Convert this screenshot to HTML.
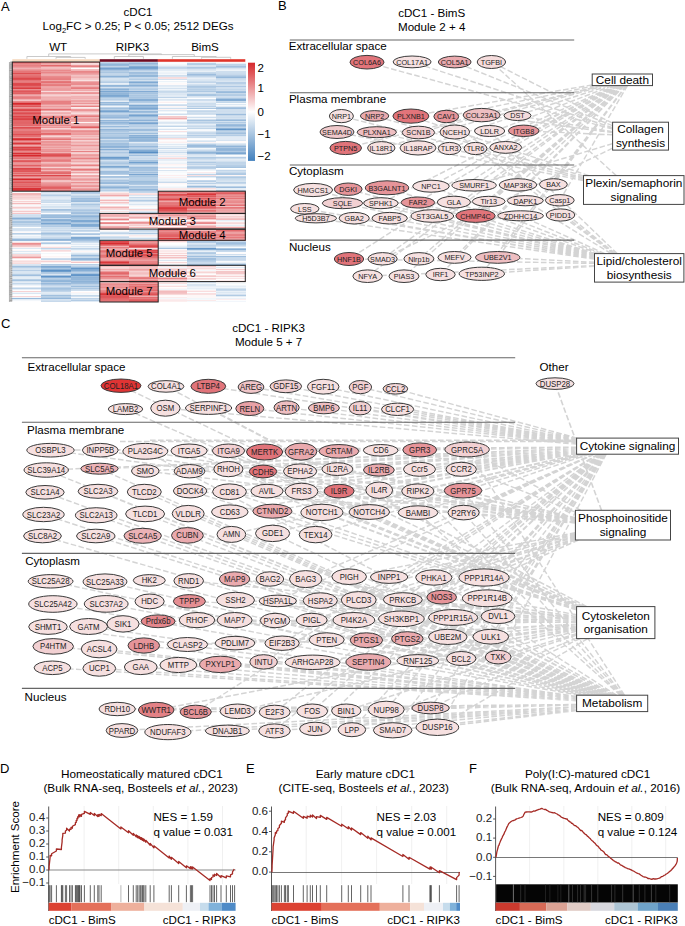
<!DOCTYPE html>
<html><head><meta charset="utf-8"><title>Figure</title>
<style>html,body{margin:0;padding:0;background:#fff;width:685px;height:926px;overflow:hidden;font-family:"Liberation Sans",sans-serif}svg{display:block}</style>
</head><body><svg width="685" height="926" viewBox="0 0 685 926" font-family='"Liberation Sans", sans-serif'><g shape-rendering="crispEdges"><rect x="12.30" y="62.00" width="29.42" height="0.8" fill="#df5558"/><rect x="41.42" y="62.00" width="29.43" height="0.8" fill="#e5787a"/><rect x="70.55" y="62.00" width="29.43" height="0.8" fill="#eb9799"/><rect x="99.67" y="62.00" width="29.43" height="0.8" fill="#c3d6ea"/><rect x="128.80" y="62.00" width="29.43" height="0.8" fill="#b8cfe6"/><rect x="157.93" y="62.00" width="29.43" height="0.8" fill="#f9fbfd"/><rect x="187.05" y="62.00" width="29.43" height="0.8" fill="#ecf2f8"/><rect x="216.18" y="62.00" width="29.43" height="0.8" fill="#fdf5f6"/><rect x="12.30" y="62.50" width="29.42" height="0.8" fill="#e26467"/><rect x="41.42" y="62.50" width="29.43" height="0.8" fill="#e88587"/><rect x="70.55" y="62.50" width="29.43" height="0.8" fill="#efabad"/><rect x="99.67" y="62.50" width="29.43" height="0.8" fill="#c0d4e9"/><rect x="128.80" y="62.50" width="29.43" height="0.8" fill="#adc8e2"/><rect x="157.93" y="62.50" width="29.43" height="0.8" fill="#f7fafc"/><rect x="187.05" y="62.50" width="29.43" height="0.8" fill="#dce7f3"/><rect x="216.18" y="62.50" width="29.43" height="0.8" fill="#fefbfb"/><rect x="12.30" y="63.00" width="29.42" height="0.8" fill="#e67c7f"/><rect x="41.42" y="63.00" width="29.43" height="0.8" fill="#ec999b"/><rect x="70.55" y="63.00" width="29.43" height="0.8" fill="#f8dbdc"/><rect x="99.67" y="63.00" width="29.43" height="0.8" fill="#a7c4e0"/><rect x="128.80" y="63.00" width="29.43" height="0.8" fill="#96b8da"/><rect x="157.93" y="63.00" width="29.43" height="0.8" fill="#fbfcfe"/><rect x="187.05" y="63.00" width="29.43" height="0.8" fill="#b9d0e6"/><rect x="216.18" y="63.00" width="29.43" height="0.8" fill="#e5eef6"/><rect x="12.30" y="63.50" width="29.42" height="0.8" fill="#e88587"/><rect x="41.42" y="63.50" width="29.43" height="0.8" fill="#efabac"/><rect x="70.55" y="63.50" width="29.43" height="0.8" fill="#fcf1f2"/><rect x="99.67" y="63.50" width="29.43" height="0.8" fill="#98badb"/><rect x="128.80" y="63.50" width="29.43" height="0.8" fill="#99badb"/><rect x="157.93" y="63.50" width="29.43" height="0.8" fill="#f9fbfd"/><rect x="187.05" y="63.50" width="29.43" height="0.8" fill="#a6c3e0"/><rect x="216.18" y="63.50" width="29.43" height="0.8" fill="#c6d9eb"/><rect x="12.30" y="64.00" width="29.42" height="0.8" fill="#e98c8e"/><rect x="41.42" y="64.00" width="29.43" height="0.8" fill="#efaaab"/><rect x="70.55" y="64.00" width="29.43" height="0.8" fill="#f7d6d7"/><rect x="99.67" y="64.00" width="29.43" height="0.8" fill="#92b6d9"/><rect x="128.80" y="64.00" width="29.43" height="0.8" fill="#a8c5e1"/><rect x="157.93" y="64.00" width="29.43" height="0.8" fill="#f3f7fb"/><rect x="187.05" y="64.00" width="29.43" height="0.8" fill="#b4cde5"/><rect x="216.18" y="64.00" width="29.43" height="0.8" fill="#bfd4e9"/><rect x="12.30" y="64.50" width="29.42" height="0.8" fill="#e78385"/><rect x="41.42" y="64.50" width="29.43" height="0.8" fill="#e98a8d"/><rect x="70.55" y="64.50" width="29.43" height="0.8" fill="#f3bfc0"/><rect x="99.67" y="64.50" width="29.43" height="0.8" fill="#97b9db"/><rect x="128.80" y="64.50" width="29.43" height="0.8" fill="#bcd2e7"/><rect x="157.93" y="64.50" width="29.43" height="0.8" fill="#e5edf6"/><rect x="187.05" y="64.50" width="29.43" height="0.8" fill="#cfdeee"/><rect x="216.18" y="64.50" width="29.43" height="0.8" fill="#c5d8eb"/><rect x="12.30" y="65.00" width="29.42" height="0.8" fill="#e78082"/><rect x="41.42" y="65.00" width="29.43" height="0.8" fill="#e2696c"/><rect x="70.55" y="65.00" width="29.43" height="0.8" fill="#eb989a"/><rect x="99.67" y="65.00" width="29.43" height="0.8" fill="#9abbdc"/><rect x="128.80" y="65.00" width="29.43" height="0.8" fill="#b4cde5"/><rect x="157.93" y="65.00" width="29.43" height="0.8" fill="#ecf2f8"/><rect x="187.05" y="65.00" width="29.43" height="0.8" fill="#d9e5f2"/><rect x="216.18" y="65.00" width="29.43" height="0.8" fill="#c1d5e9"/><rect x="12.30" y="65.50" width="29.42" height="0.8" fill="#e78183"/><rect x="41.42" y="65.50" width="29.43" height="0.8" fill="#e57678"/><rect x="70.55" y="65.50" width="29.43" height="0.8" fill="#e78285"/><rect x="99.67" y="65.50" width="29.43" height="0.8" fill="#a8c5e1"/><rect x="128.80" y="65.50" width="29.43" height="0.8" fill="#9ebedd"/><rect x="157.93" y="65.50" width="29.43" height="0.8" fill="#e3ecf5"/><rect x="187.05" y="65.50" width="29.43" height="0.8" fill="#d8e5f1"/><rect x="216.18" y="65.50" width="29.43" height="0.8" fill="#a7c4e0"/><rect x="12.30" y="66.00" width="29.42" height="0.8" fill="#e9898c"/><rect x="41.42" y="66.00" width="29.43" height="0.8" fill="#ea9395"/><rect x="70.55" y="66.00" width="29.43" height="0.8" fill="#e78082"/><rect x="99.67" y="66.00" width="29.43" height="0.8" fill="#c0d4e9"/><rect x="128.80" y="66.00" width="29.43" height="0.8" fill="#87afd5"/><rect x="157.93" y="66.00" width="29.43" height="0.8" fill="#d8e5f1"/><rect x="187.05" y="66.00" width="29.43" height="0.8" fill="#d5e3f1"/><rect x="216.18" y="66.00" width="29.43" height="0.8" fill="#a3c1df"/><rect x="12.30" y="66.50" width="29.42" height="0.8" fill="#eb9698"/><rect x="41.42" y="66.50" width="29.43" height="0.8" fill="#f0b3b4"/><rect x="70.55" y="66.50" width="29.43" height="0.8" fill="#ec9b9d"/><rect x="99.67" y="66.50" width="29.43" height="0.8" fill="#b7cfe6"/><rect x="128.80" y="66.50" width="29.43" height="0.8" fill="#7aa6d1"/><rect x="157.93" y="66.50" width="29.43" height="0.8" fill="#c8daec"/><rect x="187.05" y="66.50" width="29.43" height="0.8" fill="#bed4e8"/><rect x="216.18" y="66.50" width="29.43" height="0.8" fill="#b1cbe4"/><rect x="12.30" y="67.00" width="29.42" height="0.8" fill="#ec9c9e"/><rect x="41.42" y="67.00" width="29.43" height="0.8" fill="#f3bec0"/><rect x="70.55" y="67.00" width="29.43" height="0.8" fill="#f4c7c8"/><rect x="99.67" y="67.00" width="29.43" height="0.8" fill="#9bbcdc"/><rect x="128.80" y="67.00" width="29.43" height="0.8" fill="#72a1ce"/><rect x="157.93" y="67.00" width="29.43" height="0.8" fill="#c1d5e9"/><rect x="187.05" y="67.00" width="29.43" height="0.8" fill="#aec8e3"/><rect x="216.18" y="67.00" width="29.43" height="0.8" fill="#b4cde5"/><rect x="12.30" y="67.50" width="29.42" height="0.8" fill="#ec9c9e"/><rect x="41.42" y="67.50" width="29.43" height="0.8" fill="#f2babb"/><rect x="70.55" y="67.50" width="29.43" height="0.8" fill="#fbebeb"/><rect x="99.67" y="67.50" width="29.43" height="0.8" fill="#86add5"/><rect x="128.80" y="67.50" width="29.43" height="0.8" fill="#71a0cd"/><rect x="157.93" y="67.50" width="29.43" height="0.8" fill="#cadbec"/><rect x="187.05" y="67.50" width="29.43" height="0.8" fill="#acc7e2"/><rect x="216.18" y="67.50" width="29.43" height="0.8" fill="#c5d8eb"/><rect x="12.30" y="68.00" width="29.42" height="0.8" fill="#f0b2b4"/><rect x="41.42" y="68.00" width="29.43" height="0.8" fill="#f2bbbc"/><rect x="70.55" y="68.00" width="29.43" height="0.8" fill="#fefbfb"/><rect x="99.67" y="68.00" width="29.43" height="0.8" fill="#74a1ce"/><rect x="128.80" y="68.00" width="29.43" height="0.8" fill="#77a4d0"/><rect x="157.93" y="68.00" width="29.43" height="0.8" fill="#c4d7ea"/><rect x="187.05" y="68.00" width="29.43" height="0.8" fill="#bbd1e7"/><rect x="216.18" y="68.00" width="29.43" height="0.8" fill="#d7e4f1"/><rect x="12.30" y="68.50" width="29.42" height="0.8" fill="#f0afb0"/><rect x="41.42" y="68.50" width="29.43" height="0.8" fill="#f2babb"/><rect x="70.55" y="68.50" width="29.43" height="0.8" fill="#f8dddd"/><rect x="99.67" y="68.50" width="29.43" height="0.8" fill="#81aad3"/><rect x="128.80" y="68.50" width="29.43" height="0.8" fill="#87aed5"/><rect x="157.93" y="68.50" width="29.43" height="0.8" fill="#cfdfee"/><rect x="187.05" y="68.50" width="29.43" height="0.8" fill="#ccdded"/><rect x="216.18" y="68.50" width="29.43" height="0.8" fill="#dae6f2"/><rect x="12.30" y="69.00" width="29.42" height="0.8" fill="#ec9a9c"/><rect x="41.42" y="69.00" width="29.43" height="0.8" fill="#eea6a8"/><rect x="70.55" y="69.00" width="29.43" height="0.8" fill="#f3bebf"/><rect x="99.67" y="69.00" width="29.43" height="0.8" fill="#8ab0d6"/><rect x="128.80" y="69.00" width="29.43" height="0.8" fill="#9abbdc"/><rect x="157.93" y="69.00" width="29.43" height="0.8" fill="#dee9f3"/><rect x="187.05" y="69.00" width="29.43" height="0.8" fill="#d6e3f1"/><rect x="216.18" y="69.00" width="29.43" height="0.8" fill="#e5eef6"/><rect x="12.30" y="69.50" width="29.42" height="0.8" fill="#e98b8d"/><rect x="41.42" y="69.50" width="29.43" height="0.8" fill="#ec999b"/><rect x="70.55" y="69.50" width="29.43" height="0.8" fill="#f2b9ba"/><rect x="99.67" y="69.50" width="29.43" height="0.8" fill="#91b5d8"/><rect x="128.80" y="69.50" width="29.43" height="0.8" fill="#9ebedd"/><rect x="157.93" y="69.50" width="29.43" height="0.8" fill="#e5eef6"/><rect x="187.05" y="69.50" width="29.43" height="0.8" fill="#cadbec"/><rect x="216.18" y="69.50" width="29.43" height="0.8" fill="#edf3f9"/><rect x="12.30" y="70.00" width="29.42" height="0.8" fill="#e8898b"/><rect x="41.42" y="70.00" width="29.43" height="0.8" fill="#e98a8c"/><rect x="70.55" y="70.00" width="29.43" height="0.8" fill="#f1b4b5"/><rect x="99.67" y="70.00" width="29.43" height="0.8" fill="#abc6e2"/><rect x="128.80" y="70.00" width="29.43" height="0.8" fill="#bad0e7"/><rect x="157.93" y="70.00" width="29.43" height="0.8" fill="#e2ecf5"/><rect x="187.05" y="70.00" width="29.43" height="0.8" fill="#dee9f3"/><rect x="216.18" y="70.00" width="29.43" height="0.8" fill="#eef4f9"/><rect x="12.30" y="70.50" width="29.42" height="0.8" fill="#e5777a"/><rect x="41.42" y="70.50" width="29.43" height="0.8" fill="#ea9092"/><rect x="70.55" y="70.50" width="29.43" height="0.8" fill="#ec9c9e"/><rect x="99.67" y="70.50" width="29.43" height="0.8" fill="#b5cde5"/><rect x="128.80" y="70.50" width="29.43" height="0.8" fill="#d1e0ef"/><rect x="157.93" y="70.50" width="29.43" height="0.8" fill="#eef4f9"/><rect x="187.05" y="70.50" width="29.43" height="0.8" fill="#e8eff7"/><rect x="216.18" y="70.50" width="29.43" height="0.8" fill="#d9e6f2"/><rect x="12.30" y="71.00" width="29.42" height="0.8" fill="#e57678"/><rect x="41.42" y="71.00" width="29.43" height="0.8" fill="#ec9a9c"/><rect x="70.55" y="71.00" width="29.43" height="0.8" fill="#e88688"/><rect x="99.67" y="71.00" width="29.43" height="0.8" fill="#b6cee5"/><rect x="128.80" y="71.00" width="29.43" height="0.8" fill="#c9dbec"/><rect x="157.93" y="71.00" width="29.43" height="0.8" fill="#f5f8fb"/><rect x="187.05" y="71.00" width="29.43" height="0.8" fill="#e8f0f7"/><rect x="216.18" y="71.00" width="29.43" height="0.8" fill="#cedeee"/><rect x="12.30" y="71.50" width="29.42" height="0.8" fill="#e67e80"/><rect x="41.42" y="71.50" width="29.43" height="0.8" fill="#eb9496"/><rect x="70.55" y="71.50" width="29.43" height="0.8" fill="#e98d90"/><rect x="99.67" y="71.50" width="29.43" height="0.8" fill="#a9c5e1"/><rect x="128.80" y="71.50" width="29.43" height="0.8" fill="#a5c3e0"/><rect x="157.93" y="71.50" width="29.43" height="0.8" fill="#ecf3f9"/><rect x="187.05" y="71.50" width="29.43" height="0.8" fill="#dee9f3"/><rect x="216.18" y="71.50" width="29.43" height="0.8" fill="#c6d9eb"/><rect x="12.30" y="72.00" width="29.42" height="0.8" fill="#e57578"/><rect x="41.42" y="72.00" width="29.43" height="0.8" fill="#e88688"/><rect x="70.55" y="72.00" width="29.43" height="0.8" fill="#e98c8e"/><rect x="99.67" y="72.00" width="29.43" height="0.8" fill="#aac6e1"/><rect x="128.80" y="72.00" width="29.43" height="0.8" fill="#9fbedd"/><rect x="157.93" y="72.00" width="29.43" height="0.8" fill="#eef4f9"/><rect x="187.05" y="72.00" width="29.43" height="0.8" fill="#c6d9eb"/><rect x="216.18" y="72.00" width="29.43" height="0.8" fill="#cddeee"/><rect x="12.30" y="72.50" width="29.42" height="0.8" fill="#e15f62"/><rect x="41.42" y="72.50" width="29.43" height="0.8" fill="#e98b8d"/><rect x="70.55" y="72.50" width="29.43" height="0.8" fill="#ec9c9e"/><rect x="99.67" y="72.50" width="29.43" height="0.8" fill="#bad0e7"/><rect x="128.80" y="72.50" width="29.43" height="0.8" fill="#9dbddd"/><rect x="157.93" y="72.50" width="29.43" height="0.8" fill="#eef4f9"/><rect x="187.05" y="72.50" width="29.43" height="0.8" fill="#bdd3e8"/><rect x="216.18" y="72.50" width="29.43" height="0.8" fill="#c3d6ea"/><rect x="12.30" y="73.00" width="29.42" height="0.8" fill="#dd4f52"/><rect x="41.42" y="73.00" width="29.43" height="0.8" fill="#ec9b9d"/><rect x="70.55" y="73.00" width="29.43" height="0.8" fill="#ec9a9c"/><rect x="99.67" y="73.00" width="29.43" height="0.8" fill="#c2d6ea"/><rect x="128.80" y="73.00" width="29.43" height="0.8" fill="#a3c1df"/><rect x="157.93" y="73.00" width="29.43" height="0.8" fill="#ebf1f8"/><rect x="187.05" y="73.00" width="29.43" height="0.8" fill="#bdd3e8"/><rect x="216.18" y="73.00" width="29.43" height="0.8" fill="#cbdced"/><rect x="12.30" y="73.50" width="29.42" height="0.8" fill="#e16063"/><rect x="41.42" y="73.50" width="29.43" height="0.8" fill="#eda3a4"/><rect x="70.55" y="73.50" width="29.43" height="0.8" fill="#eb989a"/><rect x="99.67" y="73.50" width="29.43" height="0.8" fill="#c7daec"/><rect x="128.80" y="73.50" width="29.43" height="0.8" fill="#b0cae3"/><rect x="157.93" y="73.50" width="29.43" height="0.8" fill="#eff4fa"/><rect x="187.05" y="73.50" width="29.43" height="0.8" fill="#abc7e2"/><rect x="216.18" y="73.50" width="29.43" height="0.8" fill="#d5e3f0"/><rect x="12.30" y="74.00" width="29.42" height="0.8" fill="#e57779"/><rect x="41.42" y="74.00" width="29.43" height="0.8" fill="#efacad"/><rect x="70.55" y="74.00" width="29.43" height="0.8" fill="#eea7a9"/><rect x="99.67" y="74.00" width="29.43" height="0.8" fill="#c3d7ea"/><rect x="128.80" y="74.00" width="29.43" height="0.8" fill="#b3cce5"/><rect x="157.93" y="74.00" width="29.43" height="0.8" fill="#f5f8fb"/><rect x="187.05" y="74.00" width="29.43" height="0.8" fill="#9dbddd"/><rect x="216.18" y="74.00" width="29.43" height="0.8" fill="#c7d9eb"/><rect x="12.30" y="74.50" width="29.42" height="0.8" fill="#e88688"/><rect x="41.42" y="74.50" width="29.43" height="0.8" fill="#eea8a9"/><rect x="70.55" y="74.50" width="29.43" height="0.8" fill="#f1b4b6"/><rect x="99.67" y="74.50" width="29.43" height="0.8" fill="#c2d6ea"/><rect x="128.80" y="74.50" width="29.43" height="0.8" fill="#afc9e3"/><rect x="157.93" y="74.50" width="29.43" height="0.8" fill="#eef3f9"/><rect x="187.05" y="74.50" width="29.43" height="0.8" fill="#9dbddd"/><rect x="216.18" y="74.50" width="29.43" height="0.8" fill="#aec8e3"/><rect x="12.30" y="75.00" width="29.42" height="0.8" fill="#e47375"/><rect x="41.42" y="75.00" width="29.43" height="0.8" fill="#efa9aa"/><rect x="70.55" y="75.00" width="29.43" height="0.8" fill="#f3c2c3"/><rect x="99.67" y="75.00" width="29.43" height="0.8" fill="#b6cee5"/><rect x="128.80" y="75.00" width="29.43" height="0.8" fill="#93b7d9"/><rect x="157.93" y="75.00" width="29.43" height="0.8" fill="#cfdfee"/><rect x="187.05" y="75.00" width="29.43" height="0.8" fill="#afc9e3"/><rect x="216.18" y="75.00" width="29.43" height="0.8" fill="#b7cee6"/><rect x="12.30" y="75.50" width="29.42" height="0.8" fill="#e36c6e"/><rect x="41.42" y="75.50" width="29.43" height="0.8" fill="#ec999b"/><rect x="70.55" y="75.50" width="29.43" height="0.8" fill="#f4c6c7"/><rect x="99.67" y="75.50" width="29.43" height="0.8" fill="#9abbdc"/><rect x="128.80" y="75.50" width="29.43" height="0.8" fill="#91b5d9"/><rect x="157.93" y="75.50" width="29.43" height="0.8" fill="#cadbec"/><rect x="187.05" y="75.50" width="29.43" height="0.8" fill="#b4cde5"/><rect x="216.18" y="75.50" width="29.43" height="0.8" fill="#bed3e8"/><rect x="12.30" y="76.00" width="29.42" height="0.8" fill="#e36b6e"/><rect x="41.42" y="76.00" width="29.43" height="0.8" fill="#e98c8e"/><rect x="70.55" y="76.00" width="29.43" height="0.8" fill="#f2b9ba"/><rect x="99.67" y="76.00" width="29.43" height="0.8" fill="#8cb2d7"/><rect x="128.80" y="76.00" width="29.43" height="0.8" fill="#95b8da"/><rect x="157.93" y="76.00" width="29.43" height="0.8" fill="#d7e4f1"/><rect x="187.05" y="76.00" width="29.43" height="0.8" fill="#c3d7ea"/><rect x="216.18" y="76.00" width="29.43" height="0.8" fill="#a7c4e0"/><rect x="12.30" y="76.50" width="29.42" height="0.8" fill="#e2696c"/><rect x="41.42" y="76.50" width="29.43" height="0.8" fill="#e78486"/><rect x="70.55" y="76.50" width="29.43" height="0.8" fill="#eda0a2"/><rect x="99.67" y="76.50" width="29.43" height="0.8" fill="#93b7d9"/><rect x="128.80" y="76.50" width="29.43" height="0.8" fill="#b2cce4"/><rect x="157.93" y="76.50" width="29.43" height="0.8" fill="#fafcfd"/><rect x="187.05" y="76.50" width="29.43" height="0.8" fill="#cedeee"/><rect x="216.18" y="76.50" width="29.43" height="0.8" fill="#91b5d9"/><rect x="12.30" y="77.00" width="29.42" height="0.8" fill="#e16164"/><rect x="41.42" y="77.00" width="29.43" height="0.8" fill="#e88587"/><rect x="70.55" y="77.00" width="29.43" height="0.8" fill="#f0b2b3"/><rect x="99.67" y="77.00" width="29.43" height="0.8" fill="#b1cbe4"/><rect x="128.80" y="77.00" width="29.43" height="0.8" fill="#c9daec"/><rect x="157.93" y="77.00" width="29.43" height="0.8" fill="#f8dcdd"/><rect x="187.05" y="77.00" width="29.43" height="0.8" fill="#d9e5f2"/><rect x="216.18" y="77.00" width="29.43" height="0.8" fill="#96b8da"/><rect x="12.30" y="77.50" width="29.42" height="0.8" fill="#df5559"/><rect x="41.42" y="77.50" width="29.43" height="0.8" fill="#ea9294"/><rect x="70.55" y="77.50" width="29.43" height="0.8" fill="#f6d1d1"/><rect x="99.67" y="77.50" width="29.43" height="0.8" fill="#c6d9eb"/><rect x="128.80" y="77.50" width="29.43" height="0.8" fill="#d7e4f1"/><rect x="157.93" y="77.50" width="29.43" height="0.8" fill="#f6d0d1"/><rect x="187.05" y="77.50" width="29.43" height="0.8" fill="#dde8f3"/><rect x="216.18" y="77.50" width="29.43" height="0.8" fill="#b3cce4"/><rect x="12.30" y="78.00" width="29.42" height="0.8" fill="#dc484b"/><rect x="41.42" y="78.00" width="29.43" height="0.8" fill="#e78082"/><rect x="70.55" y="78.00" width="29.43" height="0.8" fill="#f4c7c8"/><rect x="99.67" y="78.00" width="29.43" height="0.8" fill="#d7e4f1"/><rect x="128.80" y="78.00" width="29.43" height="0.8" fill="#c2d6ea"/><rect x="157.93" y="78.00" width="29.43" height="0.8" fill="#f9e1e2"/><rect x="187.05" y="78.00" width="29.43" height="0.8" fill="#e9f0f7"/><rect x="216.18" y="78.00" width="29.43" height="0.8" fill="#c4d8eb"/><rect x="12.30" y="78.50" width="29.42" height="0.8" fill="#dd4d51"/><rect x="41.42" y="78.50" width="29.43" height="0.8" fill="#e47274"/><rect x="70.55" y="78.50" width="29.43" height="0.8" fill="#f3c0c2"/><rect x="99.67" y="78.50" width="29.43" height="0.8" fill="#dfeaf4"/><rect x="128.80" y="78.50" width="29.43" height="0.8" fill="#aec9e3"/><rect x="157.93" y="78.50" width="29.43" height="0.8" fill="#f3f7fb"/><rect x="187.05" y="78.50" width="29.43" height="0.8" fill="#e7eff7"/><rect x="216.18" y="78.50" width="29.43" height="0.8" fill="#c5d8eb"/><rect x="12.30" y="79.00" width="29.42" height="0.8" fill="#dd4f52"/><rect x="41.42" y="79.00" width="29.43" height="0.8" fill="#e67e80"/><rect x="70.55" y="79.00" width="29.43" height="0.8" fill="#f5cccd"/><rect x="99.67" y="79.00" width="29.43" height="0.8" fill="#d5e3f0"/><rect x="128.80" y="79.00" width="29.43" height="0.8" fill="#b3cce4"/><rect x="157.93" y="79.00" width="29.43" height="0.8" fill="#d3e1f0"/><rect x="187.05" y="79.00" width="29.43" height="0.8" fill="#dde8f3"/><rect x="216.18" y="79.00" width="29.43" height="0.8" fill="#cddded"/><rect x="12.30" y="79.50" width="29.42" height="0.8" fill="#e16366"/><rect x="41.42" y="79.50" width="29.43" height="0.8" fill="#eda3a5"/><rect x="70.55" y="79.50" width="29.43" height="0.8" fill="#f8dbdc"/><rect x="99.67" y="79.50" width="29.43" height="0.8" fill="#ccdded"/><rect x="128.80" y="79.50" width="29.43" height="0.8" fill="#c9daec"/><rect x="157.93" y="79.50" width="29.43" height="0.8" fill="#e9f0f7"/><rect x="187.05" y="79.50" width="29.43" height="0.8" fill="#d8e5f1"/><rect x="216.18" y="79.50" width="29.43" height="0.8" fill="#dae6f2"/><rect x="12.30" y="80.00" width="29.42" height="0.8" fill="#e47477"/><rect x="41.42" y="80.00" width="29.43" height="0.8" fill="#eea8a9"/><rect x="70.55" y="80.00" width="29.43" height="0.8" fill="#f9e2e2"/><rect x="99.67" y="80.00" width="29.43" height="0.8" fill="#cfdfee"/><rect x="128.80" y="80.00" width="29.43" height="0.8" fill="#d2e1ef"/><rect x="157.93" y="80.00" width="29.43" height="0.8" fill="#fffefe"/><rect x="187.05" y="80.00" width="29.43" height="0.8" fill="#d9e6f2"/><rect x="216.18" y="80.00" width="29.43" height="0.8" fill="#d3e2f0"/><rect x="12.30" y="80.50" width="29.42" height="0.8" fill="#e67b7e"/><rect x="41.42" y="80.50" width="29.43" height="0.8" fill="#eb9698"/><rect x="70.55" y="80.50" width="29.43" height="0.8" fill="#f5cccd"/><rect x="99.67" y="80.50" width="29.43" height="0.8" fill="#c4d8eb"/><rect x="128.80" y="80.50" width="29.43" height="0.8" fill="#c4d8eb"/><rect x="157.93" y="80.50" width="29.43" height="0.8" fill="#fcfdfe"/><rect x="187.05" y="80.50" width="29.43" height="0.8" fill="#d1e0ef"/><rect x="216.18" y="80.50" width="29.43" height="0.8" fill="#cedeee"/><rect x="12.30" y="81.00" width="29.42" height="0.8" fill="#e77f81"/><rect x="41.42" y="81.00" width="29.43" height="0.8" fill="#e5797b"/><rect x="70.55" y="81.00" width="29.43" height="0.8" fill="#efacad"/><rect x="99.67" y="81.00" width="29.43" height="0.8" fill="#bfd4e8"/><rect x="128.80" y="81.00" width="29.43" height="0.8" fill="#a3c1df"/><rect x="157.93" y="81.00" width="29.43" height="0.8" fill="#ecf3f9"/><rect x="187.05" y="81.00" width="29.43" height="0.8" fill="#cbdced"/><rect x="216.18" y="81.00" width="29.43" height="0.8" fill="#dae6f2"/><rect x="12.30" y="81.50" width="29.42" height="0.8" fill="#e5797b"/><rect x="41.42" y="81.50" width="29.43" height="0.8" fill="#e46f72"/><rect x="70.55" y="81.50" width="29.43" height="0.8" fill="#eb9597"/><rect x="99.67" y="81.50" width="29.43" height="0.8" fill="#bdd3e8"/><rect x="128.80" y="81.50" width="29.43" height="0.8" fill="#8ab1d6"/><rect x="157.93" y="81.50" width="29.43" height="0.8" fill="#f5f8fc"/><rect x="187.05" y="81.50" width="29.43" height="0.8" fill="#c5d8eb"/><rect x="216.18" y="81.50" width="29.43" height="0.8" fill="#dae6f2"/><rect x="12.30" y="82.00" width="29.42" height="0.8" fill="#e5787a"/><rect x="41.42" y="82.00" width="29.43" height="0.8" fill="#e47174"/><rect x="70.55" y="82.00" width="29.43" height="0.8" fill="#ea9193"/><rect x="99.67" y="82.00" width="29.43" height="0.8" fill="#b5cde5"/><rect x="128.80" y="82.00" width="29.43" height="0.8" fill="#7fa9d2"/><rect x="157.93" y="82.00" width="29.43" height="0.8" fill="#fafcfd"/><rect x="187.05" y="82.00" width="29.43" height="0.8" fill="#c2d6ea"/><rect x="216.18" y="82.00" width="29.43" height="0.8" fill="#b7cee6"/><rect x="12.30" y="82.50" width="29.42" height="0.8" fill="#e16366"/><rect x="41.42" y="82.50" width="29.43" height="0.8" fill="#e67b7d"/><rect x="70.55" y="82.50" width="29.43" height="0.8" fill="#ec9b9d"/><rect x="99.67" y="82.50" width="29.43" height="0.8" fill="#c2d6ea"/><rect x="128.80" y="82.50" width="29.43" height="0.8" fill="#8bb1d7"/><rect x="157.93" y="82.50" width="29.43" height="0.8" fill="#fefeff"/><rect x="187.05" y="82.50" width="29.43" height="0.8" fill="#c7d9eb"/><rect x="216.18" y="82.50" width="29.43" height="0.8" fill="#a6c3e0"/><rect x="12.30" y="83.00" width="29.42" height="0.8" fill="#dd4b4e"/><rect x="41.42" y="83.00" width="29.43" height="0.8" fill="#eb9698"/><rect x="70.55" y="83.00" width="29.43" height="0.8" fill="#e98d8f"/><rect x="99.67" y="83.00" width="29.43" height="0.8" fill="#e8eff7"/><rect x="128.80" y="83.00" width="29.43" height="0.8" fill="#b0cae4"/><rect x="157.93" y="83.00" width="29.43" height="0.8" fill="#fef9f9"/><rect x="187.05" y="83.00" width="29.43" height="0.8" fill="#e8eff7"/><rect x="216.18" y="83.00" width="29.43" height="0.8" fill="#b8cfe6"/><rect x="12.30" y="83.50" width="29.42" height="0.8" fill="#dc474a"/><rect x="41.42" y="83.50" width="29.43" height="0.8" fill="#eb9799"/><rect x="70.55" y="83.50" width="29.43" height="0.8" fill="#e88688"/><rect x="99.67" y="83.50" width="29.43" height="0.8" fill="#fafcfd"/><rect x="128.80" y="83.50" width="29.43" height="0.8" fill="#c5d8eb"/><rect x="157.93" y="83.50" width="29.43" height="0.8" fill="#fef8f8"/><rect x="187.05" y="83.50" width="29.43" height="0.8" fill="#e4edf6"/><rect x="216.18" y="83.50" width="29.43" height="0.8" fill="#c9dbec"/><rect x="12.30" y="84.00" width="29.42" height="0.8" fill="#dc484c"/><rect x="41.42" y="84.00" width="29.43" height="0.8" fill="#e78082"/><rect x="70.55" y="84.00" width="29.43" height="0.8" fill="#e98c8e"/><rect x="99.67" y="84.00" width="29.43" height="0.8" fill="#dee9f3"/><rect x="128.80" y="84.00" width="29.43" height="0.8" fill="#adc8e2"/><rect x="157.93" y="84.00" width="29.43" height="0.8" fill="#fefafa"/><rect x="187.05" y="84.00" width="29.43" height="0.8" fill="#d3e2f0"/><rect x="216.18" y="84.00" width="29.43" height="0.8" fill="#ccdded"/><rect x="12.30" y="84.50" width="29.42" height="0.8" fill="#dc474a"/><rect x="41.42" y="84.50" width="29.43" height="0.8" fill="#e26568"/><rect x="70.55" y="84.50" width="29.43" height="0.8" fill="#ec9b9d"/><rect x="99.67" y="84.50" width="29.43" height="0.8" fill="#b8cfe6"/><rect x="128.80" y="84.50" width="29.43" height="0.8" fill="#90b5d8"/><rect x="157.93" y="84.50" width="29.43" height="0.8" fill="#fbfcfe"/><rect x="187.05" y="84.50" width="29.43" height="0.8" fill="#c1d5e9"/><rect x="216.18" y="84.50" width="29.43" height="0.8" fill="#ccdded"/><rect x="12.30" y="85.00" width="29.42" height="0.8" fill="#dd4f52"/><rect x="41.42" y="85.00" width="29.43" height="0.8" fill="#e67b7d"/><rect x="70.55" y="85.00" width="29.43" height="0.8" fill="#f2babb"/><rect x="99.67" y="85.00" width="29.43" height="0.8" fill="#92b6d9"/><rect x="128.80" y="85.00" width="29.43" height="0.8" fill="#8ab0d6"/><rect x="157.93" y="85.00" width="29.43" height="0.8" fill="#dfe9f4"/><rect x="187.05" y="85.00" width="29.43" height="0.8" fill="#c5d8eb"/><rect x="216.18" y="85.00" width="29.43" height="0.8" fill="#d1e0ef"/><rect x="12.30" y="85.50" width="29.42" height="0.8" fill="#e16063"/><rect x="41.42" y="85.50" width="29.43" height="0.8" fill="#ec9d9f"/><rect x="70.55" y="85.50" width="29.43" height="0.8" fill="#f4c6c7"/><rect x="99.67" y="85.50" width="29.43" height="0.8" fill="#90b4d8"/><rect x="128.80" y="85.50" width="29.43" height="0.8" fill="#94b7da"/><rect x="157.93" y="85.50" width="29.43" height="0.8" fill="#d2e1ef"/><rect x="187.05" y="85.50" width="29.43" height="0.8" fill="#bdd3e8"/><rect x="216.18" y="85.50" width="29.43" height="0.8" fill="#b4cde5"/><rect x="12.30" y="86.00" width="29.42" height="0.8" fill="#e36a6d"/><rect x="41.42" y="86.00" width="29.43" height="0.8" fill="#eea4a5"/><rect x="70.55" y="86.00" width="29.43" height="0.8" fill="#f0aeaf"/><rect x="99.67" y="86.00" width="29.43" height="0.8" fill="#9dbddd"/><rect x="128.80" y="86.00" width="29.43" height="0.8" fill="#a6c3e0"/><rect x="157.93" y="86.00" width="29.43" height="0.8" fill="#e2ecf5"/><rect x="187.05" y="86.00" width="29.43" height="0.8" fill="#adc8e2"/><rect x="216.18" y="86.00" width="29.43" height="0.8" fill="#aec8e3"/><rect x="12.30" y="86.50" width="29.42" height="0.8" fill="#e47376"/><rect x="41.42" y="86.50" width="29.43" height="0.8" fill="#efadaf"/><rect x="70.55" y="86.50" width="29.43" height="0.8" fill="#eb9799"/><rect x="99.67" y="86.50" width="29.43" height="0.8" fill="#bad1e7"/><rect x="128.80" y="86.50" width="29.43" height="0.8" fill="#b8cfe6"/><rect x="157.93" y="86.50" width="29.43" height="0.8" fill="#f6f9fc"/><rect x="187.05" y="86.50" width="29.43" height="0.8" fill="#a4c2df"/><rect x="216.18" y="86.50" width="29.43" height="0.8" fill="#b7cfe6"/><rect x="12.30" y="87.00" width="29.42" height="0.8" fill="#df5659"/><rect x="41.42" y="87.00" width="29.43" height="0.8" fill="#eea7a9"/><rect x="70.55" y="87.00" width="29.43" height="0.8" fill="#e88689"/><rect x="99.67" y="87.00" width="29.43" height="0.8" fill="#d4e2f0"/><rect x="128.80" y="87.00" width="29.43" height="0.8" fill="#cadbed"/><rect x="157.93" y="87.00" width="29.43" height="0.8" fill="#edf3f9"/><rect x="187.05" y="87.00" width="29.43" height="0.8" fill="#b3cce5"/><rect x="216.18" y="87.00" width="29.43" height="0.8" fill="#d0dfef"/><rect x="12.30" y="87.50" width="29.42" height="0.8" fill="#db4548"/><rect x="41.42" y="87.50" width="29.43" height="0.8" fill="#f1b6b8"/><rect x="70.55" y="87.50" width="29.43" height="0.8" fill="#e67c7e"/><rect x="99.67" y="87.50" width="29.43" height="0.8" fill="#c6d8eb"/><rect x="128.80" y="87.50" width="29.43" height="0.8" fill="#c8daec"/><rect x="157.93" y="87.50" width="29.43" height="0.8" fill="#d9e5f2"/><rect x="187.05" y="87.50" width="29.43" height="0.8" fill="#bdd3e8"/><rect x="216.18" y="87.50" width="29.43" height="0.8" fill="#c8daec"/><rect x="12.30" y="88.00" width="29.42" height="0.8" fill="#da3e41"/><rect x="41.42" y="88.00" width="29.43" height="0.8" fill="#ed9ea0"/><rect x="70.55" y="88.00" width="29.43" height="0.8" fill="#e67c7e"/><rect x="99.67" y="88.00" width="29.43" height="0.8" fill="#a9c5e1"/><rect x="128.80" y="88.00" width="29.43" height="0.8" fill="#b9d0e7"/><rect x="157.93" y="88.00" width="29.43" height="0.8" fill="#d4e2f0"/><rect x="187.05" y="88.00" width="29.43" height="0.8" fill="#c3d7ea"/><rect x="216.18" y="88.00" width="29.43" height="0.8" fill="#d0e0ef"/><rect x="12.30" y="88.50" width="29.42" height="0.8" fill="#e57679"/><rect x="41.42" y="88.50" width="29.43" height="0.8" fill="#eb9799"/><rect x="70.55" y="88.50" width="29.43" height="0.8" fill="#eda0a1"/><rect x="99.67" y="88.50" width="29.43" height="0.8" fill="#89b0d6"/><rect x="128.80" y="88.50" width="29.43" height="0.8" fill="#a5c3e0"/><rect x="157.93" y="88.50" width="29.43" height="0.8" fill="#dee9f3"/><rect x="187.05" y="88.50" width="29.43" height="0.8" fill="#b8cfe6"/><rect x="216.18" y="88.50" width="29.43" height="0.8" fill="#c0d5e9"/><rect x="12.30" y="89.00" width="29.42" height="0.8" fill="#e98e90"/><rect x="41.42" y="89.00" width="29.43" height="0.8" fill="#ec9b9d"/><rect x="70.55" y="89.00" width="29.43" height="0.8" fill="#f0b3b4"/><rect x="99.67" y="89.00" width="29.43" height="0.8" fill="#8cb2d7"/><rect x="128.80" y="89.00" width="29.43" height="0.8" fill="#b1cbe4"/><rect x="157.93" y="89.00" width="29.43" height="0.8" fill="#eff4fa"/><rect x="187.05" y="89.00" width="29.43" height="0.8" fill="#b7cfe6"/><rect x="216.18" y="89.00" width="29.43" height="0.8" fill="#c3d7ea"/><rect x="12.30" y="89.50" width="29.42" height="0.8" fill="#e88587"/><rect x="41.42" y="89.50" width="29.43" height="0.8" fill="#ec9d9f"/><rect x="70.55" y="89.50" width="29.43" height="0.8" fill="#eea4a6"/><rect x="99.67" y="89.50" width="29.43" height="0.8" fill="#a3c1df"/><rect x="128.80" y="89.50" width="29.43" height="0.8" fill="#cadbed"/><rect x="157.93" y="89.50" width="29.43" height="0.8" fill="#eaf1f8"/><rect x="187.05" y="89.50" width="29.43" height="0.8" fill="#c8daec"/><rect x="216.18" y="89.50" width="29.43" height="0.8" fill="#cbdced"/><rect x="12.30" y="90.00" width="29.42" height="0.8" fill="#e36d70"/><rect x="41.42" y="90.00" width="29.43" height="0.8" fill="#eda0a2"/><rect x="70.55" y="90.00" width="29.43" height="0.8" fill="#efaaac"/><rect x="99.67" y="90.00" width="29.43" height="0.8" fill="#a9c5e1"/><rect x="128.80" y="90.00" width="29.43" height="0.8" fill="#c2d6ea"/><rect x="157.93" y="90.00" width="29.43" height="0.8" fill="#dce8f3"/><rect x="187.05" y="90.00" width="29.43" height="0.8" fill="#c0d5e9"/><rect x="216.18" y="90.00" width="29.43" height="0.8" fill="#ccdced"/><rect x="12.30" y="90.50" width="29.42" height="0.8" fill="#df575a"/><rect x="41.42" y="90.50" width="29.43" height="0.8" fill="#f3c0c1"/><rect x="70.55" y="90.50" width="29.43" height="0.8" fill="#f3c0c1"/><rect x="99.67" y="90.50" width="29.43" height="0.8" fill="#8cb2d7"/><rect x="128.80" y="90.50" width="29.43" height="0.8" fill="#a4c2df"/><rect x="157.93" y="90.50" width="29.43" height="0.8" fill="#d0dfee"/><rect x="187.05" y="90.50" width="29.43" height="0.8" fill="#acc7e2"/><rect x="216.18" y="90.50" width="29.43" height="0.8" fill="#bbd1e7"/><rect x="12.30" y="91.00" width="29.42" height="0.8" fill="#df575a"/><rect x="41.42" y="91.00" width="29.43" height="0.8" fill="#f8dbdc"/><rect x="70.55" y="91.00" width="29.43" height="0.8" fill="#f7d6d7"/><rect x="99.67" y="91.00" width="29.43" height="0.8" fill="#7ca7d1"/><rect x="128.80" y="91.00" width="29.43" height="0.8" fill="#83abd4"/><rect x="157.93" y="91.00" width="29.43" height="0.8" fill="#c6d9eb"/><rect x="187.05" y="91.00" width="29.43" height="0.8" fill="#adc8e2"/><rect x="216.18" y="91.00" width="29.43" height="0.8" fill="#a3c1df"/><rect x="12.30" y="91.50" width="29.42" height="0.8" fill="#e05b5e"/><rect x="41.42" y="91.50" width="29.43" height="0.8" fill="#f4c5c6"/><rect x="70.55" y="91.50" width="29.43" height="0.8" fill="#f2bbbd"/><rect x="99.67" y="91.50" width="29.43" height="0.8" fill="#89b0d6"/><rect x="128.80" y="91.50" width="29.43" height="0.8" fill="#8eb3d7"/><rect x="157.93" y="91.50" width="29.43" height="0.8" fill="#c0d5e9"/><rect x="187.05" y="91.50" width="29.43" height="0.8" fill="#cfdfee"/><rect x="216.18" y="91.50" width="29.43" height="0.8" fill="#9cbcdc"/><rect x="12.30" y="92.00" width="29.42" height="0.8" fill="#e2676a"/><rect x="41.42" y="92.00" width="29.43" height="0.8" fill="#eda0a2"/><rect x="70.55" y="92.00" width="29.43" height="0.8" fill="#ec9d9e"/><rect x="99.67" y="92.00" width="29.43" height="0.8" fill="#9dbddd"/><rect x="128.80" y="92.00" width="29.43" height="0.8" fill="#aac6e1"/><rect x="157.93" y="92.00" width="29.43" height="0.8" fill="#cbdced"/><rect x="187.05" y="92.00" width="29.43" height="0.8" fill="#d4e2f0"/><rect x="216.18" y="92.00" width="29.43" height="0.8" fill="#98badb"/><rect x="12.30" y="92.50" width="29.42" height="0.8" fill="#e16265"/><rect x="41.42" y="92.50" width="29.43" height="0.8" fill="#e88486"/><rect x="70.55" y="92.50" width="29.43" height="0.8" fill="#e67e80"/><rect x="99.67" y="92.50" width="29.43" height="0.8" fill="#a1c0de"/><rect x="128.80" y="92.50" width="29.43" height="0.8" fill="#adc8e2"/><rect x="157.93" y="92.50" width="29.43" height="0.8" fill="#e2ebf5"/><rect x="187.05" y="92.50" width="29.43" height="0.8" fill="#e9f0f7"/><rect x="216.18" y="92.50" width="29.43" height="0.8" fill="#abc6e2"/><rect x="12.30" y="93.00" width="29.42" height="0.8" fill="#e16163"/><rect x="41.42" y="93.00" width="29.43" height="0.8" fill="#ed9fa1"/><rect x="70.55" y="93.00" width="29.43" height="0.8" fill="#ea9294"/><rect x="99.67" y="93.00" width="29.43" height="0.8" fill="#91b5d8"/><rect x="128.80" y="93.00" width="29.43" height="0.8" fill="#a5c3e0"/><rect x="157.93" y="93.00" width="29.43" height="0.8" fill="#dde8f3"/><rect x="187.05" y="93.00" width="29.43" height="0.8" fill="#cfdfee"/><rect x="216.18" y="93.00" width="29.43" height="0.8" fill="#c7d9eb"/><rect x="12.30" y="93.50" width="29.42" height="0.8" fill="#e46f72"/><rect x="41.42" y="93.50" width="29.43" height="0.8" fill="#f0b2b3"/><rect x="70.55" y="93.50" width="29.43" height="0.8" fill="#f2b9ba"/><rect x="99.67" y="93.50" width="29.43" height="0.8" fill="#8ab0d6"/><rect x="128.80" y="93.50" width="29.43" height="0.8" fill="#aac6e1"/><rect x="157.93" y="93.50" width="29.43" height="0.8" fill="#dfeaf4"/><rect x="187.05" y="93.50" width="29.43" height="0.8" fill="#bfd4e9"/><rect x="216.18" y="93.50" width="29.43" height="0.8" fill="#c6d9eb"/><rect x="12.30" y="94.00" width="29.42" height="0.8" fill="#eb9799"/><rect x="41.42" y="94.00" width="29.43" height="0.8" fill="#f4c5c6"/><rect x="70.55" y="94.00" width="29.43" height="0.8" fill="#f6d1d2"/><rect x="99.67" y="94.00" width="29.43" height="0.8" fill="#93b7d9"/><rect x="128.80" y="94.00" width="29.43" height="0.8" fill="#b8cfe6"/><rect x="157.93" y="94.00" width="29.43" height="0.8" fill="#dae6f2"/><rect x="187.05" y="94.00" width="29.43" height="0.8" fill="#a9c6e1"/><rect x="216.18" y="94.00" width="29.43" height="0.8" fill="#b6cee5"/><rect x="12.30" y="94.50" width="29.42" height="0.8" fill="#efa9aa"/><rect x="41.42" y="94.50" width="29.43" height="0.8" fill="#f6cecf"/><rect x="70.55" y="94.50" width="29.43" height="0.8" fill="#f6d2d3"/><rect x="99.67" y="94.50" width="29.43" height="0.8" fill="#87afd5"/><rect x="128.80" y="94.50" width="29.43" height="0.8" fill="#b3cce5"/><rect x="157.93" y="94.50" width="29.43" height="0.8" fill="#e0eaf4"/><rect x="187.05" y="94.50" width="29.43" height="0.8" fill="#aac6e1"/><rect x="216.18" y="94.50" width="29.43" height="0.8" fill="#aec9e3"/><rect x="12.30" y="95.00" width="29.42" height="0.8" fill="#efabad"/><rect x="41.42" y="95.00" width="29.43" height="0.8" fill="#f6d1d2"/><rect x="70.55" y="95.00" width="29.43" height="0.8" fill="#f6cecf"/><rect x="99.67" y="95.00" width="29.43" height="0.8" fill="#7ca7d1"/><rect x="128.80" y="95.00" width="29.43" height="0.8" fill="#aac6e1"/><rect x="157.93" y="95.00" width="29.43" height="0.8" fill="#e3ecf5"/><rect x="187.05" y="95.00" width="29.43" height="0.8" fill="#a8c5e1"/><rect x="216.18" y="95.00" width="29.43" height="0.8" fill="#b3cce5"/><rect x="12.30" y="95.50" width="29.42" height="0.8" fill="#ec9a9b"/><rect x="41.42" y="95.50" width="29.43" height="0.8" fill="#f3c2c3"/><rect x="70.55" y="95.50" width="29.43" height="0.8" fill="#f2bdbe"/><rect x="99.67" y="95.50" width="29.43" height="0.8" fill="#79a5d0"/><rect x="128.80" y="95.50" width="29.43" height="0.8" fill="#afc9e3"/><rect x="157.93" y="95.50" width="29.43" height="0.8" fill="#ecf2f8"/><rect x="187.05" y="95.50" width="29.43" height="0.8" fill="#c3d7ea"/><rect x="216.18" y="95.50" width="29.43" height="0.8" fill="#c2d6ea"/><rect x="12.30" y="96.00" width="29.42" height="0.8" fill="#e98a8d"/><rect x="41.42" y="96.00" width="29.43" height="0.8" fill="#f2bcbd"/><rect x="70.55" y="96.00" width="29.43" height="0.8" fill="#f0b1b3"/><rect x="99.67" y="96.00" width="29.43" height="0.8" fill="#83acd4"/><rect x="128.80" y="96.00" width="29.43" height="0.8" fill="#b1cbe4"/><rect x="157.93" y="96.00" width="29.43" height="0.8" fill="#e1ebf5"/><rect x="187.05" y="96.00" width="29.43" height="0.8" fill="#d5e3f0"/><rect x="216.18" y="96.00" width="29.43" height="0.8" fill="#d0dfef"/><rect x="12.30" y="96.50" width="29.42" height="0.8" fill="#e67e80"/><rect x="41.42" y="96.50" width="29.43" height="0.8" fill="#f0b2b3"/><rect x="70.55" y="96.50" width="29.43" height="0.8" fill="#efaaac"/><rect x="99.67" y="96.50" width="29.43" height="0.8" fill="#91b5d8"/><rect x="128.80" y="96.50" width="29.43" height="0.8" fill="#b2cbe4"/><rect x="157.93" y="96.50" width="29.43" height="0.8" fill="#d5e3f0"/><rect x="187.05" y="96.50" width="29.43" height="0.8" fill="#dfeaf4"/><rect x="216.18" y="96.50" width="29.43" height="0.8" fill="#d6e3f1"/><rect x="12.30" y="97.00" width="29.42" height="0.8" fill="#e67d7f"/><rect x="41.42" y="97.00" width="29.43" height="0.8" fill="#efadae"/><rect x="70.55" y="97.00" width="29.43" height="0.8" fill="#f1b4b6"/><rect x="99.67" y="97.00" width="29.43" height="0.8" fill="#abc7e2"/><rect x="128.80" y="97.00" width="29.43" height="0.8" fill="#a9c5e1"/><rect x="157.93" y="97.00" width="29.43" height="0.8" fill="#bed3e8"/><rect x="187.05" y="97.00" width="29.43" height="0.8" fill="#e3ecf5"/><rect x="216.18" y="97.00" width="29.43" height="0.8" fill="#cbdced"/><rect x="12.30" y="97.50" width="29.42" height="0.8" fill="#e57678"/><rect x="41.42" y="97.50" width="29.43" height="0.8" fill="#efa9ab"/><rect x="70.55" y="97.50" width="29.43" height="0.8" fill="#f3c0c1"/><rect x="99.67" y="97.50" width="29.43" height="0.8" fill="#bed4e8"/><rect x="128.80" y="97.50" width="29.43" height="0.8" fill="#a8c5e1"/><rect x="157.93" y="97.50" width="29.43" height="0.8" fill="#c9dbec"/><rect x="187.05" y="97.50" width="29.43" height="0.8" fill="#f0f5fa"/><rect x="216.18" y="97.50" width="29.43" height="0.8" fill="#b3cce4"/><rect x="12.30" y="98.00" width="29.42" height="0.8" fill="#e78386"/><rect x="41.42" y="98.00" width="29.43" height="0.8" fill="#f0b2b3"/><rect x="70.55" y="98.00" width="29.43" height="0.8" fill="#f0b1b3"/><rect x="99.67" y="98.00" width="29.43" height="0.8" fill="#c0d5e9"/><rect x="128.80" y="98.00" width="29.43" height="0.8" fill="#aec9e3"/><rect x="157.93" y="98.00" width="29.43" height="0.8" fill="#f3f7fb"/><rect x="187.05" y="98.00" width="29.43" height="0.8" fill="#fefeff"/><rect x="216.18" y="98.00" width="29.43" height="0.8" fill="#abc7e2"/><rect x="12.30" y="98.50" width="29.42" height="0.8" fill="#eb9698"/><rect x="41.42" y="98.50" width="29.43" height="0.8" fill="#f3bec0"/><rect x="70.55" y="98.50" width="29.43" height="0.8" fill="#f3c2c3"/><rect x="99.67" y="98.50" width="29.43" height="0.8" fill="#b9d0e7"/><rect x="128.80" y="98.50" width="29.43" height="0.8" fill="#9fbedd"/><rect x="157.93" y="98.50" width="29.43" height="0.8" fill="#eff4f9"/><rect x="187.05" y="98.50" width="29.43" height="0.8" fill="#e8f0f7"/><rect x="216.18" y="98.50" width="29.43" height="0.8" fill="#95b8da"/><rect x="12.30" y="99.00" width="29.42" height="0.8" fill="#f0afb1"/><rect x="41.42" y="99.00" width="29.43" height="0.8" fill="#f0b0b2"/><rect x="70.55" y="99.00" width="29.43" height="0.8" fill="#f3c2c3"/><rect x="99.67" y="99.00" width="29.43" height="0.8" fill="#b8cfe6"/><rect x="128.80" y="99.00" width="29.43" height="0.8" fill="#86aed5"/><rect x="157.93" y="99.00" width="29.43" height="0.8" fill="#dce8f3"/><rect x="187.05" y="99.00" width="29.43" height="0.8" fill="#ccdded"/><rect x="216.18" y="99.00" width="29.43" height="0.8" fill="#81aad3"/><rect x="12.30" y="99.50" width="29.42" height="0.8" fill="#f3c2c3"/><rect x="41.42" y="99.50" width="29.43" height="0.8" fill="#ed9fa1"/><rect x="70.55" y="99.50" width="29.43" height="0.8" fill="#f1b7b8"/><rect x="99.67" y="99.50" width="29.43" height="0.8" fill="#bfd4e9"/><rect x="128.80" y="99.50" width="29.43" height="0.8" fill="#78a4d0"/><rect x="157.93" y="99.50" width="29.43" height="0.8" fill="#dbe7f2"/><rect x="187.05" y="99.50" width="29.43" height="0.8" fill="#c4d7ea"/><rect x="216.18" y="99.50" width="29.43" height="0.8" fill="#7ca7d1"/><rect x="12.30" y="100.00" width="29.42" height="0.8" fill="#f4c5c7"/><rect x="41.42" y="100.00" width="29.43" height="0.8" fill="#eda0a1"/><rect x="70.55" y="100.00" width="29.43" height="0.8" fill="#eea4a6"/><rect x="99.67" y="100.00" width="29.43" height="0.8" fill="#cddded"/><rect x="128.80" y="100.00" width="29.43" height="0.8" fill="#86aed5"/><rect x="157.93" y="100.00" width="29.43" height="0.8" fill="#e5edf6"/><rect x="187.05" y="100.00" width="29.43" height="0.8" fill="#cedeee"/><rect x="216.18" y="100.00" width="29.43" height="0.8" fill="#86aed5"/><rect x="12.30" y="100.50" width="29.42" height="0.8" fill="#eda2a4"/><rect x="41.42" y="100.50" width="29.43" height="0.8" fill="#ea9294"/><rect x="70.55" y="100.50" width="29.43" height="0.8" fill="#ec9c9e"/><rect x="99.67" y="100.50" width="29.43" height="0.8" fill="#e5eef6"/><rect x="128.80" y="100.50" width="29.43" height="0.8" fill="#a3c2df"/><rect x="157.93" y="100.50" width="29.43" height="0.8" fill="#f5f8fb"/><rect x="187.05" y="100.50" width="29.43" height="0.8" fill="#dae6f2"/><rect x="216.18" y="100.50" width="29.43" height="0.8" fill="#b5cde5"/><rect x="12.30" y="101.00" width="29.42" height="0.8" fill="#e88789"/><rect x="41.42" y="101.00" width="29.43" height="0.8" fill="#e77f82"/><rect x="70.55" y="101.00" width="29.43" height="0.8" fill="#eda2a4"/><rect x="99.67" y="101.00" width="29.43" height="0.8" fill="#e4edf6"/><rect x="128.80" y="101.00" width="29.43" height="0.8" fill="#afc9e3"/><rect x="157.93" y="101.00" width="29.43" height="0.8" fill="#fefafa"/><rect x="187.05" y="101.00" width="29.43" height="0.8" fill="#e8eff7"/><rect x="216.18" y="101.00" width="29.43" height="0.8" fill="#ccdded"/><rect x="12.30" y="101.50" width="29.42" height="0.8" fill="#e67c7f"/><rect x="41.42" y="101.50" width="29.43" height="0.8" fill="#e57578"/><rect x="70.55" y="101.50" width="29.43" height="0.8" fill="#f2bdbe"/><rect x="99.67" y="101.50" width="29.43" height="0.8" fill="#b8cfe6"/><rect x="128.80" y="101.50" width="29.43" height="0.8" fill="#adc8e2"/><rect x="157.93" y="101.50" width="29.43" height="0.8" fill="#fcf1f2"/><rect x="187.05" y="101.50" width="29.43" height="0.8" fill="#e9f0f7"/><rect x="216.18" y="101.50" width="29.43" height="0.8" fill="#bad1e7"/><rect x="12.30" y="102.00" width="29.42" height="0.8" fill="#e47073"/><rect x="41.42" y="102.00" width="29.43" height="0.8" fill="#e78183"/><rect x="70.55" y="102.00" width="29.43" height="0.8" fill="#f1b6b7"/><rect x="99.67" y="102.00" width="29.43" height="0.8" fill="#97b9db"/><rect x="128.80" y="102.00" width="29.43" height="0.8" fill="#b4cde5"/><rect x="157.93" y="102.00" width="29.43" height="0.8" fill="#fcf0f1"/><rect x="187.05" y="102.00" width="29.43" height="0.8" fill="#e1ebf4"/><rect x="216.18" y="102.00" width="29.43" height="0.8" fill="#c3d7ea"/><rect x="12.30" y="102.50" width="29.42" height="0.8" fill="#dd4d50"/><rect x="41.42" y="102.50" width="29.43" height="0.8" fill="#e98c8e"/><rect x="70.55" y="102.50" width="29.43" height="0.8" fill="#ec9e9f"/><rect x="99.67" y="102.50" width="29.43" height="0.8" fill="#98badb"/><rect x="128.80" y="102.50" width="29.43" height="0.8" fill="#b9d0e7"/><rect x="157.93" y="102.50" width="29.43" height="0.8" fill="#fefafa"/><rect x="187.05" y="102.50" width="29.43" height="0.8" fill="#cdddee"/><rect x="216.18" y="102.50" width="29.43" height="0.8" fill="#dfe9f4"/><rect x="12.30" y="103.00" width="29.42" height="0.8" fill="#d62a2e"/><rect x="41.42" y="103.00" width="29.43" height="0.8" fill="#e78082"/><rect x="70.55" y="103.00" width="29.43" height="0.8" fill="#eb9597"/><rect x="99.67" y="103.00" width="29.43" height="0.8" fill="#b0cae3"/><rect x="128.80" y="103.00" width="29.43" height="0.8" fill="#d9e5f2"/><rect x="157.93" y="103.00" width="29.43" height="0.8" fill="#ffffff"/><rect x="187.05" y="103.00" width="29.43" height="0.8" fill="#ccdded"/><rect x="216.18" y="103.00" width="29.43" height="0.8" fill="#f9fbfd"/><rect x="12.30" y="103.50" width="29.42" height="0.8" fill="#d6282c"/><rect x="41.42" y="103.50" width="29.43" height="0.8" fill="#e47274"/><rect x="70.55" y="103.50" width="29.43" height="0.8" fill="#efaaab"/><rect x="99.67" y="103.50" width="29.43" height="0.8" fill="#b0cae4"/><rect x="128.80" y="103.50" width="29.43" height="0.8" fill="#e1ebf5"/><rect x="157.93" y="103.50" width="29.43" height="0.8" fill="#f4f8fb"/><rect x="187.05" y="103.50" width="29.43" height="0.8" fill="#ccdded"/><rect x="216.18" y="103.50" width="29.43" height="0.8" fill="#edf3f9"/><rect x="12.30" y="104.00" width="29.42" height="0.8" fill="#da3f43"/><rect x="41.42" y="104.00" width="29.43" height="0.8" fill="#eb9799"/><rect x="70.55" y="104.00" width="29.43" height="0.8" fill="#f5cbcc"/><rect x="99.67" y="104.00" width="29.43" height="0.8" fill="#97b9db"/><rect x="128.80" y="104.00" width="29.43" height="0.8" fill="#bfd4e9"/><rect x="157.93" y="104.00" width="29.43" height="0.8" fill="#d9e5f2"/><rect x="187.05" y="104.00" width="29.43" height="0.8" fill="#cfdfee"/><rect x="216.18" y="104.00" width="29.43" height="0.8" fill="#dce8f3"/><rect x="12.30" y="104.50" width="29.42" height="0.8" fill="#e16063"/><rect x="41.42" y="104.50" width="29.43" height="0.8" fill="#f0afb1"/><rect x="70.55" y="104.50" width="29.43" height="0.8" fill="#f4c6c7"/><rect x="99.67" y="104.50" width="29.43" height="0.8" fill="#9cbcdc"/><rect x="128.80" y="104.50" width="29.43" height="0.8" fill="#92b6d9"/><rect x="157.93" y="104.50" width="29.43" height="0.8" fill="#c6d9eb"/><rect x="187.05" y="104.50" width="29.43" height="0.8" fill="#d8e5f1"/><rect x="216.18" y="104.50" width="29.43" height="0.8" fill="#dee9f4"/><rect x="12.30" y="105.00" width="29.42" height="0.8" fill="#e36e70"/><rect x="41.42" y="105.00" width="29.43" height="0.8" fill="#f1b4b5"/><rect x="70.55" y="105.00" width="29.43" height="0.8" fill="#f0b1b2"/><rect x="99.67" y="105.00" width="29.43" height="0.8" fill="#c6d9eb"/><rect x="128.80" y="105.00" width="29.43" height="0.8" fill="#7fa9d2"/><rect x="157.93" y="105.00" width="29.43" height="0.8" fill="#ccdced"/><rect x="187.05" y="105.00" width="29.43" height="0.8" fill="#d3e1f0"/><rect x="216.18" y="105.00" width="29.43" height="0.8" fill="#f5f8fb"/><rect x="12.30" y="105.50" width="29.42" height="0.8" fill="#df585c"/><rect x="41.42" y="105.50" width="29.43" height="0.8" fill="#eea5a6"/><rect x="70.55" y="105.50" width="29.43" height="0.8" fill="#e98a8c"/><rect x="99.67" y="105.50" width="29.43" height="0.8" fill="#eff4f9"/><rect x="128.80" y="105.50" width="29.43" height="0.8" fill="#8fb4d8"/><rect x="157.93" y="105.50" width="29.43" height="0.8" fill="#e9f0f7"/><rect x="187.05" y="105.50" width="29.43" height="0.8" fill="#cedeee"/><rect x="216.18" y="105.50" width="29.43" height="0.8" fill="#f1f6fa"/><rect x="12.30" y="106.00" width="29.42" height="0.8" fill="#df575a"/><rect x="41.42" y="106.00" width="29.43" height="0.8" fill="#ec9d9f"/><rect x="70.55" y="106.00" width="29.43" height="0.8" fill="#e78082"/><rect x="99.67" y="106.00" width="29.43" height="0.8" fill="#f1f5fa"/><rect x="128.80" y="106.00" width="29.43" height="0.8" fill="#9abbdc"/><rect x="157.93" y="106.00" width="29.43" height="0.8" fill="#fdf6f6"/><rect x="187.05" y="106.00" width="29.43" height="0.8" fill="#bad1e7"/><rect x="216.18" y="106.00" width="29.43" height="0.8" fill="#e2ebf5"/><rect x="12.30" y="106.50" width="29.42" height="0.8" fill="#e67a7c"/><rect x="41.42" y="106.50" width="29.43" height="0.8" fill="#eea4a6"/><rect x="70.55" y="106.50" width="29.43" height="0.8" fill="#f0b2b3"/><rect x="99.67" y="106.50" width="29.43" height="0.8" fill="#cedeee"/><rect x="128.80" y="106.50" width="29.43" height="0.8" fill="#8ab0d6"/><rect x="157.93" y="106.50" width="29.43" height="0.8" fill="#fefbfb"/><rect x="187.05" y="106.50" width="29.43" height="0.8" fill="#c3d6ea"/><rect x="216.18" y="106.50" width="29.43" height="0.8" fill="#bfd4e9"/><rect x="12.30" y="107.00" width="29.42" height="0.8" fill="#eb989a"/><rect x="41.42" y="107.00" width="29.43" height="0.8" fill="#f0b1b2"/><rect x="70.55" y="107.00" width="29.43" height="0.8" fill="#fbecec"/><rect x="99.67" y="107.00" width="29.43" height="0.8" fill="#bfd4e9"/><rect x="128.80" y="107.00" width="29.43" height="0.8" fill="#91b5d9"/><rect x="157.93" y="107.00" width="29.43" height="0.8" fill="#f1f5fa"/><rect x="187.05" y="107.00" width="29.43" height="0.8" fill="#dae6f2"/><rect x="216.18" y="107.00" width="29.43" height="0.8" fill="#adc8e2"/><rect x="12.30" y="107.50" width="29.42" height="0.8" fill="#eea8aa"/><rect x="41.42" y="107.50" width="29.43" height="0.8" fill="#f3bfc0"/><rect x="70.55" y="107.50" width="29.43" height="0.8" fill="#fffdfd"/><rect x="99.67" y="107.50" width="29.43" height="0.8" fill="#a3c1df"/><rect x="128.80" y="107.50" width="29.43" height="0.8" fill="#86aed5"/><rect x="157.93" y="107.50" width="29.43" height="0.8" fill="#c8daec"/><rect x="187.05" y="107.50" width="29.43" height="0.8" fill="#c1d5e9"/><rect x="216.18" y="107.50" width="29.43" height="0.8" fill="#94b7da"/><rect x="12.30" y="108.00" width="29.42" height="0.8" fill="#e88587"/><rect x="41.42" y="108.00" width="29.43" height="0.8" fill="#efa9ab"/><rect x="70.55" y="108.00" width="29.43" height="0.8" fill="#f9dedf"/><rect x="99.67" y="108.00" width="29.43" height="0.8" fill="#a1c0de"/><rect x="128.80" y="108.00" width="29.43" height="0.8" fill="#7ba6d1"/><rect x="157.93" y="108.00" width="29.43" height="0.8" fill="#d0dfef"/><rect x="187.05" y="108.00" width="29.43" height="0.8" fill="#adc8e2"/><rect x="216.18" y="108.00" width="29.43" height="0.8" fill="#9dbddd"/><rect x="12.30" y="108.50" width="29.42" height="0.8" fill="#e16063"/><rect x="41.42" y="108.50" width="29.43" height="0.8" fill="#e78284"/><rect x="70.55" y="108.50" width="29.43" height="0.8" fill="#f1b4b5"/><rect x="99.67" y="108.50" width="29.43" height="0.8" fill="#abc6e2"/><rect x="128.80" y="108.50" width="29.43" height="0.8" fill="#79a5d0"/><rect x="157.93" y="108.50" width="29.43" height="0.8" fill="#f3f7fb"/><rect x="187.05" y="108.50" width="29.43" height="0.8" fill="#c9dbec"/><rect x="216.18" y="108.50" width="29.43" height="0.8" fill="#b1cae4"/><rect x="12.30" y="109.00" width="29.42" height="0.8" fill="#dd4d50"/><rect x="41.42" y="109.00" width="29.43" height="0.8" fill="#e46f72"/><rect x="70.55" y="109.00" width="29.43" height="0.8" fill="#ec999b"/><rect x="99.67" y="109.00" width="29.43" height="0.8" fill="#b6cee5"/><rect x="128.80" y="109.00" width="29.43" height="0.8" fill="#96b8da"/><rect x="157.93" y="109.00" width="29.43" height="0.8" fill="#fdf3f3"/><rect x="187.05" y="109.00" width="29.43" height="0.8" fill="#fdfefe"/><rect x="216.18" y="109.00" width="29.43" height="0.8" fill="#cedeee"/><rect x="12.30" y="109.50" width="29.42" height="0.8" fill="#dd4d50"/><rect x="41.42" y="109.50" width="29.43" height="0.8" fill="#e67e81"/><rect x="70.55" y="109.50" width="29.43" height="0.8" fill="#ea9294"/><rect x="99.67" y="109.50" width="29.43" height="0.8" fill="#a0bfde"/><rect x="128.80" y="109.50" width="29.43" height="0.8" fill="#b1cae4"/><rect x="157.93" y="109.50" width="29.43" height="0.8" fill="#fcfdfe"/><rect x="187.05" y="109.50" width="29.43" height="0.8" fill="#eef4f9"/><rect x="216.18" y="109.50" width="29.43" height="0.8" fill="#cedeee"/><rect x="12.30" y="110.00" width="29.42" height="0.8" fill="#dc474b"/><rect x="41.42" y="110.00" width="29.43" height="0.8" fill="#ec9b9d"/><rect x="70.55" y="110.00" width="29.43" height="0.8" fill="#eb9597"/><rect x="99.67" y="110.00" width="29.43" height="0.8" fill="#8cb2d7"/><rect x="128.80" y="110.00" width="29.43" height="0.8" fill="#c5d8eb"/><rect x="157.93" y="110.00" width="29.43" height="0.8" fill="#dee9f4"/><rect x="187.05" y="110.00" width="29.43" height="0.8" fill="#cedeee"/><rect x="216.18" y="110.00" width="29.43" height="0.8" fill="#cfdfee"/><rect x="12.30" y="110.50" width="29.42" height="0.8" fill="#e05e61"/><rect x="41.42" y="110.50" width="29.43" height="0.8" fill="#f1b6b8"/><rect x="70.55" y="110.50" width="29.43" height="0.8" fill="#ed9ea0"/><rect x="99.67" y="110.50" width="29.43" height="0.8" fill="#76a3cf"/><rect x="128.80" y="110.50" width="29.43" height="0.8" fill="#b4cce5"/><rect x="157.93" y="110.50" width="29.43" height="0.8" fill="#e1ebf4"/><rect x="187.05" y="110.50" width="29.43" height="0.8" fill="#bbd1e7"/><rect x="216.18" y="110.50" width="29.43" height="0.8" fill="#d2e1ef"/><rect x="12.30" y="111.00" width="29.42" height="0.8" fill="#e5797b"/><rect x="41.42" y="111.00" width="29.43" height="0.8" fill="#f8d9da"/><rect x="70.55" y="111.00" width="29.43" height="0.8" fill="#f2b8ba"/><rect x="99.67" y="111.00" width="29.43" height="0.8" fill="#76a3cf"/><rect x="128.80" y="111.00" width="29.43" height="0.8" fill="#96b9da"/><rect x="157.93" y="111.00" width="29.43" height="0.8" fill="#f1f6fa"/><rect x="187.05" y="111.00" width="29.43" height="0.8" fill="#c3d7ea"/><rect x="216.18" y="111.00" width="29.43" height="0.8" fill="#cdddee"/><rect x="12.30" y="111.50" width="29.42" height="0.8" fill="#e77f81"/><rect x="41.42" y="111.50" width="29.43" height="0.8" fill="#f9dede"/><rect x="70.55" y="111.50" width="29.43" height="0.8" fill="#f6d2d3"/><rect x="99.67" y="111.50" width="29.43" height="0.8" fill="#81aad3"/><rect x="128.80" y="111.50" width="29.43" height="0.8" fill="#84add4"/><rect x="157.93" y="111.50" width="29.43" height="0.8" fill="#f5f8fc"/><rect x="187.05" y="111.50" width="29.43" height="0.8" fill="#c1d5e9"/><rect x="216.18" y="111.50" width="29.43" height="0.8" fill="#b4cce5"/><rect x="12.30" y="112.00" width="29.42" height="0.8" fill="#e05e61"/><rect x="41.42" y="112.00" width="29.43" height="0.8" fill="#f1b4b5"/><rect x="70.55" y="112.00" width="29.43" height="0.8" fill="#f6cecf"/><rect x="99.67" y="112.00" width="29.43" height="0.8" fill="#a5c3e0"/><rect x="128.80" y="112.00" width="29.43" height="0.8" fill="#a0bfde"/><rect x="157.93" y="112.00" width="29.43" height="0.8" fill="#feffff"/><rect x="187.05" y="112.00" width="29.43" height="0.8" fill="#d4e2f0"/><rect x="216.18" y="112.00" width="29.43" height="0.8" fill="#d0e0ef"/><rect x="12.30" y="112.50" width="29.42" height="0.8" fill="#dc474a"/><rect x="41.42" y="112.50" width="29.43" height="0.8" fill="#eb9799"/><rect x="70.55" y="112.50" width="29.43" height="0.8" fill="#f6d2d3"/><rect x="99.67" y="112.50" width="29.43" height="0.8" fill="#c0d5e9"/><rect x="128.80" y="112.50" width="29.43" height="0.8" fill="#bdd2e8"/><rect x="157.93" y="112.50" width="29.43" height="0.8" fill="#fffdfd"/><rect x="187.05" y="112.50" width="29.43" height="0.8" fill="#d3e1f0"/><rect x="216.18" y="112.50" width="29.43" height="0.8" fill="#e9f0f7"/><rect x="12.30" y="113.00" width="29.42" height="0.8" fill="#dd4c50"/><rect x="41.42" y="113.00" width="29.43" height="0.8" fill="#efadaf"/><rect x="70.55" y="113.00" width="29.43" height="0.8" fill="#f8dddd"/><rect x="99.67" y="113.00" width="29.43" height="0.8" fill="#c3d7ea"/><rect x="128.80" y="113.00" width="29.43" height="0.8" fill="#c7daec"/><rect x="157.93" y="113.00" width="29.43" height="0.8" fill="#e8f0f7"/><rect x="187.05" y="113.00" width="29.43" height="0.8" fill="#ccdded"/><rect x="216.18" y="113.00" width="29.43" height="0.8" fill="#c9dbec"/><rect x="12.30" y="113.50" width="29.42" height="0.8" fill="#df5659"/><rect x="41.42" y="113.50" width="29.43" height="0.8" fill="#f3bfc0"/><rect x="70.55" y="113.50" width="29.43" height="0.8" fill="#f6cfd0"/><rect x="99.67" y="113.50" width="29.43" height="0.8" fill="#c6d8eb"/><rect x="128.80" y="113.50" width="29.43" height="0.8" fill="#c6d9eb"/><rect x="157.93" y="113.50" width="29.43" height="0.8" fill="#d5e3f0"/><rect x="187.05" y="113.50" width="29.43" height="0.8" fill="#c6d9eb"/><rect x="216.18" y="113.50" width="29.43" height="0.8" fill="#a6c3e0"/><rect x="12.30" y="114.00" width="29.42" height="0.8" fill="#e2676a"/><rect x="41.42" y="114.00" width="29.43" height="0.8" fill="#f4c6c7"/><rect x="70.55" y="114.00" width="29.43" height="0.8" fill="#f3bfc1"/><rect x="99.67" y="114.00" width="29.43" height="0.8" fill="#bad0e7"/><rect x="128.80" y="114.00" width="29.43" height="0.8" fill="#99badb"/><rect x="157.93" y="114.00" width="29.43" height="0.8" fill="#d0dfef"/><rect x="187.05" y="114.00" width="29.43" height="0.8" fill="#d2e1ef"/><rect x="216.18" y="114.00" width="29.43" height="0.8" fill="#9dbddd"/><rect x="12.30" y="114.50" width="29.42" height="0.8" fill="#e67e81"/><rect x="41.42" y="114.50" width="29.43" height="0.8" fill="#f3c2c3"/><rect x="70.55" y="114.50" width="29.43" height="0.8" fill="#efaeaf"/><rect x="99.67" y="114.50" width="29.43" height="0.8" fill="#a9c5e1"/><rect x="128.80" y="114.50" width="29.43" height="0.8" fill="#74a2cf"/><rect x="157.93" y="114.50" width="29.43" height="0.8" fill="#dde8f3"/><rect x="187.05" y="114.50" width="29.43" height="0.8" fill="#e8eff7"/><rect x="216.18" y="114.50" width="29.43" height="0.8" fill="#b5cde5"/><rect x="12.30" y="115.00" width="29.42" height="0.8" fill="#e36d6f"/><rect x="41.42" y="115.00" width="29.43" height="0.8" fill="#f1b6b7"/><rect x="70.55" y="115.00" width="29.43" height="0.8" fill="#ea9395"/><rect x="99.67" y="115.00" width="29.43" height="0.8" fill="#a2c0de"/><rect x="128.80" y="115.00" width="29.43" height="0.8" fill="#74a2cf"/><rect x="157.93" y="115.00" width="29.43" height="0.8" fill="#fcfdfe"/><rect x="187.05" y="115.00" width="29.43" height="0.8" fill="#fdfdfe"/><rect x="216.18" y="115.00" width="29.43" height="0.8" fill="#c7d9eb"/><rect x="12.30" y="115.50" width="29.42" height="0.8" fill="#dd4c4f"/><rect x="41.42" y="115.50" width="29.43" height="0.8" fill="#ec9ea0"/><rect x="70.55" y="115.50" width="29.43" height="0.8" fill="#e5797c"/><rect x="99.67" y="115.50" width="29.43" height="0.8" fill="#a3c1df"/><rect x="128.80" y="115.50" width="29.43" height="0.8" fill="#8ab1d6"/><rect x="157.93" y="115.50" width="29.43" height="0.8" fill="#f6d1d1"/><rect x="187.05" y="115.50" width="29.43" height="0.8" fill="#feffff"/><rect x="216.18" y="115.50" width="29.43" height="0.8" fill="#cfdfee"/><rect x="12.30" y="116.00" width="29.42" height="0.8" fill="#dc4549"/><rect x="41.42" y="116.00" width="29.43" height="0.8" fill="#e88587"/><rect x="70.55" y="116.00" width="29.43" height="0.8" fill="#e67b7d"/><rect x="99.67" y="116.00" width="29.43" height="0.8" fill="#a0bfde"/><rect x="128.80" y="116.00" width="29.43" height="0.8" fill="#95b8da"/><rect x="157.93" y="116.00" width="29.43" height="0.8" fill="#f5cbcc"/><rect x="187.05" y="116.00" width="29.43" height="0.8" fill="#eff4f9"/><rect x="216.18" y="116.00" width="29.43" height="0.8" fill="#d2e1ef"/><rect x="12.30" y="116.50" width="29.42" height="0.8" fill="#dc484b"/><rect x="41.42" y="116.50" width="29.43" height="0.8" fill="#e47376"/><rect x="70.55" y="116.50" width="29.43" height="0.8" fill="#eb9597"/><rect x="99.67" y="116.50" width="29.43" height="0.8" fill="#98badb"/><rect x="128.80" y="116.50" width="29.43" height="0.8" fill="#acc7e2"/><rect x="157.93" y="116.50" width="29.43" height="0.8" fill="#f4c4c5"/><rect x="187.05" y="116.50" width="29.43" height="0.8" fill="#dee9f4"/><rect x="216.18" y="116.50" width="29.43" height="0.8" fill="#d3e1ef"/><rect x="12.30" y="117.00" width="29.42" height="0.8" fill="#e05a5d"/><rect x="41.42" y="117.00" width="29.43" height="0.8" fill="#e47073"/><rect x="70.55" y="117.00" width="29.43" height="0.8" fill="#f1b7b9"/><rect x="99.67" y="117.00" width="29.43" height="0.8" fill="#95b7da"/><rect x="128.80" y="117.00" width="29.43" height="0.8" fill="#b6cee5"/><rect x="157.93" y="117.00" width="29.43" height="0.8" fill="#f5cccd"/><rect x="187.05" y="117.00" width="29.43" height="0.8" fill="#cedeee"/><rect x="216.18" y="117.00" width="29.43" height="0.8" fill="#cddded"/><rect x="12.30" y="117.50" width="29.42" height="0.8" fill="#e05b5e"/><rect x="41.42" y="117.50" width="29.43" height="0.8" fill="#e88588"/><rect x="70.55" y="117.50" width="29.43" height="0.8" fill="#f1b6b7"/><rect x="99.67" y="117.50" width="29.43" height="0.8" fill="#99badb"/><rect x="128.80" y="117.50" width="29.43" height="0.8" fill="#bad1e7"/><rect x="157.93" y="117.50" width="29.43" height="0.8" fill="#f3bec0"/><rect x="187.05" y="117.50" width="29.43" height="0.8" fill="#d8e5f1"/><rect x="216.18" y="117.50" width="29.43" height="0.8" fill="#cedeee"/><rect x="12.30" y="118.00" width="29.42" height="0.8" fill="#dd4a4e"/><rect x="41.42" y="118.00" width="29.43" height="0.8" fill="#eb999a"/><rect x="70.55" y="118.00" width="29.43" height="0.8" fill="#eea4a6"/><rect x="99.67" y="118.00" width="29.43" height="0.8" fill="#b4cce5"/><rect x="128.80" y="118.00" width="29.43" height="0.8" fill="#bad1e7"/><rect x="157.93" y="118.00" width="29.43" height="0.8" fill="#f0aeb0"/><rect x="187.05" y="118.00" width="29.43" height="0.8" fill="#f3f7fb"/><rect x="216.18" y="118.00" width="29.43" height="0.8" fill="#d5e3f0"/><rect x="12.30" y="118.50" width="29.42" height="0.8" fill="#d9393d"/><rect x="41.42" y="118.50" width="29.43" height="0.8" fill="#ea9193"/><rect x="70.55" y="118.50" width="29.43" height="0.8" fill="#eb9496"/><rect x="99.67" y="118.50" width="29.43" height="0.8" fill="#dde8f3"/><rect x="128.80" y="118.50" width="29.43" height="0.8" fill="#b3cce4"/><rect x="157.93" y="118.50" width="29.43" height="0.8" fill="#f1b7b9"/><rect x="187.05" y="118.50" width="29.43" height="0.8" fill="#eef4f9"/><rect x="216.18" y="118.50" width="29.43" height="0.8" fill="#dae6f2"/><rect x="12.30" y="119.00" width="29.42" height="0.8" fill="#db4245"/><rect x="41.42" y="119.00" width="29.43" height="0.8" fill="#ec9b9d"/><rect x="70.55" y="119.00" width="29.43" height="0.8" fill="#ec999b"/><rect x="99.67" y="119.00" width="29.43" height="0.8" fill="#d7e4f1"/><rect x="128.80" y="119.00" width="29.43" height="0.8" fill="#aec8e3"/><rect x="157.93" y="119.00" width="29.43" height="0.8" fill="#f9ddde"/><rect x="187.05" y="119.00" width="29.43" height="0.8" fill="#d0dfee"/><rect x="216.18" y="119.00" width="29.43" height="0.8" fill="#b2cbe4"/><rect x="12.30" y="119.50" width="29.42" height="0.8" fill="#de5356"/><rect x="41.42" y="119.50" width="29.43" height="0.8" fill="#efaaac"/><rect x="70.55" y="119.50" width="29.43" height="0.8" fill="#eea4a5"/><rect x="99.67" y="119.50" width="29.43" height="0.8" fill="#b1cae4"/><rect x="128.80" y="119.50" width="29.43" height="0.8" fill="#a0bfde"/><rect x="157.93" y="119.50" width="29.43" height="0.8" fill="#fefefe"/><rect x="187.05" y="119.50" width="29.43" height="0.8" fill="#b0cae4"/><rect x="216.18" y="119.50" width="29.43" height="0.8" fill="#9bbcdc"/><rect x="12.30" y="120.00" width="29.42" height="0.8" fill="#e26568"/><rect x="41.42" y="120.00" width="29.43" height="0.8" fill="#f3bdbf"/><rect x="70.55" y="120.00" width="29.43" height="0.8" fill="#eda3a4"/><rect x="99.67" y="120.00" width="29.43" height="0.8" fill="#92b6d9"/><rect x="128.80" y="120.00" width="29.43" height="0.8" fill="#8db2d7"/><rect x="157.93" y="120.00" width="29.43" height="0.8" fill="#fbfcfd"/><rect x="187.05" y="120.00" width="29.43" height="0.8" fill="#a7c4e0"/><rect x="216.18" y="120.00" width="29.43" height="0.8" fill="#98badb"/><rect x="12.30" y="120.50" width="29.42" height="0.8" fill="#e2696c"/><rect x="41.42" y="120.50" width="29.43" height="0.8" fill="#ec9e9f"/><rect x="70.55" y="120.50" width="29.43" height="0.8" fill="#ea9395"/><rect x="99.67" y="120.50" width="29.43" height="0.8" fill="#a2c1df"/><rect x="128.80" y="120.50" width="29.43" height="0.8" fill="#a7c4e0"/><rect x="157.93" y="120.50" width="29.43" height="0.8" fill="#fffefe"/><rect x="187.05" y="120.50" width="29.43" height="0.8" fill="#b9d0e7"/><rect x="216.18" y="120.50" width="29.43" height="0.8" fill="#c3d7ea"/><rect x="12.30" y="121.00" width="29.42" height="0.8" fill="#e2676a"/><rect x="41.42" y="121.00" width="29.43" height="0.8" fill="#ea8f91"/><rect x="70.55" y="121.00" width="29.43" height="0.8" fill="#eea7a8"/><rect x="99.67" y="121.00" width="29.43" height="0.8" fill="#aec8e3"/><rect x="128.80" y="121.00" width="29.43" height="0.8" fill="#bfd4e9"/><rect x="157.93" y="121.00" width="29.43" height="0.8" fill="#eff4f9"/><rect x="187.05" y="121.00" width="29.43" height="0.8" fill="#c9dbec"/><rect x="216.18" y="121.00" width="29.43" height="0.8" fill="#d3e2f0"/><rect x="12.30" y="121.50" width="29.42" height="0.8" fill="#e2686b"/><rect x="41.42" y="121.50" width="29.43" height="0.8" fill="#e88789"/><rect x="70.55" y="121.50" width="29.43" height="0.8" fill="#f5cacb"/><rect x="99.67" y="121.50" width="29.43" height="0.8" fill="#a3c1df"/><rect x="128.80" y="121.50" width="29.43" height="0.8" fill="#bcd2e8"/><rect x="157.93" y="121.50" width="29.43" height="0.8" fill="#dbe7f2"/><rect x="187.05" y="121.50" width="29.43" height="0.8" fill="#c9daec"/><rect x="216.18" y="121.50" width="29.43" height="0.8" fill="#bed3e8"/><rect x="12.30" y="122.00" width="29.42" height="0.8" fill="#e16467"/><rect x="41.42" y="122.00" width="29.43" height="0.8" fill="#e98c8f"/><rect x="70.55" y="122.00" width="29.43" height="0.8" fill="#fdf3f3"/><rect x="99.67" y="122.00" width="29.43" height="0.8" fill="#91b5d9"/><rect x="128.80" y="122.00" width="29.43" height="0.8" fill="#8fb3d8"/><rect x="157.93" y="122.00" width="29.43" height="0.8" fill="#dae6f2"/><rect x="187.05" y="122.00" width="29.43" height="0.8" fill="#b9d0e7"/><rect x="216.18" y="122.00" width="29.43" height="0.8" fill="#b2cbe4"/><rect x="12.30" y="122.50" width="29.42" height="0.8" fill="#e26669"/><rect x="41.42" y="122.50" width="29.43" height="0.8" fill="#ec999b"/><rect x="70.55" y="122.50" width="29.43" height="0.8" fill="#f8dbdb"/><rect x="99.67" y="122.50" width="29.43" height="0.8" fill="#9cbcdc"/><rect x="128.80" y="122.50" width="29.43" height="0.8" fill="#6a9bcb"/><rect x="157.93" y="122.50" width="29.43" height="0.8" fill="#e0eaf4"/><rect x="187.05" y="122.50" width="29.43" height="0.8" fill="#b4cce5"/><rect x="216.18" y="122.50" width="29.43" height="0.8" fill="#c2d6ea"/><rect x="12.30" y="123.00" width="29.42" height="0.8" fill="#e26568"/><rect x="41.42" y="123.00" width="29.43" height="0.8" fill="#efaaab"/><rect x="70.55" y="123.00" width="29.43" height="0.8" fill="#f0b3b4"/><rect x="99.67" y="123.00" width="29.43" height="0.8" fill="#9ebedd"/><rect x="128.80" y="123.00" width="29.43" height="0.8" fill="#77a4d0"/><rect x="157.93" y="123.00" width="29.43" height="0.8" fill="#dee9f3"/><rect x="187.05" y="123.00" width="29.43" height="0.8" fill="#cadced"/><rect x="216.18" y="123.00" width="29.43" height="0.8" fill="#c9dbec"/><rect x="12.30" y="123.50" width="29.42" height="0.8" fill="#e2676a"/><rect x="41.42" y="123.50" width="29.43" height="0.8" fill="#f0b1b2"/><rect x="70.55" y="123.50" width="29.43" height="0.8" fill="#eea7a8"/><rect x="99.67" y="123.50" width="29.43" height="0.8" fill="#a0bfde"/><rect x="128.80" y="123.50" width="29.43" height="0.8" fill="#93b7d9"/><rect x="157.93" y="123.50" width="29.43" height="0.8" fill="#e9f0f7"/><rect x="187.05" y="123.50" width="29.43" height="0.8" fill="#dde8f3"/><rect x="216.18" y="123.50" width="29.43" height="0.8" fill="#b3cce4"/><rect x="12.30" y="124.00" width="29.42" height="0.8" fill="#e36b6e"/><rect x="41.42" y="124.00" width="29.43" height="0.8" fill="#eda2a3"/><rect x="70.55" y="124.00" width="29.43" height="0.8" fill="#f0afb1"/><rect x="99.67" y="124.00" width="29.43" height="0.8" fill="#b0cae4"/><rect x="128.80" y="124.00" width="29.43" height="0.8" fill="#b1cae4"/><rect x="157.93" y="124.00" width="29.43" height="0.8" fill="#f6f9fc"/><rect x="187.05" y="124.00" width="29.43" height="0.8" fill="#e7eff7"/><rect x="216.18" y="124.00" width="29.43" height="0.8" fill="#a0bfde"/><rect x="12.30" y="124.50" width="29.42" height="0.8" fill="#e16366"/><rect x="41.42" y="124.50" width="29.43" height="0.8" fill="#e98b8d"/><rect x="70.55" y="124.50" width="29.43" height="0.8" fill="#f1b4b5"/><rect x="99.67" y="124.50" width="29.43" height="0.8" fill="#d3e2f0"/><rect x="128.80" y="124.50" width="29.43" height="0.8" fill="#bad0e7"/><rect x="157.93" y="124.50" width="29.43" height="0.8" fill="#fffefe"/><rect x="187.05" y="124.50" width="29.43" height="0.8" fill="#e6eef6"/><rect x="216.18" y="124.50" width="29.43" height="0.8" fill="#99badb"/><rect x="12.30" y="125.00" width="29.42" height="0.8" fill="#e2676a"/><rect x="41.42" y="125.00" width="29.43" height="0.8" fill="#e9898c"/><rect x="70.55" y="125.00" width="29.43" height="0.8" fill="#efaaac"/><rect x="99.67" y="125.00" width="29.43" height="0.8" fill="#cedeee"/><rect x="128.80" y="125.00" width="29.43" height="0.8" fill="#bbd1e7"/><rect x="157.93" y="125.00" width="29.43" height="0.8" fill="#dfeaf4"/><rect x="187.05" y="125.00" width="29.43" height="0.8" fill="#d3e2f0"/><rect x="216.18" y="125.00" width="29.43" height="0.8" fill="#94b7da"/><rect x="12.30" y="125.50" width="29.42" height="0.8" fill="#e67c7e"/><rect x="41.42" y="125.50" width="29.43" height="0.8" fill="#eda3a5"/><rect x="70.55" y="125.50" width="29.43" height="0.8" fill="#eda1a3"/><rect x="99.67" y="125.50" width="29.43" height="0.8" fill="#b3cce4"/><rect x="128.80" y="125.50" width="29.43" height="0.8" fill="#b6cee6"/><rect x="157.93" y="125.50" width="29.43" height="0.8" fill="#c2d6ea"/><rect x="187.05" y="125.50" width="29.43" height="0.8" fill="#bdd3e8"/><rect x="216.18" y="125.50" width="29.43" height="0.8" fill="#9abbdc"/><rect x="12.30" y="126.00" width="29.42" height="0.8" fill="#ea9193"/><rect x="41.42" y="126.00" width="29.43" height="0.8" fill="#efacad"/><rect x="70.55" y="126.00" width="29.43" height="0.8" fill="#e67d7f"/><rect x="99.67" y="126.00" width="29.43" height="0.8" fill="#9abbdc"/><rect x="128.80" y="126.00" width="29.43" height="0.8" fill="#b5cde5"/><rect x="157.93" y="126.00" width="29.43" height="0.8" fill="#c0d5e9"/><rect x="187.05" y="126.00" width="29.43" height="0.8" fill="#c8daec"/><rect x="216.18" y="126.00" width="29.43" height="0.8" fill="#a9c5e1"/><rect x="12.30" y="126.50" width="29.42" height="0.8" fill="#e57679"/><rect x="41.42" y="126.50" width="29.43" height="0.8" fill="#ec9b9d"/><rect x="70.55" y="126.50" width="29.43" height="0.8" fill="#e16164"/><rect x="99.67" y="126.50" width="29.43" height="0.8" fill="#a4c2df"/><rect x="128.80" y="126.50" width="29.43" height="0.8" fill="#b7cee6"/><rect x="157.93" y="126.50" width="29.43" height="0.8" fill="#dce7f3"/><rect x="187.05" y="126.50" width="29.43" height="0.8" fill="#d7e4f1"/><rect x="216.18" y="126.50" width="29.43" height="0.8" fill="#b7cee6"/><rect x="12.30" y="127.00" width="29.42" height="0.8" fill="#dd4d51"/><rect x="41.42" y="127.00" width="29.43" height="0.8" fill="#eb9496"/><rect x="70.55" y="127.00" width="29.43" height="0.8" fill="#e05d60"/><rect x="99.67" y="127.00" width="29.43" height="0.8" fill="#c0d5e9"/><rect x="128.80" y="127.00" width="29.43" height="0.8" fill="#c8daec"/><rect x="157.93" y="127.00" width="29.43" height="0.8" fill="#fdfefe"/><rect x="187.05" y="127.00" width="29.43" height="0.8" fill="#d8e5f1"/><rect x="216.18" y="127.00" width="29.43" height="0.8" fill="#bfd4e9"/><rect x="12.30" y="127.50" width="29.42" height="0.8" fill="#dd4c4f"/><rect x="41.42" y="127.50" width="29.43" height="0.8" fill="#f1b3b5"/><rect x="70.55" y="127.50" width="29.43" height="0.8" fill="#e88688"/><rect x="99.67" y="127.50" width="29.43" height="0.8" fill="#e4edf5"/><rect x="128.80" y="127.50" width="29.43" height="0.8" fill="#d4e2f0"/><rect x="157.93" y="127.50" width="29.43" height="0.8" fill="#fcfdfe"/><rect x="187.05" y="127.50" width="29.43" height="0.8" fill="#c8daec"/><rect x="216.18" y="127.50" width="29.43" height="0.8" fill="#b2cbe4"/><rect x="12.30" y="128.00" width="29.42" height="0.8" fill="#e16063"/><rect x="41.42" y="128.00" width="29.43" height="0.8" fill="#f7d4d4"/><rect x="70.55" y="128.00" width="29.43" height="0.8" fill="#f1b5b6"/><rect x="99.67" y="128.00" width="29.43" height="0.8" fill="#cbdced"/><rect x="128.80" y="128.00" width="29.43" height="0.8" fill="#c4d7ea"/><rect x="157.93" y="128.00" width="29.43" height="0.8" fill="#f3f7fb"/><rect x="187.05" y="128.00" width="29.43" height="0.8" fill="#c1d6e9"/><rect x="216.18" y="128.00" width="29.43" height="0.8" fill="#8cb2d7"/><rect x="12.30" y="128.50" width="29.42" height="0.8" fill="#e77f81"/><rect x="41.42" y="128.50" width="29.43" height="0.8" fill="#f9ddde"/><rect x="70.55" y="128.50" width="29.43" height="0.8" fill="#f5cacb"/><rect x="99.67" y="128.50" width="29.43" height="0.8" fill="#9fbfde"/><rect x="128.80" y="128.50" width="29.43" height="0.8" fill="#aac6e1"/><rect x="157.93" y="128.50" width="29.43" height="0.8" fill="#ecf2f8"/><rect x="187.05" y="128.50" width="29.43" height="0.8" fill="#d8e5f2"/><rect x="216.18" y="128.50" width="29.43" height="0.8" fill="#6c9ccc"/><rect x="12.30" y="129.00" width="29.42" height="0.8" fill="#e78082"/><rect x="41.42" y="129.00" width="29.43" height="0.8" fill="#f2b8ba"/><rect x="70.55" y="129.00" width="29.43" height="0.8" fill="#f6d1d2"/><rect x="99.67" y="129.00" width="29.43" height="0.8" fill="#91b5d9"/><rect x="128.80" y="129.00" width="29.43" height="0.8" fill="#9cbcdc"/><rect x="157.93" y="129.00" width="29.43" height="0.8" fill="#d7e4f1"/><rect x="187.05" y="129.00" width="29.43" height="0.8" fill="#f3f7fb"/><rect x="216.18" y="129.00" width="29.43" height="0.8" fill="#6396c8"/><rect x="12.30" y="129.50" width="29.42" height="0.8" fill="#e88587"/><rect x="41.42" y="129.50" width="29.43" height="0.8" fill="#ed9fa1"/><rect x="70.55" y="129.50" width="29.43" height="0.8" fill="#f2b9ba"/><rect x="99.67" y="129.50" width="29.43" height="0.8" fill="#a2c1df"/><rect x="128.80" y="129.50" width="29.43" height="0.8" fill="#9dbddd"/><rect x="157.93" y="129.50" width="29.43" height="0.8" fill="#e4edf6"/><rect x="187.05" y="129.50" width="29.43" height="0.8" fill="#fffefe"/><rect x="216.18" y="129.50" width="29.43" height="0.8" fill="#81aad3"/><rect x="12.30" y="130.00" width="29.42" height="0.8" fill="#e78083"/><rect x="41.42" y="130.00" width="29.43" height="0.8" fill="#e98e90"/><rect x="70.55" y="130.00" width="29.43" height="0.8" fill="#ec9a9c"/><rect x="99.67" y="130.00" width="29.43" height="0.8" fill="#a5c2df"/><rect x="128.80" y="130.00" width="29.43" height="0.8" fill="#9ebedd"/><rect x="157.93" y="130.00" width="29.43" height="0.8" fill="#fcfdfe"/><rect x="187.05" y="130.00" width="29.43" height="0.8" fill="#f8fafc"/><rect x="216.18" y="130.00" width="29.43" height="0.8" fill="#abc7e2"/><rect x="12.30" y="130.50" width="29.42" height="0.8" fill="#e5797b"/><rect x="41.42" y="130.50" width="29.43" height="0.8" fill="#e5797b"/><rect x="70.55" y="130.50" width="29.43" height="0.8" fill="#e67c7f"/><rect x="99.67" y="130.50" width="29.43" height="0.8" fill="#a3c1df"/><rect x="128.80" y="130.50" width="29.43" height="0.8" fill="#b4cde5"/><rect x="157.93" y="130.50" width="29.43" height="0.8" fill="#f7d7d8"/><rect x="187.05" y="130.50" width="29.43" height="0.8" fill="#f1f5fa"/><rect x="216.18" y="130.50" width="29.43" height="0.8" fill="#c3d7ea"/><rect x="12.30" y="131.00" width="29.42" height="0.8" fill="#e36f71"/><rect x="41.42" y="131.00" width="29.43" height="0.8" fill="#e98d8f"/><rect x="70.55" y="131.00" width="29.43" height="0.8" fill="#e98d8f"/><rect x="99.67" y="131.00" width="29.43" height="0.8" fill="#adc8e2"/><rect x="128.80" y="131.00" width="29.43" height="0.8" fill="#c7d9eb"/><rect x="157.93" y="131.00" width="29.43" height="0.8" fill="#f9e2e3"/><rect x="187.05" y="131.00" width="29.43" height="0.8" fill="#e0eaf4"/><rect x="216.18" y="131.00" width="29.43" height="0.8" fill="#bfd4e8"/><rect x="12.30" y="131.50" width="29.42" height="0.8" fill="#e36a6d"/><rect x="41.42" y="131.50" width="29.43" height="0.8" fill="#ed9ea0"/><rect x="70.55" y="131.50" width="29.43" height="0.8" fill="#ec9b9d"/><rect x="99.67" y="131.50" width="29.43" height="0.8" fill="#c0d5e9"/><rect x="128.80" y="131.50" width="29.43" height="0.8" fill="#cedeee"/><rect x="157.93" y="131.50" width="29.43" height="0.8" fill="#fdf4f4"/><rect x="187.05" y="131.50" width="29.43" height="0.8" fill="#d6e4f1"/><rect x="216.18" y="131.50" width="29.43" height="0.8" fill="#bbd2e7"/><rect x="12.30" y="132.00" width="29.42" height="0.8" fill="#e36e70"/><rect x="41.42" y="132.00" width="29.43" height="0.8" fill="#ec999b"/><rect x="70.55" y="132.00" width="29.43" height="0.8" fill="#eda1a2"/><rect x="99.67" y="132.00" width="29.43" height="0.8" fill="#bcd2e8"/><rect x="128.80" y="132.00" width="29.43" height="0.8" fill="#c4d8ea"/><rect x="157.93" y="132.00" width="29.43" height="0.8" fill="#f3f7fb"/><rect x="187.05" y="132.00" width="29.43" height="0.8" fill="#c9dbec"/><rect x="216.18" y="132.00" width="29.43" height="0.8" fill="#afc9e3"/><rect x="12.30" y="132.50" width="29.42" height="0.8" fill="#e57578"/><rect x="41.42" y="132.50" width="29.43" height="0.8" fill="#e78184"/><rect x="70.55" y="132.50" width="29.43" height="0.8" fill="#eea8aa"/><rect x="99.67" y="132.50" width="29.43" height="0.8" fill="#b6cee6"/><rect x="128.80" y="132.50" width="29.43" height="0.8" fill="#a4c2df"/><rect x="157.93" y="132.50" width="29.43" height="0.8" fill="#e8f0f7"/><rect x="187.05" y="132.50" width="29.43" height="0.8" fill="#c1d5e9"/><rect x="216.18" y="132.50" width="29.43" height="0.8" fill="#9dbddd"/><rect x="12.30" y="133.00" width="29.42" height="0.8" fill="#e36c6f"/><rect x="41.42" y="133.00" width="29.43" height="0.8" fill="#e36a6c"/><rect x="70.55" y="133.00" width="29.43" height="0.8" fill="#ed9ea0"/><rect x="99.67" y="133.00" width="29.43" height="0.8" fill="#a4c2df"/><rect x="128.80" y="133.00" width="29.43" height="0.8" fill="#9ebedd"/><rect x="157.93" y="133.00" width="29.43" height="0.8" fill="#ffffff"/><rect x="187.05" y="133.00" width="29.43" height="0.8" fill="#c2d6ea"/><rect x="216.18" y="133.00" width="29.43" height="0.8" fill="#a1c0de"/><rect x="12.30" y="133.50" width="29.42" height="0.8" fill="#de5457"/><rect x="41.42" y="133.50" width="29.43" height="0.8" fill="#e05b5e"/><rect x="70.55" y="133.50" width="29.43" height="0.8" fill="#ea9193"/><rect x="99.67" y="133.50" width="29.43" height="0.8" fill="#aec9e3"/><rect x="128.80" y="133.50" width="29.43" height="0.8" fill="#b9d0e6"/><rect x="157.93" y="133.50" width="29.43" height="0.8" fill="#fef9fa"/><rect x="187.05" y="133.50" width="29.43" height="0.8" fill="#cbdced"/><rect x="216.18" y="133.50" width="29.43" height="0.8" fill="#afc9e3"/><rect x="12.30" y="134.00" width="29.42" height="0.8" fill="#de5054"/><rect x="41.42" y="134.00" width="29.43" height="0.8" fill="#e47073"/><rect x="70.55" y="134.00" width="29.43" height="0.8" fill="#ec9a9c"/><rect x="99.67" y="134.00" width="29.43" height="0.8" fill="#b7cfe6"/><rect x="128.80" y="134.00" width="29.43" height="0.8" fill="#c9dbec"/><rect x="157.93" y="134.00" width="29.43" height="0.8" fill="#f5f8fb"/><rect x="187.05" y="134.00" width="29.43" height="0.8" fill="#d4e2f0"/><rect x="216.18" y="134.00" width="29.43" height="0.8" fill="#c1d5e9"/><rect x="12.30" y="134.50" width="29.42" height="0.8" fill="#e26568"/><rect x="41.42" y="134.50" width="29.43" height="0.8" fill="#ea9294"/><rect x="70.55" y="134.50" width="29.43" height="0.8" fill="#f2babb"/><rect x="99.67" y="134.50" width="29.43" height="0.8" fill="#adc8e2"/><rect x="128.80" y="134.50" width="29.43" height="0.8" fill="#9bbcdc"/><rect x="157.93" y="134.50" width="29.43" height="0.8" fill="#d9e5f2"/><rect x="187.05" y="134.50" width="29.43" height="0.8" fill="#c3d6ea"/><rect x="216.18" y="134.50" width="29.43" height="0.8" fill="#b6cee5"/><rect x="12.30" y="135.00" width="29.42" height="0.8" fill="#e36b6e"/><rect x="41.42" y="135.00" width="29.43" height="0.8" fill="#f2bcbd"/><rect x="70.55" y="135.00" width="29.43" height="0.8" fill="#f3c0c1"/><rect x="99.67" y="135.00" width="29.43" height="0.8" fill="#b2cbe4"/><rect x="128.80" y="135.00" width="29.43" height="0.8" fill="#8ab0d6"/><rect x="157.93" y="135.00" width="29.43" height="0.8" fill="#dae6f2"/><rect x="187.05" y="135.00" width="29.43" height="0.8" fill="#b4cde5"/><rect x="216.18" y="135.00" width="29.43" height="0.8" fill="#b3cce5"/><rect x="12.30" y="135.50" width="29.42" height="0.8" fill="#df575a"/><rect x="41.42" y="135.50" width="29.43" height="0.8" fill="#f7d6d7"/><rect x="70.55" y="135.50" width="29.43" height="0.8" fill="#f1b6b7"/><rect x="99.67" y="135.50" width="29.43" height="0.8" fill="#b8cfe6"/><rect x="128.80" y="135.50" width="29.43" height="0.8" fill="#94b7da"/><rect x="157.93" y="135.50" width="29.43" height="0.8" fill="#e6eef6"/><rect x="187.05" y="135.50" width="29.43" height="0.8" fill="#c6d9eb"/><rect x="216.18" y="135.50" width="29.43" height="0.8" fill="#cadbec"/><rect x="12.30" y="136.00" width="29.42" height="0.8" fill="#e47073"/><rect x="41.42" y="136.00" width="29.43" height="0.8" fill="#f7d5d5"/><rect x="70.55" y="136.00" width="29.43" height="0.8" fill="#f1b3b4"/><rect x="99.67" y="136.00" width="29.43" height="0.8" fill="#afc9e3"/><rect x="128.80" y="136.00" width="29.43" height="0.8" fill="#9abbdc"/><rect x="157.93" y="136.00" width="29.43" height="0.8" fill="#e7eff7"/><rect x="187.05" y="136.00" width="29.43" height="0.8" fill="#cedeee"/><rect x="216.18" y="136.00" width="29.43" height="0.8" fill="#dbe7f2"/><rect x="12.30" y="136.50" width="29.42" height="0.8" fill="#ea9093"/><rect x="41.42" y="136.50" width="29.43" height="0.8" fill="#f1b5b6"/><rect x="70.55" y="136.50" width="29.43" height="0.8" fill="#f1b7b9"/><rect x="99.67" y="136.50" width="29.43" height="0.8" fill="#a9c5e1"/><rect x="128.80" y="136.50" width="29.43" height="0.8" fill="#97b9db"/><rect x="157.93" y="136.50" width="29.43" height="0.8" fill="#d9e5f2"/><rect x="187.05" y="136.50" width="29.43" height="0.8" fill="#c6d9eb"/><rect x="216.18" y="136.50" width="29.43" height="0.8" fill="#e0eaf4"/><rect x="12.30" y="137.00" width="29.42" height="0.8" fill="#eb9597"/><rect x="41.42" y="137.00" width="29.43" height="0.8" fill="#eea8aa"/><rect x="70.55" y="137.00" width="29.43" height="0.8" fill="#f4c7c8"/><rect x="99.67" y="137.00" width="29.43" height="0.8" fill="#99bbdb"/><rect x="128.80" y="137.00" width="29.43" height="0.8" fill="#84add4"/><rect x="157.93" y="137.00" width="29.43" height="0.8" fill="#d8e5f1"/><rect x="187.05" y="137.00" width="29.43" height="0.8" fill="#c9dbec"/><rect x="216.18" y="137.00" width="29.43" height="0.8" fill="#e2ebf5"/><rect x="12.30" y="137.50" width="29.42" height="0.8" fill="#e16467"/><rect x="41.42" y="137.50" width="29.43" height="0.8" fill="#ec9c9d"/><rect x="70.55" y="137.50" width="29.43" height="0.8" fill="#f3c0c1"/><rect x="99.67" y="137.50" width="29.43" height="0.8" fill="#97b9db"/><rect x="128.80" y="137.50" width="29.43" height="0.8" fill="#95b8da"/><rect x="157.93" y="137.50" width="29.43" height="0.8" fill="#fbfcfe"/><rect x="187.05" y="137.50" width="29.43" height="0.8" fill="#e4edf6"/><rect x="216.18" y="137.50" width="29.43" height="0.8" fill="#ecf2f8"/><rect x="12.30" y="138.00" width="29.42" height="0.8" fill="#db4346"/><rect x="41.42" y="138.00" width="29.43" height="0.8" fill="#e98c8e"/><rect x="70.55" y="138.00" width="29.43" height="0.8" fill="#f0b1b2"/><rect x="99.67" y="138.00" width="29.43" height="0.8" fill="#9fbedd"/><rect x="128.80" y="138.00" width="29.43" height="0.8" fill="#99bbdb"/><rect x="157.93" y="138.00" width="29.43" height="0.8" fill="#f8dbdb"/><rect x="187.05" y="138.00" width="29.43" height="0.8" fill="#f8fafc"/><rect x="216.18" y="138.00" width="29.43" height="0.8" fill="#e2ebf5"/><rect x="12.30" y="138.50" width="29.42" height="0.8" fill="#d72d31"/><rect x="41.42" y="138.50" width="29.43" height="0.8" fill="#e2676a"/><rect x="70.55" y="138.50" width="29.43" height="0.8" fill="#ec9c9e"/><rect x="99.67" y="138.50" width="29.43" height="0.8" fill="#bad1e7"/><rect x="128.80" y="138.50" width="29.43" height="0.8" fill="#9fbedd"/><rect x="157.93" y="138.50" width="29.43" height="0.8" fill="#f8d8d9"/><rect x="187.05" y="138.50" width="29.43" height="0.8" fill="#fffdfd"/><rect x="216.18" y="138.50" width="29.43" height="0.8" fill="#ebf2f8"/><rect x="12.30" y="139.00" width="29.42" height="0.8" fill="#d72d31"/><rect x="41.42" y="139.00" width="29.43" height="0.8" fill="#e47375"/><rect x="70.55" y="139.00" width="29.43" height="0.8" fill="#ec9b9d"/><rect x="99.67" y="139.00" width="29.43" height="0.8" fill="#d1e0ef"/><rect x="128.80" y="139.00" width="29.43" height="0.8" fill="#96b8da"/><rect x="157.93" y="139.00" width="29.43" height="0.8" fill="#fceded"/><rect x="187.05" y="139.00" width="29.43" height="0.8" fill="#fcfdfe"/><rect x="216.18" y="139.00" width="29.43" height="0.8" fill="#e1ebf5"/><rect x="12.30" y="139.50" width="29.42" height="0.8" fill="#db4044"/><rect x="41.42" y="139.50" width="29.43" height="0.8" fill="#ec999b"/><rect x="70.55" y="139.50" width="29.43" height="0.8" fill="#f1b8b9"/><rect x="99.67" y="139.50" width="29.43" height="0.8" fill="#d1e0ef"/><rect x="128.80" y="139.50" width="29.43" height="0.8" fill="#9ebedd"/><rect x="157.93" y="139.50" width="29.43" height="0.8" fill="#fef8f8"/><rect x="187.05" y="139.50" width="29.43" height="0.8" fill="#f9fbfd"/><rect x="216.18" y="139.50" width="29.43" height="0.8" fill="#e0eaf4"/><rect x="12.30" y="140.00" width="29.42" height="0.8" fill="#e36c6f"/><rect x="41.42" y="140.00" width="29.43" height="0.8" fill="#f2bbbd"/><rect x="70.55" y="140.00" width="29.43" height="0.8" fill="#f6d2d3"/><rect x="99.67" y="140.00" width="29.43" height="0.8" fill="#aec9e3"/><rect x="128.80" y="140.00" width="29.43" height="0.8" fill="#91b5d8"/><rect x="157.93" y="140.00" width="29.43" height="0.8" fill="#fcfdfe"/><rect x="187.05" y="140.00" width="29.43" height="0.8" fill="#e4edf6"/><rect x="216.18" y="140.00" width="29.43" height="0.8" fill="#d6e3f1"/><rect x="12.30" y="140.50" width="29.42" height="0.8" fill="#e98e90"/><rect x="41.42" y="140.50" width="29.43" height="0.8" fill="#ec9c9e"/><rect x="70.55" y="140.50" width="29.43" height="0.8" fill="#f6cfd0"/><rect x="99.67" y="140.50" width="29.43" height="0.8" fill="#9fbedd"/><rect x="128.80" y="140.50" width="29.43" height="0.8" fill="#96b9da"/><rect x="157.93" y="140.50" width="29.43" height="0.8" fill="#fffdfd"/><rect x="187.05" y="140.50" width="29.43" height="0.8" fill="#d0e0ef"/><rect x="216.18" y="140.50" width="29.43" height="0.8" fill="#edf3f9"/><rect x="12.30" y="141.00" width="29.42" height="0.8" fill="#eb9698"/><rect x="41.42" y="141.00" width="29.43" height="0.8" fill="#eb9597"/><rect x="70.55" y="141.00" width="29.43" height="0.8" fill="#f3bebf"/><rect x="99.67" y="141.00" width="29.43" height="0.8" fill="#adc8e2"/><rect x="128.80" y="141.00" width="29.43" height="0.8" fill="#a0bfde"/><rect x="157.93" y="141.00" width="29.43" height="0.8" fill="#fdf7f7"/><rect x="187.05" y="141.00" width="29.43" height="0.8" fill="#d7e4f1"/><rect x="216.18" y="141.00" width="29.43" height="0.8" fill="#fefafa"/><rect x="12.30" y="141.50" width="29.42" height="0.8" fill="#e8888a"/><rect x="41.42" y="141.50" width="29.43" height="0.8" fill="#e88689"/><rect x="70.55" y="141.50" width="29.43" height="0.8" fill="#efadaf"/><rect x="99.67" y="141.50" width="29.43" height="0.8" fill="#bbd1e7"/><rect x="128.80" y="141.50" width="29.43" height="0.8" fill="#c6d9eb"/><rect x="157.93" y="141.50" width="29.43" height="0.8" fill="#fbeaea"/><rect x="187.05" y="141.50" width="29.43" height="0.8" fill="#f8fbfd"/><rect x="216.18" y="141.50" width="29.43" height="0.8" fill="#fef7f8"/><rect x="12.30" y="142.00" width="29.42" height="0.8" fill="#e36e70"/><rect x="41.42" y="142.00" width="29.43" height="0.8" fill="#eb9698"/><rect x="70.55" y="142.00" width="29.43" height="0.8" fill="#efaaab"/><rect x="99.67" y="142.00" width="29.43" height="0.8" fill="#bcd2e7"/><rect x="128.80" y="142.00" width="29.43" height="0.8" fill="#e3ecf5"/><rect x="157.93" y="142.00" width="29.43" height="0.8" fill="#fcf0f0"/><rect x="187.05" y="142.00" width="29.43" height="0.8" fill="#fdf4f4"/><rect x="216.18" y="142.00" width="29.43" height="0.8" fill="#fefbfb"/><rect x="12.30" y="142.50" width="29.42" height="0.8" fill="#dc4a4d"/><rect x="41.42" y="142.50" width="29.43" height="0.8" fill="#eea4a6"/><rect x="70.55" y="142.50" width="29.43" height="0.8" fill="#f1b7b8"/><rect x="99.67" y="142.50" width="29.43" height="0.8" fill="#a7c4e0"/><rect x="128.80" y="142.50" width="29.43" height="0.8" fill="#e3ecf5"/><rect x="157.93" y="142.50" width="29.43" height="0.8" fill="#fffefe"/><rect x="187.05" y="142.50" width="29.43" height="0.8" fill="#fefefe"/><rect x="216.18" y="142.50" width="29.43" height="0.8" fill="#f2f7fb"/><rect x="12.30" y="143.00" width="29.42" height="0.8" fill="#d9383b"/><rect x="41.42" y="143.00" width="29.43" height="0.8" fill="#eea4a5"/><rect x="70.55" y="143.00" width="29.43" height="0.8" fill="#f2bcbd"/><rect x="99.67" y="143.00" width="29.43" height="0.8" fill="#a0bfde"/><rect x="128.80" y="143.00" width="29.43" height="0.8" fill="#c5d8eb"/><rect x="157.93" y="143.00" width="29.43" height="0.8" fill="#f6f9fc"/><rect x="187.05" y="143.00" width="29.43" height="0.8" fill="#d9e6f2"/><rect x="216.18" y="143.00" width="29.43" height="0.8" fill="#e0eaf4"/><rect x="12.30" y="143.50" width="29.42" height="0.8" fill="#da3f43"/><rect x="41.42" y="143.50" width="29.43" height="0.8" fill="#eda2a4"/><rect x="70.55" y="143.50" width="29.43" height="0.8" fill="#f1b6b7"/><rect x="99.67" y="143.50" width="29.43" height="0.8" fill="#a1c0de"/><rect x="128.80" y="143.50" width="29.43" height="0.8" fill="#bbd1e7"/><rect x="157.93" y="143.50" width="29.43" height="0.8" fill="#f2f7fb"/><rect x="187.05" y="143.50" width="29.43" height="0.8" fill="#cadbec"/><rect x="216.18" y="143.50" width="29.43" height="0.8" fill="#dce8f3"/><rect x="12.30" y="144.00" width="29.42" height="0.8" fill="#e36e71"/><rect x="41.42" y="144.00" width="29.43" height="0.8" fill="#ea9395"/><rect x="70.55" y="144.00" width="29.43" height="0.8" fill="#f1b6b7"/><rect x="99.67" y="144.00" width="29.43" height="0.8" fill="#a1c0de"/><rect x="128.80" y="144.00" width="29.43" height="0.8" fill="#b9d0e7"/><rect x="157.93" y="144.00" width="29.43" height="0.8" fill="#e0eaf4"/><rect x="187.05" y="144.00" width="29.43" height="0.8" fill="#b6cee6"/><rect x="216.18" y="144.00" width="29.43" height="0.8" fill="#cfdfee"/><rect x="12.30" y="144.50" width="29.42" height="0.8" fill="#e88688"/><rect x="41.42" y="144.50" width="29.43" height="0.8" fill="#eb9496"/><rect x="70.55" y="144.50" width="29.43" height="0.8" fill="#eea4a6"/><rect x="99.67" y="144.50" width="29.43" height="0.8" fill="#98badb"/><rect x="128.80" y="144.50" width="29.43" height="0.8" fill="#c1d6e9"/><rect x="157.93" y="144.50" width="29.43" height="0.8" fill="#f5f8fb"/><rect x="187.05" y="144.50" width="29.43" height="0.8" fill="#aac6e1"/><rect x="216.18" y="144.50" width="29.43" height="0.8" fill="#c2d6ea"/><rect x="12.30" y="145.00" width="29.42" height="0.8" fill="#eea8a9"/><rect x="41.42" y="145.00" width="29.43" height="0.8" fill="#ec9a9c"/><rect x="70.55" y="145.00" width="29.43" height="0.8" fill="#ea9395"/><rect x="99.67" y="145.00" width="29.43" height="0.8" fill="#a5c3e0"/><rect x="128.80" y="145.00" width="29.43" height="0.8" fill="#bcd2e8"/><rect x="157.93" y="145.00" width="29.43" height="0.8" fill="#f4f8fb"/><rect x="187.05" y="145.00" width="29.43" height="0.8" fill="#9bbcdc"/><rect x="216.18" y="145.00" width="29.43" height="0.8" fill="#b6cee5"/><rect x="12.30" y="145.50" width="29.42" height="0.8" fill="#efa9aa"/><rect x="41.42" y="145.50" width="29.43" height="0.8" fill="#efadaf"/><rect x="70.55" y="145.50" width="29.43" height="0.8" fill="#efa9aa"/><rect x="99.67" y="145.50" width="29.43" height="0.8" fill="#a0bfde"/><rect x="128.80" y="145.50" width="29.43" height="0.8" fill="#a5c3e0"/><rect x="157.93" y="145.50" width="29.43" height="0.8" fill="#e6eef6"/><rect x="187.05" y="145.50" width="29.43" height="0.8" fill="#95b8da"/><rect x="216.18" y="145.50" width="29.43" height="0.8" fill="#97b9db"/><rect x="12.30" y="146.00" width="29.42" height="0.8" fill="#e78385"/><rect x="41.42" y="146.00" width="29.43" height="0.8" fill="#efacae"/><rect x="70.55" y="146.00" width="29.43" height="0.8" fill="#f1b6b7"/><rect x="99.67" y="146.00" width="29.43" height="0.8" fill="#8bb1d7"/><rect x="128.80" y="146.00" width="29.43" height="0.8" fill="#97b9db"/><rect x="157.93" y="146.00" width="29.43" height="0.8" fill="#dde8f3"/><rect x="187.05" y="146.00" width="29.43" height="0.8" fill="#9cbcdc"/><rect x="216.18" y="146.00" width="29.43" height="0.8" fill="#90b4d8"/><rect x="12.30" y="146.50" width="29.42" height="0.8" fill="#df575a"/><rect x="41.42" y="146.50" width="29.43" height="0.8" fill="#ec9c9e"/><rect x="70.55" y="146.50" width="29.43" height="0.8" fill="#efaaac"/><rect x="99.67" y="146.50" width="29.43" height="0.8" fill="#81abd3"/><rect x="128.80" y="146.50" width="29.43" height="0.8" fill="#9bbcdc"/><rect x="157.93" y="146.50" width="29.43" height="0.8" fill="#f0f5fa"/><rect x="187.05" y="146.50" width="29.43" height="0.8" fill="#aac6e1"/><rect x="216.18" y="146.50" width="29.43" height="0.8" fill="#a0bfde"/><rect x="12.30" y="147.00" width="29.42" height="0.8" fill="#db4144"/><rect x="41.42" y="147.00" width="29.43" height="0.8" fill="#ec9d9e"/><rect x="70.55" y="147.00" width="29.43" height="0.8" fill="#f3bec0"/><rect x="99.67" y="147.00" width="29.43" height="0.8" fill="#93b6d9"/><rect x="128.80" y="147.00" width="29.43" height="0.8" fill="#b1cae4"/><rect x="157.93" y="147.00" width="29.43" height="0.8" fill="#e5eef6"/><rect x="187.05" y="147.00" width="29.43" height="0.8" fill="#b8cfe6"/><rect x="216.18" y="147.00" width="29.43" height="0.8" fill="#aec8e3"/><rect x="12.30" y="147.50" width="29.42" height="0.8" fill="#dd4c50"/><rect x="41.42" y="147.50" width="29.43" height="0.8" fill="#eda1a3"/><rect x="70.55" y="147.50" width="29.43" height="0.8" fill="#f4c3c4"/><rect x="99.67" y="147.50" width="29.43" height="0.8" fill="#b7cee6"/><rect x="128.80" y="147.50" width="29.43" height="0.8" fill="#c1d5e9"/><rect x="157.93" y="147.50" width="29.43" height="0.8" fill="#c9dbec"/><rect x="187.05" y="147.50" width="29.43" height="0.8" fill="#d7e4f1"/><rect x="216.18" y="147.50" width="29.43" height="0.8" fill="#b0cae3"/><rect x="12.30" y="148.00" width="29.42" height="0.8" fill="#df585c"/><rect x="41.42" y="148.00" width="29.43" height="0.8" fill="#f0b1b2"/><rect x="70.55" y="148.00" width="29.43" height="0.8" fill="#f1b7b8"/><rect x="99.67" y="148.00" width="29.43" height="0.8" fill="#bed3e8"/><rect x="128.80" y="148.00" width="29.43" height="0.8" fill="#bfd4e9"/><rect x="157.93" y="148.00" width="29.43" height="0.8" fill="#c5d8eb"/><rect x="187.05" y="148.00" width="29.43" height="0.8" fill="#f1f6fa"/><rect x="216.18" y="148.00" width="29.43" height="0.8" fill="#94b7da"/><rect x="12.30" y="148.50" width="29.42" height="0.8" fill="#dd4c50"/><rect x="41.42" y="148.50" width="29.43" height="0.8" fill="#ec9b9d"/><rect x="70.55" y="148.50" width="29.43" height="0.8" fill="#eea4a5"/><rect x="99.67" y="148.50" width="29.43" height="0.8" fill="#a6c3e0"/><rect x="128.80" y="148.50" width="29.43" height="0.8" fill="#aac6e1"/><rect x="157.93" y="148.50" width="29.43" height="0.8" fill="#e6eef6"/><rect x="187.05" y="148.50" width="29.43" height="0.8" fill="#e4edf6"/><rect x="216.18" y="148.50" width="29.43" height="0.8" fill="#83acd4"/><rect x="12.30" y="149.00" width="29.42" height="0.8" fill="#dc4549"/><rect x="41.42" y="149.00" width="29.43" height="0.8" fill="#eb9597"/><rect x="70.55" y="149.00" width="29.43" height="0.8" fill="#f1b3b4"/><rect x="99.67" y="149.00" width="29.43" height="0.8" fill="#87aed5"/><rect x="128.80" y="149.00" width="29.43" height="0.8" fill="#a5c3e0"/><rect x="157.93" y="149.00" width="29.43" height="0.8" fill="#f3f7fb"/><rect x="187.05" y="149.00" width="29.43" height="0.8" fill="#dde8f3"/><rect x="216.18" y="149.00" width="29.43" height="0.8" fill="#8fb4d8"/><rect x="12.30" y="149.50" width="29.42" height="0.8" fill="#e05b5e"/><rect x="41.42" y="149.50" width="29.43" height="0.8" fill="#eb9698"/><rect x="70.55" y="149.50" width="29.43" height="0.8" fill="#f8d8d9"/><rect x="99.67" y="149.50" width="29.43" height="0.8" fill="#8fb4d8"/><rect x="128.80" y="149.50" width="29.43" height="0.8" fill="#98badb"/><rect x="157.93" y="149.50" width="29.43" height="0.8" fill="#e5edf6"/><rect x="187.05" y="149.50" width="29.43" height="0.8" fill="#d2e1ef"/><rect x="216.18" y="149.50" width="29.43" height="0.8" fill="#9abbdc"/><rect x="12.30" y="150.00" width="29.42" height="0.8" fill="#e16366"/><rect x="41.42" y="150.00" width="29.43" height="0.8" fill="#ec999b"/><rect x="70.55" y="150.00" width="29.43" height="0.8" fill="#f6cfd0"/><rect x="99.67" y="150.00" width="29.43" height="0.8" fill="#b8cfe6"/><rect x="128.80" y="150.00" width="29.43" height="0.8" fill="#83acd4"/><rect x="157.93" y="150.00" width="29.43" height="0.8" fill="#e0eaf4"/><rect x="187.05" y="150.00" width="29.43" height="0.8" fill="#cadbec"/><rect x="216.18" y="150.00" width="29.43" height="0.8" fill="#96b8da"/><rect x="12.30" y="150.50" width="29.42" height="0.8" fill="#e67b7d"/><rect x="41.42" y="150.50" width="29.43" height="0.8" fill="#ec9e9f"/><rect x="70.55" y="150.50" width="29.43" height="0.8" fill="#eea7a9"/><rect x="99.67" y="150.50" width="29.43" height="0.8" fill="#d1e0ef"/><rect x="128.80" y="150.50" width="29.43" height="0.8" fill="#7ca7d1"/><rect x="157.93" y="150.50" width="29.43" height="0.8" fill="#e9f0f7"/><rect x="187.05" y="150.50" width="29.43" height="0.8" fill="#b9d0e7"/><rect x="216.18" y="150.50" width="29.43" height="0.8" fill="#9cbddd"/><rect x="12.30" y="151.00" width="29.42" height="0.8" fill="#e9898b"/><rect x="41.42" y="151.00" width="29.43" height="0.8" fill="#ea9092"/><rect x="70.55" y="151.00" width="29.43" height="0.8" fill="#e78385"/><rect x="99.67" y="151.00" width="29.43" height="0.8" fill="#c6d8eb"/><rect x="128.80" y="151.00" width="29.43" height="0.8" fill="#7ba7d1"/><rect x="157.93" y="151.00" width="29.43" height="0.8" fill="#e6eef6"/><rect x="187.05" y="151.00" width="29.43" height="0.8" fill="#b3cce4"/><rect x="216.18" y="151.00" width="29.43" height="0.8" fill="#afc9e3"/><rect x="12.30" y="151.50" width="29.42" height="0.8" fill="#e78385"/><rect x="41.42" y="151.50" width="29.43" height="0.8" fill="#ed9ea0"/><rect x="70.55" y="151.50" width="29.43" height="0.8" fill="#ec999b"/><rect x="99.67" y="151.50" width="29.43" height="0.8" fill="#b1cae4"/><rect x="128.80" y="151.50" width="29.43" height="0.8" fill="#719fcd"/><rect x="157.93" y="151.50" width="29.43" height="0.8" fill="#cedeee"/><rect x="187.05" y="151.50" width="29.43" height="0.8" fill="#a6c3e0"/><rect x="216.18" y="151.50" width="29.43" height="0.8" fill="#a1c0de"/><rect x="12.30" y="152.00" width="29.42" height="0.8" fill="#e47274"/><rect x="41.42" y="152.00" width="29.43" height="0.8" fill="#f0b2b3"/><rect x="70.55" y="152.00" width="29.43" height="0.8" fill="#f5c9ca"/><rect x="99.67" y="152.00" width="29.43" height="0.8" fill="#acc7e2"/><rect x="128.80" y="152.00" width="29.43" height="0.8" fill="#578ec4"/><rect x="157.93" y="152.00" width="29.43" height="0.8" fill="#cbdced"/><rect x="187.05" y="152.00" width="29.43" height="0.8" fill="#90b5d8"/><rect x="216.18" y="152.00" width="29.43" height="0.8" fill="#8bb1d6"/><rect x="12.30" y="152.50" width="29.42" height="0.8" fill="#dc494c"/><rect x="41.42" y="152.50" width="29.43" height="0.8" fill="#ec9ea0"/><rect x="70.55" y="152.50" width="29.43" height="0.8" fill="#f9dfe0"/><rect x="99.67" y="152.50" width="29.43" height="0.8" fill="#b7cee6"/><rect x="128.80" y="152.50" width="29.43" height="0.8" fill="#6396c8"/><rect x="157.93" y="152.50" width="29.43" height="0.8" fill="#e4edf6"/><rect x="187.05" y="152.50" width="29.43" height="0.8" fill="#8cb2d7"/><rect x="216.18" y="152.50" width="29.43" height="0.8" fill="#6c9ccc"/><rect x="12.30" y="153.00" width="29.42" height="0.8" fill="#d83135"/><rect x="41.42" y="153.00" width="29.43" height="0.8" fill="#e5787b"/><rect x="70.55" y="153.00" width="29.43" height="0.8" fill="#f6d1d2"/><rect x="99.67" y="153.00" width="29.43" height="0.8" fill="#bed3e8"/><rect x="128.80" y="153.00" width="29.43" height="0.8" fill="#98badb"/><rect x="157.93" y="153.00" width="29.43" height="0.8" fill="#ecf2f8"/><rect x="187.05" y="153.00" width="29.43" height="0.8" fill="#9fbedd"/><rect x="216.18" y="153.00" width="29.43" height="0.8" fill="#7aa6d1"/><rect x="12.30" y="153.50" width="29.42" height="0.8" fill="#dc494d"/><rect x="41.42" y="153.50" width="29.43" height="0.8" fill="#e26568"/><rect x="70.55" y="153.50" width="29.43" height="0.8" fill="#efaeaf"/><rect x="99.67" y="153.50" width="29.43" height="0.8" fill="#c4d7ea"/><rect x="128.80" y="153.50" width="29.43" height="0.8" fill="#c8daec"/><rect x="157.93" y="153.50" width="29.43" height="0.8" fill="#e9f0f7"/><rect x="187.05" y="153.50" width="29.43" height="0.8" fill="#c2d6ea"/><rect x="216.18" y="153.50" width="29.43" height="0.8" fill="#94b7da"/><rect x="12.30" y="154.00" width="29.42" height="0.8" fill="#e16164"/><rect x="41.42" y="154.00" width="29.43" height="0.8" fill="#df5659"/><rect x="70.55" y="154.00" width="29.43" height="0.8" fill="#eea4a5"/><rect x="99.67" y="154.00" width="29.43" height="0.8" fill="#c7d9eb"/><rect x="128.80" y="154.00" width="29.43" height="0.8" fill="#bfd4e9"/><rect x="157.93" y="154.00" width="29.43" height="0.8" fill="#eaf1f8"/><rect x="187.05" y="154.00" width="29.43" height="0.8" fill="#d1e0ef"/><rect x="216.18" y="154.00" width="29.43" height="0.8" fill="#bed4e8"/><rect x="12.30" y="154.50" width="29.42" height="0.8" fill="#dd4d50"/><rect x="41.42" y="154.50" width="29.43" height="0.8" fill="#de5154"/><rect x="70.55" y="154.50" width="29.43" height="0.8" fill="#eb9597"/><rect x="99.67" y="154.50" width="29.43" height="0.8" fill="#c3d7ea"/><rect x="128.80" y="154.50" width="29.43" height="0.8" fill="#a6c3e0"/><rect x="157.93" y="154.50" width="29.43" height="0.8" fill="#fffefe"/><rect x="187.05" y="154.50" width="29.43" height="0.8" fill="#d9e5f2"/><rect x="216.18" y="154.50" width="29.43" height="0.8" fill="#e5eef6"/><rect x="12.30" y="155.00" width="29.42" height="0.8" fill="#d6292d"/><rect x="41.42" y="155.00" width="29.43" height="0.8" fill="#dd4e51"/><rect x="70.55" y="155.00" width="29.43" height="0.8" fill="#ec9b9d"/><rect x="99.67" y="155.00" width="29.43" height="0.8" fill="#c4d8eb"/><rect x="128.80" y="155.00" width="29.43" height="0.8" fill="#a0bfde"/><rect x="157.93" y="155.00" width="29.43" height="0.8" fill="#fdf3f3"/><rect x="187.05" y="155.00" width="29.43" height="0.8" fill="#dde8f3"/><rect x="216.18" y="155.00" width="29.43" height="0.8" fill="#fafcfd"/><rect x="12.30" y="155.50" width="29.42" height="0.8" fill="#da3d40"/><rect x="41.42" y="155.50" width="29.43" height="0.8" fill="#df575a"/><rect x="70.55" y="155.50" width="29.43" height="0.8" fill="#eea8aa"/><rect x="99.67" y="155.50" width="29.43" height="0.8" fill="#bfd4e9"/><rect x="128.80" y="155.50" width="29.43" height="0.8" fill="#afc9e3"/><rect x="157.93" y="155.50" width="29.43" height="0.8" fill="#fdf5f6"/><rect x="187.05" y="155.50" width="29.43" height="0.8" fill="#e5eef6"/><rect x="216.18" y="155.50" width="29.43" height="0.8" fill="#fef9f9"/><rect x="12.30" y="156.00" width="29.42" height="0.8" fill="#df565a"/><rect x="41.42" y="156.00" width="29.43" height="0.8" fill="#e26769"/><rect x="70.55" y="156.00" width="29.43" height="0.8" fill="#f0b0b1"/><rect x="99.67" y="156.00" width="29.43" height="0.8" fill="#aec9e3"/><rect x="128.80" y="156.00" width="29.43" height="0.8" fill="#cfdfee"/><rect x="157.93" y="156.00" width="29.43" height="0.8" fill="#e6eef6"/><rect x="187.05" y="156.00" width="29.43" height="0.8" fill="#dfeaf4"/><rect x="216.18" y="156.00" width="29.43" height="0.8" fill="#ecf2f8"/><rect x="12.30" y="156.50" width="29.42" height="0.8" fill="#e47376"/><rect x="41.42" y="156.50" width="29.43" height="0.8" fill="#e78386"/><rect x="70.55" y="156.50" width="29.43" height="0.8" fill="#efaaac"/><rect x="99.67" y="156.50" width="29.43" height="0.8" fill="#87aed5"/><rect x="128.80" y="156.50" width="29.43" height="0.8" fill="#cddeee"/><rect x="157.93" y="156.50" width="29.43" height="0.8" fill="#e4edf6"/><rect x="187.05" y="156.50" width="29.43" height="0.8" fill="#c2d6ea"/><rect x="216.18" y="156.50" width="29.43" height="0.8" fill="#c2d6ea"/><rect x="12.30" y="157.00" width="29.42" height="0.8" fill="#e67e81"/><rect x="41.42" y="157.00" width="29.43" height="0.8" fill="#eb9698"/><rect x="70.55" y="157.00" width="29.43" height="0.8" fill="#eea7a8"/><rect x="99.67" y="157.00" width="29.43" height="0.8" fill="#6a9bcb"/><rect x="128.80" y="157.00" width="29.43" height="0.8" fill="#cedeee"/><rect x="157.93" y="157.00" width="29.43" height="0.8" fill="#fbeced"/><rect x="187.05" y="157.00" width="29.43" height="0.8" fill="#b1cbe4"/><rect x="216.18" y="157.00" width="29.43" height="0.8" fill="#b5cde5"/><rect x="12.30" y="157.50" width="29.42" height="0.8" fill="#e5787a"/><rect x="41.42" y="157.50" width="29.43" height="0.8" fill="#eb989a"/><rect x="70.55" y="157.50" width="29.43" height="0.8" fill="#eb9597"/><rect x="99.67" y="157.50" width="29.43" height="0.8" fill="#6698ca"/><rect x="128.80" y="157.50" width="29.43" height="0.8" fill="#c4d8eb"/><rect x="157.93" y="157.50" width="29.43" height="0.8" fill="#f3c1c2"/><rect x="187.05" y="157.50" width="29.43" height="0.8" fill="#a8c4e1"/><rect x="216.18" y="157.50" width="29.43" height="0.8" fill="#c2d6ea"/><rect x="12.30" y="158.00" width="29.42" height="0.8" fill="#e47275"/><rect x="41.42" y="158.00" width="29.43" height="0.8" fill="#ec9a9c"/><rect x="70.55" y="158.00" width="29.43" height="0.8" fill="#e78184"/><rect x="99.67" y="158.00" width="29.43" height="0.8" fill="#79a5d0"/><rect x="128.80" y="158.00" width="29.43" height="0.8" fill="#c7d9eb"/><rect x="157.93" y="158.00" width="29.43" height="0.8" fill="#f7d6d7"/><rect x="187.05" y="158.00" width="29.43" height="0.8" fill="#bdd3e8"/><rect x="216.18" y="158.00" width="29.43" height="0.8" fill="#ccdded"/><rect x="12.30" y="158.50" width="29.42" height="0.8" fill="#e88487"/><rect x="41.42" y="158.50" width="29.43" height="0.8" fill="#eb989a"/><rect x="70.55" y="158.50" width="29.43" height="0.8" fill="#e8898b"/><rect x="99.67" y="158.50" width="29.43" height="0.8" fill="#8ab0d6"/><rect x="128.80" y="158.50" width="29.43" height="0.8" fill="#cedeee"/><rect x="157.93" y="158.50" width="29.43" height="0.8" fill="#f4f8fb"/><rect x="187.05" y="158.50" width="29.43" height="0.8" fill="#cedeee"/><rect x="216.18" y="158.50" width="29.43" height="0.8" fill="#d6e4f1"/><rect x="12.30" y="159.00" width="29.42" height="0.8" fill="#ec9d9f"/><rect x="41.42" y="159.00" width="29.43" height="0.8" fill="#e9898b"/><rect x="70.55" y="159.00" width="29.43" height="0.8" fill="#efacae"/><rect x="99.67" y="159.00" width="29.43" height="0.8" fill="#9cbddd"/><rect x="128.80" y="159.00" width="29.43" height="0.8" fill="#cedeee"/><rect x="157.93" y="159.00" width="29.43" height="0.8" fill="#e4edf6"/><rect x="187.05" y="159.00" width="29.43" height="0.8" fill="#cedeee"/><rect x="216.18" y="159.00" width="29.43" height="0.8" fill="#e4edf5"/><rect x="12.30" y="159.50" width="29.42" height="0.8" fill="#e88587"/><rect x="41.42" y="159.50" width="29.43" height="0.8" fill="#e5787b"/><rect x="70.55" y="159.50" width="29.43" height="0.8" fill="#f2babc"/><rect x="99.67" y="159.50" width="29.43" height="0.8" fill="#b4cce5"/><rect x="128.80" y="159.50" width="29.43" height="0.8" fill="#b6cee5"/><rect x="157.93" y="159.50" width="29.43" height="0.8" fill="#edf3f9"/><rect x="187.05" y="159.50" width="29.43" height="0.8" fill="#d9e5f2"/><rect x="216.18" y="159.50" width="29.43" height="0.8" fill="#e0eaf4"/><rect x="12.30" y="160.00" width="29.42" height="0.8" fill="#e16466"/><rect x="41.42" y="160.00" width="29.43" height="0.8" fill="#e67b7e"/><rect x="70.55" y="160.00" width="29.43" height="0.8" fill="#f2bdbe"/><rect x="99.67" y="160.00" width="29.43" height="0.8" fill="#d4e2f0"/><rect x="128.80" y="160.00" width="29.43" height="0.8" fill="#a7c4e0"/><rect x="157.93" y="160.00" width="29.43" height="0.8" fill="#e6eef6"/><rect x="187.05" y="160.00" width="29.43" height="0.8" fill="#dde8f3"/><rect x="216.18" y="160.00" width="29.43" height="0.8" fill="#dfe9f4"/><rect x="12.30" y="160.50" width="29.42" height="0.8" fill="#dd4f52"/><rect x="41.42" y="160.50" width="29.43" height="0.8" fill="#e78183"/><rect x="70.55" y="160.50" width="29.43" height="0.8" fill="#f1b5b7"/><rect x="99.67" y="160.50" width="29.43" height="0.8" fill="#cfdeee"/><rect x="128.80" y="160.50" width="29.43" height="0.8" fill="#9fbedd"/><rect x="157.93" y="160.50" width="29.43" height="0.8" fill="#e5edf6"/><rect x="187.05" y="160.50" width="29.43" height="0.8" fill="#e0ebf4"/><rect x="216.18" y="160.50" width="29.43" height="0.8" fill="#d5e3f0"/><rect x="12.30" y="161.00" width="29.42" height="0.8" fill="#df585b"/><rect x="41.42" y="161.00" width="29.43" height="0.8" fill="#e88688"/><rect x="70.55" y="161.00" width="29.43" height="0.8" fill="#eea8aa"/><rect x="99.67" y="161.00" width="29.43" height="0.8" fill="#c1d5e9"/><rect x="128.80" y="161.00" width="29.43" height="0.8" fill="#a7c4e0"/><rect x="157.93" y="161.00" width="29.43" height="0.8" fill="#f6f9fc"/><rect x="187.05" y="161.00" width="29.43" height="0.8" fill="#cfdfee"/><rect x="216.18" y="161.00" width="29.43" height="0.8" fill="#d2e1ef"/><rect x="12.30" y="161.50" width="29.42" height="0.8" fill="#e36d70"/><rect x="41.42" y="161.50" width="29.43" height="0.8" fill="#eea4a5"/><rect x="70.55" y="161.50" width="29.43" height="0.8" fill="#f0afb1"/><rect x="99.67" y="161.50" width="29.43" height="0.8" fill="#b6cee5"/><rect x="128.80" y="161.50" width="29.43" height="0.8" fill="#84acd4"/><rect x="157.93" y="161.50" width="29.43" height="0.8" fill="#fbfcfe"/><rect x="187.05" y="161.50" width="29.43" height="0.8" fill="#bdd2e8"/><rect x="216.18" y="161.50" width="29.43" height="0.8" fill="#c6d9eb"/><rect x="12.30" y="162.00" width="29.42" height="0.8" fill="#e98d8f"/><rect x="41.42" y="162.00" width="29.43" height="0.8" fill="#f2bdbe"/><rect x="70.55" y="162.00" width="29.43" height="0.8" fill="#f4c6c7"/><rect x="99.67" y="162.00" width="29.43" height="0.8" fill="#b3cce4"/><rect x="128.80" y="162.00" width="29.43" height="0.8" fill="#71a0ce"/><rect x="157.93" y="162.00" width="29.43" height="0.8" fill="#f3f7fb"/><rect x="187.05" y="162.00" width="29.43" height="0.8" fill="#afc9e3"/><rect x="216.18" y="162.00" width="29.43" height="0.8" fill="#bfd4e9"/><rect x="12.30" y="162.50" width="29.42" height="0.8" fill="#e98c8e"/><rect x="41.42" y="162.50" width="29.43" height="0.8" fill="#f4c4c5"/><rect x="70.55" y="162.50" width="29.43" height="0.8" fill="#f8dadb"/><rect x="99.67" y="162.50" width="29.43" height="0.8" fill="#b2cbe4"/><rect x="128.80" y="162.50" width="29.43" height="0.8" fill="#7ca7d1"/><rect x="157.93" y="162.50" width="29.43" height="0.8" fill="#e4edf6"/><rect x="187.05" y="162.50" width="29.43" height="0.8" fill="#bcd2e8"/><rect x="216.18" y="162.50" width="29.43" height="0.8" fill="#c2d6ea"/><rect x="12.30" y="163.00" width="29.42" height="0.8" fill="#eb9698"/><rect x="41.42" y="163.00" width="29.43" height="0.8" fill="#f0afb0"/><rect x="70.55" y="163.00" width="29.43" height="0.8" fill="#f7d6d7"/><rect x="99.67" y="163.00" width="29.43" height="0.8" fill="#aac6e1"/><rect x="128.80" y="163.00" width="29.43" height="0.8" fill="#9ebedd"/><rect x="157.93" y="163.00" width="29.43" height="0.8" fill="#ecf2f8"/><rect x="187.05" y="163.00" width="29.43" height="0.8" fill="#cadbec"/><rect x="216.18" y="163.00" width="29.43" height="0.8" fill="#c0d5e9"/><rect x="12.30" y="163.50" width="29.42" height="0.8" fill="#e98e90"/><rect x="41.42" y="163.50" width="29.43" height="0.8" fill="#ec9a9c"/><rect x="70.55" y="163.50" width="29.43" height="0.8" fill="#f4c6c7"/><rect x="99.67" y="163.50" width="29.43" height="0.8" fill="#b0cae3"/><rect x="128.80" y="163.50" width="29.43" height="0.8" fill="#b8cfe6"/><rect x="157.93" y="163.50" width="29.43" height="0.8" fill="#ffffff"/><rect x="187.05" y="163.50" width="29.43" height="0.8" fill="#c4d7ea"/><rect x="216.18" y="163.50" width="29.43" height="0.8" fill="#c4d7ea"/><rect x="12.30" y="164.00" width="29.42" height="0.8" fill="#ea8f91"/><rect x="41.42" y="164.00" width="29.43" height="0.8" fill="#eb9799"/><rect x="70.55" y="164.00" width="29.43" height="0.8" fill="#efa9ab"/><rect x="99.67" y="164.00" width="29.43" height="0.8" fill="#bed3e8"/><rect x="128.80" y="164.00" width="29.43" height="0.8" fill="#b5cde5"/><rect x="157.93" y="164.00" width="29.43" height="0.8" fill="#fdf3f3"/><rect x="187.05" y="164.00" width="29.43" height="0.8" fill="#c0d5e9"/><rect x="216.18" y="164.00" width="29.43" height="0.8" fill="#c2d6ea"/><rect x="12.30" y="164.50" width="29.42" height="0.8" fill="#e67e80"/><rect x="41.42" y="164.50" width="29.43" height="0.8" fill="#ec9a9c"/><rect x="70.55" y="164.50" width="29.43" height="0.8" fill="#eb9597"/><rect x="99.67" y="164.50" width="29.43" height="0.8" fill="#d5e3f0"/><rect x="128.80" y="164.50" width="29.43" height="0.8" fill="#bdd2e8"/><rect x="157.93" y="164.50" width="29.43" height="0.8" fill="#fefafa"/><rect x="187.05" y="164.50" width="29.43" height="0.8" fill="#cbdced"/><rect x="216.18" y="164.50" width="29.43" height="0.8" fill="#bdd2e8"/><rect x="12.30" y="165.00" width="29.42" height="0.8" fill="#e16164"/><rect x="41.42" y="165.00" width="29.43" height="0.8" fill="#e98b8d"/><rect x="70.55" y="165.00" width="29.43" height="0.8" fill="#e78284"/><rect x="99.67" y="165.00" width="29.43" height="0.8" fill="#c1d6e9"/><rect x="128.80" y="165.00" width="29.43" height="0.8" fill="#d5e3f0"/><rect x="157.93" y="165.00" width="29.43" height="0.8" fill="#fef8f8"/><rect x="187.05" y="165.00" width="29.43" height="0.8" fill="#dde8f3"/><rect x="216.18" y="165.00" width="29.43" height="0.8" fill="#b6cee6"/><rect x="12.30" y="165.50" width="29.42" height="0.8" fill="#e36d70"/><rect x="41.42" y="165.50" width="29.43" height="0.8" fill="#ea9193"/><rect x="70.55" y="165.50" width="29.43" height="0.8" fill="#eea7a8"/><rect x="99.67" y="165.50" width="29.43" height="0.8" fill="#8db3d7"/><rect x="128.80" y="165.50" width="29.43" height="0.8" fill="#d1e0ef"/><rect x="157.93" y="165.50" width="29.43" height="0.8" fill="#f9fbfd"/><rect x="187.05" y="165.50" width="29.43" height="0.8" fill="#cbdced"/><rect x="216.18" y="165.50" width="29.43" height="0.8" fill="#b3cce4"/><rect x="12.30" y="166.00" width="29.42" height="0.8" fill="#e88588"/><rect x="41.42" y="166.00" width="29.43" height="0.8" fill="#ec9c9e"/><rect x="70.55" y="166.00" width="29.43" height="0.8" fill="#f4c3c4"/><rect x="99.67" y="166.00" width="29.43" height="0.8" fill="#7ca7d1"/><rect x="128.80" y="166.00" width="29.43" height="0.8" fill="#c6d8eb"/><rect x="157.93" y="166.00" width="29.43" height="0.8" fill="#f9fbfd"/><rect x="187.05" y="166.00" width="29.43" height="0.8" fill="#bfd4e9"/><rect x="216.18" y="166.00" width="29.43" height="0.8" fill="#b1cbe4"/><rect x="12.30" y="166.50" width="29.42" height="0.8" fill="#ec9b9d"/><rect x="41.42" y="166.50" width="29.43" height="0.8" fill="#f2b9ba"/><rect x="70.55" y="166.50" width="29.43" height="0.8" fill="#f4c7c8"/><rect x="99.67" y="166.50" width="29.43" height="0.8" fill="#81aad3"/><rect x="128.80" y="166.50" width="29.43" height="0.8" fill="#b8cfe6"/><rect x="157.93" y="166.50" width="29.43" height="0.8" fill="#f3f7fb"/><rect x="187.05" y="166.50" width="29.43" height="0.8" fill="#b8cfe6"/><rect x="216.18" y="166.50" width="29.43" height="0.8" fill="#afc9e3"/><rect x="12.30" y="167.00" width="29.42" height="0.8" fill="#eb9698"/><rect x="41.42" y="167.00" width="29.43" height="0.8" fill="#f7d3d3"/><rect x="70.55" y="167.00" width="29.43" height="0.8" fill="#f8d9da"/><rect x="99.67" y="167.00" width="29.43" height="0.8" fill="#8fb4d8"/><rect x="128.80" y="167.00" width="29.43" height="0.8" fill="#9abbdc"/><rect x="157.93" y="167.00" width="29.43" height="0.8" fill="#e2ebf5"/><rect x="187.05" y="167.00" width="29.43" height="0.8" fill="#b2cbe4"/><rect x="216.18" y="167.00" width="29.43" height="0.8" fill="#a4c2df"/><rect x="12.30" y="167.50" width="29.42" height="0.8" fill="#e36b6d"/><rect x="41.42" y="167.50" width="29.43" height="0.8" fill="#f3bfc0"/><rect x="70.55" y="167.50" width="29.43" height="0.8" fill="#f6cecf"/><rect x="99.67" y="167.50" width="29.43" height="0.8" fill="#a7c4e0"/><rect x="128.80" y="167.50" width="29.43" height="0.8" fill="#92b5d9"/><rect x="157.93" y="167.50" width="29.43" height="0.8" fill="#ebf2f8"/><rect x="187.05" y="167.50" width="29.43" height="0.8" fill="#afc9e3"/><rect x="216.18" y="167.50" width="29.43" height="0.8" fill="#ccdded"/><rect x="12.30" y="168.00" width="29.42" height="0.8" fill="#dc4649"/><rect x="41.42" y="168.00" width="29.43" height="0.8" fill="#ea9395"/><rect x="70.55" y="168.00" width="29.43" height="0.8" fill="#f0afb0"/><rect x="99.67" y="168.00" width="29.43" height="0.8" fill="#c4d8ea"/><rect x="128.80" y="168.00" width="29.43" height="0.8" fill="#a4c2df"/><rect x="157.93" y="168.00" width="29.43" height="0.8" fill="#fceeee"/><rect x="187.05" y="168.00" width="29.43" height="0.8" fill="#bad1e7"/><rect x="216.18" y="168.00" width="29.43" height="0.8" fill="#feffff"/><rect x="12.30" y="168.50" width="29.42" height="0.8" fill="#dc4549"/><rect x="41.42" y="168.50" width="29.43" height="0.8" fill="#e88789"/><rect x="70.55" y="168.50" width="29.43" height="0.8" fill="#e9898b"/><rect x="99.67" y="168.50" width="29.43" height="0.8" fill="#dae6f2"/><rect x="128.80" y="168.50" width="29.43" height="0.8" fill="#b2cbe4"/><rect x="157.93" y="168.50" width="29.43" height="0.8" fill="#f9e1e1"/><rect x="187.05" y="168.50" width="29.43" height="0.8" fill="#d3e2f0"/><rect x="216.18" y="168.50" width="29.43" height="0.8" fill="#fcf1f1"/><rect x="12.30" y="169.00" width="29.42" height="0.8" fill="#de5053"/><rect x="41.42" y="169.00" width="29.43" height="0.8" fill="#e98c8e"/><rect x="70.55" y="169.00" width="29.43" height="0.8" fill="#e57779"/><rect x="99.67" y="169.00" width="29.43" height="0.8" fill="#d4e2f0"/><rect x="128.80" y="169.00" width="29.43" height="0.8" fill="#a7c4e0"/><rect x="157.93" y="169.00" width="29.43" height="0.8" fill="#ffffff"/><rect x="187.05" y="169.00" width="29.43" height="0.8" fill="#e3ecf5"/><rect x="216.18" y="169.00" width="29.43" height="0.8" fill="#f2f6fb"/><rect x="12.30" y="169.50" width="29.42" height="0.8" fill="#e26668"/><rect x="41.42" y="169.50" width="29.43" height="0.8" fill="#eda0a1"/><rect x="70.55" y="169.50" width="29.43" height="0.8" fill="#e78284"/><rect x="99.67" y="169.50" width="29.43" height="0.8" fill="#cedeee"/><rect x="128.80" y="169.50" width="29.43" height="0.8" fill="#95b8da"/><rect x="157.93" y="169.50" width="29.43" height="0.8" fill="#e6eef6"/><rect x="187.05" y="169.50" width="29.43" height="0.8" fill="#eff4f9"/><rect x="216.18" y="169.50" width="29.43" height="0.8" fill="#cfdeee"/><rect x="12.30" y="170.00" width="29.42" height="0.8" fill="#e05a5d"/><rect x="41.42" y="170.00" width="29.43" height="0.8" fill="#f2b9ba"/><rect x="70.55" y="170.00" width="29.43" height="0.8" fill="#eb989a"/><rect x="99.67" y="170.00" width="29.43" height="0.8" fill="#cadbec"/><rect x="128.80" y="170.00" width="29.43" height="0.8" fill="#a5c2e0"/><rect x="157.93" y="170.00" width="29.43" height="0.8" fill="#d8e5f1"/><rect x="187.05" y="170.00" width="29.43" height="0.8" fill="#eff4f9"/><rect x="216.18" y="170.00" width="29.43" height="0.8" fill="#c2d6ea"/><rect x="12.30" y="170.50" width="29.42" height="0.8" fill="#dd4a4e"/><rect x="41.42" y="170.50" width="29.43" height="0.8" fill="#eea6a8"/><rect x="70.55" y="170.50" width="29.43" height="0.8" fill="#f2b9bb"/><rect x="99.67" y="170.50" width="29.43" height="0.8" fill="#c8daec"/><rect x="128.80" y="170.50" width="29.43" height="0.8" fill="#b3cce4"/><rect x="157.93" y="170.50" width="29.43" height="0.8" fill="#e8f0f7"/><rect x="187.05" y="170.50" width="29.43" height="0.8" fill="#f0f5fa"/><rect x="216.18" y="170.50" width="29.43" height="0.8" fill="#c6d9eb"/><rect x="12.30" y="171.00" width="29.42" height="0.8" fill="#df5659"/><rect x="41.42" y="171.00" width="29.43" height="0.8" fill="#e88789"/><rect x="70.55" y="171.00" width="29.43" height="0.8" fill="#f6cecf"/><rect x="99.67" y="171.00" width="29.43" height="0.8" fill="#9fbedd"/><rect x="128.80" y="171.00" width="29.43" height="0.8" fill="#bdd3e8"/><rect x="157.93" y="171.00" width="29.43" height="0.8" fill="#f8fafc"/><rect x="187.05" y="171.00" width="29.43" height="0.8" fill="#feffff"/><rect x="216.18" y="171.00" width="29.43" height="0.8" fill="#d1e0ef"/><rect x="12.30" y="171.50" width="29.42" height="0.8" fill="#e67a7c"/><rect x="41.42" y="171.50" width="29.43" height="0.8" fill="#e67e80"/><rect x="70.55" y="171.50" width="29.43" height="0.8" fill="#f4c6c7"/><rect x="99.67" y="171.50" width="29.43" height="0.8" fill="#8fb4d8"/><rect x="128.80" y="171.50" width="29.43" height="0.8" fill="#b1cbe4"/><rect x="157.93" y="171.50" width="29.43" height="0.8" fill="#f3f7fb"/><rect x="187.05" y="171.50" width="29.43" height="0.8" fill="#fbebec"/><rect x="216.18" y="171.50" width="29.43" height="0.8" fill="#cbdced"/><rect x="12.30" y="172.00" width="29.42" height="0.8" fill="#e78183"/><rect x="41.42" y="172.00" width="29.43" height="0.8" fill="#e36f71"/><rect x="70.55" y="172.00" width="29.43" height="0.8" fill="#eda2a4"/><rect x="99.67" y="172.00" width="29.43" height="0.8" fill="#a1c0de"/><rect x="128.80" y="172.00" width="29.43" height="0.8" fill="#a2c0de"/><rect x="157.93" y="172.00" width="29.43" height="0.8" fill="#f7fafc"/><rect x="187.05" y="172.00" width="29.43" height="0.8" fill="#fbebec"/><rect x="216.18" y="172.00" width="29.43" height="0.8" fill="#c6d9eb"/><rect x="12.30" y="172.50" width="29.42" height="0.8" fill="#e47073"/><rect x="41.42" y="172.50" width="29.43" height="0.8" fill="#e05f62"/><rect x="70.55" y="172.50" width="29.43" height="0.8" fill="#efa9ab"/><rect x="99.67" y="172.50" width="29.43" height="0.8" fill="#a9c5e1"/><rect x="128.80" y="172.50" width="29.43" height="0.8" fill="#afc9e3"/><rect x="157.93" y="172.50" width="29.43" height="0.8" fill="#f9fbfd"/><rect x="187.05" y="172.50" width="29.43" height="0.8" fill="#fefafa"/><rect x="216.18" y="172.50" width="29.43" height="0.8" fill="#c5d8eb"/><rect x="12.30" y="173.00" width="29.42" height="0.8" fill="#e2696b"/><rect x="41.42" y="173.00" width="29.43" height="0.8" fill="#e2686b"/><rect x="70.55" y="173.00" width="29.43" height="0.8" fill="#f6cfcf"/><rect x="99.67" y="173.00" width="29.43" height="0.8" fill="#a4c2df"/><rect x="128.80" y="173.00" width="29.43" height="0.8" fill="#bad0e7"/><rect x="157.93" y="173.00" width="29.43" height="0.8" fill="#fcfdfe"/><rect x="187.05" y="173.00" width="29.43" height="0.8" fill="#edf3f9"/><rect x="216.18" y="173.00" width="29.43" height="0.8" fill="#b2cbe4"/><rect x="12.30" y="173.50" width="29.42" height="0.8" fill="#e78385"/><rect x="41.42" y="173.50" width="29.43" height="0.8" fill="#e88689"/><rect x="70.55" y="173.50" width="29.43" height="0.8" fill="#fae6e7"/><rect x="99.67" y="173.50" width="29.43" height="0.8" fill="#98badb"/><rect x="128.80" y="173.50" width="29.43" height="0.8" fill="#a5c2e0"/><rect x="157.93" y="173.50" width="29.43" height="0.8" fill="#f5f8fb"/><rect x="187.05" y="173.50" width="29.43" height="0.8" fill="#cbdced"/><rect x="216.18" y="173.50" width="29.43" height="0.8" fill="#a2c0de"/><rect x="12.30" y="174.00" width="29.42" height="0.8" fill="#ea8e90"/><rect x="41.42" y="174.00" width="29.43" height="0.8" fill="#eea4a5"/><rect x="70.55" y="174.00" width="29.43" height="0.8" fill="#fbeaea"/><rect x="99.67" y="174.00" width="29.43" height="0.8" fill="#b8cfe6"/><rect x="128.80" y="174.00" width="29.43" height="0.8" fill="#7aa5d0"/><rect x="157.93" y="174.00" width="29.43" height="0.8" fill="#fafcfd"/><rect x="187.05" y="174.00" width="29.43" height="0.8" fill="#c0d4e9"/><rect x="216.18" y="174.00" width="29.43" height="0.8" fill="#aec9e3"/><rect x="12.30" y="174.50" width="29.42" height="0.8" fill="#e16366"/><rect x="41.42" y="174.50" width="29.43" height="0.8" fill="#e5797b"/><rect x="70.55" y="174.50" width="29.43" height="0.8" fill="#f6cecf"/><rect x="99.67" y="174.50" width="29.43" height="0.8" fill="#eef3f9"/><rect x="128.80" y="174.50" width="29.43" height="0.8" fill="#8eb3d8"/><rect x="157.93" y="174.50" width="29.43" height="0.8" fill="#fcf2f2"/><rect x="187.05" y="174.50" width="29.43" height="0.8" fill="#f2f6fa"/><rect x="216.18" y="174.50" width="29.43" height="0.8" fill="#ebf1f8"/><rect x="12.30" y="175.00" width="29.42" height="0.8" fill="#dd4b4f"/><rect x="41.42" y="175.00" width="29.43" height="0.8" fill="#dc464a"/><rect x="70.55" y="175.00" width="29.43" height="0.8" fill="#eea8aa"/><rect x="99.67" y="175.00" width="29.43" height="0.8" fill="#f9fbfd"/><rect x="128.80" y="175.00" width="29.43" height="0.8" fill="#afc9e3"/><rect x="157.93" y="175.00" width="29.43" height="0.8" fill="#fcedee"/><rect x="187.05" y="175.00" width="29.43" height="0.8" fill="#f9e0e1"/><rect x="216.18" y="175.00" width="29.43" height="0.8" fill="#fdf5f5"/><rect x="12.30" y="175.50" width="29.42" height="0.8" fill="#df575a"/><rect x="41.42" y="175.50" width="29.43" height="0.8" fill="#dc474a"/><rect x="70.55" y="175.50" width="29.43" height="0.8" fill="#eb989a"/><rect x="99.67" y="175.50" width="29.43" height="0.8" fill="#d0dfee"/><rect x="128.80" y="175.50" width="29.43" height="0.8" fill="#bbd1e7"/><rect x="157.93" y="175.50" width="29.43" height="0.8" fill="#ffffff"/><rect x="187.05" y="175.50" width="29.43" height="0.8" fill="#fefeff"/><rect x="216.18" y="175.50" width="29.43" height="0.8" fill="#f8fafc"/><rect x="12.30" y="176.00" width="29.42" height="0.8" fill="#e67e80"/><rect x="41.42" y="176.00" width="29.43" height="0.8" fill="#e78284"/><rect x="70.55" y="176.00" width="29.43" height="0.8" fill="#efa9aa"/><rect x="99.67" y="176.00" width="29.43" height="0.8" fill="#a7c4e0"/><rect x="128.80" y="176.00" width="29.43" height="0.8" fill="#a8c5e1"/><rect x="157.93" y="176.00" width="29.43" height="0.8" fill="#f9fbfd"/><rect x="187.05" y="176.00" width="29.43" height="0.8" fill="#c2d6ea"/><rect x="216.18" y="176.00" width="29.43" height="0.8" fill="#c2d6ea"/><rect x="12.30" y="176.50" width="29.42" height="0.8" fill="#ec9a9c"/><rect x="41.42" y="176.50" width="29.43" height="0.8" fill="#ed9ea0"/><rect x="70.55" y="176.50" width="29.43" height="0.8" fill="#f3bec0"/><rect x="99.67" y="176.50" width="29.43" height="0.8" fill="#96b9da"/><rect x="128.80" y="176.50" width="29.43" height="0.8" fill="#abc6e2"/><rect x="157.93" y="176.50" width="29.43" height="0.8" fill="#fbfcfe"/><rect x="187.05" y="176.50" width="29.43" height="0.8" fill="#bdd3e8"/><rect x="216.18" y="176.50" width="29.43" height="0.8" fill="#a4c2df"/><rect x="12.30" y="177.00" width="29.42" height="0.8" fill="#eda2a4"/><rect x="41.42" y="177.00" width="29.43" height="0.8" fill="#ea9294"/><rect x="70.55" y="177.00" width="29.43" height="0.8" fill="#f4c8c9"/><rect x="99.67" y="177.00" width="29.43" height="0.8" fill="#acc7e2"/><rect x="128.80" y="177.00" width="29.43" height="0.8" fill="#b7cfe6"/><rect x="157.93" y="177.00" width="29.43" height="0.8" fill="#fcf1f1"/><rect x="187.05" y="177.00" width="29.43" height="0.8" fill="#e5eef6"/><rect x="216.18" y="177.00" width="29.43" height="0.8" fill="#b0cae3"/><rect x="12.30" y="177.50" width="29.42" height="0.8" fill="#ea9395"/><rect x="41.42" y="177.50" width="29.43" height="0.8" fill="#e88486"/><rect x="70.55" y="177.50" width="29.43" height="0.8" fill="#f3bec0"/><rect x="99.67" y="177.50" width="29.43" height="0.8" fill="#c7d9eb"/><rect x="128.80" y="177.50" width="29.43" height="0.8" fill="#b6cee5"/><rect x="157.93" y="177.50" width="29.43" height="0.8" fill="#fef9f9"/><rect x="187.05" y="177.50" width="29.43" height="0.8" fill="#f7fafc"/><rect x="216.18" y="177.50" width="29.43" height="0.8" fill="#c2d6ea"/><rect x="12.30" y="178.00" width="29.42" height="0.8" fill="#e16063"/><rect x="41.42" y="178.00" width="29.43" height="0.8" fill="#e78284"/><rect x="70.55" y="178.00" width="29.43" height="0.8" fill="#efadaf"/><rect x="99.67" y="178.00" width="29.43" height="0.8" fill="#d7e4f1"/><rect x="128.80" y="178.00" width="29.43" height="0.8" fill="#bad1e7"/><rect x="157.93" y="178.00" width="29.43" height="0.8" fill="#f2f6fb"/><rect x="187.05" y="178.00" width="29.43" height="0.8" fill="#fefeff"/><rect x="216.18" y="178.00" width="29.43" height="0.8" fill="#c6d9eb"/><rect x="12.30" y="178.50" width="29.42" height="0.8" fill="#d83437"/><rect x="41.42" y="178.50" width="29.43" height="0.8" fill="#e88789"/><rect x="70.55" y="178.50" width="29.43" height="0.8" fill="#eea6a8"/><rect x="99.67" y="178.50" width="29.43" height="0.8" fill="#dae6f2"/><rect x="128.80" y="178.50" width="29.43" height="0.8" fill="#b3cce5"/><rect x="157.93" y="178.50" width="29.43" height="0.8" fill="#e2ecf5"/><rect x="187.05" y="178.50" width="29.43" height="0.8" fill="#f5f8fb"/><rect x="216.18" y="178.50" width="29.43" height="0.8" fill="#c2d6ea"/><rect x="12.30" y="179.00" width="29.42" height="0.8" fill="#d6282c"/><rect x="41.42" y="179.00" width="29.43" height="0.8" fill="#e88789"/><rect x="70.55" y="179.00" width="29.43" height="0.8" fill="#ec9a9c"/><rect x="99.67" y="179.00" width="29.43" height="0.8" fill="#c6d9eb"/><rect x="128.80" y="179.00" width="29.43" height="0.8" fill="#bad0e7"/><rect x="157.93" y="179.00" width="29.43" height="0.8" fill="#ebf1f8"/><rect x="187.05" y="179.00" width="29.43" height="0.8" fill="#fffdfd"/><rect x="216.18" y="179.00" width="29.43" height="0.8" fill="#ccdded"/><rect x="12.30" y="179.50" width="29.42" height="0.8" fill="#db4144"/><rect x="41.42" y="179.50" width="29.43" height="0.8" fill="#ec999b"/><rect x="70.55" y="179.50" width="29.43" height="0.8" fill="#eea4a6"/><rect x="99.67" y="179.50" width="29.43" height="0.8" fill="#bad0e7"/><rect x="128.80" y="179.50" width="29.43" height="0.8" fill="#bad0e7"/><rect x="157.93" y="179.50" width="29.43" height="0.8" fill="#e5eef6"/><rect x="187.05" y="179.50" width="29.43" height="0.8" fill="#edf3f9"/><rect x="216.18" y="179.50" width="29.43" height="0.8" fill="#d7e4f1"/><rect x="12.30" y="180.00" width="29.42" height="0.8" fill="#e57477"/><rect x="41.42" y="180.00" width="29.43" height="0.8" fill="#f3c1c2"/><rect x="70.55" y="180.00" width="29.43" height="0.8" fill="#efadaf"/><rect x="99.67" y="180.00" width="29.43" height="0.8" fill="#a9c5e1"/><rect x="128.80" y="180.00" width="29.43" height="0.8" fill="#b5cee5"/><rect x="157.93" y="180.00" width="29.43" height="0.8" fill="#eef4f9"/><rect x="187.05" y="180.00" width="29.43" height="0.8" fill="#c5d8eb"/><rect x="216.18" y="180.00" width="29.43" height="0.8" fill="#d2e1ef"/><rect x="12.30" y="180.50" width="29.42" height="0.8" fill="#e67d7f"/><rect x="41.42" y="180.50" width="29.43" height="0.8" fill="#f4c4c5"/><rect x="70.55" y="180.50" width="29.43" height="0.8" fill="#f3bfc0"/><rect x="99.67" y="180.50" width="29.43" height="0.8" fill="#afc9e3"/><rect x="128.80" y="180.50" width="29.43" height="0.8" fill="#b0cae3"/><rect x="157.93" y="180.50" width="29.43" height="0.8" fill="#eef4f9"/><rect x="187.05" y="180.50" width="29.43" height="0.8" fill="#b5cde5"/><rect x="216.18" y="180.50" width="29.43" height="0.8" fill="#d4e2f0"/><rect x="12.30" y="181.00" width="29.42" height="0.8" fill="#e36d70"/><rect x="41.42" y="181.00" width="29.43" height="0.8" fill="#f4c4c5"/><rect x="70.55" y="181.00" width="29.43" height="0.8" fill="#f5c9ca"/><rect x="99.67" y="181.00" width="29.43" height="0.8" fill="#b3cce5"/><rect x="128.80" y="181.00" width="29.43" height="0.8" fill="#9cbddc"/><rect x="157.93" y="181.00" width="29.43" height="0.8" fill="#e1ebf4"/><rect x="187.05" y="181.00" width="29.43" height="0.8" fill="#b6cee6"/><rect x="216.18" y="181.00" width="29.43" height="0.8" fill="#d8e5f1"/><rect x="12.30" y="181.50" width="29.42" height="0.8" fill="#df595c"/><rect x="41.42" y="181.50" width="29.43" height="0.8" fill="#f0b2b4"/><rect x="70.55" y="181.50" width="29.43" height="0.8" fill="#f1b7b9"/><rect x="99.67" y="181.50" width="29.43" height="0.8" fill="#b5cde5"/><rect x="128.80" y="181.50" width="29.43" height="0.8" fill="#97b9db"/><rect x="157.93" y="181.50" width="29.43" height="0.8" fill="#cbdced"/><rect x="187.05" y="181.50" width="29.43" height="0.8" fill="#cbdced"/><rect x="216.18" y="181.50" width="29.43" height="0.8" fill="#c5d8eb"/><rect x="12.30" y="182.00" width="29.42" height="0.8" fill="#de5457"/><rect x="41.42" y="182.00" width="29.43" height="0.8" fill="#eda2a3"/><rect x="70.55" y="182.00" width="29.43" height="0.8" fill="#ea9092"/><rect x="99.67" y="182.00" width="29.43" height="0.8" fill="#9cbcdc"/><rect x="128.80" y="182.00" width="29.43" height="0.8" fill="#a1c0de"/><rect x="157.93" y="182.00" width="29.43" height="0.8" fill="#c8daec"/><rect x="187.05" y="182.00" width="29.43" height="0.8" fill="#dce7f3"/><rect x="216.18" y="182.00" width="29.43" height="0.8" fill="#b9d0e6"/><rect x="12.30" y="182.50" width="29.42" height="0.8" fill="#e26568"/><rect x="41.42" y="182.50" width="29.43" height="0.8" fill="#ea9194"/><rect x="70.55" y="182.50" width="29.43" height="0.8" fill="#ea9092"/><rect x="99.67" y="182.50" width="29.43" height="0.8" fill="#8fb4d8"/><rect x="128.80" y="182.50" width="29.43" height="0.8" fill="#a4c2df"/><rect x="157.93" y="182.50" width="29.43" height="0.8" fill="#dee9f3"/><rect x="187.05" y="182.50" width="29.43" height="0.8" fill="#ccdded"/><rect x="216.18" y="182.50" width="29.43" height="0.8" fill="#bad1e7"/><rect x="12.30" y="183.00" width="29.42" height="0.8" fill="#e47375"/><rect x="41.42" y="183.00" width="29.43" height="0.8" fill="#eb9698"/><rect x="70.55" y="183.00" width="29.43" height="0.8" fill="#f1b5b6"/><rect x="99.67" y="183.00" width="29.43" height="0.8" fill="#98badb"/><rect x="128.80" y="183.00" width="29.43" height="0.8" fill="#a4c2df"/><rect x="157.93" y="183.00" width="29.43" height="0.8" fill="#fdf7f7"/><rect x="187.05" y="183.00" width="29.43" height="0.8" fill="#bad1e7"/><rect x="216.18" y="183.00" width="29.43" height="0.8" fill="#c5d8eb"/><rect x="12.30" y="183.50" width="29.42" height="0.8" fill="#e67a7c"/><rect x="41.42" y="183.50" width="29.43" height="0.8" fill="#eb999a"/><rect x="70.55" y="183.50" width="29.43" height="0.8" fill="#f7d3d4"/><rect x="99.67" y="183.50" width="29.43" height="0.8" fill="#b1cbe4"/><rect x="128.80" y="183.50" width="29.43" height="0.8" fill="#98badb"/><rect x="157.93" y="183.50" width="29.43" height="0.8" fill="#fdf4f4"/><rect x="187.05" y="183.50" width="29.43" height="0.8" fill="#c6d9eb"/><rect x="216.18" y="183.50" width="29.43" height="0.8" fill="#cedeee"/><rect x="12.30" y="184.00" width="29.42" height="0.8" fill="#e36c6f"/><rect x="41.42" y="184.00" width="29.43" height="0.8" fill="#ea8f92"/><rect x="70.55" y="184.00" width="29.43" height="0.8" fill="#f3bfc0"/><rect x="99.67" y="184.00" width="29.43" height="0.8" fill="#d7e4f1"/><rect x="128.80" y="184.00" width="29.43" height="0.8" fill="#afc9e3"/><rect x="157.93" y="184.00" width="29.43" height="0.8" fill="#fefbfb"/><rect x="187.05" y="184.00" width="29.43" height="0.8" fill="#e7eff7"/><rect x="216.18" y="184.00" width="29.43" height="0.8" fill="#e9f0f7"/><rect x="12.30" y="184.50" width="29.42" height="0.8" fill="#e46f72"/><rect x="41.42" y="184.50" width="29.43" height="0.8" fill="#e8888a"/><rect x="70.55" y="184.50" width="29.43" height="0.8" fill="#eb989a"/><rect x="99.67" y="184.50" width="29.43" height="0.8" fill="#e2ebf5"/><rect x="128.80" y="184.50" width="29.43" height="0.8" fill="#c6d9eb"/><rect x="157.93" y="184.50" width="29.43" height="0.8" fill="#fbfcfd"/><rect x="187.05" y="184.50" width="29.43" height="0.8" fill="#e9f0f7"/><rect x="216.18" y="184.50" width="29.43" height="0.8" fill="#eff5fa"/><rect x="12.30" y="185.00" width="29.42" height="0.8" fill="#e47173"/><rect x="41.42" y="185.00" width="29.43" height="0.8" fill="#e8888a"/><rect x="70.55" y="185.00" width="29.43" height="0.8" fill="#ec9c9e"/><rect x="99.67" y="185.00" width="29.43" height="0.8" fill="#c5d8eb"/><rect x="128.80" y="185.00" width="29.43" height="0.8" fill="#dae6f2"/><rect x="157.93" y="185.00" width="29.43" height="0.8" fill="#fcfdfe"/><rect x="187.05" y="185.00" width="29.43" height="0.8" fill="#d4e2f0"/><rect x="216.18" y="185.00" width="29.43" height="0.8" fill="#ebf2f8"/><rect x="12.30" y="185.50" width="29.42" height="0.8" fill="#e05f62"/><rect x="41.42" y="185.50" width="29.43" height="0.8" fill="#e88487"/><rect x="70.55" y="185.50" width="29.43" height="0.8" fill="#eb989a"/><rect x="99.67" y="185.50" width="29.43" height="0.8" fill="#afc9e3"/><rect x="128.80" y="185.50" width="29.43" height="0.8" fill="#d0dfee"/><rect x="157.93" y="185.50" width="29.43" height="0.8" fill="#fffdfd"/><rect x="187.05" y="185.50" width="29.43" height="0.8" fill="#b2cbe4"/><rect x="216.18" y="185.50" width="29.43" height="0.8" fill="#d7e4f1"/><rect x="12.30" y="186.00" width="29.42" height="0.8" fill="#e05d60"/><rect x="41.42" y="186.00" width="29.43" height="0.8" fill="#e47275"/><rect x="70.55" y="186.00" width="29.43" height="0.8" fill="#eb9496"/><rect x="99.67" y="186.00" width="29.43" height="0.8" fill="#a3c1df"/><rect x="128.80" y="186.00" width="29.43" height="0.8" fill="#acc7e2"/><rect x="157.93" y="186.00" width="29.43" height="0.8" fill="#f6f9fc"/><rect x="187.05" y="186.00" width="29.43" height="0.8" fill="#9bbcdc"/><rect x="216.18" y="186.00" width="29.43" height="0.8" fill="#bdd3e8"/><rect x="12.30" y="186.50" width="29.42" height="0.8" fill="#e36f71"/><rect x="41.42" y="186.50" width="29.43" height="0.8" fill="#e05e61"/><rect x="70.55" y="186.50" width="29.43" height="0.8" fill="#efacae"/><rect x="99.67" y="186.50" width="29.43" height="0.8" fill="#88afd5"/><rect x="128.80" y="186.50" width="29.43" height="0.8" fill="#9dbddd"/><rect x="157.93" y="186.50" width="29.43" height="0.8" fill="#eaf1f8"/><rect x="187.05" y="186.50" width="29.43" height="0.8" fill="#9bbcdc"/><rect x="216.18" y="186.50" width="29.43" height="0.8" fill="#9fbedd"/><rect x="12.30" y="187.00" width="29.42" height="0.8" fill="#e47275"/><rect x="41.42" y="187.00" width="29.43" height="0.8" fill="#e15f62"/><rect x="70.55" y="187.00" width="29.43" height="0.8" fill="#f3bfc0"/><rect x="99.67" y="187.00" width="29.43" height="0.8" fill="#8cb2d7"/><rect x="128.80" y="187.00" width="29.43" height="0.8" fill="#b0cae4"/><rect x="157.93" y="187.00" width="29.43" height="0.8" fill="#eef4f9"/><rect x="187.05" y="187.00" width="29.43" height="0.8" fill="#bfd4e9"/><rect x="216.18" y="187.00" width="29.43" height="0.8" fill="#9cbcdc"/><rect x="12.30" y="187.50" width="29.42" height="0.8" fill="#e05b5e"/><rect x="41.42" y="187.50" width="29.43" height="0.8" fill="#e15f62"/><rect x="70.55" y="187.50" width="29.43" height="0.8" fill="#f4c3c4"/><rect x="99.67" y="187.50" width="29.43" height="0.8" fill="#9dbddd"/><rect x="128.80" y="187.50" width="29.43" height="0.8" fill="#bed3e8"/><rect x="157.93" y="187.50" width="29.43" height="0.8" fill="#fefeff"/><rect x="187.05" y="187.50" width="29.43" height="0.8" fill="#f0f5fa"/><rect x="216.18" y="187.50" width="29.43" height="0.8" fill="#b7cfe6"/><rect x="12.30" y="188.00" width="29.42" height="0.8" fill="#d83135"/><rect x="41.42" y="188.00" width="29.43" height="0.8" fill="#e16466"/><rect x="70.55" y="188.00" width="29.43" height="0.8" fill="#eda2a4"/><rect x="99.67" y="188.00" width="29.43" height="0.8" fill="#abc7e2"/><rect x="128.80" y="188.00" width="29.43" height="0.8" fill="#b7cfe6"/><rect x="157.93" y="188.00" width="29.43" height="0.8" fill="#fbeaea"/><rect x="187.05" y="188.00" width="29.43" height="0.8" fill="#f9e2e2"/><rect x="216.18" y="188.00" width="29.43" height="0.8" fill="#e5eef6"/><rect x="12.30" y="188.50" width="29.42" height="0.8" fill="#d6282c"/><rect x="41.42" y="188.50" width="29.43" height="0.8" fill="#e5797b"/><rect x="70.55" y="188.50" width="29.43" height="0.8" fill="#e98d90"/><rect x="99.67" y="188.50" width="29.43" height="0.8" fill="#c1d5e9"/><rect x="128.80" y="188.50" width="29.43" height="0.8" fill="#aec8e3"/><rect x="157.93" y="188.50" width="29.43" height="0.8" fill="#fbebec"/><rect x="187.05" y="188.50" width="29.43" height="0.8" fill="#f8dbdb"/><rect x="216.18" y="188.50" width="29.43" height="0.8" fill="#fefeff"/><rect x="12.30" y="189.00" width="29.42" height="0.8" fill="#d83337"/><rect x="41.42" y="189.00" width="29.43" height="0.8" fill="#e98a8c"/><rect x="70.55" y="189.00" width="29.43" height="0.8" fill="#ea8f91"/><rect x="99.67" y="189.00" width="29.43" height="0.8" fill="#c6d8eb"/><rect x="128.80" y="189.00" width="29.43" height="0.8" fill="#92b6d9"/><rect x="157.93" y="189.00" width="29.43" height="0.8" fill="#fbeaeb"/><rect x="187.05" y="189.00" width="29.43" height="0.8" fill="#fcefef"/><rect x="216.18" y="189.00" width="29.43" height="0.8" fill="#e8eff7"/><rect x="12.30" y="189.50" width="29.42" height="0.8" fill="#d73034"/><rect x="41.42" y="189.50" width="29.43" height="0.8" fill="#e77f82"/><rect x="70.55" y="189.50" width="29.43" height="0.8" fill="#ec9d9f"/><rect x="99.67" y="189.50" width="29.43" height="0.8" fill="#c8daec"/><rect x="128.80" y="189.50" width="29.43" height="0.8" fill="#95b8da"/><rect x="157.93" y="189.50" width="29.43" height="0.8" fill="#fdf4f4"/><rect x="187.05" y="189.50" width="29.43" height="0.8" fill="#fdf6f6"/><rect x="216.18" y="189.50" width="29.43" height="0.8" fill="#d0dfee"/><rect x="12.30" y="190.00" width="29.42" height="0.8" fill="#da3f43"/><rect x="41.42" y="190.00" width="29.43" height="0.8" fill="#e67c7e"/><rect x="70.55" y="190.00" width="29.43" height="0.8" fill="#eea5a6"/><rect x="99.67" y="190.00" width="29.43" height="0.8" fill="#b7cfe6"/><rect x="128.80" y="190.00" width="29.43" height="0.8" fill="#a1c0de"/><rect x="157.93" y="190.00" width="29.43" height="0.8" fill="#fefbfb"/><rect x="187.05" y="190.00" width="29.43" height="0.8" fill="#fdf3f3"/><rect x="216.18" y="190.00" width="29.43" height="0.8" fill="#c1d5e9"/><rect x="12.30" y="190.50" width="29.42" height="0.8" fill="#de5458"/><rect x="41.42" y="190.50" width="29.43" height="0.8" fill="#efadaf"/><rect x="70.55" y="190.50" width="29.43" height="0.8" fill="#f6cecf"/><rect x="99.67" y="190.50" width="29.43" height="0.8" fill="#91b5d9"/><rect x="128.80" y="190.50" width="29.43" height="0.8" fill="#91b5d9"/><rect x="157.93" y="190.50" width="29.43" height="0.8" fill="#e8f0f7"/><rect x="187.05" y="190.50" width="29.43" height="0.8" fill="#f3f7fb"/><rect x="216.18" y="190.50" width="29.43" height="0.8" fill="#abc7e2"/><rect x="12.30" y="191.00" width="29.42" height="0.8" fill="#fcefef"/><rect x="41.42" y="191.00" width="29.43" height="0.8" fill="#a8c5e1"/><rect x="70.55" y="191.00" width="29.43" height="0.8" fill="#88afd5"/><rect x="99.67" y="191.00" width="29.43" height="0.8" fill="#d9e5f2"/><rect x="128.80" y="191.00" width="29.43" height="0.8" fill="#bcd2e8"/><rect x="157.93" y="191.00" width="29.43" height="0.8" fill="#ea9092"/><rect x="187.05" y="191.00" width="29.43" height="0.8" fill="#e67e81"/><rect x="216.18" y="191.00" width="29.43" height="0.8" fill="#eea6a7"/><rect x="12.30" y="191.50" width="29.42" height="0.8" fill="#f6f9fc"/><rect x="41.42" y="191.50" width="29.43" height="0.8" fill="#b2cbe4"/><rect x="70.55" y="191.50" width="29.43" height="0.8" fill="#8eb3d8"/><rect x="99.67" y="191.50" width="29.43" height="0.8" fill="#fbfcfe"/><rect x="128.80" y="191.50" width="29.43" height="0.8" fill="#b2cce4"/><rect x="157.93" y="191.50" width="29.43" height="0.8" fill="#e57679"/><rect x="187.05" y="191.50" width="29.43" height="0.8" fill="#e88587"/><rect x="216.18" y="191.50" width="29.43" height="0.8" fill="#e98e90"/><rect x="12.30" y="192.00" width="29.42" height="0.8" fill="#f8fafc"/><rect x="41.42" y="192.00" width="29.43" height="0.8" fill="#d3e1f0"/><rect x="70.55" y="192.00" width="29.43" height="0.8" fill="#abc7e2"/><rect x="99.67" y="192.00" width="29.43" height="0.8" fill="#fceded"/><rect x="128.80" y="192.00" width="29.43" height="0.8" fill="#c4d8eb"/><rect x="157.93" y="192.00" width="29.43" height="0.8" fill="#e57679"/><rect x="187.05" y="192.00" width="29.43" height="0.8" fill="#e78183"/><rect x="216.18" y="192.00" width="29.43" height="0.8" fill="#e36d70"/><rect x="12.30" y="192.50" width="29.42" height="0.8" fill="#f9e0e1"/><rect x="41.42" y="192.50" width="29.43" height="0.8" fill="#e2ecf5"/><rect x="70.55" y="192.50" width="29.43" height="0.8" fill="#afc9e3"/><rect x="99.67" y="192.50" width="29.43" height="0.8" fill="#f6cfd0"/><rect x="128.80" y="192.50" width="29.43" height="0.8" fill="#e7eff7"/><rect x="157.93" y="192.50" width="29.43" height="0.8" fill="#ea8f91"/><rect x="187.05" y="192.50" width="29.43" height="0.8" fill="#e36e71"/><rect x="216.18" y="192.50" width="29.43" height="0.8" fill="#e26568"/><rect x="12.30" y="193.00" width="29.42" height="0.8" fill="#f1b7b8"/><rect x="41.42" y="193.00" width="29.43" height="0.8" fill="#e0eaf4"/><rect x="70.55" y="193.00" width="29.43" height="0.8" fill="#bad0e7"/><rect x="99.67" y="193.00" width="29.43" height="0.8" fill="#f7d6d6"/><rect x="128.80" y="193.00" width="29.43" height="0.8" fill="#fae6e7"/><rect x="157.93" y="193.00" width="29.43" height="0.8" fill="#e98b8d"/><rect x="187.05" y="193.00" width="29.43" height="0.8" fill="#de5054"/><rect x="216.18" y="193.00" width="29.43" height="0.8" fill="#e05e61"/><rect x="12.30" y="193.50" width="29.42" height="0.8" fill="#efadaf"/><rect x="41.42" y="193.50" width="29.43" height="0.8" fill="#dfeaf4"/><rect x="70.55" y="193.50" width="29.43" height="0.8" fill="#cedeee"/><rect x="99.67" y="193.50" width="29.43" height="0.8" fill="#f8d9da"/><rect x="128.80" y="193.50" width="29.43" height="0.8" fill="#f5cccd"/><rect x="157.93" y="193.50" width="29.43" height="0.8" fill="#e46f72"/><rect x="187.05" y="193.50" width="29.43" height="0.8" fill="#d83337"/><rect x="216.18" y="193.50" width="29.43" height="0.8" fill="#e16063"/><rect x="12.30" y="194.00" width="29.42" height="0.8" fill="#f1b6b7"/><rect x="41.42" y="194.00" width="29.43" height="0.8" fill="#cbdced"/><rect x="70.55" y="194.00" width="29.43" height="0.8" fill="#dbe7f3"/><rect x="99.67" y="194.00" width="29.43" height="0.8" fill="#f6cecf"/><rect x="128.80" y="194.00" width="29.43" height="0.8" fill="#f9dede"/><rect x="157.93" y="194.00" width="29.43" height="0.8" fill="#dd4c50"/><rect x="187.05" y="194.00" width="29.43" height="0.8" fill="#d9363a"/><rect x="216.18" y="194.00" width="29.43" height="0.8" fill="#e88486"/><rect x="12.30" y="194.50" width="29.42" height="0.8" fill="#f3c1c2"/><rect x="41.42" y="194.50" width="29.43" height="0.8" fill="#b5cde5"/><rect x="70.55" y="194.50" width="29.43" height="0.8" fill="#dce7f3"/><rect x="99.67" y="194.50" width="29.43" height="0.8" fill="#f2bdbe"/><rect x="128.80" y="194.50" width="29.43" height="0.8" fill="#f4f7fb"/><rect x="157.93" y="194.50" width="29.43" height="0.8" fill="#db4347"/><rect x="187.05" y="194.50" width="29.43" height="0.8" fill="#de5053"/><rect x="216.18" y="194.50" width="29.43" height="0.8" fill="#eea7a8"/><rect x="12.30" y="195.00" width="29.42" height="0.8" fill="#f5cccd"/><rect x="41.42" y="195.00" width="29.43" height="0.8" fill="#b7cfe6"/><rect x="70.55" y="195.00" width="29.43" height="0.8" fill="#ccdded"/><rect x="99.67" y="195.00" width="29.43" height="0.8" fill="#efa9ab"/><rect x="128.80" y="195.00" width="29.43" height="0.8" fill="#dbe7f3"/><rect x="157.93" y="195.00" width="29.43" height="0.8" fill="#df595c"/><rect x="187.05" y="195.00" width="29.43" height="0.8" fill="#e26668"/><rect x="216.18" y="195.00" width="29.43" height="0.8" fill="#ea9092"/><rect x="12.30" y="195.50" width="29.42" height="0.8" fill="#f6cfd0"/><rect x="41.42" y="195.50" width="29.43" height="0.8" fill="#d4e2f0"/><rect x="70.55" y="195.50" width="29.43" height="0.8" fill="#b9d0e7"/><rect x="99.67" y="195.50" width="29.43" height="0.8" fill="#f1b4b5"/><rect x="128.80" y="195.50" width="29.43" height="0.8" fill="#e3ecf5"/><rect x="157.93" y="195.50" width="29.43" height="0.8" fill="#e36b6e"/><rect x="187.05" y="195.50" width="29.43" height="0.8" fill="#df5a5d"/><rect x="216.18" y="195.50" width="29.43" height="0.8" fill="#e5787a"/><rect x="12.30" y="196.00" width="29.42" height="0.8" fill="#f7d7d8"/><rect x="41.42" y="196.00" width="29.43" height="0.8" fill="#d6e3f1"/><rect x="70.55" y="196.00" width="29.43" height="0.8" fill="#b9d0e7"/><rect x="99.67" y="196.00" width="29.43" height="0.8" fill="#f8dada"/><rect x="128.80" y="196.00" width="29.43" height="0.8" fill="#f4f7fb"/><rect x="157.93" y="196.00" width="29.43" height="0.8" fill="#e67e81"/><rect x="187.05" y="196.00" width="29.43" height="0.8" fill="#df585b"/><rect x="216.18" y="196.00" width="29.43" height="0.8" fill="#e78183"/><rect x="12.30" y="196.50" width="29.42" height="0.8" fill="#f7d4d4"/><rect x="41.42" y="196.50" width="29.43" height="0.8" fill="#d6e4f1"/><rect x="70.55" y="196.50" width="29.43" height="0.8" fill="#c3d7ea"/><rect x="99.67" y="196.50" width="29.43" height="0.8" fill="#fffdfd"/><rect x="128.80" y="196.50" width="29.43" height="0.8" fill="#e3ecf5"/><rect x="157.93" y="196.50" width="29.43" height="0.8" fill="#e78082"/><rect x="187.05" y="196.50" width="29.43" height="0.8" fill="#e2686a"/><rect x="216.18" y="196.50" width="29.43" height="0.8" fill="#eda3a5"/><rect x="12.30" y="197.00" width="29.42" height="0.8" fill="#f6cfd0"/><rect x="41.42" y="197.00" width="29.43" height="0.8" fill="#e0eaf4"/><rect x="70.55" y="197.00" width="29.43" height="0.8" fill="#bfd4e9"/><rect x="99.67" y="197.00" width="29.43" height="0.8" fill="#f3f7fb"/><rect x="128.80" y="197.00" width="29.43" height="0.8" fill="#c7d9eb"/><rect x="157.93" y="197.00" width="29.43" height="0.8" fill="#e67e81"/><rect x="187.05" y="197.00" width="29.43" height="0.8" fill="#e78183"/><rect x="216.18" y="197.00" width="29.43" height="0.8" fill="#eb9496"/><rect x="12.30" y="197.50" width="29.42" height="0.8" fill="#f9dedf"/><rect x="41.42" y="197.50" width="29.43" height="0.8" fill="#edf3f9"/><rect x="70.55" y="197.50" width="29.43" height="0.8" fill="#b3cce4"/><rect x="99.67" y="197.50" width="29.43" height="0.8" fill="#f5f8fc"/><rect x="128.80" y="197.50" width="29.43" height="0.8" fill="#cadbec"/><rect x="157.93" y="197.50" width="29.43" height="0.8" fill="#e5797b"/><rect x="187.05" y="197.50" width="29.43" height="0.8" fill="#e67c7e"/><rect x="216.18" y="197.50" width="29.43" height="0.8" fill="#e78285"/><rect x="12.30" y="198.00" width="29.42" height="0.8" fill="#f7d8d8"/><rect x="41.42" y="198.00" width="29.43" height="0.8" fill="#e3ecf5"/><rect x="70.55" y="198.00" width="29.43" height="0.8" fill="#9ebedd"/><rect x="99.67" y="198.00" width="29.43" height="0.8" fill="#f5f8fc"/><rect x="128.80" y="198.00" width="29.43" height="0.8" fill="#dee9f3"/><rect x="157.93" y="198.00" width="29.43" height="0.8" fill="#e36a6c"/><rect x="187.05" y="198.00" width="29.43" height="0.8" fill="#e05f62"/><rect x="216.18" y="198.00" width="29.43" height="0.8" fill="#e57578"/><rect x="12.30" y="198.50" width="29.42" height="0.8" fill="#f6d2d3"/><rect x="41.42" y="198.50" width="29.43" height="0.8" fill="#dae6f2"/><rect x="70.55" y="198.50" width="29.43" height="0.8" fill="#a0bfde"/><rect x="99.67" y="198.50" width="29.43" height="0.8" fill="#fcfdfe"/><rect x="128.80" y="198.50" width="29.43" height="0.8" fill="#f1f6fa"/><rect x="157.93" y="198.50" width="29.43" height="0.8" fill="#df585b"/><rect x="187.05" y="198.50" width="29.43" height="0.8" fill="#e16366"/><rect x="216.18" y="198.50" width="29.43" height="0.8" fill="#e88587"/><rect x="12.30" y="199.00" width="29.42" height="0.8" fill="#f9dede"/><rect x="41.42" y="199.00" width="29.43" height="0.8" fill="#dae6f2"/><rect x="70.55" y="199.00" width="29.43" height="0.8" fill="#a8c4e1"/><rect x="99.67" y="199.00" width="29.43" height="0.8" fill="#f9dfdf"/><rect x="128.80" y="199.00" width="29.43" height="0.8" fill="#dae6f2"/><rect x="157.93" y="199.00" width="29.43" height="0.8" fill="#dc474b"/><rect x="187.05" y="199.00" width="29.43" height="0.8" fill="#e67c7e"/><rect x="216.18" y="199.00" width="29.43" height="0.8" fill="#eda0a2"/><rect x="12.30" y="199.50" width="29.42" height="0.8" fill="#fffdfd"/><rect x="41.42" y="199.50" width="29.43" height="0.8" fill="#c2d6ea"/><rect x="70.55" y="199.50" width="29.43" height="0.8" fill="#aac6e1"/><rect x="99.67" y="199.50" width="29.43" height="0.8" fill="#f2babb"/><rect x="128.80" y="199.50" width="29.43" height="0.8" fill="#bad0e7"/><rect x="157.93" y="199.50" width="29.43" height="0.8" fill="#e05a5d"/><rect x="187.05" y="199.50" width="29.43" height="0.8" fill="#e88487"/><rect x="216.18" y="199.50" width="29.43" height="0.8" fill="#efacae"/><rect x="12.30" y="200.00" width="29.42" height="0.8" fill="#fdf6f6"/><rect x="41.42" y="200.00" width="29.43" height="0.8" fill="#c9dbec"/><rect x="70.55" y="200.00" width="29.43" height="0.8" fill="#a0bfde"/><rect x="99.67" y="200.00" width="29.43" height="0.8" fill="#f2babc"/><rect x="128.80" y="200.00" width="29.43" height="0.8" fill="#b1cbe4"/><rect x="157.93" y="200.00" width="29.43" height="0.8" fill="#e67e80"/><rect x="187.05" y="200.00" width="29.43" height="0.8" fill="#e47376"/><rect x="216.18" y="200.00" width="29.43" height="0.8" fill="#eb9596"/><rect x="12.30" y="200.50" width="29.42" height="0.8" fill="#fae3e3"/><rect x="41.42" y="200.50" width="29.43" height="0.8" fill="#d4e2f0"/><rect x="70.55" y="200.50" width="29.43" height="0.8" fill="#98badb"/><rect x="99.67" y="200.50" width="29.43" height="0.8" fill="#f9dedf"/><rect x="128.80" y="200.50" width="29.43" height="0.8" fill="#c3d7ea"/><rect x="157.93" y="200.50" width="29.43" height="0.8" fill="#eea8aa"/><rect x="187.05" y="200.50" width="29.43" height="0.8" fill="#e05b5e"/><rect x="216.18" y="200.50" width="29.43" height="0.8" fill="#e67e80"/><rect x="12.30" y="201.00" width="29.42" height="0.8" fill="#f7d3d3"/><rect x="41.42" y="201.00" width="29.43" height="0.8" fill="#d1e0ef"/><rect x="70.55" y="201.00" width="29.43" height="0.8" fill="#99badb"/><rect x="99.67" y="201.00" width="29.43" height="0.8" fill="#fcedee"/><rect x="128.80" y="201.00" width="29.43" height="0.8" fill="#ccdced"/><rect x="157.93" y="201.00" width="29.43" height="0.8" fill="#eea6a7"/><rect x="187.05" y="201.00" width="29.43" height="0.8" fill="#dd4e52"/><rect x="216.18" y="201.00" width="29.43" height="0.8" fill="#e98d8f"/><rect x="12.30" y="201.50" width="29.42" height="0.8" fill="#fae6e7"/><rect x="41.42" y="201.50" width="29.43" height="0.8" fill="#b7cfe6"/><rect x="70.55" y="201.50" width="29.43" height="0.8" fill="#b3cce5"/><rect x="99.67" y="201.50" width="29.43" height="0.8" fill="#fae3e4"/><rect x="128.80" y="201.50" width="29.43" height="0.8" fill="#d5e3f0"/><rect x="157.93" y="201.50" width="29.43" height="0.8" fill="#eb989a"/><rect x="187.05" y="201.50" width="29.43" height="0.8" fill="#dd4f52"/><rect x="216.18" y="201.50" width="29.43" height="0.8" fill="#ec9a9c"/><rect x="12.30" y="202.00" width="29.42" height="0.8" fill="#fceded"/><rect x="41.42" y="202.00" width="29.43" height="0.8" fill="#c9dbec"/><rect x="70.55" y="202.00" width="29.43" height="0.8" fill="#d9e6f2"/><rect x="99.67" y="202.00" width="29.43" height="0.8" fill="#f4c6c7"/><rect x="128.80" y="202.00" width="29.43" height="0.8" fill="#eff4f9"/><rect x="157.93" y="202.00" width="29.43" height="0.8" fill="#e67c7f"/><rect x="187.05" y="202.00" width="29.43" height="0.8" fill="#e05e61"/><rect x="216.18" y="202.00" width="29.43" height="0.8" fill="#e98a8c"/><rect x="12.30" y="202.50" width="29.42" height="0.8" fill="#f8dadb"/><rect x="41.42" y="202.50" width="29.43" height="0.8" fill="#ecf2f8"/><rect x="70.55" y="202.50" width="29.43" height="0.8" fill="#e2ecf5"/><rect x="99.67" y="202.50" width="29.43" height="0.8" fill="#f5cdcd"/><rect x="128.80" y="202.50" width="29.43" height="0.8" fill="#fafbfd"/><rect x="157.93" y="202.50" width="29.43" height="0.8" fill="#e36c6f"/><rect x="187.05" y="202.50" width="29.43" height="0.8" fill="#e2686b"/><rect x="216.18" y="202.50" width="29.43" height="0.8" fill="#eb9698"/><rect x="12.30" y="203.00" width="29.42" height="0.8" fill="#f2bcbd"/><rect x="41.42" y="203.00" width="29.43" height="0.8" fill="#f7f9fc"/><rect x="70.55" y="203.00" width="29.43" height="0.8" fill="#cadced"/><rect x="99.67" y="203.00" width="29.43" height="0.8" fill="#f8dcdd"/><rect x="128.80" y="203.00" width="29.43" height="0.8" fill="#eef3f9"/><rect x="157.93" y="203.00" width="29.43" height="0.8" fill="#e57779"/><rect x="187.05" y="203.00" width="29.43" height="0.8" fill="#e88486"/><rect x="216.18" y="203.00" width="29.43" height="0.8" fill="#eea6a7"/><rect x="12.30" y="203.50" width="29.42" height="0.8" fill="#f4c3c5"/><rect x="41.42" y="203.50" width="29.43" height="0.8" fill="#f6f9fc"/><rect x="70.55" y="203.50" width="29.43" height="0.8" fill="#b8cfe6"/><rect x="99.67" y="203.50" width="29.43" height="0.8" fill="#fdf5f5"/><rect x="128.80" y="203.50" width="29.43" height="0.8" fill="#dce7f3"/><rect x="157.93" y="203.50" width="29.43" height="0.8" fill="#e67e81"/><rect x="187.05" y="203.50" width="29.43" height="0.8" fill="#e78183"/><rect x="216.18" y="203.50" width="29.43" height="0.8" fill="#efaaac"/><rect x="12.30" y="204.00" width="29.42" height="0.8" fill="#fbebeb"/><rect x="41.42" y="204.00" width="29.43" height="0.8" fill="#e2ebf5"/><rect x="70.55" y="204.00" width="29.43" height="0.8" fill="#abc7e2"/><rect x="99.67" y="204.00" width="29.43" height="0.8" fill="#eff4f9"/><rect x="128.80" y="204.00" width="29.43" height="0.8" fill="#dae6f2"/><rect x="157.93" y="204.00" width="29.43" height="0.8" fill="#e67b7d"/><rect x="187.05" y="204.00" width="29.43" height="0.8" fill="#e46f72"/><rect x="216.18" y="204.00" width="29.43" height="0.8" fill="#e98d90"/><rect x="12.30" y="204.50" width="29.42" height="0.8" fill="#fef8f8"/><rect x="41.42" y="204.50" width="29.43" height="0.8" fill="#e6eef6"/><rect x="70.55" y="204.50" width="29.43" height="0.8" fill="#bad0e7"/><rect x="99.67" y="204.50" width="29.43" height="0.8" fill="#f7f9fc"/><rect x="128.80" y="204.50" width="29.43" height="0.8" fill="#e7eff7"/><rect x="157.93" y="204.50" width="29.43" height="0.8" fill="#e16467"/><rect x="187.05" y="204.50" width="29.43" height="0.8" fill="#de5256"/><rect x="216.18" y="204.50" width="29.43" height="0.8" fill="#e26567"/><rect x="12.30" y="205.00" width="29.42" height="0.8" fill="#f7f9fc"/><rect x="41.42" y="205.00" width="29.43" height="0.8" fill="#e8f0f7"/><rect x="70.55" y="205.00" width="29.43" height="0.8" fill="#c1d6e9"/><rect x="99.67" y="205.00" width="29.43" height="0.8" fill="#fefcfc"/><rect x="128.80" y="205.00" width="29.43" height="0.8" fill="#f2f6fa"/><rect x="157.93" y="205.00" width="29.43" height="0.8" fill="#e36c6f"/><rect x="187.05" y="205.00" width="29.43" height="0.8" fill="#dd4e51"/><rect x="216.18" y="205.00" width="29.43" height="0.8" fill="#e57477"/><rect x="12.30" y="205.50" width="29.42" height="0.8" fill="#fffefe"/><rect x="41.42" y="205.50" width="29.43" height="0.8" fill="#eff4f9"/><rect x="70.55" y="205.50" width="29.43" height="0.8" fill="#cfdfee"/><rect x="99.67" y="205.50" width="29.43" height="0.8" fill="#fbebec"/><rect x="128.80" y="205.50" width="29.43" height="0.8" fill="#fef9f9"/><rect x="157.93" y="205.50" width="29.43" height="0.8" fill="#e36e71"/><rect x="187.05" y="205.50" width="29.43" height="0.8" fill="#de5457"/><rect x="216.18" y="205.50" width="29.43" height="0.8" fill="#ec9b9d"/><rect x="12.30" y="206.00" width="29.42" height="0.8" fill="#fcedee"/><rect x="41.42" y="206.00" width="29.43" height="0.8" fill="#d5e3f0"/><rect x="70.55" y="206.00" width="29.43" height="0.8" fill="#c4d7ea"/><rect x="99.67" y="206.00" width="29.43" height="0.8" fill="#f7d6d7"/><rect x="128.80" y="206.00" width="29.43" height="0.8" fill="#fef7f7"/><rect x="157.93" y="206.00" width="29.43" height="0.8" fill="#e26669"/><rect x="187.05" y="206.00" width="29.43" height="0.8" fill="#e36e70"/><rect x="216.18" y="206.00" width="29.43" height="0.8" fill="#f3bfc0"/><rect x="12.30" y="206.50" width="29.42" height="0.8" fill="#f7d6d6"/><rect x="41.42" y="206.50" width="29.43" height="0.8" fill="#c3d7ea"/><rect x="70.55" y="206.50" width="29.43" height="0.8" fill="#c6d9eb"/><rect x="99.67" y="206.50" width="29.43" height="0.8" fill="#f2babc"/><rect x="128.80" y="206.50" width="29.43" height="0.8" fill="#fefafa"/><rect x="157.93" y="206.50" width="29.43" height="0.8" fill="#df585b"/><rect x="187.05" y="206.50" width="29.43" height="0.8" fill="#e36e70"/><rect x="216.18" y="206.50" width="29.43" height="0.8" fill="#ec9d9e"/><rect x="12.30" y="207.00" width="29.42" height="0.8" fill="#f5cdce"/><rect x="41.42" y="207.00" width="29.43" height="0.8" fill="#d8e5f1"/><rect x="70.55" y="207.00" width="29.43" height="0.8" fill="#cedeee"/><rect x="99.67" y="207.00" width="29.43" height="0.8" fill="#f0b0b1"/><rect x="128.80" y="207.00" width="29.43" height="0.8" fill="#fcfdfe"/><rect x="157.93" y="207.00" width="29.43" height="0.8" fill="#db4145"/><rect x="187.05" y="207.00" width="29.43" height="0.8" fill="#df595d"/><rect x="216.18" y="207.00" width="29.43" height="0.8" fill="#e57679"/><rect x="12.30" y="207.50" width="29.42" height="0.8" fill="#f7d3d4"/><rect x="41.42" y="207.50" width="29.43" height="0.8" fill="#edf3f9"/><rect x="70.55" y="207.50" width="29.43" height="0.8" fill="#d7e4f1"/><rect x="99.67" y="207.50" width="29.43" height="0.8" fill="#f4c4c5"/><rect x="128.80" y="207.50" width="29.43" height="0.8" fill="#ebf2f8"/><rect x="157.93" y="207.50" width="29.43" height="0.8" fill="#db4346"/><rect x="187.05" y="207.50" width="29.43" height="0.8" fill="#de5053"/><rect x="216.18" y="207.50" width="29.43" height="0.8" fill="#e47376"/><rect x="12.30" y="208.00" width="29.42" height="0.8" fill="#f9ddde"/><rect x="41.42" y="208.00" width="29.43" height="0.8" fill="#e6eef6"/><rect x="70.55" y="208.00" width="29.43" height="0.8" fill="#cfdfee"/><rect x="99.67" y="208.00" width="29.43" height="0.8" fill="#f7d3d4"/><rect x="128.80" y="208.00" width="29.43" height="0.8" fill="#f0f5fa"/><rect x="157.93" y="208.00" width="29.43" height="0.8" fill="#d9383c"/><rect x="187.05" y="208.00" width="29.43" height="0.8" fill="#e36f71"/><rect x="216.18" y="208.00" width="29.43" height="0.8" fill="#e88789"/><rect x="12.30" y="208.50" width="29.42" height="0.8" fill="#fefafa"/><rect x="41.42" y="208.50" width="29.43" height="0.8" fill="#b5cde5"/><rect x="70.55" y="208.50" width="29.43" height="0.8" fill="#b2cbe4"/><rect x="99.67" y="208.50" width="29.43" height="0.8" fill="#f9dedf"/><rect x="128.80" y="208.50" width="29.43" height="0.8" fill="#fefbfb"/><rect x="157.93" y="208.50" width="29.43" height="0.8" fill="#de5255"/><rect x="187.05" y="208.50" width="29.43" height="0.8" fill="#ec9d9f"/><rect x="216.18" y="208.50" width="29.43" height="0.8" fill="#efaaac"/><rect x="12.30" y="209.00" width="29.42" height="0.8" fill="#f3f7fb"/><rect x="41.42" y="209.00" width="29.43" height="0.8" fill="#a2c0de"/><rect x="70.55" y="209.00" width="29.43" height="0.8" fill="#b7cee6"/><rect x="99.67" y="209.00" width="29.43" height="0.8" fill="#f8d9d9"/><rect x="128.80" y="209.00" width="29.43" height="0.8" fill="#f6d2d3"/><rect x="157.93" y="209.00" width="29.43" height="0.8" fill="#dd4d50"/><rect x="187.05" y="209.00" width="29.43" height="0.8" fill="#ec9b9d"/><rect x="216.18" y="209.00" width="29.43" height="0.8" fill="#eea6a8"/><rect x="12.30" y="209.50" width="29.42" height="0.8" fill="#e8eff7"/><rect x="41.42" y="209.50" width="29.43" height="0.8" fill="#a2c1df"/><rect x="70.55" y="209.50" width="29.43" height="0.8" fill="#afcae3"/><rect x="99.67" y="209.50" width="29.43" height="0.8" fill="#fceeef"/><rect x="128.80" y="209.50" width="29.43" height="0.8" fill="#f8d9da"/><rect x="157.93" y="209.50" width="29.43" height="0.8" fill="#de5053"/><rect x="187.05" y="209.50" width="29.43" height="0.8" fill="#e88587"/><rect x="216.18" y="209.50" width="29.43" height="0.8" fill="#ec9b9d"/><rect x="12.30" y="210.00" width="29.42" height="0.8" fill="#fbeced"/><rect x="41.42" y="210.00" width="29.43" height="0.8" fill="#adc8e2"/><rect x="70.55" y="210.00" width="29.43" height="0.8" fill="#abc7e2"/><rect x="99.67" y="210.00" width="29.43" height="0.8" fill="#f5f8fc"/><rect x="128.80" y="210.00" width="29.43" height="0.8" fill="#fae6e6"/><rect x="157.93" y="210.00" width="29.43" height="0.8" fill="#de5255"/><rect x="187.05" y="210.00" width="29.43" height="0.8" fill="#e47073"/><rect x="216.18" y="210.00" width="29.43" height="0.8" fill="#eda0a2"/><rect x="12.30" y="210.50" width="29.42" height="0.8" fill="#f6d2d3"/><rect x="41.42" y="210.50" width="29.43" height="0.8" fill="#bdd3e8"/><rect x="70.55" y="210.50" width="29.43" height="0.8" fill="#b1cbe4"/><rect x="99.67" y="210.50" width="29.43" height="0.8" fill="#ffffff"/><rect x="128.80" y="210.50" width="29.43" height="0.8" fill="#fcfdfe"/><rect x="157.93" y="210.50" width="29.43" height="0.8" fill="#e16467"/><rect x="187.05" y="210.50" width="29.43" height="0.8" fill="#e36f71"/><rect x="216.18" y="210.50" width="29.43" height="0.8" fill="#eda1a2"/><rect x="12.30" y="211.00" width="29.42" height="0.8" fill="#f5cbcc"/><rect x="41.42" y="211.00" width="29.43" height="0.8" fill="#c9dbec"/><rect x="70.55" y="211.00" width="29.43" height="0.8" fill="#bbd2e7"/><rect x="99.67" y="211.00" width="29.43" height="0.8" fill="#fae4e4"/><rect x="128.80" y="211.00" width="29.43" height="0.8" fill="#e0eaf4"/><rect x="157.93" y="211.00" width="29.43" height="0.8" fill="#e36b6e"/><rect x="187.05" y="211.00" width="29.43" height="0.8" fill="#e78183"/><rect x="216.18" y="211.00" width="29.43" height="0.8" fill="#eea8aa"/><rect x="12.30" y="211.50" width="29.42" height="0.8" fill="#f6d2d3"/><rect x="41.42" y="211.50" width="29.43" height="0.8" fill="#cbdced"/><rect x="70.55" y="211.50" width="29.43" height="0.8" fill="#bfd4e9"/><rect x="99.67" y="211.50" width="29.43" height="0.8" fill="#fae3e4"/><rect x="128.80" y="211.50" width="29.43" height="0.8" fill="#c8daec"/><rect x="157.93" y="211.50" width="29.43" height="0.8" fill="#e57679"/><rect x="187.05" y="211.50" width="29.43" height="0.8" fill="#eb9698"/><rect x="216.18" y="211.50" width="29.43" height="0.8" fill="#eea5a7"/><rect x="12.30" y="212.00" width="29.42" height="0.8" fill="#fcefef"/><rect x="41.42" y="212.00" width="29.43" height="0.8" fill="#d1e0ef"/><rect x="70.55" y="212.00" width="29.43" height="0.8" fill="#a5c2e0"/><rect x="99.67" y="212.00" width="29.43" height="0.8" fill="#f9fbfd"/><rect x="128.80" y="212.00" width="29.43" height="0.8" fill="#c1d5e9"/><rect x="157.93" y="212.00" width="29.43" height="0.8" fill="#e9898b"/><rect x="187.05" y="212.00" width="29.43" height="0.8" fill="#f0aeb0"/><rect x="216.18" y="212.00" width="29.43" height="0.8" fill="#f0b1b3"/><rect x="12.30" y="212.50" width="29.42" height="0.8" fill="#f8dddd"/><rect x="41.42" y="212.50" width="29.43" height="0.8" fill="#e5edf6"/><rect x="70.55" y="212.50" width="29.43" height="0.8" fill="#9bbcdc"/><rect x="99.67" y="212.50" width="29.43" height="0.8" fill="#eaf1f8"/><rect x="128.80" y="212.50" width="29.43" height="0.8" fill="#d6e3f1"/><rect x="157.93" y="212.50" width="29.43" height="0.8" fill="#ec9a9c"/><rect x="187.05" y="212.50" width="29.43" height="0.8" fill="#eea4a5"/><rect x="216.18" y="212.50" width="29.43" height="0.8" fill="#f1b6b8"/><rect x="12.30" y="213.00" width="29.42" height="0.8" fill="#f4c6c8"/><rect x="41.42" y="213.00" width="29.43" height="0.8" fill="#fbfcfe"/><rect x="70.55" y="213.00" width="29.43" height="0.8" fill="#a2c0de"/><rect x="99.67" y="213.00" width="29.43" height="0.8" fill="#f6f9fc"/><rect x="128.80" y="213.00" width="29.43" height="0.8" fill="#e8eff7"/><rect x="157.93" y="213.00" width="29.43" height="0.8" fill="#efaaac"/><rect x="187.05" y="213.00" width="29.43" height="0.8" fill="#ea8e91"/><rect x="216.18" y="213.00" width="29.43" height="0.8" fill="#f0b0b2"/><rect x="12.30" y="213.50" width="29.42" height="0.8" fill="#e6eef6"/><rect x="41.42" y="213.50" width="29.43" height="0.8" fill="#cfdfee"/><rect x="70.55" y="213.50" width="29.43" height="0.8" fill="#aac6e1"/><rect x="99.67" y="213.50" width="29.43" height="0.8" fill="#f1b8b9"/><rect x="128.80" y="213.50" width="29.43" height="0.8" fill="#efaaab"/><rect x="157.93" y="213.50" width="29.43" height="0.8" fill="#f4c7c8"/><rect x="187.05" y="213.50" width="29.43" height="0.8" fill="#f1b4b5"/><rect x="216.18" y="213.50" width="29.43" height="0.8" fill="#fbe9e9"/><rect x="12.30" y="214.00" width="29.42" height="0.8" fill="#d7e4f1"/><rect x="41.42" y="214.00" width="29.43" height="0.8" fill="#b9d0e7"/><rect x="70.55" y="214.00" width="29.43" height="0.8" fill="#c1d6e9"/><rect x="99.67" y="214.00" width="29.43" height="0.8" fill="#f0b0b2"/><rect x="128.80" y="214.00" width="29.43" height="0.8" fill="#f1b4b6"/><rect x="157.93" y="214.00" width="29.43" height="0.8" fill="#eea3a5"/><rect x="187.05" y="214.00" width="29.43" height="0.8" fill="#f0b1b2"/><rect x="216.18" y="214.00" width="29.43" height="0.8" fill="#f8dbdc"/><rect x="12.30" y="214.50" width="29.42" height="0.8" fill="#d5e3f0"/><rect x="41.42" y="214.50" width="29.43" height="0.8" fill="#a4c2df"/><rect x="70.55" y="214.50" width="29.43" height="0.8" fill="#b8cfe6"/><rect x="99.67" y="214.50" width="29.43" height="0.8" fill="#f0b0b1"/><rect x="128.80" y="214.50" width="29.43" height="0.8" fill="#f4c3c4"/><rect x="157.93" y="214.50" width="29.43" height="0.8" fill="#eb9597"/><rect x="187.05" y="214.50" width="29.43" height="0.8" fill="#f1b5b6"/><rect x="216.18" y="214.50" width="29.43" height="0.8" fill="#fceeee"/><rect x="12.30" y="215.00" width="29.42" height="0.8" fill="#d0dfef"/><rect x="41.42" y="215.00" width="29.43" height="0.8" fill="#9cbddd"/><rect x="70.55" y="215.00" width="29.43" height="0.8" fill="#a0bfde"/><rect x="99.67" y="215.00" width="29.43" height="0.8" fill="#efadaf"/><rect x="128.80" y="215.00" width="29.43" height="0.8" fill="#f8d8d9"/><rect x="157.93" y="215.00" width="29.43" height="0.8" fill="#eb989a"/><rect x="187.05" y="215.00" width="29.43" height="0.8" fill="#eea5a6"/><rect x="216.18" y="215.00" width="29.43" height="0.8" fill="#fbeaea"/><rect x="12.30" y="215.50" width="29.42" height="0.8" fill="#dee9f4"/><rect x="41.42" y="215.50" width="29.43" height="0.8" fill="#b1cbe4"/><rect x="70.55" y="215.50" width="29.43" height="0.8" fill="#8db2d7"/><rect x="99.67" y="215.50" width="29.43" height="0.8" fill="#eea4a6"/><rect x="128.80" y="215.50" width="29.43" height="0.8" fill="#f6cecf"/><rect x="157.93" y="215.50" width="29.43" height="0.8" fill="#eea4a6"/><rect x="187.05" y="215.50" width="29.43" height="0.8" fill="#ea9193"/><rect x="216.18" y="215.50" width="29.43" height="0.8" fill="#f9dedf"/><rect x="12.30" y="216.00" width="29.42" height="0.8" fill="#d2e1ef"/><rect x="41.42" y="216.00" width="29.43" height="0.8" fill="#9fbfde"/><rect x="70.55" y="216.00" width="29.43" height="0.8" fill="#8cb2d7"/><rect x="99.67" y="216.00" width="29.43" height="0.8" fill="#f1b4b6"/><rect x="128.80" y="216.00" width="29.43" height="0.8" fill="#f5cbcc"/><rect x="157.93" y="216.00" width="29.43" height="0.8" fill="#f2b9ba"/><rect x="187.05" y="216.00" width="29.43" height="0.8" fill="#ea8f91"/><rect x="216.18" y="216.00" width="29.43" height="0.8" fill="#f6d1d2"/><rect x="12.30" y="216.50" width="29.42" height="0.8" fill="#c6d9eb"/><rect x="41.42" y="216.50" width="29.43" height="0.8" fill="#8ab1d6"/><rect x="70.55" y="216.50" width="29.43" height="0.8" fill="#92b6d9"/><rect x="99.67" y="216.50" width="29.43" height="0.8" fill="#f6cfd0"/><rect x="128.80" y="216.50" width="29.43" height="0.8" fill="#f2bbbd"/><rect x="157.93" y="216.50" width="29.43" height="0.8" fill="#f4c4c5"/><rect x="187.05" y="216.50" width="29.43" height="0.8" fill="#ec9d9f"/><rect x="216.18" y="216.50" width="29.43" height="0.8" fill="#f7d8d8"/><rect x="12.30" y="217.00" width="29.42" height="0.8" fill="#b5cde5"/><rect x="41.42" y="217.00" width="29.43" height="0.8" fill="#9abbdc"/><rect x="70.55" y="217.00" width="29.43" height="0.8" fill="#a4c2df"/><rect x="99.67" y="217.00" width="29.43" height="0.8" fill="#f9dfdf"/><rect x="128.80" y="217.00" width="29.43" height="0.8" fill="#efacae"/><rect x="157.93" y="217.00" width="29.43" height="0.8" fill="#f3c2c3"/><rect x="187.05" y="217.00" width="29.43" height="0.8" fill="#eea4a6"/><rect x="216.18" y="217.00" width="29.43" height="0.8" fill="#f8dcdd"/><rect x="12.30" y="217.50" width="29.42" height="0.8" fill="#9fbfde"/><rect x="41.42" y="217.50" width="29.43" height="0.8" fill="#bad1e7"/><rect x="70.55" y="217.50" width="29.43" height="0.8" fill="#aac6e1"/><rect x="99.67" y="217.50" width="29.43" height="0.8" fill="#f8d9d9"/><rect x="128.80" y="217.50" width="29.43" height="0.8" fill="#f1b3b4"/><rect x="157.93" y="217.50" width="29.43" height="0.8" fill="#f6d0d1"/><rect x="187.05" y="217.50" width="29.43" height="0.8" fill="#eb989a"/><rect x="216.18" y="217.50" width="29.43" height="0.8" fill="#f9ddde"/><rect x="12.30" y="218.00" width="29.42" height="0.8" fill="#89b0d6"/><rect x="41.42" y="218.00" width="29.43" height="0.8" fill="#cadbed"/><rect x="70.55" y="218.00" width="29.43" height="0.8" fill="#abc7e2"/><rect x="99.67" y="218.00" width="29.43" height="0.8" fill="#f2bcbe"/><rect x="128.80" y="218.00" width="29.43" height="0.8" fill="#f5cacb"/><rect x="157.93" y="218.00" width="29.43" height="0.8" fill="#f8dbdc"/><rect x="187.05" y="218.00" width="29.43" height="0.8" fill="#e98b8e"/><rect x="216.18" y="218.00" width="29.43" height="0.8" fill="#f4c6c7"/><rect x="12.30" y="218.50" width="29.42" height="0.8" fill="#90b4d8"/><rect x="41.42" y="218.50" width="29.43" height="0.8" fill="#b5cde5"/><rect x="70.55" y="218.50" width="29.43" height="0.8" fill="#aec8e3"/><rect x="99.67" y="218.50" width="29.43" height="0.8" fill="#e98a8c"/><rect x="128.80" y="218.50" width="29.43" height="0.8" fill="#fae5e6"/><rect x="157.93" y="218.50" width="29.43" height="0.8" fill="#f7d3d4"/><rect x="187.05" y="218.50" width="29.43" height="0.8" fill="#eea4a6"/><rect x="216.18" y="218.50" width="29.43" height="0.8" fill="#f1b7b9"/><rect x="12.30" y="219.00" width="29.42" height="0.8" fill="#acc7e2"/><rect x="41.42" y="219.00" width="29.43" height="0.8" fill="#8eb3d7"/><rect x="70.55" y="219.00" width="29.43" height="0.8" fill="#b1cbe4"/><rect x="99.67" y="219.00" width="29.43" height="0.8" fill="#e78385"/><rect x="128.80" y="219.00" width="29.43" height="0.8" fill="#fffefe"/><rect x="157.93" y="219.00" width="29.43" height="0.8" fill="#f1b4b6"/><rect x="187.05" y="219.00" width="29.43" height="0.8" fill="#f5cbcc"/><rect x="216.18" y="219.00" width="29.43" height="0.8" fill="#f2bbbc"/><rect x="12.30" y="219.50" width="29.42" height="0.8" fill="#cadbec"/><rect x="41.42" y="219.50" width="29.43" height="0.8" fill="#8ab1d6"/><rect x="70.55" y="219.50" width="29.43" height="0.8" fill="#a8c5e1"/><rect x="99.67" y="219.50" width="29.43" height="0.8" fill="#ed9ea0"/><rect x="128.80" y="219.50" width="29.43" height="0.8" fill="#feffff"/><rect x="157.93" y="219.50" width="29.43" height="0.8" fill="#f2bdbe"/><rect x="187.05" y="219.50" width="29.43" height="0.8" fill="#fae3e3"/><rect x="216.18" y="219.50" width="29.43" height="0.8" fill="#fcf0f0"/><rect x="12.30" y="220.00" width="29.42" height="0.8" fill="#cadbed"/><rect x="41.42" y="220.00" width="29.43" height="0.8" fill="#88afd5"/><rect x="70.55" y="220.00" width="29.43" height="0.8" fill="#7ea9d2"/><rect x="99.67" y="220.00" width="29.43" height="0.8" fill="#f7d3d4"/><rect x="128.80" y="220.00" width="29.43" height="0.8" fill="#f5f8fc"/><rect x="157.93" y="220.00" width="29.43" height="0.8" fill="#fdf7f7"/><rect x="187.05" y="220.00" width="29.43" height="0.8" fill="#fdf5f5"/><rect x="216.18" y="220.00" width="29.43" height="0.8" fill="#e6eef6"/><rect x="12.30" y="220.50" width="29.42" height="0.8" fill="#b5cde5"/><rect x="41.42" y="220.50" width="29.43" height="0.8" fill="#99badb"/><rect x="70.55" y="220.50" width="29.43" height="0.8" fill="#6f9ecd"/><rect x="99.67" y="220.50" width="29.43" height="0.8" fill="#fdf6f6"/><rect x="128.80" y="220.50" width="29.43" height="0.8" fill="#fcf1f1"/><rect x="157.93" y="220.50" width="29.43" height="0.8" fill="#eef4f9"/><rect x="187.05" y="220.50" width="29.43" height="0.8" fill="#fcefef"/><rect x="216.18" y="220.50" width="29.43" height="0.8" fill="#dde8f3"/><rect x="12.30" y="221.00" width="29.42" height="0.8" fill="#aac6e1"/><rect x="41.42" y="221.00" width="29.43" height="0.8" fill="#a3c1df"/><rect x="70.55" y="221.00" width="29.43" height="0.8" fill="#7ea8d2"/><rect x="99.67" y="221.00" width="29.43" height="0.8" fill="#fdfefe"/><rect x="128.80" y="221.00" width="29.43" height="0.8" fill="#f6cecf"/><rect x="157.93" y="221.00" width="29.43" height="0.8" fill="#fbfdfe"/><rect x="187.05" y="221.00" width="29.43" height="0.8" fill="#f8d9da"/><rect x="216.18" y="221.00" width="29.43" height="0.8" fill="#f5f8fb"/><rect x="12.30" y="221.50" width="29.42" height="0.8" fill="#a1c0de"/><rect x="41.42" y="221.50" width="29.43" height="0.8" fill="#b0cae3"/><rect x="70.55" y="221.50" width="29.43" height="0.8" fill="#99badb"/><rect x="99.67" y="221.50" width="29.43" height="0.8" fill="#f7d7d7"/><rect x="128.80" y="221.50" width="29.43" height="0.8" fill="#eea4a6"/><rect x="157.93" y="221.50" width="29.43" height="0.8" fill="#fae5e6"/><rect x="187.05" y="221.50" width="29.43" height="0.8" fill="#f2bcbd"/><rect x="216.18" y="221.50" width="29.43" height="0.8" fill="#fceeee"/><rect x="12.30" y="222.00" width="29.42" height="0.8" fill="#a7c4e0"/><rect x="41.42" y="222.00" width="29.43" height="0.8" fill="#a6c3e0"/><rect x="70.55" y="222.00" width="29.43" height="0.8" fill="#a6c3e0"/><rect x="99.67" y="222.00" width="29.43" height="0.8" fill="#eb9799"/><rect x="128.80" y="222.00" width="29.43" height="0.8" fill="#ea9294"/><rect x="157.93" y="222.00" width="29.43" height="0.8" fill="#f6d2d3"/><rect x="187.05" y="222.00" width="29.43" height="0.8" fill="#eb9496"/><rect x="216.18" y="222.00" width="29.43" height="0.8" fill="#f9e1e1"/><rect x="12.30" y="222.50" width="29.42" height="0.8" fill="#b8cfe6"/><rect x="41.42" y="222.50" width="29.43" height="0.8" fill="#95b7da"/><rect x="70.55" y="222.50" width="29.43" height="0.8" fill="#b0cae3"/><rect x="99.67" y="222.50" width="29.43" height="0.8" fill="#e47476"/><rect x="128.80" y="222.50" width="29.43" height="0.8" fill="#eb9799"/><rect x="157.93" y="222.50" width="29.43" height="0.8" fill="#f5cbcc"/><rect x="187.05" y="222.50" width="29.43" height="0.8" fill="#e78083"/><rect x="216.18" y="222.50" width="29.43" height="0.8" fill="#f9dfdf"/><rect x="12.30" y="223.00" width="29.42" height="0.8" fill="#c2d6ea"/><rect x="41.42" y="223.00" width="29.43" height="0.8" fill="#78a4d0"/><rect x="70.55" y="223.00" width="29.43" height="0.8" fill="#b2cce4"/><rect x="99.67" y="223.00" width="29.43" height="0.8" fill="#e88587"/><rect x="128.80" y="223.00" width="29.43" height="0.8" fill="#eda2a3"/><rect x="157.93" y="223.00" width="29.43" height="0.8" fill="#f1b6b7"/><rect x="187.05" y="223.00" width="29.43" height="0.8" fill="#e8898b"/><rect x="216.18" y="223.00" width="29.43" height="0.8" fill="#f8d9d9"/><rect x="12.30" y="223.50" width="29.42" height="0.8" fill="#c7d9eb"/><rect x="41.42" y="223.50" width="29.43" height="0.8" fill="#88afd5"/><rect x="70.55" y="223.50" width="29.43" height="0.8" fill="#9fbedd"/><rect x="99.67" y="223.50" width="29.43" height="0.8" fill="#efadaf"/><rect x="128.80" y="223.50" width="29.43" height="0.8" fill="#f1b7b8"/><rect x="157.93" y="223.50" width="29.43" height="0.8" fill="#efadaf"/><rect x="187.05" y="223.50" width="29.43" height="0.8" fill="#f1b6b7"/><rect x="216.18" y="223.50" width="29.43" height="0.8" fill="#f8dadb"/><rect x="12.30" y="224.00" width="29.42" height="0.8" fill="#b6cee5"/><rect x="41.42" y="224.00" width="29.43" height="0.8" fill="#9ebedd"/><rect x="70.55" y="224.00" width="29.43" height="0.8" fill="#81abd3"/><rect x="99.67" y="224.00" width="29.43" height="0.8" fill="#fbe7e8"/><rect x="128.80" y="224.00" width="29.43" height="0.8" fill="#f7d7d8"/><rect x="157.93" y="224.00" width="29.43" height="0.8" fill="#ed9ea0"/><rect x="187.05" y="224.00" width="29.43" height="0.8" fill="#fbe9ea"/><rect x="216.18" y="224.00" width="29.43" height="0.8" fill="#fdf3f3"/><rect x="12.30" y="224.50" width="29.42" height="0.8" fill="#bbd1e7"/><rect x="41.42" y="224.50" width="29.43" height="0.8" fill="#b0cae4"/><rect x="70.55" y="224.50" width="29.43" height="0.8" fill="#72a0ce"/><rect x="99.67" y="224.50" width="29.43" height="0.8" fill="#fdf6f6"/><rect x="128.80" y="224.50" width="29.43" height="0.8" fill="#f8d8d9"/><rect x="157.93" y="224.50" width="29.43" height="0.8" fill="#efa9aa"/><rect x="187.05" y="224.50" width="29.43" height="0.8" fill="#fbecec"/><rect x="216.18" y="224.50" width="29.43" height="0.8" fill="#ecf2f8"/><rect x="12.30" y="225.00" width="29.42" height="0.8" fill="#c6d8eb"/><rect x="41.42" y="225.00" width="29.43" height="0.8" fill="#b8cfe6"/><rect x="70.55" y="225.00" width="29.43" height="0.8" fill="#7fa9d2"/><rect x="99.67" y="225.00" width="29.43" height="0.8" fill="#fae4e4"/><rect x="128.80" y="225.00" width="29.43" height="0.8" fill="#f6cecf"/><rect x="157.93" y="225.00" width="29.43" height="0.8" fill="#f2bcbd"/><rect x="187.05" y="225.00" width="29.43" height="0.8" fill="#f5cbcc"/><rect x="216.18" y="225.00" width="29.43" height="0.8" fill="#e6eef6"/><rect x="12.30" y="225.50" width="29.42" height="0.8" fill="#d0dfee"/><rect x="41.42" y="225.50" width="29.43" height="0.8" fill="#b9d0e6"/><rect x="70.55" y="225.50" width="29.43" height="0.8" fill="#88afd6"/><rect x="99.67" y="225.50" width="29.43" height="0.8" fill="#f2bcbd"/><rect x="128.80" y="225.50" width="29.43" height="0.8" fill="#f6cfd0"/><rect x="157.93" y="225.50" width="29.43" height="0.8" fill="#f7d5d5"/><rect x="187.05" y="225.50" width="29.43" height="0.8" fill="#efaaac"/><rect x="216.18" y="225.50" width="29.43" height="0.8" fill="#fcfdfe"/><rect x="12.30" y="226.00" width="29.42" height="0.8" fill="#cedeee"/><rect x="41.42" y="226.00" width="29.43" height="0.8" fill="#b0cae4"/><rect x="70.55" y="226.00" width="29.43" height="0.8" fill="#8bb1d7"/><rect x="99.67" y="226.00" width="29.43" height="0.8" fill="#f0b1b2"/><rect x="128.80" y="226.00" width="29.43" height="0.8" fill="#fbe9e9"/><rect x="157.93" y="226.00" width="29.43" height="0.8" fill="#fffcfd"/><rect x="187.05" y="226.00" width="29.43" height="0.8" fill="#efaaac"/><rect x="216.18" y="226.00" width="29.43" height="0.8" fill="#fae6e6"/><rect x="12.30" y="226.50" width="29.42" height="0.8" fill="#eef4f9"/><rect x="41.42" y="226.50" width="29.43" height="0.8" fill="#bfd4e9"/><rect x="70.55" y="226.50" width="29.43" height="0.8" fill="#a2c1df"/><rect x="99.67" y="226.50" width="29.43" height="0.8" fill="#eda3a5"/><rect x="128.80" y="226.50" width="29.43" height="0.8" fill="#f7d5d6"/><rect x="157.93" y="226.50" width="29.43" height="0.8" fill="#fcf0f0"/><rect x="187.05" y="226.50" width="29.43" height="0.8" fill="#ec9a9c"/><rect x="216.18" y="226.50" width="29.43" height="0.8" fill="#f2bcbd"/><rect x="12.30" y="227.00" width="29.42" height="0.8" fill="#fdfefe"/><rect x="41.42" y="227.00" width="29.43" height="0.8" fill="#d1e0ef"/><rect x="70.55" y="227.00" width="29.43" height="0.8" fill="#c8daec"/><rect x="99.67" y="227.00" width="29.43" height="0.8" fill="#ec9ea0"/><rect x="128.80" y="227.00" width="29.43" height="0.8" fill="#f1b6b7"/><rect x="157.93" y="227.00" width="29.43" height="0.8" fill="#f3c0c1"/><rect x="187.05" y="227.00" width="29.43" height="0.8" fill="#eda2a3"/><rect x="216.18" y="227.00" width="29.43" height="0.8" fill="#eda0a2"/><rect x="12.30" y="227.50" width="29.42" height="0.8" fill="#f4f7fb"/><rect x="41.42" y="227.50" width="29.43" height="0.8" fill="#d3e2f0"/><rect x="70.55" y="227.50" width="29.43" height="0.8" fill="#c7d9ec"/><rect x="99.67" y="227.50" width="29.43" height="0.8" fill="#eea4a5"/><rect x="128.80" y="227.50" width="29.43" height="0.8" fill="#f5cccd"/><rect x="157.93" y="227.50" width="29.43" height="0.8" fill="#eb9496"/><rect x="187.05" y="227.50" width="29.43" height="0.8" fill="#ec9c9e"/><rect x="216.18" y="227.50" width="29.43" height="0.8" fill="#f1b6b7"/><rect x="12.30" y="228.00" width="29.42" height="0.8" fill="#d6e4f1"/><rect x="41.42" y="228.00" width="29.43" height="0.8" fill="#ccdded"/><rect x="70.55" y="228.00" width="29.43" height="0.8" fill="#bfd4e9"/><rect x="99.67" y="228.00" width="29.43" height="0.8" fill="#ec9d9f"/><rect x="128.80" y="228.00" width="29.43" height="0.8" fill="#fbecec"/><rect x="157.93" y="228.00" width="29.43" height="0.8" fill="#ea9294"/><rect x="187.05" y="228.00" width="29.43" height="0.8" fill="#eea8a9"/><rect x="216.18" y="228.00" width="29.43" height="0.8" fill="#f9e0e1"/><rect x="12.30" y="228.50" width="29.42" height="0.8" fill="#cadbec"/><rect x="41.42" y="228.50" width="29.43" height="0.8" fill="#c6d9eb"/><rect x="70.55" y="228.50" width="29.43" height="0.8" fill="#c1d5e9"/><rect x="99.67" y="228.50" width="29.43" height="0.8" fill="#e88487"/><rect x="128.80" y="228.50" width="29.43" height="0.8" fill="#fae4e5"/><rect x="157.93" y="228.50" width="29.43" height="0.8" fill="#ea9395"/><rect x="187.05" y="228.50" width="29.43" height="0.8" fill="#f5cbcc"/><rect x="216.18" y="228.50" width="29.43" height="0.8" fill="#fdf3f3"/><rect x="12.30" y="229.00" width="29.42" height="0.8" fill="#d4e2f0"/><rect x="41.42" y="229.00" width="29.43" height="0.8" fill="#d6e4f1"/><rect x="70.55" y="229.00" width="29.43" height="0.8" fill="#dde8f3"/><rect x="99.67" y="229.00" width="29.43" height="0.8" fill="#f4c8c9"/><rect x="128.80" y="229.00" width="29.43" height="0.8" fill="#dbe7f3"/><rect x="157.93" y="229.00" width="29.43" height="0.8" fill="#e05c5f"/><rect x="187.05" y="229.00" width="29.43" height="0.8" fill="#f1b4b5"/><rect x="216.18" y="229.00" width="29.43" height="0.8" fill="#ec9a9c"/><rect x="12.30" y="229.50" width="29.42" height="0.8" fill="#d0e0ef"/><rect x="41.42" y="229.50" width="29.43" height="0.8" fill="#cbdced"/><rect x="70.55" y="229.50" width="29.43" height="0.8" fill="#cbdced"/><rect x="99.67" y="229.50" width="29.43" height="0.8" fill="#fae4e5"/><rect x="128.80" y="229.50" width="29.43" height="0.8" fill="#dce8f3"/><rect x="157.93" y="229.50" width="29.43" height="0.8" fill="#e36d6f"/><rect x="187.05" y="229.50" width="29.43" height="0.8" fill="#f3bfc0"/><rect x="216.18" y="229.50" width="29.43" height="0.8" fill="#e78385"/><rect x="12.30" y="230.00" width="29.42" height="0.8" fill="#d6e3f1"/><rect x="41.42" y="230.00" width="29.43" height="0.8" fill="#c7d9eb"/><rect x="70.55" y="230.00" width="29.43" height="0.8" fill="#bcd2e7"/><rect x="99.67" y="230.00" width="29.43" height="0.8" fill="#fef9f9"/><rect x="128.80" y="230.00" width="29.43" height="0.8" fill="#c3d7ea"/><rect x="157.93" y="230.00" width="29.43" height="0.8" fill="#e67b7e"/><rect x="187.05" y="230.00" width="29.43" height="0.8" fill="#f1b5b6"/><rect x="216.18" y="230.00" width="29.43" height="0.8" fill="#e36a6d"/><rect x="12.30" y="230.50" width="29.42" height="0.8" fill="#e8eff7"/><rect x="41.42" y="230.50" width="29.43" height="0.8" fill="#d2e1ef"/><rect x="70.55" y="230.50" width="29.43" height="0.8" fill="#b4cde5"/><rect x="99.67" y="230.50" width="29.43" height="0.8" fill="#fbfcfe"/><rect x="128.80" y="230.50" width="29.43" height="0.8" fill="#b9d0e6"/><rect x="157.93" y="230.50" width="29.43" height="0.8" fill="#e98a8c"/><rect x="187.05" y="230.50" width="29.43" height="0.8" fill="#ea9193"/><rect x="216.18" y="230.50" width="29.43" height="0.8" fill="#e47274"/><rect x="12.30" y="231.00" width="29.42" height="0.8" fill="#f3f7fb"/><rect x="41.42" y="231.00" width="29.43" height="0.8" fill="#dae6f2"/><rect x="70.55" y="231.00" width="29.43" height="0.8" fill="#cbdced"/><rect x="99.67" y="231.00" width="29.43" height="0.8" fill="#f1f6fa"/><rect x="128.80" y="231.00" width="29.43" height="0.8" fill="#d2e1ef"/><rect x="157.93" y="231.00" width="29.43" height="0.8" fill="#e98c8e"/><rect x="187.05" y="231.00" width="29.43" height="0.8" fill="#e78385"/><rect x="216.18" y="231.00" width="29.43" height="0.8" fill="#e88688"/><rect x="12.30" y="231.50" width="29.42" height="0.8" fill="#fceff0"/><rect x="41.42" y="231.50" width="29.43" height="0.8" fill="#d1e0ef"/><rect x="70.55" y="231.50" width="29.43" height="0.8" fill="#f5f8fb"/><rect x="99.67" y="231.50" width="29.43" height="0.8" fill="#dfe9f4"/><rect x="128.80" y="231.50" width="29.43" height="0.8" fill="#ebf2f8"/><rect x="157.93" y="231.50" width="29.43" height="0.8" fill="#e88587"/><rect x="187.05" y="231.50" width="29.43" height="0.8" fill="#e78284"/><rect x="216.18" y="231.50" width="29.43" height="0.8" fill="#e98e90"/><rect x="12.30" y="232.00" width="29.42" height="0.8" fill="#fef9f9"/><rect x="41.42" y="232.00" width="29.43" height="0.8" fill="#c2d6ea"/><rect x="70.55" y="232.00" width="29.43" height="0.8" fill="#f7fafc"/><rect x="99.67" y="232.00" width="29.43" height="0.8" fill="#cedeee"/><rect x="128.80" y="232.00" width="29.43" height="0.8" fill="#dde8f3"/><rect x="157.93" y="232.00" width="29.43" height="0.8" fill="#e67b7d"/><rect x="187.05" y="232.00" width="29.43" height="0.8" fill="#e6797c"/><rect x="216.18" y="232.00" width="29.43" height="0.8" fill="#eda0a2"/><rect x="12.30" y="232.50" width="29.42" height="0.8" fill="#e3ecf5"/><rect x="41.42" y="232.50" width="29.43" height="0.8" fill="#b4cde5"/><rect x="70.55" y="232.50" width="29.43" height="0.8" fill="#d5e3f0"/><rect x="99.67" y="232.50" width="29.43" height="0.8" fill="#bdd3e8"/><rect x="128.80" y="232.50" width="29.43" height="0.8" fill="#b6cee6"/><rect x="157.93" y="232.50" width="29.43" height="0.8" fill="#e88486"/><rect x="187.05" y="232.50" width="29.43" height="0.8" fill="#e77f82"/><rect x="216.18" y="232.50" width="29.43" height="0.8" fill="#eea5a7"/><rect x="12.30" y="233.00" width="29.42" height="0.8" fill="#b7cfe6"/><rect x="41.42" y="233.00" width="29.43" height="0.8" fill="#a1c0de"/><rect x="70.55" y="233.00" width="29.43" height="0.8" fill="#bcd2e8"/><rect x="99.67" y="233.00" width="29.43" height="0.8" fill="#bfd4e9"/><rect x="128.80" y="233.00" width="29.43" height="0.8" fill="#aec9e3"/><rect x="157.93" y="233.00" width="29.43" height="0.8" fill="#e47477"/><rect x="187.05" y="233.00" width="29.43" height="0.8" fill="#e88587"/><rect x="216.18" y="233.00" width="29.43" height="0.8" fill="#eda0a1"/><rect x="12.30" y="233.50" width="29.42" height="0.8" fill="#bad1e7"/><rect x="41.42" y="233.50" width="29.43" height="0.8" fill="#a2c1df"/><rect x="70.55" y="233.50" width="29.43" height="0.8" fill="#a7c4e0"/><rect x="99.67" y="233.50" width="29.43" height="0.8" fill="#d2e1ef"/><rect x="128.80" y="233.50" width="29.43" height="0.8" fill="#c7daec"/><rect x="157.93" y="233.50" width="29.43" height="0.8" fill="#e2676a"/><rect x="187.05" y="233.50" width="29.43" height="0.8" fill="#e78082"/><rect x="216.18" y="233.50" width="29.43" height="0.8" fill="#e98c8e"/><rect x="12.30" y="234.00" width="29.42" height="0.8" fill="#d2e1ef"/><rect x="41.42" y="234.00" width="29.43" height="0.8" fill="#b5cee5"/><rect x="70.55" y="234.00" width="29.43" height="0.8" fill="#acc7e2"/><rect x="99.67" y="234.00" width="29.43" height="0.8" fill="#e8f0f7"/><rect x="128.80" y="234.00" width="29.43" height="0.8" fill="#e6eef6"/><rect x="157.93" y="234.00" width="29.43" height="0.8" fill="#e2676a"/><rect x="187.05" y="234.00" width="29.43" height="0.8" fill="#e67a7c"/><rect x="216.18" y="234.00" width="29.43" height="0.8" fill="#e78386"/><rect x="12.30" y="234.50" width="29.42" height="0.8" fill="#e1ebf4"/><rect x="41.42" y="234.50" width="29.43" height="0.8" fill="#c6d9eb"/><rect x="70.55" y="234.50" width="29.43" height="0.8" fill="#cddded"/><rect x="99.67" y="234.50" width="29.43" height="0.8" fill="#f9fbfd"/><rect x="128.80" y="234.50" width="29.43" height="0.8" fill="#fefcfc"/><rect x="157.93" y="234.50" width="29.43" height="0.8" fill="#e36a6d"/><rect x="187.05" y="234.50" width="29.43" height="0.8" fill="#e57578"/><rect x="216.18" y="234.50" width="29.43" height="0.8" fill="#e67b7d"/><rect x="12.30" y="235.00" width="29.42" height="0.8" fill="#f6f9fc"/><rect x="41.42" y="235.00" width="29.43" height="0.8" fill="#cedeee"/><rect x="70.55" y="235.00" width="29.43" height="0.8" fill="#eef4f9"/><rect x="99.67" y="235.00" width="29.43" height="0.8" fill="#fdf5f5"/><rect x="128.80" y="235.00" width="29.43" height="0.8" fill="#fbebeb"/><rect x="157.93" y="235.00" width="29.43" height="0.8" fill="#e16164"/><rect x="187.05" y="235.00" width="29.43" height="0.8" fill="#e05e61"/><rect x="216.18" y="235.00" width="29.43" height="0.8" fill="#e78184"/><rect x="12.30" y="235.50" width="29.42" height="0.8" fill="#f4f8fb"/><rect x="41.42" y="235.50" width="29.43" height="0.8" fill="#d9e6f2"/><rect x="70.55" y="235.50" width="29.43" height="0.8" fill="#f3f7fb"/><rect x="99.67" y="235.50" width="29.43" height="0.8" fill="#fafcfd"/><rect x="128.80" y="235.50" width="29.43" height="0.8" fill="#fbebec"/><rect x="157.93" y="235.50" width="29.43" height="0.8" fill="#dc494d"/><rect x="187.05" y="235.50" width="29.43" height="0.8" fill="#e15f62"/><rect x="216.18" y="235.50" width="29.43" height="0.8" fill="#e98d8f"/><rect x="12.30" y="236.00" width="29.42" height="0.8" fill="#e8f0f7"/><rect x="41.42" y="236.00" width="29.43" height="0.8" fill="#d8e5f1"/><rect x="70.55" y="236.00" width="29.43" height="0.8" fill="#d1e0ef"/><rect x="99.67" y="236.00" width="29.43" height="0.8" fill="#d6e4f1"/><rect x="128.80" y="236.00" width="29.43" height="0.8" fill="#fdf3f3"/><rect x="157.93" y="236.00" width="29.43" height="0.8" fill="#e16063"/><rect x="187.05" y="236.00" width="29.43" height="0.8" fill="#e47174"/><rect x="216.18" y="236.00" width="29.43" height="0.8" fill="#eb9698"/><rect x="12.30" y="236.50" width="29.42" height="0.8" fill="#e7eff7"/><rect x="41.42" y="236.50" width="29.43" height="0.8" fill="#d3e2f0"/><rect x="70.55" y="236.50" width="29.43" height="0.8" fill="#a1c0de"/><rect x="99.67" y="236.50" width="29.43" height="0.8" fill="#c9dbec"/><rect x="128.80" y="236.50" width="29.43" height="0.8" fill="#fef8f8"/><rect x="157.93" y="236.50" width="29.43" height="0.8" fill="#e67a7d"/><rect x="187.05" y="236.50" width="29.43" height="0.8" fill="#ea9193"/><rect x="216.18" y="236.50" width="29.43" height="0.8" fill="#e67c7e"/><rect x="12.30" y="237.00" width="29.42" height="0.8" fill="#eaf1f8"/><rect x="41.42" y="237.00" width="29.43" height="0.8" fill="#cadbec"/><rect x="70.55" y="237.00" width="29.43" height="0.8" fill="#7fa9d2"/><rect x="99.67" y="237.00" width="29.43" height="0.8" fill="#c4d7ea"/><rect x="128.80" y="237.00" width="29.43" height="0.8" fill="#edf3f9"/><rect x="157.93" y="237.00" width="29.43" height="0.8" fill="#e78385"/><rect x="187.05" y="237.00" width="29.43" height="0.8" fill="#ec9c9e"/><rect x="216.18" y="237.00" width="29.43" height="0.8" fill="#e67a7c"/><rect x="12.30" y="237.50" width="29.42" height="0.8" fill="#e6eef6"/><rect x="41.42" y="237.50" width="29.43" height="0.8" fill="#bed3e8"/><rect x="70.55" y="237.50" width="29.43" height="0.8" fill="#71a0ce"/><rect x="99.67" y="237.50" width="29.43" height="0.8" fill="#c5d8eb"/><rect x="128.80" y="237.50" width="29.43" height="0.8" fill="#cfdfee"/><rect x="157.93" y="237.50" width="29.43" height="0.8" fill="#e05e61"/><rect x="187.05" y="237.50" width="29.43" height="0.8" fill="#e8888a"/><rect x="216.18" y="237.50" width="29.43" height="0.8" fill="#e8898b"/><rect x="12.30" y="238.00" width="29.42" height="0.8" fill="#c6d9eb"/><rect x="41.42" y="238.00" width="29.43" height="0.8" fill="#bfd4e9"/><rect x="70.55" y="238.00" width="29.43" height="0.8" fill="#82abd3"/><rect x="99.67" y="238.00" width="29.43" height="0.8" fill="#d1e0ef"/><rect x="128.80" y="238.00" width="29.43" height="0.8" fill="#cadced"/><rect x="157.93" y="238.00" width="29.43" height="0.8" fill="#d83438"/><rect x="187.05" y="238.00" width="29.43" height="0.8" fill="#e57679"/><rect x="216.18" y="238.00" width="29.43" height="0.8" fill="#eb989a"/><rect x="12.30" y="238.50" width="29.42" height="0.8" fill="#aec8e3"/><rect x="41.42" y="238.50" width="29.43" height="0.8" fill="#b2cbe4"/><rect x="70.55" y="238.50" width="29.43" height="0.8" fill="#90b4d8"/><rect x="99.67" y="238.50" width="29.43" height="0.8" fill="#dae6f2"/><rect x="128.80" y="238.50" width="29.43" height="0.8" fill="#dce8f3"/><rect x="157.93" y="238.50" width="29.43" height="0.8" fill="#db4145"/><rect x="187.05" y="238.50" width="29.43" height="0.8" fill="#e57477"/><rect x="216.18" y="238.50" width="29.43" height="0.8" fill="#eb9799"/><rect x="12.30" y="239.00" width="29.42" height="0.8" fill="#98badb"/><rect x="41.42" y="239.00" width="29.43" height="0.8" fill="#8db3d7"/><rect x="70.55" y="239.00" width="29.43" height="0.8" fill="#95b8da"/><rect x="99.67" y="239.00" width="29.43" height="0.8" fill="#d9e5f2"/><rect x="128.80" y="239.00" width="29.43" height="0.8" fill="#ebf1f8"/><rect x="157.93" y="239.00" width="29.43" height="0.8" fill="#e57679"/><rect x="187.05" y="239.00" width="29.43" height="0.8" fill="#e67c7e"/><rect x="216.18" y="239.00" width="29.43" height="0.8" fill="#ec9c9e"/><rect x="12.30" y="239.50" width="29.42" height="0.8" fill="#9bbcdc"/><rect x="41.42" y="239.50" width="29.43" height="0.8" fill="#80aad3"/><rect x="70.55" y="239.50" width="29.43" height="0.8" fill="#98badb"/><rect x="99.67" y="239.50" width="29.43" height="0.8" fill="#dde8f3"/><rect x="128.80" y="239.50" width="29.43" height="0.8" fill="#edf3f9"/><rect x="157.93" y="239.50" width="29.43" height="0.8" fill="#e98d8f"/><rect x="187.05" y="239.50" width="29.43" height="0.8" fill="#e88689"/><rect x="216.18" y="239.50" width="29.43" height="0.8" fill="#eda0a1"/><rect x="12.30" y="240.00" width="29.42" height="0.8" fill="#99badb"/><rect x="41.42" y="240.00" width="29.43" height="0.8" fill="#9cbcdc"/><rect x="70.55" y="240.00" width="29.43" height="0.8" fill="#a6c3e0"/><rect x="99.67" y="240.00" width="29.43" height="0.8" fill="#e0eaf4"/><rect x="128.80" y="240.00" width="29.43" height="0.8" fill="#dde8f3"/><rect x="157.93" y="240.00" width="29.43" height="0.8" fill="#e8888a"/><rect x="187.05" y="240.00" width="29.43" height="0.8" fill="#eb9698"/><rect x="216.18" y="240.00" width="29.43" height="0.8" fill="#ec9b9d"/><rect x="12.30" y="240.50" width="29.42" height="0.8" fill="#eff4f9"/><rect x="41.42" y="240.50" width="29.43" height="0.8" fill="#f8fafc"/><rect x="70.55" y="240.50" width="29.43" height="0.8" fill="#cadbec"/><rect x="99.67" y="240.50" width="29.43" height="0.8" fill="#e05f62"/><rect x="128.80" y="240.50" width="29.43" height="0.8" fill="#e36c6f"/><rect x="157.93" y="240.50" width="29.43" height="0.8" fill="#f9e0e0"/><rect x="187.05" y="240.50" width="29.43" height="0.8" fill="#bad1e7"/><rect x="216.18" y="240.50" width="29.43" height="0.8" fill="#cbdced"/><rect x="12.30" y="241.00" width="29.42" height="0.8" fill="#f2f6fb"/><rect x="41.42" y="241.00" width="29.43" height="0.8" fill="#f7f9fc"/><rect x="70.55" y="241.00" width="29.43" height="0.8" fill="#bdd2e8"/><rect x="99.67" y="241.00" width="29.43" height="0.8" fill="#dc484c"/><rect x="128.80" y="241.00" width="29.43" height="0.8" fill="#e88486"/><rect x="157.93" y="241.00" width="29.43" height="0.8" fill="#f7d4d5"/><rect x="187.05" y="241.00" width="29.43" height="0.8" fill="#abc7e2"/><rect x="216.18" y="241.00" width="29.43" height="0.8" fill="#c5d8eb"/><rect x="12.30" y="241.50" width="29.42" height="0.8" fill="#fefafa"/><rect x="41.42" y="241.50" width="29.43" height="0.8" fill="#e9f0f7"/><rect x="70.55" y="241.50" width="29.43" height="0.8" fill="#c9dbec"/><rect x="99.67" y="241.50" width="29.43" height="0.8" fill="#db4043"/><rect x="128.80" y="241.50" width="29.43" height="0.8" fill="#e88789"/><rect x="157.93" y="241.50" width="29.43" height="0.8" fill="#f8d9da"/><rect x="187.05" y="241.50" width="29.43" height="0.8" fill="#aac6e1"/><rect x="216.18" y="241.50" width="29.43" height="0.8" fill="#c1d5e9"/><rect x="12.30" y="242.00" width="29.42" height="0.8" fill="#f9dfe0"/><rect x="41.42" y="242.00" width="29.43" height="0.8" fill="#c8daec"/><rect x="70.55" y="242.00" width="29.43" height="0.8" fill="#cfdfee"/><rect x="99.67" y="242.00" width="29.43" height="0.8" fill="#dd4b4f"/><rect x="128.80" y="242.00" width="29.43" height="0.8" fill="#eb9798"/><rect x="157.93" y="242.00" width="29.43" height="0.8" fill="#fdf3f3"/><rect x="187.05" y="242.00" width="29.43" height="0.8" fill="#b2cbe4"/><rect x="216.18" y="242.00" width="29.43" height="0.8" fill="#a7c4e0"/><rect x="12.30" y="242.50" width="29.42" height="0.8" fill="#f1b4b5"/><rect x="41.42" y="242.50" width="29.43" height="0.8" fill="#afc9e3"/><rect x="70.55" y="242.50" width="29.43" height="0.8" fill="#dfe9f4"/><rect x="99.67" y="242.50" width="29.43" height="0.8" fill="#d9393d"/><rect x="128.80" y="242.50" width="29.43" height="0.8" fill="#ed9fa1"/><rect x="157.93" y="242.50" width="29.43" height="0.8" fill="#fcfdfe"/><rect x="187.05" y="242.50" width="29.43" height="0.8" fill="#ccdded"/><rect x="216.18" y="242.50" width="29.43" height="0.8" fill="#9abbdc"/><rect x="12.30" y="243.00" width="29.42" height="0.8" fill="#e98e90"/><rect x="41.42" y="243.00" width="29.43" height="0.8" fill="#aec9e3"/><rect x="70.55" y="243.00" width="29.43" height="0.8" fill="#eff4fa"/><rect x="99.67" y="243.00" width="29.43" height="0.8" fill="#d72c30"/><rect x="128.80" y="243.00" width="29.43" height="0.8" fill="#e88587"/><rect x="157.93" y="243.00" width="29.43" height="0.8" fill="#ffffff"/><rect x="187.05" y="243.00" width="29.43" height="0.8" fill="#dbe7f3"/><rect x="216.18" y="243.00" width="29.43" height="0.8" fill="#a0bfde"/><rect x="12.30" y="243.50" width="29.42" height="0.8" fill="#ea9395"/><rect x="41.42" y="243.50" width="29.43" height="0.8" fill="#c9dbec"/><rect x="70.55" y="243.50" width="29.43" height="0.8" fill="#e3ecf5"/><rect x="99.67" y="243.50" width="29.43" height="0.8" fill="#da3b3f"/><rect x="128.80" y="243.50" width="29.43" height="0.8" fill="#e78083"/><rect x="157.93" y="243.50" width="29.43" height="0.8" fill="#fdfefe"/><rect x="187.05" y="243.50" width="29.43" height="0.8" fill="#d8e5f1"/><rect x="216.18" y="243.50" width="29.43" height="0.8" fill="#a5c3e0"/><rect x="12.30" y="244.00" width="29.42" height="0.8" fill="#ec9d9f"/><rect x="41.42" y="244.00" width="29.43" height="0.8" fill="#ecf3f9"/><rect x="70.55" y="244.00" width="29.43" height="0.8" fill="#e2ebf5"/><rect x="99.67" y="244.00" width="29.43" height="0.8" fill="#de5154"/><rect x="128.80" y="244.00" width="29.43" height="0.8" fill="#e47073"/><rect x="157.93" y="244.00" width="29.43" height="0.8" fill="#fcfdfe"/><rect x="187.05" y="244.00" width="29.43" height="0.8" fill="#d1e0ef"/><rect x="216.18" y="244.00" width="29.43" height="0.8" fill="#afc9e3"/><rect x="12.30" y="244.50" width="29.42" height="0.8" fill="#efadae"/><rect x="41.42" y="244.50" width="29.43" height="0.8" fill="#fafcfd"/><rect x="70.55" y="244.50" width="29.43" height="0.8" fill="#f6f9fc"/><rect x="99.67" y="244.50" width="29.43" height="0.8" fill="#e15f62"/><rect x="128.80" y="244.50" width="29.43" height="0.8" fill="#e05d60"/><rect x="157.93" y="244.50" width="29.43" height="0.8" fill="#f9fbfd"/><rect x="187.05" y="244.50" width="29.43" height="0.8" fill="#c6d9eb"/><rect x="216.18" y="244.50" width="29.43" height="0.8" fill="#b6cee5"/><rect x="12.30" y="245.00" width="29.42" height="0.8" fill="#f3bfc0"/><rect x="41.42" y="245.00" width="29.43" height="0.8" fill="#fefbfb"/><rect x="70.55" y="245.00" width="29.43" height="0.8" fill="#f8fafc"/><rect x="99.67" y="245.00" width="29.43" height="0.8" fill="#e47275"/><rect x="128.80" y="245.00" width="29.43" height="0.8" fill="#df5558"/><rect x="157.93" y="245.00" width="29.43" height="0.8" fill="#f4f8fb"/><rect x="187.05" y="245.00" width="29.43" height="0.8" fill="#bcd2e8"/><rect x="216.18" y="245.00" width="29.43" height="0.8" fill="#c3d7ea"/><rect x="12.30" y="245.50" width="29.42" height="0.8" fill="#f5c9ca"/><rect x="41.42" y="245.50" width="29.43" height="0.8" fill="#fffefe"/><rect x="70.55" y="245.50" width="29.43" height="0.8" fill="#d9e6f2"/><rect x="99.67" y="245.50" width="29.43" height="0.8" fill="#ec9ea0"/><rect x="128.80" y="245.50" width="29.43" height="0.8" fill="#dd4e51"/><rect x="157.93" y="245.50" width="29.43" height="0.8" fill="#ecf2f8"/><rect x="187.05" y="245.50" width="29.43" height="0.8" fill="#b4cde5"/><rect x="216.18" y="245.50" width="29.43" height="0.8" fill="#cfdfee"/><rect x="12.30" y="246.00" width="29.42" height="0.8" fill="#f5cbcc"/><rect x="41.42" y="246.00" width="29.43" height="0.8" fill="#fdf5f5"/><rect x="70.55" y="246.00" width="29.43" height="0.8" fill="#d9e6f2"/><rect x="99.67" y="246.00" width="29.43" height="0.8" fill="#f0aeaf"/><rect x="128.80" y="246.00" width="29.43" height="0.8" fill="#dc474a"/><rect x="157.93" y="246.00" width="29.43" height="0.8" fill="#e7eff7"/><rect x="187.05" y="246.00" width="29.43" height="0.8" fill="#c5d8eb"/><rect x="216.18" y="246.00" width="29.43" height="0.8" fill="#dae6f2"/><rect x="12.30" y="246.50" width="29.42" height="0.8" fill="#f6d2d2"/><rect x="41.42" y="246.50" width="29.43" height="0.8" fill="#fae5e6"/><rect x="70.55" y="246.50" width="29.43" height="0.8" fill="#e5edf6"/><rect x="99.67" y="246.50" width="29.43" height="0.8" fill="#ec9ea0"/><rect x="128.80" y="246.50" width="29.43" height="0.8" fill="#de5457"/><rect x="157.93" y="246.50" width="29.43" height="0.8" fill="#e2ebf5"/><rect x="187.05" y="246.50" width="29.43" height="0.8" fill="#d2e1ef"/><rect x="216.18" y="246.50" width="29.43" height="0.8" fill="#ecf2f8"/><rect x="12.30" y="247.00" width="29.42" height="0.8" fill="#fceff0"/><rect x="41.42" y="247.00" width="29.43" height="0.8" fill="#f9ddde"/><rect x="70.55" y="247.00" width="29.43" height="0.8" fill="#eaf1f8"/><rect x="99.67" y="247.00" width="29.43" height="0.8" fill="#e67d7f"/><rect x="128.80" y="247.00" width="29.43" height="0.8" fill="#e36d70"/><rect x="157.93" y="247.00" width="29.43" height="0.8" fill="#d8e5f1"/><rect x="187.05" y="247.00" width="29.43" height="0.8" fill="#c4d7ea"/><rect x="216.18" y="247.00" width="29.43" height="0.8" fill="#f7fafc"/><rect x="12.30" y="247.50" width="29.42" height="0.8" fill="#e5eef6"/><rect x="41.42" y="247.50" width="29.43" height="0.8" fill="#f0f5fa"/><rect x="70.55" y="247.50" width="29.43" height="0.8" fill="#d3e2f0"/><rect x="99.67" y="247.50" width="29.43" height="0.8" fill="#e88486"/><rect x="128.80" y="247.50" width="29.43" height="0.8" fill="#eea5a7"/><rect x="157.93" y="247.50" width="29.43" height="0.8" fill="#b2cbe4"/><rect x="187.05" y="247.50" width="29.43" height="0.8" fill="#8ab0d6"/><rect x="216.18" y="247.50" width="29.43" height="0.8" fill="#dee9f4"/><rect x="12.30" y="248.00" width="29.42" height="0.8" fill="#dde8f3"/><rect x="41.42" y="248.00" width="29.43" height="0.8" fill="#bfd4e8"/><rect x="70.55" y="248.00" width="29.43" height="0.8" fill="#c1d5e9"/><rect x="99.67" y="248.00" width="29.43" height="0.8" fill="#ed9ea0"/><rect x="128.80" y="248.00" width="29.43" height="0.8" fill="#f8ddde"/><rect x="157.93" y="248.00" width="29.43" height="0.8" fill="#a8c4e0"/><rect x="187.05" y="248.00" width="29.43" height="0.8" fill="#6698ca"/><rect x="216.18" y="248.00" width="29.43" height="0.8" fill="#acc7e2"/><rect x="12.30" y="248.50" width="29.42" height="0.8" fill="#e5edf6"/><rect x="41.42" y="248.50" width="29.43" height="0.8" fill="#bcd2e8"/><rect x="70.55" y="248.50" width="29.43" height="0.8" fill="#bed3e8"/><rect x="99.67" y="248.50" width="29.43" height="0.8" fill="#f0aeaf"/><rect x="128.80" y="248.50" width="29.43" height="0.8" fill="#f9e0e1"/><rect x="157.93" y="248.50" width="29.43" height="0.8" fill="#cfdeee"/><rect x="187.05" y="248.50" width="29.43" height="0.8" fill="#6899ca"/><rect x="216.18" y="248.50" width="29.43" height="0.8" fill="#84add4"/><rect x="12.30" y="249.00" width="29.42" height="0.8" fill="#fdfdfe"/><rect x="41.42" y="249.00" width="29.43" height="0.8" fill="#e1ebf5"/><rect x="70.55" y="249.00" width="29.43" height="0.8" fill="#d2e1ef"/><rect x="99.67" y="249.00" width="29.43" height="0.8" fill="#f0afb1"/><rect x="128.80" y="249.00" width="29.43" height="0.8" fill="#ed9fa1"/><rect x="157.93" y="249.00" width="29.43" height="0.8" fill="#fdf7f7"/><rect x="187.05" y="249.00" width="29.43" height="0.8" fill="#88afd5"/><rect x="216.18" y="249.00" width="29.43" height="0.8" fill="#86aed5"/><rect x="12.30" y="249.50" width="29.42" height="0.8" fill="#fbe8e8"/><rect x="41.42" y="249.50" width="29.43" height="0.8" fill="#fcefef"/><rect x="70.55" y="249.50" width="29.43" height="0.8" fill="#ebf1f8"/><rect x="99.67" y="249.50" width="29.43" height="0.8" fill="#eb9698"/><rect x="128.80" y="249.50" width="29.43" height="0.8" fill="#df585b"/><rect x="157.93" y="249.50" width="29.43" height="0.8" fill="#fbe9e9"/><rect x="187.05" y="249.50" width="29.43" height="0.8" fill="#b0cae3"/><rect x="216.18" y="249.50" width="29.43" height="0.8" fill="#a8c5e1"/><rect x="12.30" y="250.00" width="29.42" height="0.8" fill="#fdf7f7"/><rect x="41.42" y="250.00" width="29.43" height="0.8" fill="#f8dadb"/><rect x="70.55" y="250.00" width="29.43" height="0.8" fill="#f2f6fa"/><rect x="99.67" y="250.00" width="29.43" height="0.8" fill="#e77f81"/><rect x="128.80" y="250.00" width="29.43" height="0.8" fill="#db4548"/><rect x="157.93" y="250.00" width="29.43" height="0.8" fill="#fbeaeb"/><rect x="187.05" y="250.00" width="29.43" height="0.8" fill="#d3e2f0"/><rect x="216.18" y="250.00" width="29.43" height="0.8" fill="#bfd4e9"/><rect x="12.30" y="250.50" width="29.42" height="0.8" fill="#e7eff7"/><rect x="41.42" y="250.50" width="29.43" height="0.8" fill="#f8dbdc"/><rect x="70.55" y="250.50" width="29.43" height="0.8" fill="#f0f5fa"/><rect x="99.67" y="250.50" width="29.43" height="0.8" fill="#e57477"/><rect x="128.80" y="250.50" width="29.43" height="0.8" fill="#de5458"/><rect x="157.93" y="250.50" width="29.43" height="0.8" fill="#fcf0f0"/><rect x="187.05" y="250.50" width="29.43" height="0.8" fill="#e0eaf4"/><rect x="216.18" y="250.50" width="29.43" height="0.8" fill="#d0e0ef"/><rect x="12.30" y="251.00" width="29.42" height="0.8" fill="#dce8f3"/><rect x="41.42" y="251.00" width="29.43" height="0.8" fill="#fae6e7"/><rect x="70.55" y="251.00" width="29.43" height="0.8" fill="#fdf6f6"/><rect x="99.67" y="251.00" width="29.43" height="0.8" fill="#e47274"/><rect x="128.80" y="251.00" width="29.43" height="0.8" fill="#df5558"/><rect x="157.93" y="251.00" width="29.43" height="0.8" fill="#fbe9e9"/><rect x="187.05" y="251.00" width="29.43" height="0.8" fill="#e8f0f7"/><rect x="216.18" y="251.00" width="29.43" height="0.8" fill="#c8daec"/><rect x="12.30" y="251.50" width="29.42" height="0.8" fill="#f5f8fb"/><rect x="41.42" y="251.50" width="29.43" height="0.8" fill="#fdf6f6"/><rect x="70.55" y="251.50" width="29.43" height="0.8" fill="#fefbfb"/><rect x="99.67" y="251.50" width="29.43" height="0.8" fill="#e57578"/><rect x="128.80" y="251.50" width="29.43" height="0.8" fill="#db4447"/><rect x="157.93" y="251.50" width="29.43" height="0.8" fill="#fcf1f1"/><rect x="187.05" y="251.50" width="29.43" height="0.8" fill="#d3e1ef"/><rect x="216.18" y="251.50" width="29.43" height="0.8" fill="#d7e4f1"/><rect x="12.30" y="252.00" width="29.42" height="0.8" fill="#f7fafc"/><rect x="41.42" y="252.00" width="29.43" height="0.8" fill="#ffffff"/><rect x="70.55" y="252.00" width="29.43" height="0.8" fill="#f0f5fa"/><rect x="99.67" y="252.00" width="29.43" height="0.8" fill="#e88587"/><rect x="128.80" y="252.00" width="29.43" height="0.8" fill="#db4347"/><rect x="157.93" y="252.00" width="29.43" height="0.8" fill="#fdf2f2"/><rect x="187.05" y="252.00" width="29.43" height="0.8" fill="#b8cfe6"/><rect x="216.18" y="252.00" width="29.43" height="0.8" fill="#fbfcfe"/><rect x="12.30" y="252.50" width="29.42" height="0.8" fill="#ecf2f8"/><rect x="41.42" y="252.50" width="29.43" height="0.8" fill="#fefeff"/><rect x="70.55" y="252.50" width="29.43" height="0.8" fill="#e5edf6"/><rect x="99.67" y="252.50" width="29.43" height="0.8" fill="#e88688"/><rect x="128.80" y="252.50" width="29.43" height="0.8" fill="#e16063"/><rect x="157.93" y="252.50" width="29.43" height="0.8" fill="#fae7e7"/><rect x="187.05" y="252.50" width="29.43" height="0.8" fill="#b5cde5"/><rect x="216.18" y="252.50" width="29.43" height="0.8" fill="#fae5e6"/><rect x="12.30" y="253.00" width="29.42" height="0.8" fill="#e2ecf5"/><rect x="41.42" y="253.00" width="29.43" height="0.8" fill="#f4f8fb"/><rect x="70.55" y="253.00" width="29.43" height="0.8" fill="#dbe7f2"/><rect x="99.67" y="253.00" width="29.43" height="0.8" fill="#ea9395"/><rect x="128.80" y="253.00" width="29.43" height="0.8" fill="#e77f81"/><rect x="157.93" y="253.00" width="29.43" height="0.8" fill="#f8dada"/><rect x="187.05" y="253.00" width="29.43" height="0.8" fill="#afcae3"/><rect x="216.18" y="253.00" width="29.43" height="0.8" fill="#fefbfb"/><rect x="12.30" y="253.50" width="29.42" height="0.8" fill="#fdfefe"/><rect x="41.42" y="253.50" width="29.43" height="0.8" fill="#eef4f9"/><rect x="70.55" y="253.50" width="29.43" height="0.8" fill="#cedeee"/><rect x="99.67" y="253.50" width="29.43" height="0.8" fill="#ea9395"/><rect x="128.80" y="253.50" width="29.43" height="0.8" fill="#e47274"/><rect x="157.93" y="253.50" width="29.43" height="0.8" fill="#fdf3f4"/><rect x="187.05" y="253.50" width="29.43" height="0.8" fill="#b7cfe6"/><rect x="216.18" y="253.50" width="29.43" height="0.8" fill="#d5e3f0"/><rect x="12.30" y="254.00" width="29.42" height="0.8" fill="#f7d8d8"/><rect x="41.42" y="254.00" width="29.43" height="0.8" fill="#fefeff"/><rect x="70.55" y="254.00" width="29.43" height="0.8" fill="#c9dbec"/><rect x="99.67" y="254.00" width="29.43" height="0.8" fill="#e8898b"/><rect x="128.80" y="254.00" width="29.43" height="0.8" fill="#dd4f52"/><rect x="157.93" y="254.00" width="29.43" height="0.8" fill="#fef7f8"/><rect x="187.05" y="254.00" width="29.43" height="0.8" fill="#d3e2f0"/><rect x="216.18" y="254.00" width="29.43" height="0.8" fill="#d0dfee"/><rect x="12.30" y="254.50" width="29.42" height="0.8" fill="#f5cccd"/><rect x="41.42" y="254.50" width="29.43" height="0.8" fill="#fdf4f5"/><rect x="70.55" y="254.50" width="29.43" height="0.8" fill="#c3d7ea"/><rect x="99.67" y="254.50" width="29.43" height="0.8" fill="#e57477"/><rect x="128.80" y="254.50" width="29.43" height="0.8" fill="#d83438"/><rect x="157.93" y="254.50" width="29.43" height="0.8" fill="#f8dcdc"/><rect x="187.05" y="254.50" width="29.43" height="0.8" fill="#f3f7fb"/><rect x="216.18" y="254.50" width="29.43" height="0.8" fill="#edf3f9"/><rect x="12.30" y="255.00" width="29.42" height="0.8" fill="#f7d5d6"/><rect x="41.42" y="255.00" width="29.43" height="0.8" fill="#fffefe"/><rect x="70.55" y="255.00" width="29.43" height="0.8" fill="#9abbdc"/><rect x="99.67" y="255.00" width="29.43" height="0.8" fill="#e47174"/><rect x="128.80" y="255.00" width="29.43" height="0.8" fill="#dd4d50"/><rect x="157.93" y="255.00" width="29.43" height="0.8" fill="#f4c6c7"/><rect x="187.05" y="255.00" width="29.43" height="0.8" fill="#ccdded"/><rect x="216.18" y="255.00" width="29.43" height="0.8" fill="#eaf1f8"/><rect x="12.30" y="255.50" width="29.42" height="0.8" fill="#f8dadb"/><rect x="41.42" y="255.50" width="29.43" height="0.8" fill="#fefbfb"/><rect x="70.55" y="255.50" width="29.43" height="0.8" fill="#95b8da"/><rect x="99.67" y="255.50" width="29.43" height="0.8" fill="#e36f71"/><rect x="128.80" y="255.50" width="29.43" height="0.8" fill="#e16366"/><rect x="157.93" y="255.50" width="29.43" height="0.8" fill="#f7d6d7"/><rect x="187.05" y="255.50" width="29.43" height="0.8" fill="#aec9e3"/><rect x="216.18" y="255.50" width="29.43" height="0.8" fill="#bcd2e7"/><rect x="12.30" y="256.00" width="29.42" height="0.8" fill="#f3c2c3"/><rect x="41.42" y="256.00" width="29.43" height="0.8" fill="#fdf5f5"/><rect x="70.55" y="256.00" width="29.43" height="0.8" fill="#b9d0e6"/><rect x="99.67" y="256.00" width="29.43" height="0.8" fill="#e47275"/><rect x="128.80" y="256.00" width="29.43" height="0.8" fill="#e2686a"/><rect x="157.93" y="256.00" width="29.43" height="0.8" fill="#fbebec"/><rect x="187.05" y="256.00" width="29.43" height="0.8" fill="#a0bfde"/><rect x="216.18" y="256.00" width="29.43" height="0.8" fill="#a0bfde"/><rect x="12.30" y="256.50" width="29.42" height="0.8" fill="#eea6a7"/><rect x="41.42" y="256.50" width="29.43" height="0.8" fill="#fcf1f1"/><rect x="70.55" y="256.50" width="29.43" height="0.8" fill="#d0dfee"/><rect x="99.67" y="256.50" width="29.43" height="0.8" fill="#e67d80"/><rect x="128.80" y="256.50" width="29.43" height="0.8" fill="#e36c6e"/><rect x="157.93" y="256.50" width="29.43" height="0.8" fill="#f9e1e2"/><rect x="187.05" y="256.50" width="29.43" height="0.8" fill="#b4cde5"/><rect x="216.18" y="256.50" width="29.43" height="0.8" fill="#aac6e1"/><rect x="12.30" y="257.00" width="29.42" height="0.8" fill="#ec9a9c"/><rect x="41.42" y="257.00" width="29.43" height="0.8" fill="#fefafa"/><rect x="70.55" y="257.00" width="29.43" height="0.8" fill="#c9dbec"/><rect x="99.67" y="257.00" width="29.43" height="0.8" fill="#e77f81"/><rect x="128.80" y="257.00" width="29.43" height="0.8" fill="#e36f71"/><rect x="157.93" y="257.00" width="29.43" height="0.8" fill="#f3c1c2"/><rect x="187.05" y="257.00" width="29.43" height="0.8" fill="#c7d9eb"/><rect x="216.18" y="257.00" width="29.43" height="0.8" fill="#c5d8eb"/><rect x="12.30" y="257.50" width="29.42" height="0.8" fill="#f3bfc0"/><rect x="41.42" y="257.50" width="29.43" height="0.8" fill="#e9f1f7"/><rect x="70.55" y="257.50" width="29.43" height="0.8" fill="#aac6e1"/><rect x="99.67" y="257.50" width="29.43" height="0.8" fill="#e78385"/><rect x="128.80" y="257.50" width="29.43" height="0.8" fill="#e5777a"/><rect x="157.93" y="257.50" width="29.43" height="0.8" fill="#f2bbbd"/><rect x="187.05" y="257.50" width="29.43" height="0.8" fill="#b5cde5"/><rect x="216.18" y="257.50" width="29.43" height="0.8" fill="#cbdced"/><rect x="12.30" y="258.00" width="29.42" height="0.8" fill="#f9e2e2"/><rect x="41.42" y="258.00" width="29.43" height="0.8" fill="#cdddee"/><rect x="70.55" y="258.00" width="29.43" height="0.8" fill="#93b6d9"/><rect x="99.67" y="258.00" width="29.43" height="0.8" fill="#eda1a2"/><rect x="128.80" y="258.00" width="29.43" height="0.8" fill="#e88688"/><rect x="157.93" y="258.00" width="29.43" height="0.8" fill="#f9dedf"/><rect x="187.05" y="258.00" width="29.43" height="0.8" fill="#a0bfde"/><rect x="216.18" y="258.00" width="29.43" height="0.8" fill="#c8daec"/><rect x="12.30" y="258.50" width="29.42" height="0.8" fill="#fefbfb"/><rect x="41.42" y="258.50" width="29.43" height="0.8" fill="#bbd1e7"/><rect x="70.55" y="258.50" width="29.43" height="0.8" fill="#8db2d7"/><rect x="99.67" y="258.50" width="29.43" height="0.8" fill="#f0aeb0"/><rect x="128.80" y="258.50" width="29.43" height="0.8" fill="#ea9294"/><rect x="157.93" y="258.50" width="29.43" height="0.8" fill="#fefbfb"/><rect x="187.05" y="258.50" width="29.43" height="0.8" fill="#95b8da"/><rect x="216.18" y="258.50" width="29.43" height="0.8" fill="#bed4e8"/><rect x="12.30" y="259.00" width="29.42" height="0.8" fill="#fefeff"/><rect x="41.42" y="259.00" width="29.43" height="0.8" fill="#c3d7ea"/><rect x="70.55" y="259.00" width="29.43" height="0.8" fill="#92b6d9"/><rect x="99.67" y="259.00" width="29.43" height="0.8" fill="#eda2a3"/><rect x="128.80" y="259.00" width="29.43" height="0.8" fill="#ea9193"/><rect x="157.93" y="259.00" width="29.43" height="0.8" fill="#f6f9fc"/><rect x="187.05" y="259.00" width="29.43" height="0.8" fill="#a1c0de"/><rect x="216.18" y="259.00" width="29.43" height="0.8" fill="#c6d8eb"/><rect x="12.30" y="259.50" width="29.42" height="0.8" fill="#fef8f8"/><rect x="41.42" y="259.50" width="29.43" height="0.8" fill="#e7eff7"/><rect x="70.55" y="259.50" width="29.43" height="0.8" fill="#9dbddd"/><rect x="99.67" y="259.50" width="29.43" height="0.8" fill="#eda2a4"/><rect x="128.80" y="259.50" width="29.43" height="0.8" fill="#ec9c9e"/><rect x="157.93" y="259.50" width="29.43" height="0.8" fill="#d9e5f2"/><rect x="187.05" y="259.50" width="29.43" height="0.8" fill="#a7c4e0"/><rect x="216.18" y="259.50" width="29.43" height="0.8" fill="#c7d9eb"/><rect x="12.30" y="260.00" width="29.42" height="0.8" fill="#fbeaea"/><rect x="41.42" y="260.00" width="29.43" height="0.8" fill="#fbebeb"/><rect x="70.55" y="260.00" width="29.43" height="0.8" fill="#bcd2e7"/><rect x="99.67" y="260.00" width="29.43" height="0.8" fill="#eb9597"/><rect x="128.80" y="260.00" width="29.43" height="0.8" fill="#ed9fa1"/><rect x="157.93" y="260.00" width="29.43" height="0.8" fill="#dbe7f2"/><rect x="187.05" y="260.00" width="29.43" height="0.8" fill="#b1cbe4"/><rect x="216.18" y="260.00" width="29.43" height="0.8" fill="#d1e0ef"/><rect x="12.30" y="260.50" width="29.42" height="0.8" fill="#f6cecf"/><rect x="41.42" y="260.50" width="29.43" height="0.8" fill="#f6d2d3"/><rect x="70.55" y="260.50" width="29.43" height="0.8" fill="#edf3f9"/><rect x="99.67" y="260.50" width="29.43" height="0.8" fill="#e5797c"/><rect x="128.80" y="260.50" width="29.43" height="0.8" fill="#eb9496"/><rect x="157.93" y="260.50" width="29.43" height="0.8" fill="#f4f8fb"/><rect x="187.05" y="260.50" width="29.43" height="0.8" fill="#b8cfe6"/><rect x="216.18" y="260.50" width="29.43" height="0.8" fill="#ecf2f8"/><rect x="12.30" y="261.00" width="29.42" height="0.8" fill="#f8dddd"/><rect x="41.42" y="261.00" width="29.43" height="0.8" fill="#f6d2d3"/><rect x="70.55" y="261.00" width="29.43" height="0.8" fill="#fbeaea"/><rect x="99.67" y="261.00" width="29.43" height="0.8" fill="#e05e61"/><rect x="128.80" y="261.00" width="29.43" height="0.8" fill="#e88487"/><rect x="157.93" y="261.00" width="29.43" height="0.8" fill="#fefafa"/><rect x="187.05" y="261.00" width="29.43" height="0.8" fill="#bbd1e7"/><rect x="216.18" y="261.00" width="29.43" height="0.8" fill="#f8fafc"/><rect x="12.30" y="261.50" width="29.42" height="0.8" fill="#fdf3f3"/><rect x="41.42" y="261.50" width="29.43" height="0.8" fill="#fceeee"/><rect x="70.55" y="261.50" width="29.43" height="0.8" fill="#f6cfd0"/><rect x="99.67" y="261.50" width="29.43" height="0.8" fill="#de5356"/><rect x="128.80" y="261.50" width="29.43" height="0.8" fill="#e8898b"/><rect x="157.93" y="261.50" width="29.43" height="0.8" fill="#fef7f7"/><rect x="187.05" y="261.50" width="29.43" height="0.8" fill="#b2cbe4"/><rect x="216.18" y="261.50" width="29.43" height="0.8" fill="#f1f6fa"/><rect x="12.30" y="262.00" width="29.42" height="0.8" fill="#fae5e5"/><rect x="41.42" y="262.00" width="29.43" height="0.8" fill="#fcf0f0"/><rect x="70.55" y="262.00" width="29.43" height="0.8" fill="#f4c6c7"/><rect x="99.67" y="262.00" width="29.43" height="0.8" fill="#d9363a"/><rect x="128.80" y="262.00" width="29.43" height="0.8" fill="#e78284"/><rect x="157.93" y="262.00" width="29.43" height="0.8" fill="#f8d9d9"/><rect x="187.05" y="262.00" width="29.43" height="0.8" fill="#cadbec"/><rect x="216.18" y="262.00" width="29.43" height="0.8" fill="#ecf2f8"/><rect x="12.30" y="262.50" width="29.42" height="0.8" fill="#f7d4d5"/><rect x="41.42" y="262.50" width="29.43" height="0.8" fill="#fdf4f4"/><rect x="70.55" y="262.50" width="29.43" height="0.8" fill="#f8d8d9"/><rect x="99.67" y="262.50" width="29.43" height="0.8" fill="#db4346"/><rect x="128.80" y="262.50" width="29.43" height="0.8" fill="#e6797c"/><rect x="157.93" y="262.50" width="29.43" height="0.8" fill="#f7d5d6"/><rect x="187.05" y="262.50" width="29.43" height="0.8" fill="#d4e2f0"/><rect x="216.18" y="262.50" width="29.43" height="0.8" fill="#e2ecf5"/><rect x="12.30" y="263.00" width="29.42" height="0.8" fill="#f8dcdc"/><rect x="41.42" y="263.00" width="29.43" height="0.8" fill="#fafbfd"/><rect x="70.55" y="263.00" width="29.43" height="0.8" fill="#fdfefe"/><rect x="99.67" y="263.00" width="29.43" height="0.8" fill="#df5a5d"/><rect x="128.80" y="263.00" width="29.43" height="0.8" fill="#e67b7d"/><rect x="157.93" y="263.00" width="29.43" height="0.8" fill="#fdf5f5"/><rect x="187.05" y="263.00" width="29.43" height="0.8" fill="#c6d9eb"/><rect x="216.18" y="263.00" width="29.43" height="0.8" fill="#ccdded"/><rect x="12.30" y="263.50" width="29.42" height="0.8" fill="#fdf6f6"/><rect x="41.42" y="263.50" width="29.43" height="0.8" fill="#cedeee"/><rect x="70.55" y="263.50" width="29.43" height="0.8" fill="#dae6f2"/><rect x="99.67" y="263.50" width="29.43" height="0.8" fill="#e16265"/><rect x="128.80" y="263.50" width="29.43" height="0.8" fill="#e36d70"/><rect x="157.93" y="263.50" width="29.43" height="0.8" fill="#f0f5fa"/><rect x="187.05" y="263.50" width="29.43" height="0.8" fill="#c1d5e9"/><rect x="216.18" y="263.50" width="29.43" height="0.8" fill="#b2cbe4"/><rect x="12.30" y="264.00" width="29.42" height="0.8" fill="#dce7f3"/><rect x="41.42" y="264.00" width="29.43" height="0.8" fill="#b4cde5"/><rect x="70.55" y="264.00" width="29.43" height="0.8" fill="#b7cfe6"/><rect x="99.67" y="264.00" width="29.43" height="0.8" fill="#e36f71"/><rect x="128.80" y="264.00" width="29.43" height="0.8" fill="#e36e71"/><rect x="157.93" y="264.00" width="29.43" height="0.8" fill="#eaf1f8"/><rect x="187.05" y="264.00" width="29.43" height="0.8" fill="#a5c2e0"/><rect x="216.18" y="264.00" width="29.43" height="0.8" fill="#9ebedd"/><rect x="12.30" y="264.50" width="29.42" height="0.8" fill="#cadbec"/><rect x="41.42" y="264.50" width="29.43" height="0.8" fill="#b5cde5"/><rect x="70.55" y="264.50" width="29.43" height="0.8" fill="#abc7e2"/><rect x="99.67" y="264.50" width="29.43" height="0.8" fill="#e77f81"/><rect x="128.80" y="264.50" width="29.43" height="0.8" fill="#e78284"/><rect x="157.93" y="264.50" width="29.43" height="0.8" fill="#eaf1f8"/><rect x="187.05" y="264.50" width="29.43" height="0.8" fill="#a2c0de"/><rect x="216.18" y="264.50" width="29.43" height="0.8" fill="#a3c1df"/><rect x="12.30" y="265.00" width="29.42" height="0.8" fill="#d2e1ef"/><rect x="41.42" y="265.00" width="29.43" height="0.8" fill="#bdd3e8"/><rect x="70.55" y="265.00" width="29.43" height="0.8" fill="#cdddee"/><rect x="99.67" y="265.00" width="29.43" height="0.8" fill="#e8898b"/><rect x="128.80" y="265.00" width="29.43" height="0.8" fill="#ed9ea0"/><rect x="157.93" y="265.00" width="29.43" height="0.8" fill="#f2f6fa"/><rect x="187.05" y="265.00" width="29.43" height="0.8" fill="#a9c5e1"/><rect x="216.18" y="265.00" width="29.43" height="0.8" fill="#bfd4e9"/><rect x="12.30" y="265.50" width="29.42" height="0.8" fill="#96b8da"/><rect x="41.42" y="265.50" width="29.43" height="0.8" fill="#75a2cf"/><rect x="70.55" y="265.50" width="29.43" height="0.8" fill="#a8c5e1"/><rect x="99.67" y="265.50" width="29.43" height="0.8" fill="#f3bec0"/><rect x="128.80" y="265.50" width="29.43" height="0.8" fill="#f5cacb"/><rect x="157.93" y="265.50" width="29.43" height="0.8" fill="#fae7e8"/><rect x="187.05" y="265.50" width="29.43" height="0.8" fill="#f9dfe0"/><rect x="216.18" y="265.50" width="29.43" height="0.8" fill="#fdf2f3"/><rect x="12.30" y="266.00" width="29.42" height="0.8" fill="#a1c0de"/><rect x="41.42" y="266.00" width="29.43" height="0.8" fill="#7fa9d2"/><rect x="70.55" y="266.00" width="29.43" height="0.8" fill="#bcd2e8"/><rect x="99.67" y="266.00" width="29.43" height="0.8" fill="#f2bdbe"/><rect x="128.80" y="266.00" width="29.43" height="0.8" fill="#f1b6b7"/><rect x="157.93" y="266.00" width="29.43" height="0.8" fill="#f9e0e0"/><rect x="187.05" y="266.00" width="29.43" height="0.8" fill="#f4c7c8"/><rect x="216.18" y="266.00" width="29.43" height="0.8" fill="#fdf7f7"/><rect x="12.30" y="266.50" width="29.42" height="0.8" fill="#9cbddc"/><rect x="41.42" y="266.50" width="29.43" height="0.8" fill="#7fa9d2"/><rect x="70.55" y="266.50" width="29.43" height="0.8" fill="#acc7e2"/><rect x="99.67" y="266.50" width="29.43" height="0.8" fill="#f5cacb"/><rect x="128.80" y="266.50" width="29.43" height="0.8" fill="#f0afb1"/><rect x="157.93" y="266.50" width="29.43" height="0.8" fill="#fafcfd"/><rect x="187.05" y="266.50" width="29.43" height="0.8" fill="#f7d7d8"/><rect x="216.18" y="266.50" width="29.43" height="0.8" fill="#ebf2f8"/><rect x="12.30" y="267.00" width="29.42" height="0.8" fill="#b7cfe6"/><rect x="41.42" y="267.00" width="29.43" height="0.8" fill="#8bb1d7"/><rect x="70.55" y="267.00" width="29.43" height="0.8" fill="#98badb"/><rect x="99.67" y="267.00" width="29.43" height="0.8" fill="#f8dadb"/><rect x="128.80" y="267.00" width="29.43" height="0.8" fill="#f5c8c9"/><rect x="157.93" y="267.00" width="29.43" height="0.8" fill="#f0f5fa"/><rect x="187.05" y="267.00" width="29.43" height="0.8" fill="#fae7e8"/><rect x="216.18" y="267.00" width="29.43" height="0.8" fill="#e1ebf5"/><rect x="12.30" y="267.50" width="29.42" height="0.8" fill="#cadced"/><rect x="41.42" y="267.50" width="29.43" height="0.8" fill="#a3c1df"/><rect x="70.55" y="267.50" width="29.43" height="0.8" fill="#7ca7d1"/><rect x="99.67" y="267.50" width="29.43" height="0.8" fill="#f9e0e1"/><rect x="128.80" y="267.50" width="29.43" height="0.8" fill="#f5cccd"/><rect x="157.93" y="267.50" width="29.43" height="0.8" fill="#fefeff"/><rect x="187.05" y="267.50" width="29.43" height="0.8" fill="#f9ddde"/><rect x="216.18" y="267.50" width="29.43" height="0.8" fill="#eff4f9"/><rect x="12.30" y="268.00" width="29.42" height="0.8" fill="#d3e1f0"/><rect x="41.42" y="268.00" width="29.43" height="0.8" fill="#abc7e2"/><rect x="70.55" y="268.00" width="29.43" height="0.8" fill="#6899ca"/><rect x="99.67" y="268.00" width="29.43" height="0.8" fill="#f6d1d2"/><rect x="128.80" y="268.00" width="29.43" height="0.8" fill="#f3c2c3"/><rect x="157.93" y="268.00" width="29.43" height="0.8" fill="#f9e0e1"/><rect x="187.05" y="268.00" width="29.43" height="0.8" fill="#f8dcdd"/><rect x="216.18" y="268.00" width="29.43" height="0.8" fill="#fef8f8"/><rect x="12.30" y="268.50" width="29.42" height="0.8" fill="#d0e0ef"/><rect x="41.42" y="268.50" width="29.43" height="0.8" fill="#a9c5e1"/><rect x="70.55" y="268.50" width="29.43" height="0.8" fill="#709fcd"/><rect x="99.67" y="268.50" width="29.43" height="0.8" fill="#f3bfc0"/><rect x="128.80" y="268.50" width="29.43" height="0.8" fill="#f0aeb0"/><rect x="157.93" y="268.50" width="29.43" height="0.8" fill="#f7d5d5"/><rect x="187.05" y="268.50" width="29.43" height="0.8" fill="#fae5e6"/><rect x="216.18" y="268.50" width="29.43" height="0.8" fill="#f8dadb"/><rect x="12.30" y="269.00" width="29.42" height="0.8" fill="#d5e3f0"/><rect x="41.42" y="269.00" width="29.43" height="0.8" fill="#8bb1d6"/><rect x="70.55" y="269.00" width="29.43" height="0.8" fill="#82abd3"/><rect x="99.67" y="269.00" width="29.43" height="0.8" fill="#f0afb0"/><rect x="128.80" y="269.00" width="29.43" height="0.8" fill="#eda3a5"/><rect x="157.93" y="269.00" width="29.43" height="0.8" fill="#f5cbcc"/><rect x="187.05" y="269.00" width="29.43" height="0.8" fill="#fcefef"/><rect x="216.18" y="269.00" width="29.43" height="0.8" fill="#f6cecf"/><rect x="12.30" y="269.50" width="29.42" height="0.8" fill="#bbd1e7"/><rect x="41.42" y="269.50" width="29.43" height="0.8" fill="#73a1ce"/><rect x="70.55" y="269.50" width="29.43" height="0.8" fill="#84acd4"/><rect x="99.67" y="269.50" width="29.43" height="0.8" fill="#f2babc"/><rect x="128.80" y="269.50" width="29.43" height="0.8" fill="#efabac"/><rect x="157.93" y="269.50" width="29.43" height="0.8" fill="#f5cccd"/><rect x="187.05" y="269.50" width="29.43" height="0.8" fill="#fefeff"/><rect x="216.18" y="269.50" width="29.43" height="0.8" fill="#fae5e5"/><rect x="12.30" y="270.00" width="29.42" height="0.8" fill="#b7cee6"/><rect x="41.42" y="270.00" width="29.43" height="0.8" fill="#5b91c6"/><rect x="70.55" y="270.00" width="29.43" height="0.8" fill="#86aed5"/><rect x="99.67" y="270.00" width="29.43" height="0.8" fill="#f4c5c6"/><rect x="128.80" y="270.00" width="29.43" height="0.8" fill="#f1b4b5"/><rect x="157.93" y="270.00" width="29.43" height="0.8" fill="#f7d6d7"/><rect x="187.05" y="270.00" width="29.43" height="0.8" fill="#f5f8fb"/><rect x="216.18" y="270.00" width="29.43" height="0.8" fill="#fdf3f3"/><rect x="12.30" y="270.50" width="29.42" height="0.8" fill="#c8daec"/><rect x="41.42" y="270.50" width="29.43" height="0.8" fill="#588fc5"/><rect x="70.55" y="270.50" width="29.43" height="0.8" fill="#9dbddd"/><rect x="99.67" y="270.50" width="29.43" height="0.8" fill="#f1b3b4"/><rect x="128.80" y="270.50" width="29.43" height="0.8" fill="#f3bfc0"/><rect x="157.93" y="270.50" width="29.43" height="0.8" fill="#f5cbcc"/><rect x="187.05" y="270.50" width="29.43" height="0.8" fill="#fef9f9"/><rect x="216.18" y="270.50" width="29.43" height="0.8" fill="#fae6e7"/><rect x="12.30" y="271.00" width="29.42" height="0.8" fill="#d9e6f2"/><rect x="41.42" y="271.00" width="29.43" height="0.8" fill="#6e9ecc"/><rect x="70.55" y="271.00" width="29.43" height="0.8" fill="#a2c1df"/><rect x="99.67" y="271.00" width="29.43" height="0.8" fill="#ec9b9d"/><rect x="128.80" y="271.00" width="29.43" height="0.8" fill="#f6d0d1"/><rect x="157.93" y="271.00" width="29.43" height="0.8" fill="#f5c9ca"/><rect x="187.05" y="271.00" width="29.43" height="0.8" fill="#fae5e5"/><rect x="216.18" y="271.00" width="29.43" height="0.8" fill="#f4c7c8"/><rect x="12.30" y="271.50" width="29.42" height="0.8" fill="#cedeee"/><rect x="41.42" y="271.50" width="29.43" height="0.8" fill="#90b5d8"/><rect x="70.55" y="271.50" width="29.43" height="0.8" fill="#adc8e2"/><rect x="99.67" y="271.50" width="29.43" height="0.8" fill="#e98b8d"/><rect x="128.80" y="271.50" width="29.43" height="0.8" fill="#f7d5d6"/><rect x="157.93" y="271.50" width="29.43" height="0.8" fill="#f4c4c5"/><rect x="187.05" y="271.50" width="29.43" height="0.8" fill="#f8dcdc"/><rect x="216.18" y="271.50" width="29.43" height="0.8" fill="#f5cbcc"/><rect x="12.30" y="272.00" width="29.42" height="0.8" fill="#dae6f2"/><rect x="41.42" y="272.00" width="29.43" height="0.8" fill="#adc8e2"/><rect x="70.55" y="272.00" width="29.43" height="0.8" fill="#bdd2e8"/><rect x="99.67" y="272.00" width="29.43" height="0.8" fill="#e47072"/><rect x="128.80" y="272.00" width="29.43" height="0.8" fill="#f4c3c4"/><rect x="157.93" y="272.00" width="29.43" height="0.8" fill="#f1b7b8"/><rect x="187.05" y="272.00" width="29.43" height="0.8" fill="#f7d5d5"/><rect x="216.18" y="272.00" width="29.43" height="0.8" fill="#f4c8c9"/><rect x="12.30" y="272.50" width="29.42" height="0.8" fill="#dde8f3"/><rect x="41.42" y="272.50" width="29.43" height="0.8" fill="#b1cbe4"/><rect x="70.55" y="272.50" width="29.43" height="0.8" fill="#c7d9eb"/><rect x="99.67" y="272.50" width="29.43" height="0.8" fill="#df5659"/><rect x="128.80" y="272.50" width="29.43" height="0.8" fill="#f0b2b3"/><rect x="157.93" y="272.50" width="29.43" height="0.8" fill="#eea4a6"/><rect x="187.05" y="272.50" width="29.43" height="0.8" fill="#f8d8d9"/><rect x="216.18" y="272.50" width="29.43" height="0.8" fill="#f2b9ba"/><rect x="12.30" y="273.00" width="29.42" height="0.8" fill="#d5e3f0"/><rect x="41.42" y="273.00" width="29.43" height="0.8" fill="#b5cde5"/><rect x="70.55" y="273.00" width="29.43" height="0.8" fill="#a7c4e0"/><rect x="99.67" y="273.00" width="29.43" height="0.8" fill="#e2676a"/><rect x="128.80" y="273.00" width="29.43" height="0.8" fill="#f3bebf"/><rect x="157.93" y="273.00" width="29.43" height="0.8" fill="#eda0a2"/><rect x="187.05" y="273.00" width="29.43" height="0.8" fill="#fcf0f0"/><rect x="216.18" y="273.00" width="29.43" height="0.8" fill="#f4c8c9"/><rect x="12.30" y="273.50" width="29.42" height="0.8" fill="#c7d9eb"/><rect x="41.42" y="273.50" width="29.43" height="0.8" fill="#cadced"/><rect x="70.55" y="273.50" width="29.43" height="0.8" fill="#87aed5"/><rect x="99.67" y="273.50" width="29.43" height="0.8" fill="#e47174"/><rect x="128.80" y="273.50" width="29.43" height="0.8" fill="#f4c6c7"/><rect x="157.93" y="273.50" width="29.43" height="0.8" fill="#eda2a4"/><rect x="187.05" y="273.50" width="29.43" height="0.8" fill="#fffefe"/><rect x="216.18" y="273.50" width="29.43" height="0.8" fill="#f8dadb"/><rect x="12.30" y="274.00" width="29.42" height="0.8" fill="#b6cee5"/><rect x="41.42" y="274.00" width="29.43" height="0.8" fill="#dae6f2"/><rect x="70.55" y="274.00" width="29.43" height="0.8" fill="#699acb"/><rect x="99.67" y="274.00" width="29.43" height="0.8" fill="#e78083"/><rect x="128.80" y="274.00" width="29.43" height="0.8" fill="#f4c7c8"/><rect x="157.93" y="274.00" width="29.43" height="0.8" fill="#f0b2b4"/><rect x="187.05" y="274.00" width="29.43" height="0.8" fill="#fdfefe"/><rect x="216.18" y="274.00" width="29.43" height="0.8" fill="#fbe7e8"/><rect x="12.30" y="274.50" width="29.42" height="0.8" fill="#98badb"/><rect x="41.42" y="274.50" width="29.43" height="0.8" fill="#cedeee"/><rect x="70.55" y="274.50" width="29.43" height="0.8" fill="#5d92c6"/><rect x="99.67" y="274.50" width="29.43" height="0.8" fill="#eb9597"/><rect x="128.80" y="274.50" width="29.43" height="0.8" fill="#f5cbcc"/><rect x="157.93" y="274.50" width="29.43" height="0.8" fill="#fae4e4"/><rect x="187.05" y="274.50" width="29.43" height="0.8" fill="#fcefef"/><rect x="216.18" y="274.50" width="29.43" height="0.8" fill="#fbecec"/><rect x="12.30" y="275.00" width="29.42" height="0.8" fill="#a0bfde"/><rect x="41.42" y="275.00" width="29.43" height="0.8" fill="#a6c3e0"/><rect x="70.55" y="275.00" width="29.43" height="0.8" fill="#6396c9"/><rect x="99.67" y="275.00" width="29.43" height="0.8" fill="#ec9a9c"/><rect x="128.80" y="275.00" width="29.43" height="0.8" fill="#f7d4d4"/><rect x="157.93" y="275.00" width="29.43" height="0.8" fill="#fdf5f5"/><rect x="187.05" y="275.00" width="29.43" height="0.8" fill="#f7d7d7"/><rect x="216.18" y="275.00" width="29.43" height="0.8" fill="#fcf0f0"/><rect x="12.30" y="275.50" width="29.42" height="0.8" fill="#bbd1e7"/><rect x="41.42" y="275.50" width="29.43" height="0.8" fill="#76a3cf"/><rect x="70.55" y="275.50" width="29.43" height="0.8" fill="#79a5d0"/><rect x="99.67" y="275.50" width="29.43" height="0.8" fill="#e78284"/><rect x="128.80" y="275.50" width="29.43" height="0.8" fill="#f8d8d8"/><rect x="157.93" y="275.50" width="29.43" height="0.8" fill="#fcfdfe"/><rect x="187.05" y="275.50" width="29.43" height="0.8" fill="#f6d1d2"/><rect x="216.18" y="275.50" width="29.43" height="0.8" fill="#fbe9ea"/><rect x="12.30" y="276.00" width="29.42" height="0.8" fill="#dae6f2"/><rect x="41.42" y="276.00" width="29.43" height="0.8" fill="#5f93c7"/><rect x="70.55" y="276.00" width="29.43" height="0.8" fill="#9bbcdc"/><rect x="99.67" y="276.00" width="29.43" height="0.8" fill="#e36f71"/><rect x="128.80" y="276.00" width="29.43" height="0.8" fill="#f3c0c1"/><rect x="157.93" y="276.00" width="29.43" height="0.8" fill="#fef8f8"/><rect x="187.05" y="276.00" width="29.43" height="0.8" fill="#f5c8c9"/><rect x="216.18" y="276.00" width="29.43" height="0.8" fill="#f7d4d5"/><rect x="12.30" y="276.50" width="29.42" height="0.8" fill="#d9e6f2"/><rect x="41.42" y="276.50" width="29.43" height="0.8" fill="#6b9bcb"/><rect x="70.55" y="276.50" width="29.43" height="0.8" fill="#a5c3e0"/><rect x="99.67" y="276.50" width="29.43" height="0.8" fill="#e47073"/><rect x="128.80" y="276.50" width="29.43" height="0.8" fill="#ec9b9d"/><rect x="157.93" y="276.50" width="29.43" height="0.8" fill="#fbeced"/><rect x="187.05" y="276.50" width="29.43" height="0.8" fill="#f7d3d4"/><rect x="216.18" y="276.50" width="29.43" height="0.8" fill="#fae3e3"/><rect x="12.30" y="277.00" width="29.42" height="0.8" fill="#e5eef6"/><rect x="41.42" y="277.00" width="29.43" height="0.8" fill="#88afd6"/><rect x="70.55" y="277.00" width="29.43" height="0.8" fill="#90b4d8"/><rect x="99.67" y="277.00" width="29.43" height="0.8" fill="#e98d8f"/><rect x="128.80" y="277.00" width="29.43" height="0.8" fill="#e77f82"/><rect x="157.93" y="277.00" width="29.43" height="0.8" fill="#f3c0c1"/><rect x="187.05" y="277.00" width="29.43" height="0.8" fill="#fdf6f6"/><rect x="216.18" y="277.00" width="29.43" height="0.8" fill="#fdf7f7"/><rect x="12.30" y="277.50" width="29.42" height="0.8" fill="#edf3f9"/><rect x="41.42" y="277.50" width="29.43" height="0.8" fill="#a3c1df"/><rect x="70.55" y="277.50" width="29.43" height="0.8" fill="#83acd4"/><rect x="99.67" y="277.50" width="29.43" height="0.8" fill="#ea9395"/><rect x="128.80" y="277.50" width="29.43" height="0.8" fill="#e5797b"/><rect x="157.93" y="277.50" width="29.43" height="0.8" fill="#eda1a3"/><rect x="187.05" y="277.50" width="29.43" height="0.8" fill="#fceded"/><rect x="216.18" y="277.50" width="29.43" height="0.8" fill="#fdf4f4"/><rect x="12.30" y="278.00" width="29.42" height="0.8" fill="#e5eef6"/><rect x="41.42" y="278.00" width="29.43" height="0.8" fill="#b9d0e6"/><rect x="70.55" y="278.00" width="29.43" height="0.8" fill="#94b7d9"/><rect x="99.67" y="278.00" width="29.43" height="0.8" fill="#eb9496"/><rect x="128.80" y="278.00" width="29.43" height="0.8" fill="#e57679"/><rect x="157.93" y="278.00" width="29.43" height="0.8" fill="#e88587"/><rect x="187.05" y="278.00" width="29.43" height="0.8" fill="#f6d1d2"/><rect x="216.18" y="278.00" width="29.43" height="0.8" fill="#fae3e4"/><rect x="12.30" y="278.50" width="29.42" height="0.8" fill="#d5e3f0"/><rect x="41.42" y="278.50" width="29.43" height="0.8" fill="#bcd2e8"/><rect x="70.55" y="278.50" width="29.43" height="0.8" fill="#a2c1df"/><rect x="99.67" y="278.50" width="29.43" height="0.8" fill="#ed9fa1"/><rect x="128.80" y="278.50" width="29.43" height="0.8" fill="#e78284"/><rect x="157.93" y="278.50" width="29.43" height="0.8" fill="#ea9395"/><rect x="187.05" y="278.50" width="29.43" height="0.8" fill="#f5cdcd"/><rect x="216.18" y="278.50" width="29.43" height="0.8" fill="#fbeaea"/><rect x="12.30" y="279.00" width="29.42" height="0.8" fill="#b9d0e6"/><rect x="41.42" y="279.00" width="29.43" height="0.8" fill="#adc8e2"/><rect x="70.55" y="279.00" width="29.43" height="0.8" fill="#93b6d9"/><rect x="99.67" y="279.00" width="29.43" height="0.8" fill="#f2bbbc"/><rect x="128.80" y="279.00" width="29.43" height="0.8" fill="#eea8aa"/><rect x="157.93" y="279.00" width="29.43" height="0.8" fill="#f2bdbe"/><rect x="187.05" y="279.00" width="29.43" height="0.8" fill="#f9e0e1"/><rect x="216.18" y="279.00" width="29.43" height="0.8" fill="#ffffff"/><rect x="12.30" y="279.50" width="29.42" height="0.8" fill="#a0bfde"/><rect x="41.42" y="279.50" width="29.43" height="0.8" fill="#a3c1df"/><rect x="70.55" y="279.50" width="29.43" height="0.8" fill="#90b5d8"/><rect x="99.67" y="279.50" width="29.43" height="0.8" fill="#f0b0b2"/><rect x="128.80" y="279.50" width="29.43" height="0.8" fill="#ec9b9d"/><rect x="157.93" y="279.50" width="29.43" height="0.8" fill="#f6d2d3"/><rect x="187.05" y="279.50" width="29.43" height="0.8" fill="#fcf1f1"/><rect x="216.18" y="279.50" width="29.43" height="0.8" fill="#f5f8fb"/><rect x="12.30" y="280.00" width="29.42" height="0.8" fill="#a5c3e0"/><rect x="41.42" y="280.00" width="29.43" height="0.8" fill="#94b7da"/><rect x="70.55" y="280.00" width="29.43" height="0.8" fill="#9dbddd"/><rect x="99.67" y="280.00" width="29.43" height="0.8" fill="#f0b2b3"/><rect x="128.80" y="280.00" width="29.43" height="0.8" fill="#e88789"/><rect x="157.93" y="280.00" width="29.43" height="0.8" fill="#f5cacb"/><rect x="187.05" y="280.00" width="29.43" height="0.8" fill="#fefbfb"/><rect x="216.18" y="280.00" width="29.43" height="0.8" fill="#fbebeb"/><rect x="12.30" y="280.50" width="29.42" height="0.8" fill="#c1d5e9"/><rect x="41.42" y="280.50" width="29.43" height="0.8" fill="#9abbdc"/><rect x="70.55" y="280.50" width="29.43" height="0.8" fill="#9fbfde"/><rect x="99.67" y="280.50" width="29.43" height="0.8" fill="#f5cacb"/><rect x="128.80" y="280.50" width="29.43" height="0.8" fill="#e88487"/><rect x="157.93" y="280.50" width="29.43" height="0.8" fill="#f5cdce"/><rect x="187.05" y="280.50" width="29.43" height="0.8" fill="#f9fbfd"/><rect x="216.18" y="280.50" width="29.43" height="0.8" fill="#f5cacb"/><rect x="12.30" y="281.00" width="29.42" height="0.8" fill="#d8e5f1"/><rect x="41.42" y="281.00" width="29.43" height="0.8" fill="#90b5d8"/><rect x="70.55" y="281.00" width="29.43" height="0.8" fill="#8eb3d7"/><rect x="99.67" y="281.00" width="29.43" height="0.8" fill="#fcedee"/><rect x="128.80" y="281.00" width="29.43" height="0.8" fill="#ea9294"/><rect x="157.93" y="281.00" width="29.43" height="0.8" fill="#fae5e6"/><rect x="187.05" y="281.00" width="29.43" height="0.8" fill="#e4edf6"/><rect x="216.18" y="281.00" width="29.43" height="0.8" fill="#f3c1c2"/><rect x="12.30" y="281.50" width="29.42" height="0.8" fill="#f5f8fc"/><rect x="41.42" y="281.50" width="29.43" height="0.8" fill="#b2cbe4"/><rect x="70.55" y="281.50" width="29.43" height="0.8" fill="#a7c4e0"/><rect x="99.67" y="281.50" width="29.43" height="0.8" fill="#f6d0d1"/><rect x="128.80" y="281.50" width="29.43" height="0.8" fill="#e36d6f"/><rect x="157.93" y="281.50" width="29.43" height="0.8" fill="#ffffff"/><rect x="187.05" y="281.50" width="29.43" height="0.8" fill="#c9dbec"/><rect x="216.18" y="281.50" width="29.43" height="0.8" fill="#fbe9e9"/><rect x="12.30" y="282.00" width="29.42" height="0.8" fill="#e5edf6"/><rect x="41.42" y="282.00" width="29.43" height="0.8" fill="#b7cee6"/><rect x="70.55" y="282.00" width="29.43" height="0.8" fill="#97b9db"/><rect x="99.67" y="282.00" width="29.43" height="0.8" fill="#f5cbcc"/><rect x="128.80" y="282.00" width="29.43" height="0.8" fill="#e98c8e"/><rect x="157.93" y="282.00" width="29.43" height="0.8" fill="#fbebec"/><rect x="187.05" y="282.00" width="29.43" height="0.8" fill="#d4e2f0"/><rect x="216.18" y="282.00" width="29.43" height="0.8" fill="#fffefe"/><rect x="12.30" y="282.50" width="29.42" height="0.8" fill="#d5e3f0"/><rect x="41.42" y="282.50" width="29.43" height="0.8" fill="#aec8e3"/><rect x="70.55" y="282.50" width="29.43" height="0.8" fill="#8cb2d7"/><rect x="99.67" y="282.50" width="29.43" height="0.8" fill="#f2bbbc"/><rect x="128.80" y="282.50" width="29.43" height="0.8" fill="#efabad"/><rect x="157.93" y="282.50" width="29.43" height="0.8" fill="#f8dddd"/><rect x="187.05" y="282.50" width="29.43" height="0.8" fill="#e8f0f7"/><rect x="216.18" y="282.50" width="29.43" height="0.8" fill="#f4f7fb"/><rect x="12.30" y="283.00" width="29.42" height="0.8" fill="#c4d8eb"/><rect x="41.42" y="283.00" width="29.43" height="0.8" fill="#97b9db"/><rect x="70.55" y="283.00" width="29.43" height="0.8" fill="#9fbedd"/><rect x="99.67" y="283.00" width="29.43" height="0.8" fill="#ec9b9d"/><rect x="128.80" y="283.00" width="29.43" height="0.8" fill="#ed9ea0"/><rect x="157.93" y="283.00" width="29.43" height="0.8" fill="#f9dedf"/><rect x="187.05" y="283.00" width="29.43" height="0.8" fill="#f1f6fa"/><rect x="216.18" y="283.00" width="29.43" height="0.8" fill="#f4f8fb"/><rect x="12.30" y="283.50" width="29.42" height="0.8" fill="#c4d7ea"/><rect x="41.42" y="283.50" width="29.43" height="0.8" fill="#8fb3d8"/><rect x="70.55" y="283.50" width="29.43" height="0.8" fill="#adc8e2"/><rect x="99.67" y="283.50" width="29.43" height="0.8" fill="#e98c8e"/><rect x="128.80" y="283.50" width="29.43" height="0.8" fill="#e88587"/><rect x="157.93" y="283.50" width="29.43" height="0.8" fill="#fdf5f5"/><rect x="187.05" y="283.50" width="29.43" height="0.8" fill="#e1ebf5"/><rect x="216.18" y="283.50" width="29.43" height="0.8" fill="#fafcfd"/><rect x="12.30" y="284.00" width="29.42" height="0.8" fill="#dae6f2"/><rect x="41.42" y="284.00" width="29.43" height="0.8" fill="#abc6e2"/><rect x="70.55" y="284.00" width="29.43" height="0.8" fill="#bdd3e8"/><rect x="99.67" y="284.00" width="29.43" height="0.8" fill="#e98d8f"/><rect x="128.80" y="284.00" width="29.43" height="0.8" fill="#e47476"/><rect x="157.93" y="284.00" width="29.43" height="0.8" fill="#f8fafd"/><rect x="187.05" y="284.00" width="29.43" height="0.8" fill="#d8e5f1"/><rect x="216.18" y="284.00" width="29.43" height="0.8" fill="#fdfefe"/><rect x="12.30" y="284.50" width="29.42" height="0.8" fill="#eaf1f8"/><rect x="41.42" y="284.50" width="29.43" height="0.8" fill="#bdd2e8"/><rect x="70.55" y="284.50" width="29.43" height="0.8" fill="#cbdced"/><rect x="99.67" y="284.50" width="29.43" height="0.8" fill="#eb9597"/><rect x="128.80" y="284.50" width="29.43" height="0.8" fill="#e78083"/><rect x="157.93" y="284.50" width="29.43" height="0.8" fill="#f5f8fb"/><rect x="187.05" y="284.50" width="29.43" height="0.8" fill="#d5e3f0"/><rect x="216.18" y="284.50" width="29.43" height="0.8" fill="#ffffff"/><rect x="12.30" y="285.00" width="29.42" height="0.8" fill="#f0f5fa"/><rect x="41.42" y="285.00" width="29.43" height="0.8" fill="#c3d6ea"/><rect x="70.55" y="285.00" width="29.43" height="0.8" fill="#bfd4e9"/><rect x="99.67" y="285.00" width="29.43" height="0.8" fill="#eb9799"/><rect x="128.80" y="285.00" width="29.43" height="0.8" fill="#e8888a"/><rect x="157.93" y="285.00" width="29.43" height="0.8" fill="#fdf2f2"/><rect x="187.05" y="285.00" width="29.43" height="0.8" fill="#d8e5f1"/><rect x="216.18" y="285.00" width="29.43" height="0.8" fill="#f2f6fa"/><rect x="12.30" y="285.50" width="29.42" height="0.8" fill="#f6f9fc"/><rect x="41.42" y="285.50" width="29.43" height="0.8" fill="#c3d7ea"/><rect x="70.55" y="285.50" width="29.43" height="0.8" fill="#a3c1df"/><rect x="99.67" y="285.50" width="29.43" height="0.8" fill="#ec9a9c"/><rect x="128.80" y="285.50" width="29.43" height="0.8" fill="#e88688"/><rect x="157.93" y="285.50" width="29.43" height="0.8" fill="#f9ddde"/><rect x="187.05" y="285.50" width="29.43" height="0.8" fill="#d0dfef"/><rect x="216.18" y="285.50" width="29.43" height="0.8" fill="#e5edf6"/><rect x="12.30" y="286.00" width="29.42" height="0.8" fill="#fffdfd"/><rect x="41.42" y="286.00" width="29.43" height="0.8" fill="#d1e0ef"/><rect x="70.55" y="286.00" width="29.43" height="0.8" fill="#9ebedd"/><rect x="99.67" y="286.00" width="29.43" height="0.8" fill="#eb9799"/><rect x="128.80" y="286.00" width="29.43" height="0.8" fill="#e46f71"/><rect x="157.93" y="286.00" width="29.43" height="0.8" fill="#f9dedf"/><rect x="187.05" y="286.00" width="29.43" height="0.8" fill="#e8eff7"/><rect x="216.18" y="286.00" width="29.43" height="0.8" fill="#e7eff7"/><rect x="12.30" y="286.50" width="29.42" height="0.8" fill="#f5f8fb"/><rect x="41.42" y="286.50" width="29.43" height="0.8" fill="#e3ecf5"/><rect x="70.55" y="286.50" width="29.43" height="0.8" fill="#bad1e7"/><rect x="99.67" y="286.50" width="29.43" height="0.8" fill="#e98d90"/><rect x="128.80" y="286.50" width="29.43" height="0.8" fill="#e36e71"/><rect x="157.93" y="286.50" width="29.43" height="0.8" fill="#fae4e5"/><rect x="187.05" y="286.50" width="29.43" height="0.8" fill="#f8fafc"/><rect x="216.18" y="286.50" width="29.43" height="0.8" fill="#f6f9fc"/><rect x="12.30" y="287.00" width="29.42" height="0.8" fill="#dde8f3"/><rect x="41.42" y="287.00" width="29.43" height="0.8" fill="#b9d0e7"/><rect x="70.55" y="287.00" width="29.43" height="0.8" fill="#c4d7ea"/><rect x="99.67" y="287.00" width="29.43" height="0.8" fill="#e98a8c"/><rect x="128.80" y="287.00" width="29.43" height="0.8" fill="#e5787a"/><rect x="157.93" y="287.00" width="29.43" height="0.8" fill="#fffdfd"/><rect x="187.05" y="287.00" width="29.43" height="0.8" fill="#eff4f9"/><rect x="216.18" y="287.00" width="29.43" height="0.8" fill="#f0f5fa"/><rect x="12.30" y="287.50" width="29.42" height="0.8" fill="#c9dbec"/><rect x="41.42" y="287.50" width="29.43" height="0.8" fill="#a3c1df"/><rect x="70.55" y="287.50" width="29.43" height="0.8" fill="#bbd1e7"/><rect x="99.67" y="287.50" width="29.43" height="0.8" fill="#e98c8e"/><rect x="128.80" y="287.50" width="29.43" height="0.8" fill="#e77f82"/><rect x="157.93" y="287.50" width="29.43" height="0.8" fill="#fefafb"/><rect x="187.05" y="287.50" width="29.43" height="0.8" fill="#e7eff7"/><rect x="216.18" y="287.50" width="29.43" height="0.8" fill="#edf3f9"/><rect x="12.30" y="288.00" width="29.42" height="0.8" fill="#bdd3e8"/><rect x="41.42" y="288.00" width="29.43" height="0.8" fill="#a2c1df"/><rect x="70.55" y="288.00" width="29.43" height="0.8" fill="#abc7e2"/><rect x="99.67" y="288.00" width="29.43" height="0.8" fill="#eda2a4"/><rect x="128.80" y="288.00" width="29.43" height="0.8" fill="#e67d7f"/><rect x="157.93" y="288.00" width="29.43" height="0.8" fill="#fdf5f5"/><rect x="187.05" y="288.00" width="29.43" height="0.8" fill="#e7eff7"/><rect x="216.18" y="288.00" width="29.43" height="0.8" fill="#d5e3f0"/><rect x="12.30" y="288.50" width="29.42" height="0.8" fill="#dfe9f4"/><rect x="41.42" y="288.50" width="29.43" height="0.8" fill="#b2cbe4"/><rect x="70.55" y="288.50" width="29.43" height="0.8" fill="#c2d6ea"/><rect x="99.67" y="288.50" width="29.43" height="0.8" fill="#efabad"/><rect x="128.80" y="288.50" width="29.43" height="0.8" fill="#e78083"/><rect x="157.93" y="288.50" width="29.43" height="0.8" fill="#fcf1f1"/><rect x="187.05" y="288.50" width="29.43" height="0.8" fill="#f0f5fa"/><rect x="216.18" y="288.50" width="29.43" height="0.8" fill="#cbdced"/><rect x="12.30" y="289.00" width="29.42" height="0.8" fill="#e6eef6"/><rect x="41.42" y="289.00" width="29.43" height="0.8" fill="#aac6e1"/><rect x="70.55" y="289.00" width="29.43" height="0.8" fill="#c6d9eb"/><rect x="99.67" y="289.00" width="29.43" height="0.8" fill="#eea3a5"/><rect x="128.80" y="289.00" width="29.43" height="0.8" fill="#e57678"/><rect x="157.93" y="289.00" width="29.43" height="0.8" fill="#f0f5fa"/><rect x="187.05" y="289.00" width="29.43" height="0.8" fill="#f4f8fb"/><rect x="216.18" y="289.00" width="29.43" height="0.8" fill="#bed4e8"/><rect x="12.30" y="289.50" width="29.42" height="0.8" fill="#f2f6fa"/><rect x="41.42" y="289.50" width="29.43" height="0.8" fill="#b7cfe6"/><rect x="70.55" y="289.50" width="29.43" height="0.8" fill="#c9daec"/><rect x="99.67" y="289.50" width="29.43" height="0.8" fill="#ea8f92"/><rect x="128.80" y="289.50" width="29.43" height="0.8" fill="#e26669"/><rect x="157.93" y="289.50" width="29.43" height="0.8" fill="#f0f5fa"/><rect x="187.05" y="289.50" width="29.43" height="0.8" fill="#ffffff"/><rect x="216.18" y="289.50" width="29.43" height="0.8" fill="#c1d5e9"/><rect x="12.30" y="290.00" width="29.42" height="0.8" fill="#fcfdfe"/><rect x="41.42" y="290.00" width="29.43" height="0.8" fill="#b5cde5"/><rect x="70.55" y="290.00" width="29.43" height="0.8" fill="#cddded"/><rect x="99.67" y="290.00" width="29.43" height="0.8" fill="#e8898b"/><rect x="128.80" y="290.00" width="29.43" height="0.8" fill="#e2686a"/><rect x="157.93" y="290.00" width="29.43" height="0.8" fill="#f7d7d8"/><rect x="187.05" y="290.00" width="29.43" height="0.8" fill="#fcf1f1"/><rect x="216.18" y="290.00" width="29.43" height="0.8" fill="#cadbec"/><rect x="12.30" y="290.50" width="29.42" height="0.8" fill="#f9e0e0"/><rect x="41.42" y="290.50" width="29.43" height="0.8" fill="#b8d0e6"/><rect x="70.55" y="290.50" width="29.43" height="0.8" fill="#f1f6fa"/><rect x="99.67" y="290.50" width="29.43" height="0.8" fill="#e78183"/><rect x="128.80" y="290.50" width="29.43" height="0.8" fill="#e67d80"/><rect x="157.93" y="290.50" width="29.43" height="0.8" fill="#f1b5b6"/><rect x="187.05" y="290.50" width="29.43" height="0.8" fill="#f7d4d5"/><rect x="216.18" y="290.50" width="29.43" height="0.8" fill="#dbe7f3"/><rect x="12.30" y="291.00" width="29.42" height="0.8" fill="#f6d2d3"/><rect x="41.42" y="291.00" width="29.43" height="0.8" fill="#c2d6ea"/><rect x="70.55" y="291.00" width="29.43" height="0.8" fill="#fefeff"/><rect x="99.67" y="291.00" width="29.43" height="0.8" fill="#e78183"/><rect x="128.80" y="291.00" width="29.43" height="0.8" fill="#e98d8f"/><rect x="157.93" y="291.00" width="29.43" height="0.8" fill="#f2bbbc"/><rect x="187.05" y="291.00" width="29.43" height="0.8" fill="#f9ddde"/><rect x="216.18" y="291.00" width="29.43" height="0.8" fill="#eaf1f8"/><rect x="12.30" y="291.50" width="29.42" height="0.8" fill="#f9e2e2"/><rect x="41.42" y="291.50" width="29.43" height="0.8" fill="#d7e4f1"/><rect x="70.55" y="291.50" width="29.43" height="0.8" fill="#fdfefe"/><rect x="99.67" y="291.50" width="29.43" height="0.8" fill="#e67d80"/><rect x="128.80" y="291.50" width="29.43" height="0.8" fill="#e78183"/><rect x="157.93" y="291.50" width="29.43" height="0.8" fill="#f5cacb"/><rect x="187.05" y="291.50" width="29.43" height="0.8" fill="#fef9f9"/><rect x="216.18" y="291.50" width="29.43" height="0.8" fill="#d4e2f0"/><rect x="12.30" y="292.00" width="29.42" height="0.8" fill="#f1f5fa"/><rect x="41.42" y="292.00" width="29.43" height="0.8" fill="#e3ecf5"/><rect x="70.55" y="292.00" width="29.43" height="0.8" fill="#fdf5f5"/><rect x="99.67" y="292.00" width="29.43" height="0.8" fill="#e47173"/><rect x="128.80" y="292.00" width="29.43" height="0.8" fill="#e47073"/><rect x="157.93" y="292.00" width="29.43" height="0.8" fill="#f3bec0"/><rect x="187.05" y="292.00" width="29.43" height="0.8" fill="#fcfdfe"/><rect x="216.18" y="292.00" width="29.43" height="0.8" fill="#dce8f3"/><rect x="12.30" y="292.50" width="29.42" height="0.8" fill="#cfdfee"/><rect x="41.42" y="292.50" width="29.43" height="0.8" fill="#e8eff7"/><rect x="70.55" y="292.50" width="29.43" height="0.8" fill="#fcfdfe"/><rect x="99.67" y="292.50" width="29.43" height="0.8" fill="#e36a6d"/><rect x="128.80" y="292.50" width="29.43" height="0.8" fill="#e26669"/><rect x="157.93" y="292.50" width="29.43" height="0.8" fill="#f2bbbc"/><rect x="187.05" y="292.50" width="29.43" height="0.8" fill="#fceeee"/><rect x="216.18" y="292.50" width="29.43" height="0.8" fill="#e6eff6"/><rect x="12.30" y="293.00" width="29.42" height="0.8" fill="#dae6f2"/><rect x="41.42" y="293.00" width="29.43" height="0.8" fill="#dfeaf4"/><rect x="70.55" y="293.00" width="29.43" height="0.8" fill="#f3f7fb"/><rect x="99.67" y="293.00" width="29.43" height="0.8" fill="#db4347"/><rect x="128.80" y="293.00" width="29.43" height="0.8" fill="#e05f62"/><rect x="157.93" y="293.00" width="29.43" height="0.8" fill="#f4c4c5"/><rect x="187.05" y="293.00" width="29.43" height="0.8" fill="#f9dfe0"/><rect x="216.18" y="293.00" width="29.43" height="0.8" fill="#e7eff7"/><rect x="12.30" y="293.50" width="29.42" height="0.8" fill="#f7fafc"/><rect x="41.42" y="293.50" width="29.43" height="0.8" fill="#e0eaf4"/><rect x="70.55" y="293.50" width="29.43" height="0.8" fill="#f6f9fc"/><rect x="99.67" y="293.50" width="29.43" height="0.8" fill="#d62a2e"/><rect x="128.80" y="293.50" width="29.43" height="0.8" fill="#dd4e51"/><rect x="157.93" y="293.50" width="29.43" height="0.8" fill="#f4c6c7"/><rect x="187.05" y="293.50" width="29.43" height="0.8" fill="#fae5e6"/><rect x="216.18" y="293.50" width="29.43" height="0.8" fill="#e2ebf5"/><rect x="12.30" y="294.00" width="29.42" height="0.8" fill="#fcfdfe"/><rect x="41.42" y="294.00" width="29.43" height="0.8" fill="#d4e2f0"/><rect x="70.55" y="294.00" width="29.43" height="0.8" fill="#f6f9fc"/><rect x="99.67" y="294.00" width="29.43" height="0.8" fill="#d83438"/><rect x="128.80" y="294.00" width="29.43" height="0.8" fill="#de5154"/><rect x="157.93" y="294.00" width="29.43" height="0.8" fill="#f8d9d9"/><rect x="187.05" y="294.00" width="29.43" height="0.8" fill="#f9e2e2"/><rect x="216.18" y="294.00" width="29.43" height="0.8" fill="#d6e3f1"/><rect x="12.30" y="294.50" width="29.42" height="0.8" fill="#f5f8fb"/><rect x="41.42" y="294.50" width="29.43" height="0.8" fill="#b3cce5"/><rect x="70.55" y="294.50" width="29.43" height="0.8" fill="#e0eaf4"/><rect x="99.67" y="294.50" width="29.43" height="0.8" fill="#e05c5f"/><rect x="128.80" y="294.50" width="29.43" height="0.8" fill="#e16164"/><rect x="157.93" y="294.50" width="29.43" height="0.8" fill="#fcf1f1"/><rect x="187.05" y="294.50" width="29.43" height="0.8" fill="#fbe8e8"/><rect x="216.18" y="294.50" width="29.43" height="0.8" fill="#bed3e8"/><rect x="12.30" y="295.00" width="29.42" height="0.8" fill="#fefeff"/><rect x="41.42" y="295.00" width="29.43" height="0.8" fill="#a1c0de"/><rect x="70.55" y="295.00" width="29.43" height="0.8" fill="#c3d7ea"/><rect x="99.67" y="295.00" width="29.43" height="0.8" fill="#e05b5e"/><rect x="128.80" y="295.00" width="29.43" height="0.8" fill="#e78082"/><rect x="157.93" y="295.00" width="29.43" height="0.8" fill="#fef9f9"/><rect x="187.05" y="295.00" width="29.43" height="0.8" fill="#fdf7f7"/><rect x="216.18" y="295.00" width="29.43" height="0.8" fill="#b1cbe4"/><rect x="12.30" y="295.50" width="29.42" height="0.8" fill="#fcf0f0"/><rect x="41.42" y="295.50" width="29.43" height="0.8" fill="#adc8e2"/><rect x="70.55" y="295.50" width="29.43" height="0.8" fill="#b8d0e6"/><rect x="99.67" y="295.50" width="29.43" height="0.8" fill="#e05a5d"/><rect x="128.80" y="295.50" width="29.43" height="0.8" fill="#ed9fa0"/><rect x="157.93" y="295.50" width="29.43" height="0.8" fill="#fdfdfe"/><rect x="187.05" y="295.50" width="29.43" height="0.8" fill="#fefcfc"/><rect x="216.18" y="295.50" width="29.43" height="0.8" fill="#c4d7ea"/><rect x="12.30" y="296.00" width="29.42" height="0.8" fill="#f7d7d8"/><rect x="41.42" y="296.00" width="29.43" height="0.8" fill="#bad1e7"/><rect x="70.55" y="296.00" width="29.43" height="0.8" fill="#d2e1ef"/><rect x="99.67" y="296.00" width="29.43" height="0.8" fill="#df5559"/><rect x="128.80" y="296.00" width="29.43" height="0.8" fill="#efacae"/><rect x="157.93" y="296.00" width="29.43" height="0.8" fill="#fefbfb"/><rect x="187.05" y="296.00" width="29.43" height="0.8" fill="#fdf7f7"/><rect x="216.18" y="296.00" width="29.43" height="0.8" fill="#e4edf5"/><rect x="12.30" y="296.50" width="29.42" height="0.8" fill="#fae5e5"/><rect x="41.42" y="296.50" width="29.43" height="0.8" fill="#cadbec"/><rect x="70.55" y="296.50" width="29.43" height="0.8" fill="#e9f0f7"/><rect x="99.67" y="296.50" width="29.43" height="0.8" fill="#e05e61"/><rect x="128.80" y="296.50" width="29.43" height="0.8" fill="#eb989a"/><rect x="157.93" y="296.50" width="29.43" height="0.8" fill="#fae7e7"/><rect x="187.05" y="296.50" width="29.43" height="0.8" fill="#fef7f7"/><rect x="216.18" y="296.50" width="29.43" height="0.8" fill="#fbfcfe"/><rect x="12.30" y="297.00" width="29.42" height="0.8" fill="#f0f5fa"/><rect x="41.42" y="297.00" width="29.43" height="0.8" fill="#b0cae3"/><rect x="70.55" y="297.00" width="29.43" height="0.8" fill="#f4f7fb"/><rect x="99.67" y="297.00" width="29.43" height="0.8" fill="#df585b"/><rect x="128.80" y="297.00" width="29.43" height="0.8" fill="#e36c6f"/><rect x="157.93" y="297.00" width="29.43" height="0.8" fill="#fbecec"/><rect x="187.05" y="297.00" width="29.43" height="0.8" fill="#fdf7f7"/><rect x="216.18" y="297.00" width="29.43" height="0.8" fill="#f8fafd"/><rect x="12.30" y="297.50" width="29.42" height="0.8" fill="#bad0e7"/><rect x="41.42" y="297.50" width="29.43" height="0.8" fill="#98badb"/><rect x="70.55" y="297.50" width="29.43" height="0.8" fill="#d6e4f1"/><rect x="99.67" y="297.50" width="29.43" height="0.8" fill="#e16366"/><rect x="128.80" y="297.50" width="29.43" height="0.8" fill="#e2696c"/><rect x="157.93" y="297.50" width="29.43" height="0.8" fill="#fffdfd"/><rect x="187.05" y="297.50" width="29.43" height="0.8" fill="#fefafa"/><rect x="216.18" y="297.50" width="29.43" height="0.8" fill="#eef4f9"/><rect x="12.30" y="298.00" width="29.42" height="0.8" fill="#99bbdb"/><rect x="41.42" y="298.00" width="29.43" height="0.8" fill="#94b7da"/><rect x="70.55" y="298.00" width="29.43" height="0.8" fill="#bcd2e8"/><rect x="99.67" y="298.00" width="29.43" height="0.8" fill="#e26568"/><rect x="128.80" y="298.00" width="29.43" height="0.8" fill="#e67d80"/><rect x="157.93" y="298.00" width="29.43" height="0.8" fill="#f3f7fb"/><rect x="187.05" y="298.00" width="29.43" height="0.8" fill="#f1f6fa"/><rect x="216.18" y="298.00" width="29.43" height="0.8" fill="#ebf1f8"/><rect x="12.30" y="298.50" width="29.42" height="0.8" fill="#b7cfe6"/><rect x="41.42" y="298.50" width="29.43" height="0.8" fill="#b0cae3"/><rect x="70.55" y="298.50" width="29.43" height="0.8" fill="#bcd2e8"/><rect x="99.67" y="298.50" width="29.43" height="0.8" fill="#e26769"/><rect x="128.80" y="298.50" width="29.43" height="0.8" fill="#e67c7e"/><rect x="157.93" y="298.50" width="29.43" height="0.8" fill="#f7f9fc"/><rect x="187.05" y="298.50" width="29.43" height="0.8" fill="#f1f5fa"/><rect x="216.18" y="298.50" width="29.43" height="0.8" fill="#f5f8fc"/><rect x="12.30" y="299.00" width="29.42" height="0.8" fill="#e2ecf5"/><rect x="41.42" y="299.00" width="29.43" height="0.8" fill="#d6e3f1"/><rect x="70.55" y="299.00" width="29.43" height="0.8" fill="#cbdced"/><rect x="99.67" y="299.00" width="29.43" height="0.8" fill="#e36c6f"/><rect x="128.80" y="299.00" width="29.43" height="0.8" fill="#e26568"/><rect x="157.93" y="299.00" width="29.43" height="0.8" fill="#fcedee"/><rect x="187.05" y="299.00" width="29.43" height="0.8" fill="#f4f8fb"/><rect x="216.18" y="299.00" width="29.43" height="0.8" fill="#fcedee"/><rect x="12.30" y="299.50" width="29.42" height="0.8" fill="#fafbfd"/><rect x="41.42" y="299.50" width="29.43" height="0.8" fill="#e7eff7"/><rect x="70.55" y="299.50" width="29.43" height="0.8" fill="#c1d5e9"/><rect x="99.67" y="299.50" width="29.43" height="0.8" fill="#e67c7f"/><rect x="128.80" y="299.50" width="29.43" height="0.8" fill="#dd4c4f"/><rect x="157.93" y="299.50" width="29.43" height="0.8" fill="#f9dedf"/><rect x="187.05" y="299.50" width="29.43" height="0.8" fill="#fcf0f0"/><rect x="216.18" y="299.50" width="29.43" height="0.8" fill="#fceeee"/><rect x="12.30" y="300.00" width="29.42" height="0.8" fill="#f3f7fb"/><rect x="41.42" y="300.00" width="29.43" height="0.8" fill="#d1e0ef"/><rect x="70.55" y="300.00" width="29.43" height="0.8" fill="#b2cbe4"/><rect x="99.67" y="300.00" width="29.43" height="0.8" fill="#e47274"/><rect x="128.80" y="300.00" width="29.43" height="0.8" fill="#e05c5f"/><rect x="157.93" y="300.00" width="29.43" height="0.8" fill="#fbe8e9"/><rect x="187.05" y="300.00" width="29.43" height="0.8" fill="#fbe9e9"/><rect x="216.18" y="300.00" width="29.43" height="0.8" fill="#fcfdfe"/><rect x="12.30" y="300.50" width="29.42" height="0.8" fill="#eff4fa"/><rect x="41.42" y="300.50" width="29.43" height="0.8" fill="#b9d0e7"/><rect x="70.55" y="300.50" width="29.43" height="0.8" fill="#c5d8eb"/><rect x="99.67" y="300.50" width="29.43" height="0.8" fill="#e47376"/><rect x="128.80" y="300.50" width="29.43" height="0.8" fill="#e16265"/><rect x="157.93" y="300.50" width="29.43" height="0.8" fill="#fdf3f3"/><rect x="187.05" y="300.50" width="29.43" height="0.8" fill="#feffff"/><rect x="216.18" y="300.50" width="29.43" height="0.8" fill="#e7eff7"/><rect x="12.30" y="301.00" width="29.42" height="0.8" fill="#fefeff"/><rect x="41.42" y="301.00" width="29.43" height="0.8" fill="#c7d9eb"/><rect x="70.55" y="301.00" width="29.43" height="0.8" fill="#e0eaf4"/><rect x="99.67" y="301.00" width="29.43" height="0.8" fill="#e78083"/><rect x="128.80" y="301.00" width="29.43" height="0.8" fill="#e15f62"/><rect x="157.93" y="301.00" width="29.43" height="0.8" fill="#fceeee"/><rect x="187.05" y="301.00" width="29.43" height="0.8" fill="#f5f8fb"/><rect x="216.18" y="301.00" width="29.43" height="0.8" fill="#f2f6fb"/><rect x="12.30" y="301.50" width="29.42" height="0.8" fill="#fdf4f4"/><rect x="41.42" y="301.50" width="29.43" height="0.8" fill="#cadced"/><rect x="70.55" y="301.50" width="29.43" height="0.8" fill="#e0eaf4"/><rect x="99.67" y="301.50" width="29.43" height="0.8" fill="#e98a8d"/><rect x="128.80" y="301.50" width="29.43" height="0.8" fill="#e16265"/><rect x="157.93" y="301.50" width="29.43" height="0.8" fill="#fef8f8"/><rect x="187.05" y="301.50" width="29.43" height="0.8" fill="#f4f8fb"/><rect x="216.18" y="301.50" width="29.43" height="0.8" fill="#ffffff"/></g><rect x="12.3" y="59.2" width="87.4" height="2.6" fill="#f6d9bf"/><rect x="99.7" y="59.2" width="58.2" height="2.6" fill="#6e0c22"/><rect x="157.9" y="59.2" width="87.4" height="2.6" fill="#e0352b"/><path d="M26.9 58.8V56.5H70.6V57.4 M56 58.8V57.4H85.2V58.8 M48.7 56.5V53.9H161.5V54.6 M114.3 58.8V56.5H143.4V58.8 M128.8 56.5V54.6H194.3V56.5 M172.4 58.8V56.5H216.2V57.3 M201.6 58.8V57.3H230.7V58.8" stroke="#bdbdbd" stroke-width="0.8" fill="none"/><rect x="9" y="62" width="3.2" height="240" fill="#c4c4c4"/><path d="M10.0 62.0H12.3 M9.7 64.2H12.3 M9.2 66.0H12.3 M9.3 68.0H12.3 M9.2 70.6H12.3 M10.6 72.9H12.3 M10.4 74.3H12.3 M9.2 77.0H12.3 M9.9 78.6H12.3 M9.6 80.3H12.3 M10.3 82.1H12.3 M9.8 84.2H12.3 M9.7 86.9H12.3 M10.9 88.3H12.3 M10.1 90.6H12.3 M10.3 92.2H12.3 M10.1 94.4H12.3 M9.2 96.4H12.3 M10.4 98.9H12.3 M9.6 101.0H12.3 M9.3 102.3H12.3 M9.7 104.3H12.3 M9.5 106.2H12.3 M10.7 108.3H12.3 M10.6 110.4H12.3 M9.4 112.0H12.3 M9.1 115.0H12.3 M10.0 116.1H12.3 M9.4 118.3H12.3 M10.2 120.6H12.3 M10.1 122.2H12.3 M10.7 124.5H12.3 M9.5 126.1H12.3 M9.1 128.6H12.3 M10.9 130.8H12.3 M10.5 132.3H12.3 M10.9 134.2H12.3 M9.0 136.2H12.3 M9.9 138.1H12.3 M11.0 140.0H12.3 M10.1 142.6H12.3 M9.8 144.6H12.3 M10.4 146.9H12.3 M9.6 148.4H12.3 M9.6 150.1H12.3 M9.2 152.4H12.3 M9.5 154.9H12.3 M9.1 156.5H12.3 M10.3 158.6H12.3 M11.0 160.1H12.3 M9.5 162.2H12.3 M9.7 164.7H12.3 M9.5 166.9H12.3 M10.4 168.3H12.3 M10.8 170.9H12.3 M10.1 172.3H12.3 M10.4 174.4H12.3 M10.7 176.2H12.3 M9.3 178.7H12.3 M9.7 180.3H12.3 M9.9 182.9H12.3 M10.9 184.6H12.3 M10.9 186.4H12.3 M9.0 188.3H12.3 M10.4 190.1H12.3 M10.7 192.4H12.3 M10.4 194.5H12.3 M10.2 196.4H12.3 M9.8 198.7H12.3 M10.7 200.5H12.3 M9.7 202.9H12.3 M10.7 204.1H12.3 M10.9 206.4H12.3 M9.7 208.8H12.3 M10.1 210.9H12.3 M10.8 212.7H12.3 M10.9 214.6H12.3 M9.8 216.4H12.3 M9.8 218.6H12.3 M10.1 220.7H12.3 M10.7 222.7H12.3 M10.8 224.6H12.3 M10.7 226.8H12.3 M9.0 228.0H12.3 M9.7 230.6H12.3 M9.8 232.9H12.3 M9.5 234.7H12.3 M10.8 236.6H12.3 M9.7 238.9H12.3 M10.1 240.5H12.3 M10.0 242.3H12.3 M10.8 245.0H12.3 M10.4 246.3H12.3 M9.7 248.9H12.3 M10.6 250.8H12.3 M9.2 252.9H12.3 M11.0 254.9H12.3 M10.3 256.2H12.3 M10.2 258.1H12.3 M10.5 260.7H12.3 M9.6 262.9H12.3 M10.6 264.1H12.3 M9.5 266.0H12.3 M10.6 268.2H12.3 M10.7 270.4H12.3 M10.7 272.7H12.3 M10.8 274.8H12.3 M9.7 276.3H12.3 M10.2 278.6H12.3 M10.6 280.8H12.3 M9.2 282.3H12.3 M10.4 284.7H12.3 M9.1 286.3H12.3 M9.5 288.0H12.3 M9.4 290.3H12.3 M9.3 292.1H12.3 M9.2 294.3H12.3 M9.9 296.2H12.3 M10.7 298.8H12.3 M9.3 300.4H12.3" stroke="#7a7a7a" stroke-width="0.5" fill="none"/><path d="M9.4 62V302" stroke="#aaaaaa" stroke-width="0.6"/><rect x="12.3" y="62.0" width="87.4" height="129.2" fill="none" stroke="#222" stroke-width="1"/><rect x="158.2" y="191.2" width="87.1" height="22.2" fill="none" stroke="#222" stroke-width="1"/><rect x="99.8" y="213.4" width="145.5" height="15.7" fill="none" stroke="#222" stroke-width="1"/><rect x="158.2" y="229.1" width="87.1" height="11.2" fill="none" stroke="#222" stroke-width="1"/><rect x="99.8" y="240.3" width="58.4" height="25.0" fill="none" stroke="#222" stroke-width="1"/><rect x="99.8" y="265.3" width="145.5" height="16.3" fill="none" stroke="#222" stroke-width="1"/><rect x="99.8" y="281.6" width="58.4" height="20.4" fill="none" stroke="#222" stroke-width="1"/><text x="55.8" y="124.3" font-size="11.4" text-anchor="middle">Module 1</text><text x="202.1" y="206.0" font-size="11.4" text-anchor="middle">Module 2</text><text x="172.3" y="225.2" font-size="11.4" text-anchor="middle">Module 3</text><text x="202.1" y="238.9" font-size="11.4" text-anchor="middle">Module 4</text><text x="129.1" y="256.8" font-size="11.4" text-anchor="middle">Module 5</text><text x="172.3" y="277.4" font-size="11.4" text-anchor="middle">Module 6</text><text x="129.1" y="295.4" font-size="11.4" text-anchor="middle">Module 7</text><defs><linearGradient id="cb" x1="0" y1="0" x2="0" y2="1"><stop offset="0" stop-color="#d6282c"/><stop offset="0.5" stop-color="#ffffff"/><stop offset="1" stop-color="#4280bd"/></linearGradient></defs><rect x="248" y="62.7" width="7" height="98.2" fill="url(#cb)"/><text x="257.5" y="72.0" font-size="11.5">2</text><text x="257.5" y="92.0" font-size="11.5">1</text><text x="257.5" y="116.0" font-size="11.5">0</text><text x="257.5" y="137.5" font-size="11.5">−1</text><text x="257.5" y="160.2" font-size="11.5">−2</text><text x="1" y="11" font-size="13">A</text><text x="138" y="16.1" font-size="11.6" text-anchor="middle">cDC1</text><text x="138" y="29.7" font-size="11.6" text-anchor="middle">Log<tspan font-size="7.6" dy="3.2">2</tspan><tspan dy="-3.2">FC &gt; 0.25; P &lt; 0.05; 2512 DEGs</tspan></text><text x="58.2" y="51" font-size="11.6" text-anchor="middle">WT</text><text x="132.5" y="51" font-size="11.6" text-anchor="middle">RIPK3</text><text x="205" y="51" font-size="11.6" text-anchor="middle">BimS</text><path d="M612.6 129.1L367.0 62.2 M612.6 127.7L412.1 61.9 M612.6 125.7L454.7 62.0 M612.6 123.2L491.4 62.0 M616.2 175.6L491.4 62.0 M583.5 177.7L341.4 116.1 M583.5 176.0L374.6 115.9 M588.9 175.6L410.9 116.1 M592.2 84.9L410.9 116.1 M595.3 85.6L446.3 116.5 M615.2 253.6L446.3 116.5 M612.6 132.6L481.6 115.1 M612.6 131.7L517.5 115.6 M583.5 180.5L337.0 132.0 M583.5 179.0L376.8 132.2 M602.2 85.6L418.4 132.5 M614.4 253.6L454.8 132.0 M617.2 253.6L489.6 131.0 M612.6 134.8L523.7 130.8 M616.4 85.6L523.7 130.8 M600.9 85.6L345.7 148.0 M604.8 85.6L381.3 148.0 M608.7 85.6L418.0 147.9 M612.3 85.6L449.6 148.5 M615.1 85.6L475.5 148.5 M618.2 85.6L505.7 147.4 M594.5 256.1L313.1 190.0 M594.5 255.0L348.2 189.2 M595.1 253.6L387.0 187.8 M601.7 253.6L431.0 186.2 M617.9 85.6L431.0 186.2 M620.8 85.6L474.1 185.3 M612.6 143.6L474.1 185.3 M623.9 85.6L518.0 184.9 M626.4 85.6L553.4 184.4 M594.5 256.9L342.5 203.2 M616.8 85.6L380.9 203.2 M594.5 255.8L380.9 203.2 M594.5 254.2L417.9 202.5 M598.7 253.6L453.9 202.1 M623.2 85.6L488.7 201.4 M611.1 253.6L525.3 200.7 M627.5 85.6L559.8 200.3 M594.5 258.3L304.8 208.8 M594.5 259.1L315.9 218.3 M594.5 258.4L354.2 218.2 M594.5 257.6L389.7 218.2 M618.9 85.6L389.7 218.2 M594.5 255.8L432.3 216.0 M623.4 85.6L475.5 215.8 M604.8 253.6L520.6 215.8 M613.7 253.6L560.5 215.0 M594.5 263.4L349.0 259.0 M620.1 85.6L349.0 259.0 M621.5 85.6L382.6 258.8 M612.6 148.2L382.6 258.8 M623.0 85.6L418.9 258.8 M624.5 85.6L454.5 257.4 M626.3 85.6L497.7 257.4 M594.5 262.3L497.7 257.4 M594.5 265.6L367.6 276.2 M621.9 85.6L367.6 276.2 M623.3 85.6L404.0 276.2 M624.6 85.6L440.5 274.5 M626.2 85.6L481.8 273.8 M594.5 266.2L481.8 273.8" stroke="#d4d4d4" stroke-width="1.45" stroke-dasharray="5.6 2.4" fill="none"/><path d="M576.6 442.0L208.3 386.3 M576.6 441.4L251.0 387.0 M576.6 440.7L285.8 386.3 M576.6 440.0L323.2 386.7 M576.6 439.0L360.4 387.1 M577.2 438.1L395.4 388.8 M576.6 444.1L165.4 408.2 M576.6 443.4L249.8 408.5 M576.6 442.9L286.6 407.6 M576.6 442.4L323.9 408.0 M576.6 441.8L360.1 408.2 M576.6 441.1L397.6 409.3 M583.7 606.6L121.0 385.7 M580.5 606.6L125.5 409.1 M586.7 606.6L208.6 408.0 M586.6 606.6L166.0 386.4 M576.6 447.2L50.5 450.2 M575.4 521.3L50.5 450.2 M576.6 447.2L100.3 450.2 M575.4 520.9L100.3 450.2 M576.6 447.3L145.3 451.3 M575.4 520.4L145.3 451.3 M613.1 695.2L145.3 451.3 M576.6 447.3L189.1 450.8 M575.4 519.8L189.1 450.8 M577.6 606.6L189.1 450.8 M576.6 447.3L228.5 450.8 M581.1 606.6L228.5 450.8 M576.6 447.5L264.6 452.0 M575.4 518.6L264.6 452.0 M576.6 447.5L301.0 451.6 M576.6 447.5L338.9 451.3 M576.6 447.5L380.7 450.3 M576.6 447.5L419.7 449.9 M575.4 512.2L419.7 449.9 M576.6 447.6L467.1 449.5 M580.7 510.3L467.1 449.5 M624.4 695.2L467.1 449.5 M576.6 448.4L46.2 470.0 M608.0 695.2L46.2 470.0 M576.6 448.4L99.5 468.7 M610.2 695.2L99.5 468.7 M576.6 448.7L145.3 471.0 M575.4 521.9L145.3 471.0 M576.6 448.9L189.5 471.2 M576.6 448.9L228.4 469.1 M577.0 606.6L228.4 469.1 M576.6 449.4L263.0 471.5 M579.9 606.6L263.0 471.5 M576.6 449.6L300.1 471.3 M575.4 519.9L300.1 471.3 M583.7 606.6L300.1 471.3 M576.6 449.7L337.4 469.1 M575.4 518.8L337.4 469.1 M576.6 450.3L378.9 470.0 M576.6 450.9L419.5 469.3 M576.6 452.0L461.2 469.3 M576.6 450.5L190.1 490.9 M575.4 523.1L190.1 490.9 M576.6 609.9L190.1 490.9 M576.6 450.9L229.5 491.7 M575.4 522.9L229.5 491.7 M576.6 608.7L229.5 491.7 M576.6 451.3L267.0 491.1 M576.6 607.2L267.0 491.1 M576.6 451.8L301.5 491.4 M575.4 522.1L301.5 491.4 M576.6 452.4L339.1 491.1 M576.6 453.3L379.2 490.2 M575.4 520.6L379.2 490.2 M578.6 454.2L417.8 491.1 M621.2 695.2L417.8 491.1 M585.7 454.2L463.0 490.6 M575.4 517.7L463.0 490.6 M623.1 695.2L463.0 490.6 M576.6 452.7L229.8 511.9 M576.6 453.4L272.4 511.2 M576.6 609.3L272.4 511.2 M578.3 454.2L321.9 512.4 M576.6 607.3L321.9 512.4 M583.3 454.2L369.3 512.0 M588.9 454.2L418.0 512.6 M620.3 695.2L418.0 512.6 M593.9 454.2L463.6 512.6 M575.4 522.8L463.6 512.6 M622.3 695.2L463.6 512.6 M578.8 454.2L231.4 534.4 M609.3 695.2L231.4 534.4 M581.9 454.2L272.6 533.4 M611.6 695.2L272.6 533.4 M585.8 454.2L315.6 534.6 M605.7 695.2L45.0 492.3 M608.0 695.2L98.0 491.3 M609.8 695.2L144.3 491.9 M602.8 695.2L43.5 514.5 M605.1 695.2L96.2 515.3 M607.6 695.2L145.1 513.9 M609.6 695.2L188.2 513.6 M599.2 695.2L42.5 536.0 M602.0 695.2L95.8 536.0 M604.5 695.2L142.7 535.8 M606.9 695.2L187.4 535.4 M588.4 695.2L50.6 581.3 M592.2 695.2L105.0 581.7 M595.8 695.2L149.3 580.4 M604.6 695.2L269.9 579.0 M610.6 695.2L349.2 576.7 M575.4 532.7L349.2 576.7 M613.3 695.2L389.1 577.0 M575.4 534.0L389.1 577.0 M616.4 695.2L433.8 577.5 M575.4 536.1L433.8 577.5 M579.2 695.2L52.9 604.0 M584.0 695.2L106.2 603.9 M588.8 695.2L149.6 601.4 M599.9 695.2L277.8 600.9 M576.6 619.5L277.8 600.9 M594.5 454.2L277.8 600.9 M607.0 695.2L358.7 600.0 M575.4 536.2L358.7 600.0 M614.5 695.2L441.7 597.2 M576.6 616.4L441.7 597.2 M576.6 696.9L48.0 626.8 M576.6 696.4L88.6 626.5 M592.6 695.2L275.1 620.5 M596.7 695.2L311.7 620.0 M575.4 536.9L311.7 620.0 M601.0 695.2L353.9 620.1 M575.4 538.7L353.9 620.1 M576.6 698.7L53.2 646.4 M576.6 698.5L99.1 649.0 M576.6 697.6L143.8 645.5 M588.4 695.2L326.7 639.8 M575.4 539.9L326.7 639.8 M593.6 695.2L366.4 640.2 M600.9 454.2L366.4 640.2 M600.0 695.2L407.3 638.7 M602.4 454.2L407.3 638.7 M576.6 700.7L52.4 667.8 M576.6 700.4L99.3 668.4 M576.6 700.0L140.8 667.0 M576.6 699.4L178.4 665.0 M576.6 698.8L220.3 664.4 M576.6 697.9L263.6 661.9 M598.4 454.2L263.6 661.9 M575.4 538.3L402.8 599.7 M576.6 617.9L402.8 599.7 M600.2 454.2L402.8 599.7 M578.5 540.0L401.4 618.8 M576.6 621.4L401.4 618.8 M601.3 454.2L401.4 618.8 M575.4 534.9L320.3 600.6 M576.6 619.1L320.3 600.6 M576.6 618.2L188.7 580.8 M576.6 617.6L234.6 579.0 M576.6 616.6L305.7 579.1 M593.4 454.2L305.7 579.1 M576.6 620.1L189.4 601.3 M576.6 619.7L235.5 600.1 M576.6 608.7L484.0 577.5 M576.6 614.8L487.2 598.3 M576.6 622.2L123.0 623.9 M576.6 621.9L158.1 621.3 M576.6 621.8L197.0 620.1 M576.6 621.8L234.6 620.1 M576.6 620.9L453.1 617.5 M603.4 454.2L453.1 617.5 M576.6 620.1L498.0 616.3 M605.2 454.2L498.0 616.3 M576.6 624.1L187.5 644.5 M576.6 624.2L235.0 643.1 M576.6 624.5L282.1 643.2 M598.0 454.2L282.1 643.2 M576.6 625.5L447.8 636.9 M603.9 454.2L447.8 636.9 M576.6 626.6L490.8 636.7 M605.5 454.2L490.8 636.7 M576.6 627.2L312.6 662.3 M576.6 628.4L368.4 662.0 M601.9 454.2L368.4 662.0 M576.6 629.7L417.8 660.7 M603.5 454.2L417.8 660.7 M576.6 631.3L461.2 658.5 M604.9 454.2L461.2 658.5 M576.6 633.7L498.2 657.1 M606.2 454.2L498.2 657.1 M576.6 704.5L117.2 709.0 M576.6 704.7L156.2 710.0 M576.6 629.5L156.2 710.0 M576.6 705.0L195.7 711.9 M598.7 454.2L195.7 711.9 M576.6 705.0L237.6 711.3 M576.6 631.3L237.6 711.3 M576.6 705.2L274.7 712.2 M600.9 454.2L274.7 712.2 M576.6 705.2L312.2 711.2 M601.9 454.2L312.2 711.2 M576.6 705.3L346.3 710.8 M576.6 635.0L346.3 710.8 M576.6 705.2L386.2 709.6 M603.9 454.2L386.2 709.6 M576.6 705.1L430.6 708.0 M605.1 454.2L430.6 708.0 M580.2 638.6L430.6 708.0 M576.6 706.8L122.0 730.5 M576.6 707.2L167.9 732.1 M576.6 707.6L227.4 730.9 M576.6 708.0L274.5 730.9 M601.5 454.2L274.5 730.9 M576.6 708.2L315.1 728.9 M602.5 454.2L315.1 728.9 M576.6 708.9L351.9 729.7 M603.4 454.2L351.9 729.7 M576.6 638.1L351.9 729.7 M576.6 709.9L392.7 730.3 M604.5 454.2L392.7 730.3 M576.6 710.5L437.4 727.3 M605.6 454.2L437.4 727.3 M587.8 638.6L437.4 727.3" stroke="#d4d4d4" stroke-width="1.45" stroke-dasharray="5.6 2.4" fill="none"/><path d="M601.5 510.3L555 383.6" stroke="#d4d4d4" stroke-width="1.6" stroke-dasharray="5.6 2.4" fill="none"/><path d="M120 441.4H577M150 440.2H577" stroke="#d4d4d4" stroke-width="1.5" stroke-dasharray="5.6 2.4" fill="none"/><path d="M289.8 40.0H574.2" stroke="#666" stroke-width="1.1"/><path d="M289.8 92.8H574.2" stroke="#666" stroke-width="1.1"/><path d="M289.8 165.0H574.2" stroke="#666" stroke-width="1.1"/><path d="M289.8 240.1H574.2" stroke="#666" stroke-width="1.1"/><path d="M21.9 357.8H515.2" stroke="#666" stroke-width="1.1"/><path d="M21.9 422.2H515.2" stroke="#666" stroke-width="1.1"/><path d="M21.9 553.4H515.2" stroke="#666" stroke-width="1.1"/><path d="M21.9 688.4H515.2" stroke="#666" stroke-width="1.1"/><ellipse cx="367.0" cy="62.2" rx="17.0" ry="6.8" fill="#e1747a" stroke="#3a3a3a" stroke-width="1.0"/><text transform="translate(367.0 65.0) scale(0.92 1)" font-size="7.9" text-anchor="middle" fill="#222">COL6A6</text><ellipse cx="412.1" cy="61.9" rx="19.0" ry="5.9" fill="#f6e1e1" stroke="#3a3a3a" stroke-width="1.0"/><text transform="translate(412.1 64.7) scale(0.92 1)" font-size="7.9" text-anchor="middle" fill="#222">COL17A1</text><ellipse cx="454.7" cy="62.0" rx="16.4" ry="5.9" fill="#eaaaae" stroke="#3a3a3a" stroke-width="1.0"/><text transform="translate(454.7 64.8) scale(0.92 1)" font-size="7.9" text-anchor="middle" fill="#222">COL5A1</text><ellipse cx="491.4" cy="62.0" rx="14.2" ry="6.5" fill="#f5dcdc" stroke="#3a3a3a" stroke-width="1.0"/><text transform="translate(491.4 64.8) scale(0.92 1)" font-size="7.9" text-anchor="middle" fill="#222">TGFBI</text><ellipse cx="341.4" cy="116.1" rx="12.0" ry="6.6" fill="#f6e1e1" stroke="#3a3a3a" stroke-width="1.0"/><text transform="translate(341.4 118.9) scale(0.92 1)" font-size="7.9" text-anchor="middle" fill="#222">NRP1</text><ellipse cx="374.6" cy="115.9" rx="14.2" ry="5.3" fill="#eaaaae" stroke="#3a3a3a" stroke-width="1.0"/><text transform="translate(374.6 118.7) scale(0.92 1)" font-size="7.9" text-anchor="middle" fill="#222">NRP2</text><ellipse cx="410.9" cy="116.1" rx="18.0" ry="7.1" fill="#e1747a" stroke="#3a3a3a" stroke-width="1.0"/><text transform="translate(410.9 118.9) scale(0.92 1)" font-size="7.9" text-anchor="middle" fill="#222">PLXNB1</text><ellipse cx="446.3" cy="116.5" rx="12.4" ry="6.2" fill="#e69499" stroke="#3a3a3a" stroke-width="1.0"/><text transform="translate(446.3 119.3) scale(0.92 1)" font-size="7.9" text-anchor="middle" fill="#222">CAV1</text><ellipse cx="481.6" cy="115.1" rx="18.5" ry="6.7" fill="#eebec1" stroke="#3a3a3a" stroke-width="1.0"/><text transform="translate(481.6 117.9) scale(0.92 1)" font-size="7.9" text-anchor="middle" fill="#222">COL23A1</text><ellipse cx="517.5" cy="115.6" rx="13.5" ry="4.9" fill="#f5dcdc" stroke="#3a3a3a" stroke-width="1.0"/><text transform="translate(517.5 118.4) scale(0.92 1)" font-size="7.9" text-anchor="middle" fill="#222">DST</text><ellipse cx="337.0" cy="132.0" rx="17.0" ry="6.5" fill="#f0c9cb" stroke="#3a3a3a" stroke-width="1.0"/><text transform="translate(337.0 134.8) scale(0.92 1)" font-size="7.9" text-anchor="middle" fill="#222">SEMA4D</text><ellipse cx="376.8" cy="132.2" rx="19.7" ry="5.5" fill="#eebec1" stroke="#3a3a3a" stroke-width="1.0"/><text transform="translate(376.8 135.0) scale(0.92 1)" font-size="7.9" text-anchor="middle" fill="#222">PLXNA1</text><ellipse cx="418.4" cy="132.5" rx="16.2" ry="6.3" fill="#f2d0d2" stroke="#3a3a3a" stroke-width="1.0"/><text transform="translate(418.4 135.3) scale(0.92 1)" font-size="7.9" text-anchor="middle" fill="#222">SCN1B</text><ellipse cx="454.8" cy="132.0" rx="14.8" ry="7.0" fill="#f6e0e0" stroke="#3a3a3a" stroke-width="1.0"/><text transform="translate(454.8 134.8) scale(0.92 1)" font-size="7.9" text-anchor="middle" fill="#222">NCEH1</text><ellipse cx="489.6" cy="131.0" rx="15.1" ry="5.5" fill="#f6e0e0" stroke="#3a3a3a" stroke-width="1.0"/><text transform="translate(489.6 133.8) scale(0.92 1)" font-size="7.9" text-anchor="middle" fill="#222">LDLR</text><ellipse cx="523.7" cy="130.8" rx="15.3" ry="5.7" fill="#e69499" stroke="#3a3a3a" stroke-width="1.0"/><text transform="translate(523.7 133.6) scale(0.92 1)" font-size="7.9" text-anchor="middle" fill="#222">ITGB8</text><ellipse cx="345.7" cy="148.0" rx="15.8" ry="6.6" fill="#e1747a" stroke="#3a3a3a" stroke-width="1.0"/><text transform="translate(345.7 150.8) scale(0.92 1)" font-size="7.9" text-anchor="middle" fill="#222">PTPN5</text><ellipse cx="381.3" cy="148.0" rx="13.7" ry="6.4" fill="#f6e0e0" stroke="#3a3a3a" stroke-width="1.0"/><text transform="translate(381.3 150.8) scale(0.92 1)" font-size="7.9" text-anchor="middle" fill="#222">IL18R1</text><ellipse cx="418.0" cy="147.9" rx="18.0" ry="7.1" fill="#f6e0e0" stroke="#3a3a3a" stroke-width="1.0"/><text transform="translate(418.0 150.7) scale(0.92 1)" font-size="7.9" text-anchor="middle" fill="#222">IL18RAP</text><ellipse cx="449.6" cy="148.5" rx="11.3" ry="6.1" fill="#f6e0e0" stroke="#3a3a3a" stroke-width="1.0"/><text transform="translate(449.6 151.3) scale(0.92 1)" font-size="7.9" text-anchor="middle" fill="#222">TLR3</text><ellipse cx="475.5" cy="148.5" rx="11.4" ry="6.1" fill="#f6e0e0" stroke="#3a3a3a" stroke-width="1.0"/><text transform="translate(475.5 151.3) scale(0.92 1)" font-size="7.9" text-anchor="middle" fill="#222">TLR6</text><ellipse cx="505.7" cy="147.4" rx="15.9" ry="5.9" fill="#f6e0e0" stroke="#3a3a3a" stroke-width="1.0"/><text transform="translate(505.7 150.2) scale(0.92 1)" font-size="7.9" text-anchor="middle" fill="#222">ANXA2</text><ellipse cx="313.1" cy="190.0" rx="19.5" ry="6.6" fill="#f6e0e0" stroke="#3a3a3a" stroke-width="1.0"/><text transform="translate(313.1 192.8) scale(0.92 1)" font-size="7.9" text-anchor="middle" fill="#222">HMGCS1</text><ellipse cx="348.2" cy="189.2" rx="13.9" ry="6.2" fill="#e69499" stroke="#3a3a3a" stroke-width="1.0"/><text transform="translate(348.2 192.0) scale(0.92 1)" font-size="7.9" text-anchor="middle" fill="#222">DGKI</text><ellipse cx="387.0" cy="187.8" rx="21.7" ry="7.0" fill="#e69499" stroke="#3a3a3a" stroke-width="1.0"/><text transform="translate(387.0 190.6) scale(0.92 1)" font-size="7.9" text-anchor="middle" fill="#222">B3GALNT1</text><ellipse cx="431.0" cy="186.2" rx="18.3" ry="6.0" fill="#f6e0e0" stroke="#3a3a3a" stroke-width="1.0"/><text transform="translate(431.0 189.0) scale(0.92 1)" font-size="7.9" text-anchor="middle" fill="#222">NPC1</text><ellipse cx="474.1" cy="185.3" rx="22.2" ry="5.8" fill="#f6e0e0" stroke="#3a3a3a" stroke-width="1.0"/><text transform="translate(474.1 188.1) scale(0.92 1)" font-size="7.9" text-anchor="middle" fill="#222">SMURF1</text><ellipse cx="518.0" cy="184.9" rx="18.8" ry="6.2" fill="#f6e0e0" stroke="#3a3a3a" stroke-width="1.0"/><text transform="translate(518.0 187.7) scale(0.92 1)" font-size="7.9" text-anchor="middle" fill="#222">MAP3K8</text><ellipse cx="553.4" cy="184.4" rx="13.9" ry="5.7" fill="#f6e0e0" stroke="#3a3a3a" stroke-width="1.0"/><text transform="translate(553.4 187.2) scale(0.92 1)" font-size="7.9" text-anchor="middle" fill="#222">BAX</text><ellipse cx="342.5" cy="203.2" rx="20.2" ry="5.5" fill="#f2d0d2" stroke="#3a3a3a" stroke-width="1.0"/><text transform="translate(342.5 206.0) scale(0.92 1)" font-size="7.9" text-anchor="middle" fill="#222">SQLE</text><ellipse cx="380.9" cy="203.2" rx="17.3" ry="5.5" fill="#f6e0e0" stroke="#3a3a3a" stroke-width="1.0"/><text transform="translate(380.9 206.0) scale(0.92 1)" font-size="7.9" text-anchor="middle" fill="#222">SPHK1</text><ellipse cx="417.9" cy="202.5" rx="16.8" ry="5.5" fill="#e69499" stroke="#3a3a3a" stroke-width="1.0"/><text transform="translate(417.9 205.3) scale(0.92 1)" font-size="7.9" text-anchor="middle" fill="#222">FAR2</text><ellipse cx="453.9" cy="202.1" rx="16.6" ry="5.9" fill="#f6e0e0" stroke="#3a3a3a" stroke-width="1.0"/><text transform="translate(453.9 204.9) scale(0.92 1)" font-size="7.9" text-anchor="middle" fill="#222">GLA</text><ellipse cx="488.7" cy="201.4" rx="16.4" ry="5.1" fill="#f6e0e0" stroke="#3a3a3a" stroke-width="1.0"/><text transform="translate(488.7 204.2) scale(0.92 1)" font-size="7.9" text-anchor="middle" fill="#222">Tlr13</text><ellipse cx="525.3" cy="200.7" rx="18.0" ry="5.1" fill="#f6e0e0" stroke="#3a3a3a" stroke-width="1.0"/><text transform="translate(525.3 203.5) scale(0.92 1)" font-size="7.9" text-anchor="middle" fill="#222">DAPK1</text><ellipse cx="559.8" cy="200.3" rx="14.4" ry="5.7" fill="#f6e0e0" stroke="#3a3a3a" stroke-width="1.0"/><text transform="translate(559.8 203.1) scale(0.92 1)" font-size="7.9" text-anchor="middle" fill="#222">Casp1</text><ellipse cx="304.8" cy="208.8" rx="14.2" ry="5.3" fill="#f6e0e0" stroke="#3a3a3a" stroke-width="1.0"/><text transform="translate(304.8 211.6) scale(0.92 1)" font-size="7.9" text-anchor="middle" fill="#222">LSS</text><ellipse cx="315.9" cy="218.3" rx="20.6" ry="4.6" fill="#f6e0e0" stroke="#3a3a3a" stroke-width="1.0"/><text transform="translate(315.9 221.1) scale(0.92 1)" font-size="7.9" text-anchor="middle" fill="#222">H5D3B7</text><ellipse cx="354.2" cy="218.2" rx="15.1" ry="5.8" fill="#f6e0e0" stroke="#3a3a3a" stroke-width="1.0"/><text transform="translate(354.2 221.0) scale(0.92 1)" font-size="7.9" text-anchor="middle" fill="#222">GBA2</text><ellipse cx="389.7" cy="218.2" rx="17.7" ry="5.8" fill="#f6e0e0" stroke="#3a3a3a" stroke-width="1.0"/><text transform="translate(389.7 221.0) scale(0.92 1)" font-size="7.9" text-anchor="middle" fill="#222">FABP5</text><ellipse cx="432.3" cy="216.0" rx="21.3" ry="6.3" fill="#f6e0e0" stroke="#3a3a3a" stroke-width="1.0"/><text transform="translate(432.3 218.8) scale(0.92 1)" font-size="7.9" text-anchor="middle" fill="#222">ST3GAL5</text><ellipse cx="475.5" cy="215.8" rx="19.7" ry="6.6" fill="#e1747a" stroke="#3a3a3a" stroke-width="1.0"/><text transform="translate(475.5 218.6) scale(0.92 1)" font-size="7.9" text-anchor="middle" fill="#222">CHMP4C</text><ellipse cx="520.6" cy="215.8" rx="22.8" ry="5.0" fill="#f6e0e0" stroke="#3a3a3a" stroke-width="1.0"/><text transform="translate(520.6 218.6) scale(0.92 1)" font-size="7.9" text-anchor="middle" fill="#222">ZDHHC14</text><ellipse cx="560.5" cy="215.0" rx="14.3" ry="6.1" fill="#f6e0e0" stroke="#3a3a3a" stroke-width="1.0"/><text transform="translate(560.5 217.8) scale(0.92 1)" font-size="7.9" text-anchor="middle" fill="#222">PIDD1</text><ellipse cx="349.0" cy="259.0" rx="14.7" ry="6.5" fill="#e1747a" stroke="#3a3a3a" stroke-width="1.0"/><text transform="translate(349.0 261.8) scale(0.92 1)" font-size="7.9" text-anchor="middle" fill="#222">HNF1B</text><ellipse cx="382.6" cy="258.8" rx="14.6" ry="6.2" fill="#f6e0e0" stroke="#3a3a3a" stroke-width="1.0"/><text transform="translate(382.6 261.6) scale(0.92 1)" font-size="7.9" text-anchor="middle" fill="#222">SMAD3</text><ellipse cx="418.9" cy="258.8" rx="15.0" ry="6.2" fill="#f6e0e0" stroke="#3a3a3a" stroke-width="1.0"/><text transform="translate(418.9 261.6) scale(0.92 1)" font-size="7.9" text-anchor="middle" fill="#222">Nlrp1b</text><ellipse cx="454.5" cy="257.4" rx="16.6" ry="5.9" fill="#f6e0e0" stroke="#3a3a3a" stroke-width="1.0"/><text transform="translate(454.5 260.2) scale(0.92 1)" font-size="7.9" text-anchor="middle" fill="#222">MEFV</text><ellipse cx="497.7" cy="257.4" rx="22.2" ry="5.9" fill="#eebec1" stroke="#3a3a3a" stroke-width="1.0"/><text transform="translate(497.7 260.2) scale(0.92 1)" font-size="7.9" text-anchor="middle" fill="#222">UBE2V1</text><ellipse cx="367.6" cy="276.2" rx="14.7" ry="6.3" fill="#f6e0e0" stroke="#3a3a3a" stroke-width="1.0"/><text transform="translate(367.6 279.0) scale(0.92 1)" font-size="7.9" text-anchor="middle" fill="#222">NFYA</text><ellipse cx="404.0" cy="276.2" rx="15.0" ry="6.3" fill="#f6e0e0" stroke="#3a3a3a" stroke-width="1.0"/><text transform="translate(404.0 279.0) scale(0.92 1)" font-size="7.9" text-anchor="middle" fill="#222">PIAS3</text><ellipse cx="440.5" cy="274.5" rx="14.7" ry="6.2" fill="#f6e0e0" stroke="#3a3a3a" stroke-width="1.0"/><text transform="translate(440.5 277.3) scale(0.92 1)" font-size="7.9" text-anchor="middle" fill="#222">IRF1</text><ellipse cx="481.8" cy="273.8" rx="22.7" ry="6.6" fill="#f6e0e0" stroke="#3a3a3a" stroke-width="1.0"/><text transform="translate(481.8 276.6) scale(0.92 1)" font-size="7.9" text-anchor="middle" fill="#222">TP53INP2</text><ellipse cx="121.0" cy="385.7" rx="20.0" ry="6.7" fill="#e03434" stroke="#3a3a3a" stroke-width="1.0"/><text transform="translate(121.0 388.7) scale(0.92 1)" font-size="8.5" text-anchor="middle" fill="#222">COL18A1</text><ellipse cx="166.0" cy="386.4" rx="17.9" ry="5.8" fill="#f6e0e0" stroke="#3a3a3a" stroke-width="1.0"/><text transform="translate(166.0 389.4) scale(0.92 1)" font-size="8.5" text-anchor="middle" fill="#222">COL4A1</text><ellipse cx="208.3" cy="386.3" rx="17.4" ry="7.0" fill="#e1747a" stroke="#3a3a3a" stroke-width="1.0"/><text transform="translate(208.3 389.3) scale(0.92 1)" font-size="8.5" text-anchor="middle" fill="#222">LTBP4</text><ellipse cx="251.0" cy="387.0" rx="12.9" ry="6.4" fill="#f0c5c8" stroke="#3a3a3a" stroke-width="1.0"/><text transform="translate(251.0 390.0) scale(0.92 1)" font-size="8.5" text-anchor="middle" fill="#222">AREG</text><ellipse cx="285.8" cy="386.3" rx="15.8" ry="6.4" fill="#f2d0d2" stroke="#3a3a3a" stroke-width="1.0"/><text transform="translate(285.8 389.3) scale(0.92 1)" font-size="8.5" text-anchor="middle" fill="#222">GDF15</text><ellipse cx="323.2" cy="386.7" rx="15.8" ry="7.4" fill="#f6e0e0" stroke="#3a3a3a" stroke-width="1.0"/><text transform="translate(323.2 389.7) scale(0.92 1)" font-size="8.5" text-anchor="middle" fill="#222">FGF11</text><ellipse cx="360.4" cy="387.1" rx="11.2" ry="6.6" fill="#f2d0d2" stroke="#3a3a3a" stroke-width="1.0"/><text transform="translate(360.4 390.1) scale(0.92 1)" font-size="8.5" text-anchor="middle" fill="#222">PGF</text><ellipse cx="395.4" cy="388.8" rx="12.3" ry="5.3" fill="#f4d8d9" stroke="#3a3a3a" stroke-width="1.0"/><text transform="translate(395.4 391.8) scale(0.92 1)" font-size="8.5" text-anchor="middle" fill="#222">CCL2</text><ellipse cx="125.5" cy="409.1" rx="17.2" ry="5.5" fill="#f6e0e0" stroke="#3a3a3a" stroke-width="1.0"/><text transform="translate(125.5 412.1) scale(0.92 1)" font-size="8.5" text-anchor="middle" fill="#222">LAMB2</text><ellipse cx="165.4" cy="408.2" rx="14.7" ry="8.0" fill="#f6e0e0" stroke="#3a3a3a" stroke-width="1.0"/><text transform="translate(165.4 411.2) scale(0.92 1)" font-size="8.5" text-anchor="middle" fill="#222">OSM</text><ellipse cx="208.6" cy="408.0" rx="23.1" ry="6.4" fill="#f6e0e0" stroke="#3a3a3a" stroke-width="1.0"/><text transform="translate(208.6 411.0) scale(0.92 1)" font-size="8.5" text-anchor="middle" fill="#222">SERPINF1</text><ellipse cx="249.8" cy="408.5" rx="14.0" ry="7.0" fill="#e8a1a6" stroke="#3a3a3a" stroke-width="1.0"/><text transform="translate(249.8 411.5) scale(0.92 1)" font-size="8.5" text-anchor="middle" fill="#222">RELN</text><ellipse cx="286.6" cy="407.6" rx="12.6" ry="6.8" fill="#eebec1" stroke="#3a3a3a" stroke-width="1.0"/><text transform="translate(286.6 410.6) scale(0.92 1)" font-size="8.5" text-anchor="middle" fill="#222">ARTN</text><ellipse cx="323.9" cy="408.0" rx="15.5" ry="5.8" fill="#eebec1" stroke="#3a3a3a" stroke-width="1.0"/><text transform="translate(323.9 411.0) scale(0.92 1)" font-size="8.5" text-anchor="middle" fill="#222">BMP6</text><ellipse cx="360.1" cy="408.2" rx="10.9" ry="6.7" fill="#f2d0d2" stroke="#3a3a3a" stroke-width="1.0"/><text transform="translate(360.1 411.2) scale(0.92 1)" font-size="8.5" text-anchor="middle" fill="#222">IL11</text><ellipse cx="397.6" cy="409.3" rx="16.1" ry="6.2" fill="#f6e0e0" stroke="#3a3a3a" stroke-width="1.0"/><text transform="translate(397.6 412.3) scale(0.92 1)" font-size="8.5" text-anchor="middle" fill="#222">CLCF1</text><ellipse cx="555.0" cy="383.6" rx="19.0" ry="5.8" fill="#f6e0e0" stroke="#3a3a3a" stroke-width="1.0"/><text transform="translate(555.0 386.6) scale(0.92 1)" font-size="8.5" text-anchor="middle" fill="#222">DUSP28</text><ellipse cx="50.5" cy="450.2" rx="23.7" ry="6.8" fill="#f6e0e0" stroke="#3a3a3a" stroke-width="1.0"/><text transform="translate(50.5 453.2) scale(0.92 1)" font-size="8.5" text-anchor="middle" fill="#222">OSBPL3</text><ellipse cx="100.3" cy="450.2" rx="17.9" ry="6.8" fill="#f6e0e0" stroke="#3a3a3a" stroke-width="1.0"/><text transform="translate(100.3 453.2) scale(0.92 1)" font-size="8.5" text-anchor="middle" fill="#222">INPP5B</text><ellipse cx="145.3" cy="451.3" rx="22.4" ry="7.9" fill="#f6e0e0" stroke="#3a3a3a" stroke-width="1.0"/><text transform="translate(145.3 454.3) scale(0.92 1)" font-size="8.5" text-anchor="middle" fill="#222">PLA2G4C</text><ellipse cx="189.1" cy="450.8" rx="18.1" ry="6.8" fill="#f6e0e0" stroke="#3a3a3a" stroke-width="1.0"/><text transform="translate(189.1 453.8) scale(0.92 1)" font-size="8.5" text-anchor="middle" fill="#222">ITGA5</text><ellipse cx="228.5" cy="450.8" rx="16.1" ry="6.8" fill="#f2d0d2" stroke="#3a3a3a" stroke-width="1.0"/><text transform="translate(228.5 453.8) scale(0.92 1)" font-size="8.5" text-anchor="middle" fill="#222">ITGA9</text><ellipse cx="264.6" cy="452.0" rx="18.1" ry="8.0" fill="#e1747a" stroke="#3a3a3a" stroke-width="1.0"/><text transform="translate(264.6 455.0) scale(0.92 1)" font-size="8.5" text-anchor="middle" fill="#222">MERTK</text><ellipse cx="301.0" cy="451.6" rx="15.8" ry="8.5" fill="#eaaaae" stroke="#3a3a3a" stroke-width="1.0"/><text transform="translate(301.0 454.6) scale(0.92 1)" font-size="8.5" text-anchor="middle" fill="#222">GFRA2</text><ellipse cx="338.9" cy="451.3" rx="19.9" ry="6.8" fill="#eaaaae" stroke="#3a3a3a" stroke-width="1.0"/><text transform="translate(338.9 454.3) scale(0.92 1)" font-size="8.5" text-anchor="middle" fill="#222">CRTAM</text><ellipse cx="380.7" cy="450.3" rx="17.3" ry="5.8" fill="#f6e0e0" stroke="#3a3a3a" stroke-width="1.0"/><text transform="translate(380.7 453.3) scale(0.92 1)" font-size="8.5" text-anchor="middle" fill="#222">CD6</text><ellipse cx="419.7" cy="449.9" rx="16.9" ry="7.0" fill="#e69499" stroke="#3a3a3a" stroke-width="1.0"/><text transform="translate(419.7 452.9) scale(0.92 1)" font-size="8.5" text-anchor="middle" fill="#222">GPR3</text><ellipse cx="467.1" cy="449.5" rx="22.2" ry="7.4" fill="#f2d0d2" stroke="#3a3a3a" stroke-width="1.0"/><text transform="translate(467.1 452.5) scale(0.92 1)" font-size="8.5" text-anchor="middle" fill="#222">GPRC5A</text><ellipse cx="46.2" cy="470.0" rx="22.2" ry="7.2" fill="#f6e0e0" stroke="#3a3a3a" stroke-width="1.0"/><text transform="translate(46.2 473.0) scale(0.92 1)" font-size="8.5" text-anchor="middle" fill="#222">SLC39A14</text><ellipse cx="99.5" cy="468.7" rx="18.7" ry="5.5" fill="#ecb2b6" stroke="#3a3a3a" stroke-width="1.0"/><text transform="translate(99.5 471.7) scale(0.92 1)" font-size="8.5" text-anchor="middle" fill="#222">SLC5A5</text><ellipse cx="145.3" cy="471.0" rx="13.8" ry="6.2" fill="#f6e0e0" stroke="#3a3a3a" stroke-width="1.0"/><text transform="translate(145.3 474.0) scale(0.92 1)" font-size="8.5" text-anchor="middle" fill="#222">SMO</text><ellipse cx="189.5" cy="471.2" rx="15.4" ry="6.7" fill="#f6e0e0" stroke="#3a3a3a" stroke-width="1.0"/><text transform="translate(189.5 474.2) scale(0.92 1)" font-size="8.5" text-anchor="middle" fill="#222">ADAM9</text><ellipse cx="228.4" cy="469.1" rx="14.6" ry="7.6" fill="#f6e0e0" stroke="#3a3a3a" stroke-width="1.0"/><text transform="translate(228.4 472.1) scale(0.92 1)" font-size="8.5" text-anchor="middle" fill="#222">RHOH</text><ellipse cx="263.0" cy="471.5" rx="13.7" ry="6.4" fill="#e1747a" stroke="#3a3a3a" stroke-width="1.0"/><text transform="translate(263.0 474.5) scale(0.92 1)" font-size="8.5" text-anchor="middle" fill="#222">CDH5</text><ellipse cx="300.1" cy="471.3" rx="16.6" ry="7.4" fill="#f6e0e0" stroke="#3a3a3a" stroke-width="1.0"/><text transform="translate(300.1 474.3) scale(0.92 1)" font-size="8.5" text-anchor="middle" fill="#222">EPHA2</text><ellipse cx="337.4" cy="469.1" rx="15.5" ry="6.4" fill="#f6e0e0" stroke="#3a3a3a" stroke-width="1.0"/><text transform="translate(337.4 472.1) scale(0.92 1)" font-size="8.5" text-anchor="middle" fill="#222">IL2RA</text><ellipse cx="378.9" cy="470.0" rx="15.4" ry="6.1" fill="#eaaaae" stroke="#3a3a3a" stroke-width="1.0"/><text transform="translate(378.9 473.0) scale(0.92 1)" font-size="8.5" text-anchor="middle" fill="#222">IL2RB</text><ellipse cx="419.5" cy="469.3" rx="16.0" ry="7.0" fill="#f6e0e0" stroke="#3a3a3a" stroke-width="1.0"/><text transform="translate(419.5 472.3) scale(0.92 1)" font-size="8.5" text-anchor="middle" fill="#222">Ccr5</text><ellipse cx="461.2" cy="469.3" rx="15.2" ry="7.0" fill="#f6e0e0" stroke="#3a3a3a" stroke-width="1.0"/><text transform="translate(461.2 472.3) scale(0.92 1)" font-size="8.5" text-anchor="middle" fill="#222">CCR2</text><ellipse cx="45.0" cy="492.3" rx="19.2" ry="6.8" fill="#f6e0e0" stroke="#3a3a3a" stroke-width="1.0"/><text transform="translate(45.0 495.3) scale(0.92 1)" font-size="8.5" text-anchor="middle" fill="#222">SLC1A4</text><ellipse cx="98.0" cy="491.3" rx="19.9" ry="7.0" fill="#f6e0e0" stroke="#3a3a3a" stroke-width="1.0"/><text transform="translate(98.0 494.3) scale(0.92 1)" font-size="8.5" text-anchor="middle" fill="#222">SLC2A3</text><ellipse cx="144.3" cy="491.9" rx="17.0" ry="7.6" fill="#f6e0e0" stroke="#3a3a3a" stroke-width="1.0"/><text transform="translate(144.3 494.9) scale(0.92 1)" font-size="8.5" text-anchor="middle" fill="#222">TLCD2</text><ellipse cx="190.1" cy="490.9" rx="16.7" ry="7.0" fill="#f6e0e0" stroke="#3a3a3a" stroke-width="1.0"/><text transform="translate(190.1 493.9) scale(0.92 1)" font-size="8.5" text-anchor="middle" fill="#222">DOCK4</text><ellipse cx="229.5" cy="491.7" rx="16.9" ry="7.8" fill="#f6e0e0" stroke="#3a3a3a" stroke-width="1.0"/><text transform="translate(229.5 494.7) scale(0.92 1)" font-size="8.5" text-anchor="middle" fill="#222">CD81</text><ellipse cx="267.0" cy="491.1" rx="16.1" ry="6.8" fill="#f6e0e0" stroke="#3a3a3a" stroke-width="1.0"/><text transform="translate(267.0 494.1) scale(0.92 1)" font-size="8.5" text-anchor="middle" fill="#222">AVIL</text><ellipse cx="301.5" cy="491.4" rx="16.4" ry="8.2" fill="#f6e0e0" stroke="#3a3a3a" stroke-width="1.0"/><text transform="translate(301.5 494.4) scale(0.92 1)" font-size="8.5" text-anchor="middle" fill="#222">FRS3</text><ellipse cx="339.1" cy="491.1" rx="15.0" ry="6.8" fill="#e1747a" stroke="#3a3a3a" stroke-width="1.0"/><text transform="translate(339.1 494.1) scale(0.92 1)" font-size="8.5" text-anchor="middle" fill="#222">IL9R</text><ellipse cx="379.2" cy="490.2" rx="13.4" ry="8.2" fill="#f6e0e0" stroke="#3a3a3a" stroke-width="1.0"/><text transform="translate(379.2 493.2) scale(0.92 1)" font-size="8.5" text-anchor="middle" fill="#222">IL4R</text><ellipse cx="417.8" cy="491.1" rx="16.1" ry="7.2" fill="#f6e0e0" stroke="#3a3a3a" stroke-width="1.0"/><text transform="translate(417.8 494.1) scale(0.92 1)" font-size="8.5" text-anchor="middle" fill="#222">RIPK2</text><ellipse cx="463.0" cy="490.6" rx="18.8" ry="7.4" fill="#e69499" stroke="#3a3a3a" stroke-width="1.0"/><text transform="translate(463.0 493.6) scale(0.92 1)" font-size="8.5" text-anchor="middle" fill="#222">GPR75</text><ellipse cx="43.5" cy="514.5" rx="20.7" ry="7.2" fill="#f6e0e0" stroke="#3a3a3a" stroke-width="1.0"/><text transform="translate(43.5 517.5) scale(0.92 1)" font-size="8.5" text-anchor="middle" fill="#222">SLC23A2</text><ellipse cx="96.2" cy="515.3" rx="20.8" ry="7.6" fill="#f6e0e0" stroke="#3a3a3a" stroke-width="1.0"/><text transform="translate(96.2 518.3) scale(0.92 1)" font-size="8.5" text-anchor="middle" fill="#222">SLC2A13</text><ellipse cx="145.1" cy="513.9" rx="19.5" ry="7.8" fill="#f6e0e0" stroke="#3a3a3a" stroke-width="1.0"/><text transform="translate(145.1 516.9) scale(0.92 1)" font-size="8.5" text-anchor="middle" fill="#222">TLCD1</text><ellipse cx="188.2" cy="513.6" rx="16.0" ry="8.2" fill="#f6e0e0" stroke="#3a3a3a" stroke-width="1.0"/><text transform="translate(188.2 516.6) scale(0.92 1)" font-size="8.5" text-anchor="middle" fill="#222">VLDLR</text><ellipse cx="229.8" cy="511.9" rx="18.3" ry="7.0" fill="#f6e0e0" stroke="#3a3a3a" stroke-width="1.0"/><text transform="translate(229.8 514.9) scale(0.92 1)" font-size="8.5" text-anchor="middle" fill="#222">CD63</text><ellipse cx="272.4" cy="511.2" rx="19.6" ry="7.0" fill="#eaaaae" stroke="#3a3a3a" stroke-width="1.0"/><text transform="translate(272.4 514.2) scale(0.92 1)" font-size="8.5" text-anchor="middle" fill="#222">CTNND2</text><ellipse cx="321.9" cy="512.4" rx="21.0" ry="8.2" fill="#f6e0e0" stroke="#3a3a3a" stroke-width="1.0"/><text transform="translate(321.9 515.4) scale(0.92 1)" font-size="8.5" text-anchor="middle" fill="#222">NOTCH1</text><ellipse cx="369.3" cy="512.0" rx="20.3" ry="7.4" fill="#f6e0e0" stroke="#3a3a3a" stroke-width="1.0"/><text transform="translate(369.3 515.0) scale(0.92 1)" font-size="8.5" text-anchor="middle" fill="#222">NOTCH4</text><ellipse cx="418.0" cy="512.6" rx="19.9" ry="6.8" fill="#f6e0e0" stroke="#3a3a3a" stroke-width="1.0"/><text transform="translate(418.0 515.6) scale(0.92 1)" font-size="8.5" text-anchor="middle" fill="#222">BAMBI</text><ellipse cx="463.6" cy="512.6" rx="15.6" ry="7.3" fill="#f6e0e0" stroke="#3a3a3a" stroke-width="1.0"/><text transform="translate(463.6 515.6) scale(0.92 1)" font-size="8.5" text-anchor="middle" fill="#222">P2RY6</text><ellipse cx="42.5" cy="536.0" rx="18.9" ry="6.8" fill="#f6e0e0" stroke="#3a3a3a" stroke-width="1.0"/><text transform="translate(42.5 539.0) scale(0.92 1)" font-size="8.5" text-anchor="middle" fill="#222">SLC8A2</text><ellipse cx="95.8" cy="536.0" rx="19.3" ry="6.8" fill="#f6e0e0" stroke="#3a3a3a" stroke-width="1.0"/><text transform="translate(95.8 539.0) scale(0.92 1)" font-size="8.5" text-anchor="middle" fill="#222">SLC2A9</text><ellipse cx="142.7" cy="535.8" rx="18.7" ry="7.5" fill="#ecb2b6" stroke="#3a3a3a" stroke-width="1.0"/><text transform="translate(142.7 538.8) scale(0.92 1)" font-size="8.5" text-anchor="middle" fill="#222">SLC4A5</text><ellipse cx="187.4" cy="535.4" rx="15.9" ry="7.8" fill="#eaaaae" stroke="#3a3a3a" stroke-width="1.0"/><text transform="translate(187.4 538.4) scale(0.92 1)" font-size="8.5" text-anchor="middle" fill="#222">CUBN</text><ellipse cx="231.4" cy="534.4" rx="14.4" ry="8.0" fill="#f6e0e0" stroke="#3a3a3a" stroke-width="1.0"/><text transform="translate(231.4 537.4) scale(0.92 1)" font-size="8.5" text-anchor="middle" fill="#222">AMN</text><ellipse cx="272.6" cy="533.4" rx="17.1" ry="8.2" fill="#f6e0e0" stroke="#3a3a3a" stroke-width="1.0"/><text transform="translate(272.6 536.4) scale(0.92 1)" font-size="8.5" text-anchor="middle" fill="#222">GDE1</text><ellipse cx="315.6" cy="534.6" rx="16.4" ry="8.2" fill="#f6e0e0" stroke="#3a3a3a" stroke-width="1.0"/><text transform="translate(315.6 537.6) scale(0.92 1)" font-size="8.5" text-anchor="middle" fill="#222">TEX14</text><ellipse cx="50.6" cy="581.3" rx="22.4" ry="6.7" fill="#f6e0e0" stroke="#3a3a3a" stroke-width="1.0"/><text transform="translate(50.6 584.3) scale(0.92 1)" font-size="8.5" text-anchor="middle" fill="#222">SLC25A28</text><ellipse cx="105.0" cy="581.7" rx="21.9" ry="7.8" fill="#f6e0e0" stroke="#3a3a3a" stroke-width="1.0"/><text transform="translate(105.0 584.7) scale(0.92 1)" font-size="8.5" text-anchor="middle" fill="#222">SLC25A33</text><ellipse cx="149.3" cy="580.4" rx="16.0" ry="5.8" fill="#f6e0e0" stroke="#3a3a3a" stroke-width="1.0"/><text transform="translate(149.3 583.4) scale(0.92 1)" font-size="8.5" text-anchor="middle" fill="#222">HK2</text><ellipse cx="188.7" cy="580.8" rx="14.8" ry="7.2" fill="#f6e0e0" stroke="#3a3a3a" stroke-width="1.0"/><text transform="translate(188.7 583.8) scale(0.92 1)" font-size="8.5" text-anchor="middle" fill="#222">RND1</text><ellipse cx="234.6" cy="579.0" rx="15.2" ry="7.2" fill="#eaaaae" stroke="#3a3a3a" stroke-width="1.0"/><text transform="translate(234.6 582.0) scale(0.92 1)" font-size="8.5" text-anchor="middle" fill="#222">MAP9</text><ellipse cx="269.9" cy="579.0" rx="13.8" ry="7.2" fill="#f6e0e0" stroke="#3a3a3a" stroke-width="1.0"/><text transform="translate(269.9 582.0) scale(0.92 1)" font-size="8.5" text-anchor="middle" fill="#222">BAG2</text><ellipse cx="305.7" cy="579.1" rx="16.2" ry="8.5" fill="#f6e0e0" stroke="#3a3a3a" stroke-width="1.0"/><text transform="translate(305.7 582.1) scale(0.92 1)" font-size="8.5" text-anchor="middle" fill="#222">BAG3</text><ellipse cx="349.2" cy="576.7" rx="17.3" ry="7.8" fill="#f6e0e0" stroke="#3a3a3a" stroke-width="1.0"/><text transform="translate(349.2 579.7) scale(0.92 1)" font-size="8.5" text-anchor="middle" fill="#222">PIGH</text><ellipse cx="389.1" cy="577.0" rx="18.7" ry="6.4" fill="#f6e0e0" stroke="#3a3a3a" stroke-width="1.0"/><text transform="translate(389.1 580.0) scale(0.92 1)" font-size="8.5" text-anchor="middle" fill="#222">INPP1</text><ellipse cx="433.8" cy="577.5" rx="18.1" ry="7.7" fill="#f6e0e0" stroke="#3a3a3a" stroke-width="1.0"/><text transform="translate(433.8 580.5) scale(0.92 1)" font-size="8.5" text-anchor="middle" fill="#222">PHKA1</text><ellipse cx="484.0" cy="577.5" rx="25.1" ry="8.6" fill="#f6e0e0" stroke="#3a3a3a" stroke-width="1.0"/><text transform="translate(484.0 580.5) scale(0.92 1)" font-size="8.5" text-anchor="middle" fill="#222">PPP1R14A</text><ellipse cx="52.9" cy="604.0" rx="24.2" ry="8.3" fill="#f6e0e0" stroke="#3a3a3a" stroke-width="1.0"/><text transform="translate(52.9 607.0) scale(0.92 1)" font-size="8.5" text-anchor="middle" fill="#222">SLC25A42</text><ellipse cx="106.2" cy="603.9" rx="21.9" ry="8.3" fill="#f6e0e0" stroke="#3a3a3a" stroke-width="1.0"/><text transform="translate(106.2 606.9) scale(0.92 1)" font-size="8.5" text-anchor="middle" fill="#222">SLC37A2</text><ellipse cx="149.6" cy="601.4" rx="14.6" ry="7.4" fill="#f6e0e0" stroke="#3a3a3a" stroke-width="1.0"/><text transform="translate(149.6 604.4) scale(0.92 1)" font-size="8.5" text-anchor="middle" fill="#222">HDC</text><ellipse cx="189.4" cy="601.3" rx="16.0" ry="6.7" fill="#e58e93" stroke="#3a3a3a" stroke-width="1.0"/><text transform="translate(189.4 604.3) scale(0.92 1)" font-size="8.5" text-anchor="middle" fill="#222">TPPP</text><ellipse cx="235.5" cy="600.1" rx="19.0" ry="7.8" fill="#f6e0e0" stroke="#3a3a3a" stroke-width="1.0"/><text transform="translate(235.5 603.1) scale(0.92 1)" font-size="8.5" text-anchor="middle" fill="#222">SSH2</text><ellipse cx="277.8" cy="600.9" rx="18.7" ry="5.8" fill="#f6e0e0" stroke="#3a3a3a" stroke-width="1.0"/><text transform="translate(277.8 603.9) scale(0.92 1)" font-size="8.5" text-anchor="middle" fill="#222">HSPA1L</text><ellipse cx="320.3" cy="600.6" rx="17.1" ry="7.8" fill="#f6e0e0" stroke="#3a3a3a" stroke-width="1.0"/><text transform="translate(320.3 603.6) scale(0.92 1)" font-size="8.5" text-anchor="middle" fill="#222">HSPA2</text><ellipse cx="358.7" cy="600.0" rx="17.5" ry="8.4" fill="#f6e0e0" stroke="#3a3a3a" stroke-width="1.0"/><text transform="translate(358.7 603.0) scale(0.92 1)" font-size="8.5" text-anchor="middle" fill="#222">PLCD3</text><ellipse cx="402.8" cy="599.7" rx="19.5" ry="7.0" fill="#f6e0e0" stroke="#3a3a3a" stroke-width="1.0"/><text transform="translate(402.8 602.7) scale(0.92 1)" font-size="8.5" text-anchor="middle" fill="#222">PRKCB</text><ellipse cx="441.7" cy="597.2" rx="14.8" ry="6.8" fill="#e69499" stroke="#3a3a3a" stroke-width="1.0"/><text transform="translate(441.7 600.2) scale(0.92 1)" font-size="8.5" text-anchor="middle" fill="#222">NOS3</text><ellipse cx="487.2" cy="598.3" rx="24.8" ry="8.4" fill="#f6e0e0" stroke="#3a3a3a" stroke-width="1.0"/><text transform="translate(487.2 601.3) scale(0.92 1)" font-size="8.5" text-anchor="middle" fill="#222">PPP1R14B</text><ellipse cx="48.0" cy="626.8" rx="19.3" ry="7.6" fill="#f6e0e0" stroke="#3a3a3a" stroke-width="1.0"/><text transform="translate(48.0 629.8) scale(0.92 1)" font-size="8.5" text-anchor="middle" fill="#222">SHMT1</text><ellipse cx="88.6" cy="626.5" rx="19.0" ry="8.0" fill="#f6e0e0" stroke="#3a3a3a" stroke-width="1.0"/><text transform="translate(88.6 629.5) scale(0.92 1)" font-size="8.5" text-anchor="middle" fill="#222">GATM</text><ellipse cx="123.0" cy="623.9" rx="16.1" ry="8.2" fill="#f6e0e0" stroke="#3a3a3a" stroke-width="1.0"/><text transform="translate(123.0 626.9) scale(0.92 1)" font-size="8.5" text-anchor="middle" fill="#222">SIK1</text><ellipse cx="158.1" cy="621.3" rx="17.0" ry="6.4" fill="#e4878d" stroke="#3a3a3a" stroke-width="1.0"/><text transform="translate(158.1 624.3) scale(0.92 1)" font-size="8.5" text-anchor="middle" fill="#222">Prdx6b</text><ellipse cx="197.0" cy="620.1" rx="17.8" ry="7.6" fill="#f6e0e0" stroke="#3a3a3a" stroke-width="1.0"/><text transform="translate(197.0 623.1) scale(0.92 1)" font-size="8.5" text-anchor="middle" fill="#222">RHOF</text><ellipse cx="234.6" cy="620.1" rx="17.5" ry="7.6" fill="#f6e0e0" stroke="#3a3a3a" stroke-width="1.0"/><text transform="translate(234.6 623.1) scale(0.92 1)" font-size="8.5" text-anchor="middle" fill="#222">MAP7</text><ellipse cx="275.1" cy="620.5" rx="14.8" ry="7.2" fill="#f6e0e0" stroke="#3a3a3a" stroke-width="1.0"/><text transform="translate(275.1 623.5) scale(0.92 1)" font-size="8.5" text-anchor="middle" fill="#222">PYGM</text><ellipse cx="311.7" cy="620.0" rx="15.5" ry="6.7" fill="#f6e0e0" stroke="#3a3a3a" stroke-width="1.0"/><text transform="translate(311.7 623.0) scale(0.92 1)" font-size="8.5" text-anchor="middle" fill="#222">PIGL</text><ellipse cx="353.9" cy="620.1" rx="20.8" ry="7.6" fill="#f6e0e0" stroke="#3a3a3a" stroke-width="1.0"/><text transform="translate(353.9 623.1) scale(0.92 1)" font-size="8.5" text-anchor="middle" fill="#222">PI4K2A</text><ellipse cx="401.4" cy="618.8" rx="22.8" ry="7.8" fill="#f6e0e0" stroke="#3a3a3a" stroke-width="1.0"/><text transform="translate(401.4 621.8) scale(0.92 1)" font-size="8.5" text-anchor="middle" fill="#222">SH3KBP1</text><ellipse cx="453.1" cy="617.5" rx="24.5" ry="7.9" fill="#f6e0e0" stroke="#3a3a3a" stroke-width="1.0"/><text transform="translate(453.1 620.5) scale(0.92 1)" font-size="8.5" text-anchor="middle" fill="#222">PPP1R15A</text><ellipse cx="498.0" cy="616.3" rx="16.9" ry="7.3" fill="#f6e0e0" stroke="#3a3a3a" stroke-width="1.0"/><text transform="translate(498.0 619.3) scale(0.92 1)" font-size="8.5" text-anchor="middle" fill="#222">DVL1</text><ellipse cx="53.2" cy="646.4" rx="20.3" ry="7.8" fill="#f2d0d2" stroke="#3a3a3a" stroke-width="1.0"/><text transform="translate(53.2 649.4) scale(0.92 1)" font-size="8.5" text-anchor="middle" fill="#222">P4HTM</text><ellipse cx="99.1" cy="649.0" rx="17.9" ry="8.8" fill="#f6e0e0" stroke="#3a3a3a" stroke-width="1.0"/><text transform="translate(99.1 652.0) scale(0.92 1)" font-size="8.5" text-anchor="middle" fill="#222">ACSL4</text><ellipse cx="143.8" cy="645.5" rx="15.8" ry="7.6" fill="#e69499" stroke="#3a3a3a" stroke-width="1.0"/><text transform="translate(143.8 648.5) scale(0.92 1)" font-size="8.5" text-anchor="middle" fill="#222">LDHB</text><ellipse cx="187.5" cy="644.5" rx="20.2" ry="7.0" fill="#f6e0e0" stroke="#3a3a3a" stroke-width="1.0"/><text transform="translate(187.5 647.5) scale(0.92 1)" font-size="8.5" text-anchor="middle" fill="#222">CLASP2</text><ellipse cx="235.0" cy="643.1" rx="19.9" ry="6.8" fill="#f6e0e0" stroke="#3a3a3a" stroke-width="1.0"/><text transform="translate(235.0 646.1) scale(0.92 1)" font-size="8.5" text-anchor="middle" fill="#222">PDLIM7</text><ellipse cx="282.1" cy="643.2" rx="17.2" ry="7.2" fill="#f6e0e0" stroke="#3a3a3a" stroke-width="1.0"/><text transform="translate(282.1 646.2) scale(0.92 1)" font-size="8.5" text-anchor="middle" fill="#222">EIF2B3</text><ellipse cx="326.7" cy="639.8" rx="17.5" ry="7.0" fill="#f6e0e0" stroke="#3a3a3a" stroke-width="1.0"/><text transform="translate(326.7 642.8) scale(0.92 1)" font-size="8.5" text-anchor="middle" fill="#222">PTEN</text><ellipse cx="366.4" cy="640.2" rx="16.2" ry="7.4" fill="#eaaaae" stroke="#3a3a3a" stroke-width="1.0"/><text transform="translate(366.4 643.2) scale(0.92 1)" font-size="8.5" text-anchor="middle" fill="#222">PTGS1</text><ellipse cx="407.3" cy="638.7" rx="15.8" ry="7.0" fill="#eaaaae" stroke="#3a3a3a" stroke-width="1.0"/><text transform="translate(407.3 641.7) scale(0.92 1)" font-size="8.5" text-anchor="middle" fill="#222">PTGS2</text><ellipse cx="447.8" cy="636.9" rx="19.3" ry="7.6" fill="#f6e0e0" stroke="#3a3a3a" stroke-width="1.0"/><text transform="translate(447.8 639.9) scale(0.92 1)" font-size="8.5" text-anchor="middle" fill="#222">UBE2M</text><ellipse cx="490.8" cy="636.7" rx="17.9" ry="7.4" fill="#f6e0e0" stroke="#3a3a3a" stroke-width="1.0"/><text transform="translate(490.8 639.7) scale(0.92 1)" font-size="8.5" text-anchor="middle" fill="#222">ULK1</text><ellipse cx="52.4" cy="667.8" rx="18.3" ry="6.8" fill="#f6e0e0" stroke="#3a3a3a" stroke-width="1.0"/><text transform="translate(52.4 670.8) scale(0.92 1)" font-size="8.5" text-anchor="middle" fill="#222">ACP5</text><ellipse cx="99.3" cy="668.4" rx="16.4" ry="7.8" fill="#f6e0e0" stroke="#3a3a3a" stroke-width="1.0"/><text transform="translate(99.3 671.4) scale(0.92 1)" font-size="8.5" text-anchor="middle" fill="#222">UCP1</text><ellipse cx="140.8" cy="667.0" rx="16.4" ry="7.6" fill="#f6e0e0" stroke="#3a3a3a" stroke-width="1.0"/><text transform="translate(140.8 670.0) scale(0.92 1)" font-size="8.5" text-anchor="middle" fill="#222">GAA</text><ellipse cx="178.4" cy="665.0" rx="18.5" ry="7.6" fill="#f6e0e0" stroke="#3a3a3a" stroke-width="1.0"/><text transform="translate(178.4 668.0) scale(0.92 1)" font-size="8.5" text-anchor="middle" fill="#222">MTTP</text><ellipse cx="220.3" cy="664.4" rx="20.7" ry="8.2" fill="#eaaaae" stroke="#3a3a3a" stroke-width="1.0"/><text transform="translate(220.3 667.4) scale(0.92 1)" font-size="8.5" text-anchor="middle" fill="#222">PXYLP1</text><ellipse cx="263.6" cy="661.9" rx="13.8" ry="7.2" fill="#f2d0d2" stroke="#3a3a3a" stroke-width="1.0"/><text transform="translate(263.6 664.9) scale(0.92 1)" font-size="8.5" text-anchor="middle" fill="#222">INTU</text><ellipse cx="312.6" cy="662.3" rx="27.4" ry="7.2" fill="#f6e0e0" stroke="#3a3a3a" stroke-width="1.0"/><text transform="translate(312.6 665.3) scale(0.92 1)" font-size="8.5" text-anchor="middle" fill="#222">ARHGAP28</text><ellipse cx="368.4" cy="662.0" rx="22.5" ry="8.2" fill="#eaaaae" stroke="#3a3a3a" stroke-width="1.0"/><text transform="translate(368.4 665.0) scale(0.92 1)" font-size="8.5" text-anchor="middle" fill="#222">SEPTIN4</text><ellipse cx="417.8" cy="660.7" rx="20.8" ry="6.1" fill="#f6e0e0" stroke="#3a3a3a" stroke-width="1.0"/><text transform="translate(417.8 663.7) scale(0.92 1)" font-size="8.5" text-anchor="middle" fill="#222">RNF125</text><ellipse cx="461.2" cy="658.5" rx="14.7" ry="7.0" fill="#f6e0e0" stroke="#3a3a3a" stroke-width="1.0"/><text transform="translate(461.2 661.5) scale(0.92 1)" font-size="8.5" text-anchor="middle" fill="#222">BCL2</text><ellipse cx="498.2" cy="657.1" rx="12.9" ry="6.8" fill="#f2d0d2" stroke="#3a3a3a" stroke-width="1.0"/><text transform="translate(498.2 660.1) scale(0.92 1)" font-size="8.5" text-anchor="middle" fill="#222">TXK</text><ellipse cx="117.2" cy="709.0" rx="18.2" ry="6.7" fill="#f6e0e0" stroke="#3a3a3a" stroke-width="1.0"/><text transform="translate(117.2 712.0) scale(0.92 1)" font-size="8.5" text-anchor="middle" fill="#222">RDH10</text><ellipse cx="156.2" cy="710.0" rx="17.8" ry="7.7" fill="#e38186" stroke="#3a3a3a" stroke-width="1.0"/><text transform="translate(156.2 713.0) scale(0.92 1)" font-size="8.5" text-anchor="middle" fill="#222">WWTR1</text><ellipse cx="195.7" cy="711.9" rx="15.6" ry="6.7" fill="#e69499" stroke="#3a3a3a" stroke-width="1.0"/><text transform="translate(195.7 714.9) scale(0.92 1)" font-size="8.5" text-anchor="middle" fill="#222">BCL6B</text><ellipse cx="237.6" cy="711.3" rx="17.5" ry="7.3" fill="#f6e0e0" stroke="#3a3a3a" stroke-width="1.0"/><text transform="translate(237.6 714.3) scale(0.92 1)" font-size="8.5" text-anchor="middle" fill="#222">LEMD3</text><ellipse cx="274.7" cy="712.2" rx="15.5" ry="7.0" fill="#f6e0e0" stroke="#3a3a3a" stroke-width="1.0"/><text transform="translate(274.7 715.2) scale(0.92 1)" font-size="8.5" text-anchor="middle" fill="#222">E2F3</text><ellipse cx="312.2" cy="711.2" rx="15.4" ry="7.2" fill="#f6e0e0" stroke="#3a3a3a" stroke-width="1.0"/><text transform="translate(312.2 714.2) scale(0.92 1)" font-size="8.5" text-anchor="middle" fill="#222">FOS</text><ellipse cx="346.3" cy="710.8" rx="14.7" ry="6.8" fill="#f6e0e0" stroke="#3a3a3a" stroke-width="1.0"/><text transform="translate(346.3 713.8) scale(0.92 1)" font-size="8.5" text-anchor="middle" fill="#222">BIN1</text><ellipse cx="386.2" cy="709.6" rx="18.0" ry="8.4" fill="#f6e0e0" stroke="#3a3a3a" stroke-width="1.0"/><text transform="translate(386.2 712.6) scale(0.92 1)" font-size="8.5" text-anchor="middle" fill="#222">NUP98</text><ellipse cx="430.6" cy="708.0" rx="18.7" ry="5.8" fill="#f2d0d2" stroke="#3a3a3a" stroke-width="1.0"/><text transform="translate(430.6 711.0) scale(0.92 1)" font-size="8.5" text-anchor="middle" fill="#222">DUSP8</text><ellipse cx="122.0" cy="730.5" rx="15.8" ry="6.9" fill="#f6e0e0" stroke="#3a3a3a" stroke-width="1.0"/><text transform="translate(122.0 733.5) scale(0.92 1)" font-size="8.5" text-anchor="middle" fill="#222">PPARD</text><ellipse cx="167.9" cy="732.1" rx="23.1" ry="7.6" fill="#f6e0e0" stroke="#3a3a3a" stroke-width="1.0"/><text transform="translate(167.9 735.1) scale(0.92 1)" font-size="8.5" text-anchor="middle" fill="#222">NDUFAF3</text><ellipse cx="227.4" cy="730.9" rx="21.9" ry="5.8" fill="#f6e0e0" stroke="#3a3a3a" stroke-width="1.0"/><text transform="translate(227.4 733.9) scale(0.92 1)" font-size="8.5" text-anchor="middle" fill="#222">DNAJB1</text><ellipse cx="274.5" cy="730.9" rx="15.8" ry="7.0" fill="#f6e0e0" stroke="#3a3a3a" stroke-width="1.0"/><text transform="translate(274.5 733.9) scale(0.92 1)" font-size="8.5" text-anchor="middle" fill="#222">ATF3</text><ellipse cx="315.1" cy="728.9" rx="15.5" ry="6.7" fill="#f6e0e0" stroke="#3a3a3a" stroke-width="1.0"/><text transform="translate(315.1 731.9) scale(0.92 1)" font-size="8.5" text-anchor="middle" fill="#222">JUN</text><ellipse cx="351.9" cy="729.7" rx="13.8" ry="7.0" fill="#f6e0e0" stroke="#3a3a3a" stroke-width="1.0"/><text transform="translate(351.9 732.7) scale(0.92 1)" font-size="8.5" text-anchor="middle" fill="#222">LPP</text><ellipse cx="392.7" cy="730.3" rx="19.3" ry="7.6" fill="#f6e0e0" stroke="#3a3a3a" stroke-width="1.0"/><text transform="translate(392.7 733.3) scale(0.92 1)" font-size="8.5" text-anchor="middle" fill="#222">SMAD7</text><ellipse cx="437.4" cy="727.3" rx="21.3" ry="8.2" fill="#f6e0e0" stroke="#3a3a3a" stroke-width="1.0"/><text transform="translate(437.4 730.3) scale(0.92 1)" font-size="8.5" text-anchor="middle" fill="#222">DUSP16</text><text x="288.8" y="50.3" font-size="11.6">Extracellular space</text><text x="288.9" y="103.1" font-size="11.6">Plasma membrane</text><text x="288.9" y="175.3" font-size="11.6">Cytoplasm</text><text x="288.9" y="250.5" font-size="11.6">Nucleus</text><text x="27.6" y="370.5" font-size="11.6">Extracellular space</text><text x="27.0" y="433.8" font-size="11.6">Plasma membrane</text><text x="25.2" y="565.2" font-size="11.6">Cytoplasm</text><text x="24.6" y="700.5" font-size="11.6">Nucleus</text><text x="539.6" y="370.6" font-size="11.6">Other</text><rect x="592.2" y="74.0" width="60.3" height="11.6" fill="#fff" stroke="#444" stroke-width="1"/><text x="622.4" y="83.6" font-size="11.8" text-anchor="middle">Cell death</text><rect x="612.6" y="122.2" width="55.9" height="27.9" fill="#fff" stroke="#444" stroke-width="1"/><text x="640.5" y="133.2" font-size="11.8" text-anchor="middle">Collagen</text><text x="640.5" y="146.8" font-size="11.8" text-anchor="middle">synthesis</text><rect x="583.5" y="175.6" width="100.5" height="28.8" fill="#fff" stroke="#444" stroke-width="1"/><text x="633.8" y="187.0" font-size="11.8" text-anchor="middle">Plexin/semaphorin</text><text x="633.8" y="200.6" font-size="11.8" text-anchor="middle">signaling</text><rect x="594.5" y="253.6" width="89.4" height="28.5" fill="#fff" stroke="#444" stroke-width="1"/><text x="639.2" y="264.9" font-size="11.8" text-anchor="middle">Lipid/cholesterol</text><text x="639.2" y="278.5" font-size="11.8" text-anchor="middle">biosynthesis</text><rect x="576.6" y="438.1" width="101.9" height="16.1" fill="#fff" stroke="#444" stroke-width="1"/><text x="627.5" y="450.0" font-size="11.8" text-anchor="middle">Cytokine signaling</text><rect x="575.4" y="510.3" width="95.1" height="29.7" fill="#fff" stroke="#444" stroke-width="1"/><text x="623.0" y="522.2" font-size="11.8" text-anchor="middle">Phosphoinositide</text><text x="623.0" y="535.8" font-size="11.8" text-anchor="middle">signaling</text><rect x="576.6" y="606.6" width="78.3" height="32.0" fill="#fff" stroke="#444" stroke-width="1"/><text x="615.8" y="619.6" font-size="11.8" text-anchor="middle">Cytoskeleton</text><text x="615.8" y="633.2" font-size="11.8" text-anchor="middle">organisation</text><rect x="576.6" y="695.2" width="71.1" height="16.4" fill="#fff" stroke="#444" stroke-width="1"/><text x="612.2" y="707.2" font-size="11.8" text-anchor="middle">Metabolism</text><text x="278" y="10.2" font-size="13">B</text><text x="431.7" y="16.8" font-size="11.6" text-anchor="middle">cDC1 - BimS</text><text x="431.7" y="31" font-size="11.6" text-anchor="middle">Module 2 + 4</text><text x="1" y="328" font-size="13">C</text><text x="268.6" y="331.7" font-size="11.6" text-anchor="middle">cDC1 - RIPK3</text><text x="268.6" y="346.0" font-size="11.6" text-anchor="middle">Module 5 + 7</text><text x="0.0" y="772.6" font-size="13">D</text><text x="141.9" y="778.2" font-size="11.75" text-anchor="middle">Homeostatically matured cDC1</text><text x="140.7" y="791.6" font-size="11.75" text-anchor="middle">(Bulk RNA-seq, Bosteels <tspan font-style="italic">et al.</tspan>, 2023)</text><path d="M84.1 806V884" stroke="#ececec" stroke-width="0.8"/><path d="M118.7 806V884" stroke="#ececec" stroke-width="0.8"/><path d="M153.3 806V884" stroke="#ececec" stroke-width="0.8"/><path d="M187.9 806V884" stroke="#ececec" stroke-width="0.8"/><path d="M222.5 806V884" stroke="#ececec" stroke-width="0.8"/><path d="M48.7 870.0H235.6" stroke="#8a8a8a" stroke-width="1.1"/><path d="M48.7 806.5V911" stroke="#444" stroke-width="0.9"/><path d="M46.2 818.0H48.7" stroke="#444" stroke-width="0.9"/><text x="45.2" y="821.3" font-size="11.6" text-anchor="end" fill="#222">0.4</text><path d="M46.2 831.0H48.7" stroke="#444" stroke-width="0.9"/><text x="45.2" y="834.3" font-size="11.6" text-anchor="end" fill="#222">0.3</text><path d="M46.2 844.0H48.7" stroke="#444" stroke-width="0.9"/><text x="45.2" y="847.3" font-size="11.6" text-anchor="end" fill="#222">0.2</text><path d="M46.2 857.0H48.7" stroke="#444" stroke-width="0.9"/><text x="45.2" y="860.3" font-size="11.6" text-anchor="end" fill="#222">0.1</text><path d="M46.2 870.0H48.7" stroke="#444" stroke-width="0.9"/><text x="45.2" y="873.3" font-size="11.6" text-anchor="end" fill="#222">0.0</text><path d="M46.2 883.0H48.7" stroke="#444" stroke-width="0.9"/><text x="45.2" y="886.3" font-size="11.6" text-anchor="end" fill="#222">−0.1</text><path d="M48.9 870.3 L49.1 868.5 L49.1 866.5 L50.1 857.4 L50.1 855.4 L51.6 855.8 L51.6 853.8 L56.4 851.0 L56.4 849.0 L61.4 849.5 L61.4 847.5 L62.1 841.9 L62.1 839.9 L62.8 835.4 L62.8 833.4 L65.4 833.1 L65.4 831.1 L66.6 830.2 L66.6 828.2 L69.5 831.1 L69.5 829.1 L71.0 829.3 L71.0 827.3 L72.4 828.2 L72.4 826.2 L75.4 824.6 L75.4 822.6 L76.2 822.4 L76.2 820.4 L77.0 820.5 L77.0 818.5 L77.8 818.6 L77.8 816.6 L78.6 817.0 L78.6 815.0 L79.4 816.8 L79.4 814.8 L80.0 816.6 L80.0 814.6 L81.5 816.3 L81.5 814.3 L84.4 813.3 L84.4 811.3 L90.3 814.4 L90.3 812.4 L94.3 815.5 L94.3 813.5 L97.8 816.6 L97.8 814.6 L99.0 816.4 L99.0 814.4 L101.2 815.6 L101.2 813.6 L120.9 828.9 L120.9 826.9 L128.5 832.7 L128.5 830.7 L133.3 835.3 L133.3 833.3 L136.2 836.9 L136.2 834.9 L137.7 837.7 L137.7 835.7 L139.2 838.5 L139.2 836.5 L140.6 839.3 L140.6 837.3 L141.5 839.7 L141.5 837.7 L142.5 840.3 L142.5 838.3 L143.6 840.9 L143.6 838.9 L144.0 841.1 L144.0 839.1 L145.8 842.3 L145.8 840.3 L150.2 845.3 L150.2 843.3 L153.9 847.8 L153.9 845.8 L169.2 858.0 L169.2 856.0 L171.4 859.3 L171.4 857.3 L178.7 863.5 L178.7 861.5 L186.4 867.8 L186.4 865.8 L190.4 868.6 L190.4 866.6 L191.5 868.8 L191.5 866.8 L192.6 869.0 L192.6 867.0 L210.0 880.6 L210.0 878.6 L211.5 879.5 L211.5 877.5 L213.0 877.0 L213.0 875.0 L214.5 876.2 L214.5 874.2 L216.6 875.5 L216.6 873.5 L221.0 877.6 L221.0 875.6 L226.3 877.8 L226.3 875.8 L230.5 876.8 L230.5 874.8 L232.5 873.9 L232.5 871.9 L234.3 869.0" stroke="#a52a25" stroke-width="1.3" fill="none" stroke-linejoin="round"/><text x="153.4" y="821.2" font-size="11.6">NES = 1.59</text><text x="153.4" y="835.6" font-size="11.6">q value = 0.031</text><path d="M49.1 885.2V902.2" stroke="#222" stroke-width="0.7"/><path d="M50.1 885.2V902.2" stroke="#222" stroke-width="0.7"/><path d="M51.6 885.2V902.2" stroke="#222" stroke-width="0.7"/><path d="M56.4 885.2V902.2" stroke="#222" stroke-width="0.7"/><path d="M61.4 885.2V902.2" stroke="#222" stroke-width="0.7"/><path d="M62.1 885.2V902.2" stroke="#222" stroke-width="0.7"/><path d="M62.8 885.2V902.2" stroke="#222" stroke-width="0.7"/><path d="M65.4 885.2V902.2" stroke="#222" stroke-width="0.7"/><path d="M66.6 885.2V902.2" stroke="#222" stroke-width="0.7"/><path d="M69.5 885.2V902.2" stroke="#222" stroke-width="0.7"/><path d="M71.0 885.2V902.2" stroke="#222" stroke-width="0.7"/><path d="M72.4 885.2V902.2" stroke="#222" stroke-width="0.7"/><path d="M75.4 885.2V902.2" stroke="#222" stroke-width="0.7"/><path d="M76.2 885.2V902.2" stroke="#222" stroke-width="0.7"/><path d="M77.0 885.2V902.2" stroke="#222" stroke-width="0.7"/><path d="M77.8 885.2V902.2" stroke="#222" stroke-width="0.7"/><path d="M78.6 885.2V902.2" stroke="#222" stroke-width="0.7"/><path d="M79.4 885.2V902.2" stroke="#222" stroke-width="0.7"/><path d="M80.0 885.2V902.2" stroke="#222" stroke-width="0.7"/><path d="M81.5 885.2V902.2" stroke="#222" stroke-width="0.7"/><path d="M84.4 885.2V902.2" stroke="#222" stroke-width="0.7"/><path d="M90.3 885.2V902.2" stroke="#222" stroke-width="0.7"/><path d="M94.3 885.2V902.2" stroke="#222" stroke-width="0.7"/><path d="M97.8 885.2V902.2" stroke="#222" stroke-width="0.7"/><path d="M99.0 885.2V902.2" stroke="#222" stroke-width="0.7"/><path d="M101.2 885.2V902.2" stroke="#222" stroke-width="0.7"/><path d="M128.5 885.2V902.2" stroke="#222" stroke-width="0.7"/><path d="M133.3 885.2V902.2" stroke="#222" stroke-width="0.7"/><path d="M136.2 885.2V902.2" stroke="#222" stroke-width="0.7"/><path d="M137.7 885.2V902.2" stroke="#222" stroke-width="0.7"/><path d="M139.2 885.2V902.2" stroke="#222" stroke-width="0.7"/><path d="M140.6 885.2V902.2" stroke="#222" stroke-width="0.7"/><path d="M142.5 885.2V902.2" stroke="#222" stroke-width="0.7"/><path d="M144.0 885.2V902.2" stroke="#222" stroke-width="0.7"/><path d="M145.8 885.2V902.2" stroke="#222" stroke-width="0.7"/><path d="M150.2 885.2V902.2" stroke="#222" stroke-width="0.7"/><path d="M153.9 885.2V902.2" stroke="#222" stroke-width="0.7"/><path d="M169.2 885.2V902.2" stroke="#222" stroke-width="0.7"/><path d="M171.4 885.2V902.2" stroke="#222" stroke-width="0.7"/><path d="M178.7 885.2V902.2" stroke="#222" stroke-width="0.7"/><path d="M186.4 885.2V902.2" stroke="#222" stroke-width="0.7"/><path d="M190.4 885.2V902.2" stroke="#222" stroke-width="0.7"/><path d="M191.5 885.2V902.2" stroke="#222" stroke-width="0.7"/><path d="M192.6 885.2V902.2" stroke="#222" stroke-width="0.7"/><path d="M210.0 885.2V902.2" stroke="#222" stroke-width="0.7"/><path d="M211.5 885.2V902.2" stroke="#222" stroke-width="0.7"/><path d="M213.0 885.2V902.2" stroke="#222" stroke-width="0.7"/><path d="M214.5 885.2V902.2" stroke="#222" stroke-width="0.7"/><path d="M216.6 885.2V902.2" stroke="#222" stroke-width="0.7"/><path d="M221.0 885.2V902.2" stroke="#222" stroke-width="0.7"/><path d="M226.3 885.2V902.2" stroke="#222" stroke-width="0.7"/><path d="M230.5 885.2V902.2" stroke="#222" stroke-width="0.7"/><path d="M232.5 885.2V902.2" stroke="#222" stroke-width="0.7"/><path d="M234.6 885.2V902.2" stroke="#222" stroke-width="0.7"/><path d="M120.9 885.2V902.2" stroke="#999" stroke-width="0.7"/><path d="M141.5 885.2V902.2" stroke="#777" stroke-width="0.7"/><path d="M143.6 885.2V902.2" stroke="#555" stroke-width="0.7"/><rect x="48.7" y="902.8" width="22.8" height="8" fill="#dc4232"/><rect x="71.5" y="902.8" width="40.0" height="8" fill="#e4705a"/><rect x="111.5" y="902.8" width="32.9" height="8" fill="#eeb09c"/><rect x="144.4" y="902.8" width="38.4" height="8" fill="#f5e2d8"/><rect x="182.8" y="902.8" width="17.2" height="8" fill="#eef0f5"/><rect x="200.0" y="902.8" width="8.5" height="8" fill="#c6dcec"/><rect x="208.5" y="902.8" width="13.0" height="8" fill="#80b2da"/><rect x="221.5" y="902.8" width="14.1" height="8" fill="#4f8bc7"/><text x="48.7" y="924" font-size="11.6">cDC1 - BimS</text><text x="235.6" y="924" font-size="11.6" text-anchor="end">cDC1 - RIPK3</text><text x="246.0" y="772.6" font-size="13">E</text><text x="365.3" y="778.2" font-size="11.75" text-anchor="middle">Early mature cDC1</text><text x="363.8" y="791.6" font-size="11.75" text-anchor="middle">(CITE-seq, Bosteels <tspan font-style="italic">et al.</tspan>, 2023)</text><path d="M306.2 806V884" stroke="#ececec" stroke-width="0.8"/><path d="M341.6 806V884" stroke="#ececec" stroke-width="0.8"/><path d="M376.6 806V884" stroke="#ececec" stroke-width="0.8"/><path d="M411.7 806V884" stroke="#ececec" stroke-width="0.8"/><path d="M446.7 806V884" stroke="#ececec" stroke-width="0.8"/><path d="M271.5 872.5H460.0" stroke="#555" stroke-width="0.8"/><path d="M271.5 806.5V911" stroke="#444" stroke-width="0.9"/><path d="M269.0 811.2H271.5" stroke="#444" stroke-width="0.9"/><text x="268.0" y="814.5" font-size="11.6" text-anchor="end" fill="#222">0.6</text><path d="M269.0 831.5H271.5" stroke="#444" stroke-width="0.9"/><text x="268.0" y="834.8" font-size="11.6" text-anchor="end" fill="#222">0.4</text><path d="M269.0 851.8H271.5" stroke="#444" stroke-width="0.9"/><text x="268.0" y="855.1" font-size="11.6" text-anchor="end" fill="#222">0.2</text><path d="M269.0 872.1H271.5" stroke="#444" stroke-width="0.9"/><text x="268.0" y="875.4" font-size="11.6" text-anchor="end" fill="#222">0.0</text><path d="M271.9 872.1 L272.1 867.5 L272.1 865.5 L273.1 848.8 L273.1 846.8 L274.1 839.9 L274.1 837.9 L275.3 834.7 L275.3 832.7 L276.5 833.2 L276.5 831.2 L277.9 830.6 L277.9 828.6 L279.4 827.5 L279.4 825.5 L281.4 823.2 L281.4 821.2 L284.4 822.3 L284.4 820.3 L285.5 819.8 L285.5 817.8 L287.3 815.3 L287.3 813.3 L288.4 813.2 L288.4 811.2 L293.5 813.3 L293.5 811.3 L303.3 818.3 L303.3 816.3 L307.1 818.2 L307.1 816.2 L310.3 817.2 L310.3 815.2 L312.5 817.0 L312.5 815.0 L316.5 818.6 L316.5 816.6 L320.3 817.4 L320.3 815.4 L326.7 819.4 L326.7 817.4 L341.7 826.2 L341.7 824.2 L348.3 828.7 L348.3 826.7 L351.5 830.0 L351.5 828.0 L360.7 834.6 L360.7 832.6 L367.8 838.2 L367.8 836.2 L371.0 839.9 L371.0 837.9 L402.9 856.5 L402.9 854.5 L409.0 859.3 L409.0 857.3 L429.9 869.1 L429.9 867.1 L430.6 868.8 L430.6 866.8 L431.3 869.2 L431.3 867.2 L439.4 872.7 L439.4 870.7 L456.6 879.6 L456.6 877.6 L459.1 875.1 L459.1 873.1 L459.5 872.1" stroke="#a52a25" stroke-width="1.3" fill="none" stroke-linejoin="round"/><text x="376.6" y="821.2" font-size="11.6">NES = 2.03</text><text x="376.6" y="835.6" font-size="11.6">q value = 0.001</text><path d="M272.1 885.2V902.2" stroke="#222" stroke-width="0.7"/><path d="M273.1 885.2V902.2" stroke="#222" stroke-width="0.7"/><path d="M274.1 885.2V902.2" stroke="#222" stroke-width="0.7"/><path d="M275.3 885.2V902.2" stroke="#222" stroke-width="0.7"/><path d="M276.5 885.2V902.2" stroke="#222" stroke-width="0.7"/><path d="M277.9 885.2V902.2" stroke="#222" stroke-width="0.7"/><path d="M279.4 885.2V902.2" stroke="#222" stroke-width="0.7"/><path d="M281.4 885.2V902.2" stroke="#222" stroke-width="0.7"/><path d="M284.4 885.2V902.2" stroke="#222" stroke-width="0.7"/><path d="M285.5 885.2V902.2" stroke="#222" stroke-width="0.7"/><path d="M287.3 885.2V902.2" stroke="#222" stroke-width="0.7"/><path d="M288.4 885.2V902.2" stroke="#222" stroke-width="0.7"/><path d="M293.5 885.2V902.2" stroke="#222" stroke-width="0.7"/><path d="M303.3 885.2V902.2" stroke="#222" stroke-width="0.7"/><path d="M307.1 885.2V902.2" stroke="#222" stroke-width="0.7"/><path d="M310.3 885.2V902.2" stroke="#222" stroke-width="0.7"/><path d="M312.5 885.2V902.2" stroke="#222" stroke-width="0.7"/><path d="M316.5 885.2V902.2" stroke="#222" stroke-width="0.7"/><path d="M320.3 885.2V902.2" stroke="#222" stroke-width="0.7"/><path d="M326.7 885.2V902.2" stroke="#222" stroke-width="0.7"/><path d="M341.7 885.2V902.2" stroke="#222" stroke-width="0.7"/><path d="M348.3 885.2V902.2" stroke="#222" stroke-width="0.7"/><path d="M351.5 885.2V902.2" stroke="#222" stroke-width="0.7"/><path d="M360.7 885.2V902.2" stroke="#222" stroke-width="0.7"/><path d="M367.8 885.2V902.2" stroke="#222" stroke-width="0.7"/><path d="M371.0 885.2V902.2" stroke="#222" stroke-width="0.7"/><path d="M402.9 885.2V902.2" stroke="#222" stroke-width="0.7"/><path d="M409.0 885.2V902.2" stroke="#222" stroke-width="0.7"/><path d="M429.9 885.2V902.2" stroke="#222" stroke-width="0.7"/><path d="M430.6 885.2V902.2" stroke="#222" stroke-width="0.7"/><path d="M431.3 885.2V902.2" stroke="#222" stroke-width="0.7"/><path d="M439.4 885.2V902.2" stroke="#222" stroke-width="0.7"/><path d="M456.6 885.2V902.2" stroke="#222" stroke-width="0.7"/><path d="M459.1 885.2V902.2" stroke="#222" stroke-width="0.7"/><rect x="271.5" y="902.8" width="50.3" height="8" fill="#dc4232"/><rect x="321.8" y="902.8" width="58.0" height="8" fill="#e4705a"/><rect x="379.8" y="902.8" width="30.4" height="8" fill="#eeb09c"/><rect x="410.2" y="902.8" width="13.8" height="8" fill="#f5e2d8"/><rect x="424.0" y="902.8" width="19.0" height="8" fill="#eef0f5"/><rect x="443.0" y="902.8" width="6.9" height="8" fill="#c6dcec"/><rect x="449.9" y="902.8" width="6.3" height="8" fill="#80b2da"/><rect x="456.2" y="902.8" width="3.8" height="8" fill="#4f8bc7"/><text x="271.5" y="924" font-size="11.6">cDC1 - BimS</text><text x="460.0" y="924" font-size="11.6" text-anchor="end">cDC1 - RIPK3</text><text x="469.0" y="772.6" font-size="13">F</text><text x="587.6" y="778.2" font-size="11.75" text-anchor="middle">Poly(I:C)-matured cDC1</text><text x="585.5" y="791.6" font-size="11.75" text-anchor="middle">(Bulk RNA-seq, Ardouin <tspan font-style="italic">et al.</tspan>, 2016)</text><path d="M529.6 806V884" stroke="#ececec" stroke-width="0.8"/><path d="M563.8 806V884" stroke="#ececec" stroke-width="0.8"/><path d="M597.8 806V884" stroke="#ececec" stroke-width="0.8"/><path d="M631.8 806V884" stroke="#ececec" stroke-width="0.8"/><path d="M665.7 806V884" stroke="#ececec" stroke-width="0.8"/><path d="M495.6 857.5H677.8" stroke="#555" stroke-width="0.8"/><path d="M495.6 806.5V911" stroke="#444" stroke-width="0.9"/><path d="M493.1 819.0H495.6" stroke="#444" stroke-width="0.9"/><text x="492.1" y="822.3" font-size="11.6" text-anchor="end" fill="#222">0.2</text><path d="M493.1 838.1H495.6" stroke="#444" stroke-width="0.9"/><text x="492.1" y="841.4" font-size="11.6" text-anchor="end" fill="#222">0.1</text><path d="M493.1 857.3H495.6" stroke="#444" stroke-width="0.9"/><text x="492.1" y="860.6" font-size="11.6" text-anchor="end" fill="#222">0.0</text><path d="M493.1 876.4H495.6" stroke="#444" stroke-width="0.9"/><text x="492.1" y="879.7" font-size="11.6" text-anchor="end" fill="#222">−0.1</text><path d="M495.9 857.2 L496.1 856.8 L496.2 855.8 L496.5 854.1 L496.7 852.9 L497.0 851.4 L497.3 850.3 L497.7 848.8 L498.0 847.8 L498.4 845.8 L498.9 845.4 L499.4 843.7 L499.9 842.6 L500.5 841.1 L501.0 839.9 L501.5 838.9 L502.1 837.8 L502.6 836.3 L503.2 835.3 L503.8 834.4 L504.4 832.8 L505.0 831.4 L505.5 830.8 L506.0 829.4 L506.6 827.9 L507.1 826.9 L507.7 825.8 L508.3 824.5 L508.8 823.4 L509.4 823.0 L510.5 822.1 L511.5 821.3 L512.6 820.7 L513.8 820.5 L515.1 819.9 L516.5 818.9 L517.8 818.5 L519.0 818.1 L520.9 817.5 L522.5 816.8 L523.2 816.1 L523.7 814.8 L524.3 813.7 L525.2 812.2 L526.4 812.0 L527.7 811.9 L529.3 811.8 L531.0 812.0 L532.2 811.8 L533.5 811.0 L534.9 811.1 L536.3 810.4 L537.7 809.8 L538.9 809.4 L540.0 809.2 L541.8 808.4 L543.0 809.0 L544.5 809.5 L545.6 809.3 L546.9 810.4 L548.1 811.0 L549.4 811.9 L550.6 812.1 L552.0 812.5 L553.3 812.8 L554.6 812.7 L556.0 813.5 L557.1 814.0 L558.3 814.9 L559.6 815.5 L560.8 816.7 L561.9 817.4 L562.9 817.8 L564.3 818.4 L565.4 818.7 L566.4 819.1 L567.1 818.8 L567.8 820.1 L568.6 820.9 L570.0 821.9 L570.7 822.2 L571.6 823.4 L572.5 823.5 L573.5 824.7 L574.6 825.6 L575.7 825.7 L576.8 826.8 L577.9 827.4 L579.0 828.6 L580.0 829.8 L580.9 830.7 L581.8 830.5 L582.7 831.6 L583.7 832.8 L584.6 833.8 L585.5 834.4 L586.4 834.9 L587.3 836.1 L588.3 836.8 L589.2 837.7 L590.1 838.4 L591.0 839.6 L591.9 840.5 L592.9 841.3 L593.8 842.2 L594.7 842.9 L595.6 844.0 L596.5 845.3 L597.4 845.9 L598.4 846.5 L599.3 848.1 L600.2 848.8 L601.1 850.1 L602.0 850.5 L603.0 851.2 L603.9 851.9 L604.8 853.5 L605.7 854.6 L606.6 854.6 L607.5 855.5 L608.5 856.6 L609.4 857.0 L610.3 857.9 L611.3 858.7 L612.3 859.6 L613.4 860.6 L614.4 861.0 L615.5 861.9 L616.5 862.2 L617.5 863.0 L618.5 863.0 L619.5 863.8 L620.4 864.9 L621.7 865.3 L622.9 866.2 L624.1 866.8 L625.3 867.6 L626.5 868.0 L627.6 868.6 L628.8 868.9 L630.0 869.3 L631.2 869.9 L632.4 870.6 L633.5 871.0 L634.7 871.8 L635.9 872.5 L637.1 873.2 L638.3 873.6 L639.4 873.9 L640.6 875.0 L641.8 875.7 L643.0 876.6 L644.2 877.0 L645.5 877.1 L646.7 877.5 L647.9 878.5 L649.2 878.5 L650.6 879.0 L651.9 879.3 L653.2 878.7 L654.4 879.0 L655.6 879.0 L656.9 878.9 L658.1 878.5 L659.3 878.1 L660.5 877.6 L661.6 876.6 L662.8 876.3 L664.0 875.4 L665.1 875.0 L666.2 874.0 L667.3 873.5 L668.5 872.6 L669.6 871.6 L670.6 870.7 L671.6 869.7 L672.4 868.8 L673.4 867.8 L674.2 866.7 L675.0 865.9 L675.6 864.9 L676.1 864.1 L676.6 863.0 L677.1 861.6 L677.3 860.1 L677.3 858.9 L677.4 858.0" stroke="#a52a25" stroke-width="1.3" fill="none" stroke-linejoin="round"/><text x="597.7" y="821.2" font-size="11.6">NES = 0.809</text><text x="597.7" y="835.6" font-size="11.6">q value = 0.124</text><rect x="496.1" y="884.3" width="181.7" height="18.3" fill="#050505"/><path d="M513.4 884.3V902.6" stroke="#bbb" stroke-width="0.6"/><path d="M520.7 884.3V902.6" stroke="#444" stroke-width="0.6"/><path d="M525.0 884.3V902.6" stroke="#444" stroke-width="0.6"/><path d="M545.5 884.3V902.6" stroke="#333" stroke-width="0.6"/><path d="M549.9 884.3V902.6" stroke="#333" stroke-width="0.6"/><path d="M557.9 884.3V902.6" stroke="#333" stroke-width="0.6"/><path d="M560.8 884.3V902.6" stroke="#333" stroke-width="0.6"/><path d="M568.8 884.3V902.6" stroke="#999" stroke-width="0.6"/><path d="M572.5 884.3V902.6" stroke="#444" stroke-width="0.6"/><path d="M577.6 884.3V902.6" stroke="#444" stroke-width="0.6"/><path d="M580.5 884.3V902.6" stroke="#444" stroke-width="0.6"/><path d="M584.2 884.3V902.6" stroke="#555" stroke-width="0.6"/><path d="M585.6 884.3V902.6" stroke="#444" stroke-width="0.6"/><path d="M591.6 884.3V902.6" stroke="#555" stroke-width="0.6"/><path d="M597.8 884.3V902.6" stroke="#555" stroke-width="0.6"/><path d="M611.6 884.3V902.6" stroke="#555" stroke-width="0.6"/><path d="M614.9 884.3V902.6" stroke="#444" stroke-width="0.6"/><path d="M622.7 884.3V902.6" stroke="#555" stroke-width="0.6"/><path d="M633.2 884.3V902.6" stroke="#888" stroke-width="0.6"/><path d="M639.3 884.3V902.6" stroke="#444" stroke-width="0.6"/><path d="M644.9 884.3V902.6" stroke="#444" stroke-width="0.6"/><path d="M651.4 884.3V902.6" stroke="#666" stroke-width="0.6"/><path d="M655.8 884.3V902.6" stroke="#444" stroke-width="0.6"/><path d="M669.7 884.3V902.6" stroke="#444" stroke-width="0.6"/><rect x="495.6" y="902.8" width="24.3" height="8" fill="#cb3a2e"/><rect x="519.9" y="902.8" width="26.3" height="8" fill="#d86a56"/><rect x="546.2" y="902.8" width="21.2" height="8" fill="#dba294"/><rect x="567.4" y="902.8" width="23.4" height="8" fill="#e0cbc5"/><rect x="590.8" y="902.8" width="23.4" height="8" fill="#d8d8de"/><rect x="614.2" y="902.8" width="23.4" height="8" fill="#aec5d4"/><rect x="637.6" y="902.8" width="20.4" height="8" fill="#6fa3c9"/><rect x="658.0" y="902.8" width="19.8" height="8" fill="#4a7fb6"/><text x="495.6" y="924" font-size="11.6">cDC1 - BimS</text><text x="677.8" y="924" font-size="11.6" text-anchor="end">cDC1 - RIPK3</text><text transform="translate(18.8 847) rotate(-90)" font-size="11.6" text-anchor="middle">Enrichment Score</text></svg></body></html>
